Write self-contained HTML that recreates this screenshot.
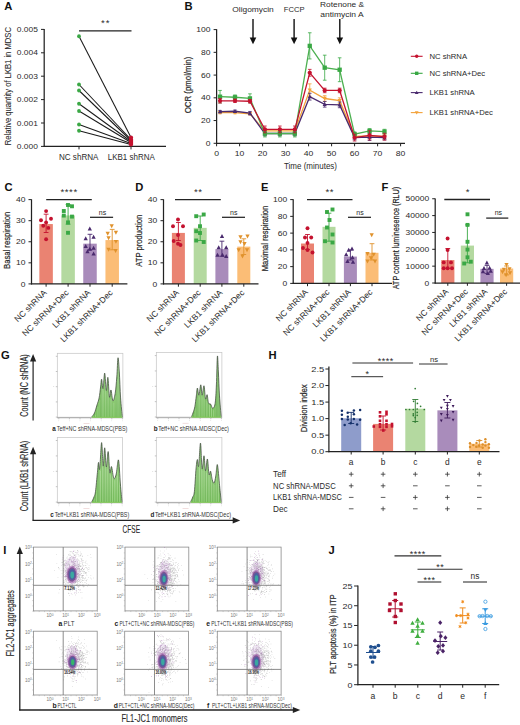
<!DOCTYPE html>
<html><head><meta charset="utf-8"><style>
html,body{margin:0;padding:0;background:#fff;}
body{width:520px;height:725px;overflow:hidden;}
svg{display:block;font-family:"Liberation Sans", sans-serif;}
</style></head><body>
<svg width="520" height="725" viewBox="0 0 520 725" fill="#2a2a2a">
<defs>
<linearGradient id="hg" x1="0" y1="0" x2="0" y2="1"><stop offset="0" stop-color="#b4dfa0"/><stop offset="0.6" stop-color="#9dd584"/><stop offset="1" stop-color="#84c968"/></linearGradient>
<pattern id="hs" width="2.2" height="10" patternUnits="userSpaceOnUse"><rect width="1.1" height="10" fill="#ffffff" fill-opacity="0.28"/></pattern>
<radialGradient id="blob" cx="0.5" cy="0.5" r="0.5"><stop offset="0" stop-color="#2fb8a0"/><stop offset="0.45" stop-color="#3a8fb0"/><stop offset="0.75" stop-color="#6b4fa8"/><stop offset="1" stop-color="#b04fa0" stop-opacity="0.3"/></radialGradient>
</defs>
<text x="4.3" y="10.1" font-size="11.2" font-weight="bold" fill="#111">A</text>
<line x1="44.2" y1="29" x2="44.2" y2="146.9" stroke="#222" stroke-width="1.25"/>
<line x1="43.7" y1="146.4" x2="166" y2="146.4" stroke="#222" stroke-width="1.25"/>
<line x1="41" y1="146.4" x2="44.2" y2="146.4" stroke="#222" stroke-width="1"/>
<text x="37.85" y="149.08" font-size="7.6" text-anchor="end" textLength="21.11" lengthAdjust="spacingAndGlyphs">0.000</text>
<line x1="41" y1="123" x2="44.2" y2="123" stroke="#222" stroke-width="1"/>
<text x="37.85" y="125.68" font-size="7.6" text-anchor="end" textLength="21.11" lengthAdjust="spacingAndGlyphs">0.001</text>
<line x1="41" y1="99.6" x2="44.2" y2="99.6" stroke="#222" stroke-width="1"/>
<text x="37.85" y="102.28" font-size="7.6" text-anchor="end" textLength="21.11" lengthAdjust="spacingAndGlyphs">0.002</text>
<line x1="41" y1="76.2" x2="44.2" y2="76.2" stroke="#222" stroke-width="1"/>
<text x="37.85" y="78.88" font-size="7.6" text-anchor="end" textLength="21.11" lengthAdjust="spacingAndGlyphs">0.003</text>
<line x1="41" y1="52.8" x2="44.2" y2="52.8" stroke="#222" stroke-width="1"/>
<text x="37.85" y="55.48" font-size="7.6" text-anchor="end" textLength="21.11" lengthAdjust="spacingAndGlyphs">0.004</text>
<line x1="41" y1="29.4" x2="44.2" y2="29.4" stroke="#222" stroke-width="1"/>
<text x="37.85" y="32.08" font-size="7.6" text-anchor="end" textLength="21.11" lengthAdjust="spacingAndGlyphs">0.005</text>
<line x1="79" y1="146.4" x2="79" y2="149.4" stroke="#222" stroke-width="1"/>
<line x1="131" y1="146.4" x2="131" y2="149.4" stroke="#222" stroke-width="1"/>
<text x="78.7" y="160.4" font-size="8.6" text-anchor="middle" textLength="39.5" lengthAdjust="spacingAndGlyphs">NC shRNA</text>
<text x="131.3" y="160.4" font-size="8.6" text-anchor="middle" textLength="47" lengthAdjust="spacingAndGlyphs">LKB1 shRNA</text>
<text transform="translate(11.3 86.2) rotate(-90)" font-size="9.6" stroke="#2a2a2a" stroke-width="0.08" text-anchor="middle" textLength="118.2" lengthAdjust="spacingAndGlyphs">Relative quantity of LKB1 in MDSC</text>
<line x1="79" y1="36.25" x2="131" y2="137.5" stroke="#1a1a1a" stroke-width="1.05"/>
<line x1="79" y1="84.5" x2="131" y2="139.5" stroke="#1a1a1a" stroke-width="1.05"/>
<line x1="79" y1="90.5" x2="131" y2="140.5" stroke="#1a1a1a" stroke-width="1.05"/>
<line x1="79" y1="103.75" x2="131" y2="141.5" stroke="#1a1a1a" stroke-width="1.05"/>
<line x1="79" y1="111" x2="131" y2="142.5" stroke="#1a1a1a" stroke-width="1.05"/>
<line x1="79" y1="124.5" x2="131" y2="143.5" stroke="#1a1a1a" stroke-width="1.05"/>
<line x1="79" y1="130.75" x2="131" y2="144.5" stroke="#1a1a1a" stroke-width="1.05"/>
<circle cx="79" cy="36.25" r="1.9" fill="#3aa845"/>
<circle cx="79" cy="84.5" r="1.9" fill="#3aa845"/>
<circle cx="79" cy="90.5" r="1.9" fill="#3aa845"/>
<circle cx="79" cy="103.75" r="1.9" fill="#3aa845"/>
<circle cx="79" cy="111" r="1.9" fill="#3aa845"/>
<circle cx="79" cy="124.5" r="1.9" fill="#3aa845"/>
<circle cx="79" cy="130.75" r="1.9" fill="#3aa845"/>
<circle cx="131" cy="137.5" r="2.1" fill="#c4122f"/>
<circle cx="131" cy="139.5" r="2.1" fill="#c4122f"/>
<circle cx="131" cy="140.5" r="2.1" fill="#c4122f"/>
<circle cx="131" cy="141.5" r="2.1" fill="#c4122f"/>
<circle cx="131" cy="142.5" r="2.1" fill="#c4122f"/>
<circle cx="131" cy="143.5" r="2.1" fill="#c4122f"/>
<circle cx="131" cy="144.5" r="2.1" fill="#c4122f"/>
<line x1="79" y1="30.8" x2="131.5" y2="30.8" stroke="#222" stroke-width="1.25"/>
<text x="105.7" y="26.32" font-size="9.6" text-anchor="middle" letter-spacing="1">**</text>
<text x="184.6" y="9.6" font-size="11.2" font-weight="bold" fill="#111">B</text>
<line x1="216.6" y1="29.2" x2="216.6" y2="143.8" stroke="#222" stroke-width="1.25"/>
<line x1="216.1" y1="143.3" x2="405" y2="143.3" stroke="#222" stroke-width="1.25"/>
<line x1="213.6" y1="143.3" x2="216.6" y2="143.3" stroke="#222" stroke-width="1"/>
<text x="210.45" y="145.9" font-size="7.4" text-anchor="end" textLength="4.73" lengthAdjust="spacingAndGlyphs">0</text>
<line x1="213.6" y1="120.56" x2="216.6" y2="120.56" stroke="#222" stroke-width="1"/>
<text x="210.45" y="123.16" font-size="7.4" text-anchor="end" textLength="9.47" lengthAdjust="spacingAndGlyphs">20</text>
<line x1="213.6" y1="97.82" x2="216.6" y2="97.82" stroke="#222" stroke-width="1"/>
<text x="210.45" y="100.42" font-size="7.4" text-anchor="end" textLength="9.47" lengthAdjust="spacingAndGlyphs">40</text>
<line x1="213.6" y1="75.08" x2="216.6" y2="75.08" stroke="#222" stroke-width="1"/>
<text x="210.45" y="77.68" font-size="7.4" text-anchor="end" textLength="9.47" lengthAdjust="spacingAndGlyphs">60</text>
<line x1="213.6" y1="52.34" x2="216.6" y2="52.34" stroke="#222" stroke-width="1"/>
<text x="210.45" y="54.94" font-size="7.4" text-anchor="end" textLength="9.47" lengthAdjust="spacingAndGlyphs">80</text>
<line x1="213.6" y1="29.6" x2="216.6" y2="29.6" stroke="#222" stroke-width="1"/>
<text x="210.45" y="32.2" font-size="7.4" text-anchor="end" textLength="14.2" lengthAdjust="spacingAndGlyphs">100</text>
<line x1="216.6" y1="143.3" x2="216.6" y2="146.3" stroke="#222" stroke-width="1"/>
<text x="216.6" y="156.3" font-size="8" text-anchor="middle" textLength="4.81" lengthAdjust="spacingAndGlyphs">0</text>
<line x1="239.6" y1="143.3" x2="239.6" y2="146.3" stroke="#222" stroke-width="1"/>
<text x="239.6" y="156.3" font-size="8" text-anchor="middle" textLength="9.61" lengthAdjust="spacingAndGlyphs">10</text>
<line x1="262.6" y1="143.3" x2="262.6" y2="146.3" stroke="#222" stroke-width="1"/>
<text x="262.6" y="156.3" font-size="8" text-anchor="middle" textLength="9.61" lengthAdjust="spacingAndGlyphs">20</text>
<line x1="285.6" y1="143.3" x2="285.6" y2="146.3" stroke="#222" stroke-width="1"/>
<text x="285.6" y="156.3" font-size="8" text-anchor="middle" textLength="9.61" lengthAdjust="spacingAndGlyphs">30</text>
<line x1="308.6" y1="143.3" x2="308.6" y2="146.3" stroke="#222" stroke-width="1"/>
<text x="308.6" y="156.3" font-size="8" text-anchor="middle" textLength="9.61" lengthAdjust="spacingAndGlyphs">40</text>
<line x1="331.6" y1="143.3" x2="331.6" y2="146.3" stroke="#222" stroke-width="1"/>
<text x="331.6" y="156.3" font-size="8" text-anchor="middle" textLength="9.61" lengthAdjust="spacingAndGlyphs">50</text>
<line x1="354.6" y1="143.3" x2="354.6" y2="146.3" stroke="#222" stroke-width="1"/>
<text x="354.6" y="156.3" font-size="8" text-anchor="middle" textLength="9.61" lengthAdjust="spacingAndGlyphs">60</text>
<line x1="377.6" y1="143.3" x2="377.6" y2="146.3" stroke="#222" stroke-width="1"/>
<text x="377.6" y="156.3" font-size="8" text-anchor="middle" textLength="9.61" lengthAdjust="spacingAndGlyphs">70</text>
<line x1="400.6" y1="143.3" x2="400.6" y2="146.3" stroke="#222" stroke-width="1"/>
<text x="400.6" y="156.3" font-size="8" text-anchor="middle" textLength="9.61" lengthAdjust="spacingAndGlyphs">80</text>
<text x="310.5" y="169" font-size="8.2" text-anchor="middle" textLength="53" lengthAdjust="spacingAndGlyphs">Time (minutes)</text>
<text transform="translate(190.6 85) rotate(-90)" font-size="9.6" stroke="#2a2a2a" stroke-width="0.22" text-anchor="middle" textLength="56.5" lengthAdjust="spacingAndGlyphs">OCR (pmol/min)</text>
<text x="253" y="12" font-size="8" text-anchor="middle" textLength="41.5" lengthAdjust="spacingAndGlyphs">Oligomycin</text>
<text x="294.1" y="12" font-size="8" text-anchor="middle" textLength="20.7" lengthAdjust="spacingAndGlyphs">FCCP</text>
<text x="342.1" y="6.9" font-size="8" text-anchor="middle" textLength="44" lengthAdjust="spacingAndGlyphs">Rotenone &amp;</text>
<text x="341.9" y="16.5" font-size="8" text-anchor="middle" textLength="43.3" lengthAdjust="spacingAndGlyphs">antimycin A</text>
<line x1="253" y1="19" x2="253" y2="39" stroke="#111" stroke-width="1.4"/>
<path d="M253 44.2L256.3 37.6L249.7 37.6Z" fill="#111"/>
<line x1="294.1" y1="19" x2="294.1" y2="39" stroke="#111" stroke-width="1.4"/>
<path d="M294.1 44.2L297.4 37.6L290.8 37.6Z" fill="#111"/>
<line x1="339.8" y1="19" x2="339.8" y2="39" stroke="#111" stroke-width="1.4"/>
<path d="M339.8 44.2L343.1 37.6L336.5 37.6Z" fill="#111"/>
<polyline points="220.05,112.6 235,112.6 249.95,113.74 264.9,130.91 279.85,130.91 294.8,130.91 309.75,90.09 324.7,98.5 339.65,100.66 354.6,136.48 369.55,135.91 384.5,136.48" fill="none" stroke="#f3a23a" stroke-width="1.3"/>
<line x1="220.05" y1="113.74" x2="220.05" y2="111.46" stroke="#f3a23a" stroke-width="0.8"/>
<line x1="218.25" y1="111.46" x2="221.85" y2="111.46" stroke="#f3a23a" stroke-width="0.8"/>
<line x1="218.25" y1="113.74" x2="221.85" y2="113.74" stroke="#f3a23a" stroke-width="0.8"/>
<path d="M220.05 114.79L222.14 110.96L217.96 110.96Z" fill="#f3a23a"/>
<line x1="235" y1="113.74" x2="235" y2="111.46" stroke="#f3a23a" stroke-width="0.8"/>
<line x1="233.2" y1="111.46" x2="236.8" y2="111.46" stroke="#f3a23a" stroke-width="0.8"/>
<line x1="233.2" y1="113.74" x2="236.8" y2="113.74" stroke="#f3a23a" stroke-width="0.8"/>
<path d="M235 114.79L237.09 110.96L232.91 110.96Z" fill="#f3a23a"/>
<line x1="249.95" y1="114.88" x2="249.95" y2="112.6" stroke="#f3a23a" stroke-width="0.8"/>
<line x1="248.15" y1="112.6" x2="251.75" y2="112.6" stroke="#f3a23a" stroke-width="0.8"/>
<line x1="248.15" y1="114.88" x2="251.75" y2="114.88" stroke="#f3a23a" stroke-width="0.8"/>
<path d="M249.95 115.92L252.04 112.1L247.86 112.1Z" fill="#f3a23a"/>
<line x1="264.9" y1="133.18" x2="264.9" y2="128.63" stroke="#f3a23a" stroke-width="0.8"/>
<line x1="263.1" y1="128.63" x2="266.7" y2="128.63" stroke="#f3a23a" stroke-width="0.8"/>
<line x1="263.1" y1="133.18" x2="266.7" y2="133.18" stroke="#f3a23a" stroke-width="0.8"/>
<path d="M264.9 133.09L266.99 129.27L262.81 129.27Z" fill="#f3a23a"/>
<line x1="279.85" y1="133.18" x2="279.85" y2="128.63" stroke="#f3a23a" stroke-width="0.8"/>
<line x1="278.05" y1="128.63" x2="281.65" y2="128.63" stroke="#f3a23a" stroke-width="0.8"/>
<line x1="278.05" y1="133.18" x2="281.65" y2="133.18" stroke="#f3a23a" stroke-width="0.8"/>
<path d="M279.85 133.09L281.94 129.27L277.76 129.27Z" fill="#f3a23a"/>
<line x1="294.8" y1="133.18" x2="294.8" y2="128.63" stroke="#f3a23a" stroke-width="0.8"/>
<line x1="293" y1="128.63" x2="296.6" y2="128.63" stroke="#f3a23a" stroke-width="0.8"/>
<line x1="293" y1="133.18" x2="296.6" y2="133.18" stroke="#f3a23a" stroke-width="0.8"/>
<path d="M294.8 133.09L296.89 129.27L292.71 129.27Z" fill="#f3a23a"/>
<line x1="309.75" y1="96.34" x2="309.75" y2="83.83" stroke="#f3a23a" stroke-width="0.8"/>
<line x1="307.95" y1="83.83" x2="311.55" y2="83.83" stroke="#f3a23a" stroke-width="0.8"/>
<line x1="307.95" y1="96.34" x2="311.55" y2="96.34" stroke="#f3a23a" stroke-width="0.8"/>
<path d="M309.75 92.27L311.84 88.45L307.66 88.45Z" fill="#f3a23a"/>
<line x1="324.7" y1="101.34" x2="324.7" y2="95.66" stroke="#f3a23a" stroke-width="0.8"/>
<line x1="322.9" y1="95.66" x2="326.5" y2="95.66" stroke="#f3a23a" stroke-width="0.8"/>
<line x1="322.9" y1="101.34" x2="326.5" y2="101.34" stroke="#f3a23a" stroke-width="0.8"/>
<path d="M324.7 100.69L326.79 96.86L322.61 96.86Z" fill="#f3a23a"/>
<line x1="339.65" y1="103.5" x2="339.65" y2="97.82" stroke="#f3a23a" stroke-width="0.8"/>
<line x1="337.85" y1="97.82" x2="341.45" y2="97.82" stroke="#f3a23a" stroke-width="0.8"/>
<line x1="337.85" y1="103.5" x2="341.45" y2="103.5" stroke="#f3a23a" stroke-width="0.8"/>
<path d="M339.65 102.85L341.74 99.02L337.56 99.02Z" fill="#f3a23a"/>
<line x1="354.6" y1="138.75" x2="354.6" y2="134.2" stroke="#f3a23a" stroke-width="0.8"/>
<line x1="352.8" y1="134.2" x2="356.4" y2="134.2" stroke="#f3a23a" stroke-width="0.8"/>
<line x1="352.8" y1="138.75" x2="356.4" y2="138.75" stroke="#f3a23a" stroke-width="0.8"/>
<path d="M354.6 138.66L356.69 134.84L352.51 134.84Z" fill="#f3a23a"/>
<line x1="369.55" y1="138.18" x2="369.55" y2="133.64" stroke="#f3a23a" stroke-width="0.8"/>
<line x1="367.75" y1="133.64" x2="371.35" y2="133.64" stroke="#f3a23a" stroke-width="0.8"/>
<line x1="367.75" y1="138.18" x2="371.35" y2="138.18" stroke="#f3a23a" stroke-width="0.8"/>
<path d="M369.55 138.09L371.64 134.27L367.46 134.27Z" fill="#f3a23a"/>
<line x1="384.5" y1="138.75" x2="384.5" y2="134.2" stroke="#f3a23a" stroke-width="0.8"/>
<line x1="382.7" y1="134.2" x2="386.3" y2="134.2" stroke="#f3a23a" stroke-width="0.8"/>
<line x1="382.7" y1="138.75" x2="386.3" y2="138.75" stroke="#f3a23a" stroke-width="0.8"/>
<path d="M384.5 138.66L386.59 134.84L382.41 134.84Z" fill="#f3a23a"/>
<polyline points="220.05,111.58 235,111.24 249.95,113.17 264.9,133.52 279.85,133.52 294.8,133.52 309.75,96.68 324.7,104.3 339.65,104.87 354.6,137.62 369.55,137.05 384.5,137.62" fill="none" stroke="#4a2a6e" stroke-width="1.3"/>
<line x1="220.05" y1="112.71" x2="220.05" y2="110.44" stroke="#4a2a6e" stroke-width="0.8"/>
<line x1="218.25" y1="110.44" x2="221.85" y2="110.44" stroke="#4a2a6e" stroke-width="0.8"/>
<line x1="218.25" y1="112.71" x2="221.85" y2="112.71" stroke="#4a2a6e" stroke-width="0.8"/>
<path d="M220.05 109.39L222.14 113.22L217.96 113.22Z" fill="#4a2a6e"/>
<line x1="235" y1="112.37" x2="235" y2="110.1" stroke="#4a2a6e" stroke-width="0.8"/>
<line x1="233.2" y1="110.1" x2="236.8" y2="110.1" stroke="#4a2a6e" stroke-width="0.8"/>
<line x1="233.2" y1="112.37" x2="236.8" y2="112.37" stroke="#4a2a6e" stroke-width="0.8"/>
<path d="M235 109.05L237.09 112.88L232.91 112.88Z" fill="#4a2a6e"/>
<line x1="249.95" y1="114.88" x2="249.95" y2="111.46" stroke="#4a2a6e" stroke-width="0.8"/>
<line x1="248.15" y1="111.46" x2="251.75" y2="111.46" stroke="#4a2a6e" stroke-width="0.8"/>
<line x1="248.15" y1="114.88" x2="251.75" y2="114.88" stroke="#4a2a6e" stroke-width="0.8"/>
<path d="M249.95 110.98L252.04 114.81L247.86 114.81Z" fill="#4a2a6e"/>
<line x1="264.9" y1="135.8" x2="264.9" y2="131.25" stroke="#4a2a6e" stroke-width="0.8"/>
<line x1="263.1" y1="131.25" x2="266.7" y2="131.25" stroke="#4a2a6e" stroke-width="0.8"/>
<line x1="263.1" y1="135.8" x2="266.7" y2="135.8" stroke="#4a2a6e" stroke-width="0.8"/>
<path d="M264.9 131.34L266.99 135.16L262.81 135.16Z" fill="#4a2a6e"/>
<line x1="279.85" y1="135.8" x2="279.85" y2="131.25" stroke="#4a2a6e" stroke-width="0.8"/>
<line x1="278.05" y1="131.25" x2="281.65" y2="131.25" stroke="#4a2a6e" stroke-width="0.8"/>
<line x1="278.05" y1="135.8" x2="281.65" y2="135.8" stroke="#4a2a6e" stroke-width="0.8"/>
<path d="M279.85 131.34L281.94 135.16L277.76 135.16Z" fill="#4a2a6e"/>
<line x1="294.8" y1="135.8" x2="294.8" y2="131.25" stroke="#4a2a6e" stroke-width="0.8"/>
<line x1="293" y1="131.25" x2="296.6" y2="131.25" stroke="#4a2a6e" stroke-width="0.8"/>
<line x1="293" y1="135.8" x2="296.6" y2="135.8" stroke="#4a2a6e" stroke-width="0.8"/>
<path d="M294.8 131.34L296.89 135.16L292.71 135.16Z" fill="#4a2a6e"/>
<line x1="309.75" y1="100.09" x2="309.75" y2="93.27" stroke="#4a2a6e" stroke-width="0.8"/>
<line x1="307.95" y1="93.27" x2="311.55" y2="93.27" stroke="#4a2a6e" stroke-width="0.8"/>
<line x1="307.95" y1="100.09" x2="311.55" y2="100.09" stroke="#4a2a6e" stroke-width="0.8"/>
<path d="M309.75 94.5L311.84 98.32L307.66 98.32Z" fill="#4a2a6e"/>
<line x1="324.7" y1="107.14" x2="324.7" y2="101.46" stroke="#4a2a6e" stroke-width="0.8"/>
<line x1="322.9" y1="101.46" x2="326.5" y2="101.46" stroke="#4a2a6e" stroke-width="0.8"/>
<line x1="322.9" y1="107.14" x2="326.5" y2="107.14" stroke="#4a2a6e" stroke-width="0.8"/>
<path d="M324.7 102.12L326.79 105.94L322.61 105.94Z" fill="#4a2a6e"/>
<line x1="339.65" y1="107.71" x2="339.65" y2="102.03" stroke="#4a2a6e" stroke-width="0.8"/>
<line x1="337.85" y1="102.03" x2="341.45" y2="102.03" stroke="#4a2a6e" stroke-width="0.8"/>
<line x1="337.85" y1="107.71" x2="341.45" y2="107.71" stroke="#4a2a6e" stroke-width="0.8"/>
<path d="M339.65 102.68L341.74 106.51L337.56 106.51Z" fill="#4a2a6e"/>
<line x1="354.6" y1="139.89" x2="354.6" y2="135.34" stroke="#4a2a6e" stroke-width="0.8"/>
<line x1="352.8" y1="135.34" x2="356.4" y2="135.34" stroke="#4a2a6e" stroke-width="0.8"/>
<line x1="352.8" y1="139.89" x2="356.4" y2="139.89" stroke="#4a2a6e" stroke-width="0.8"/>
<path d="M354.6 135.43L356.69 139.25L352.51 139.25Z" fill="#4a2a6e"/>
<line x1="369.55" y1="140.46" x2="369.55" y2="133.64" stroke="#4a2a6e" stroke-width="0.8"/>
<line x1="367.75" y1="133.64" x2="371.35" y2="133.64" stroke="#4a2a6e" stroke-width="0.8"/>
<line x1="367.75" y1="140.46" x2="371.35" y2="140.46" stroke="#4a2a6e" stroke-width="0.8"/>
<path d="M369.55 134.86L371.64 138.69L367.46 138.69Z" fill="#4a2a6e"/>
<line x1="384.5" y1="139.89" x2="384.5" y2="135.34" stroke="#4a2a6e" stroke-width="0.8"/>
<line x1="382.7" y1="135.34" x2="386.3" y2="135.34" stroke="#4a2a6e" stroke-width="0.8"/>
<line x1="382.7" y1="139.89" x2="386.3" y2="139.89" stroke="#4a2a6e" stroke-width="0.8"/>
<path d="M384.5 135.43L386.59 139.25L382.41 139.25Z" fill="#4a2a6e"/>
<polyline points="220.05,96.68 235,97.25 249.95,98.39 264.9,133.52 279.85,133.52 294.8,133.52 309.75,45.86 324.7,67.69 339.65,69.74 354.6,134.2 369.55,130.91 384.5,131.59" fill="none" stroke="#4cb050" stroke-width="1.3"/>
<line x1="220.05" y1="102.94" x2="220.05" y2="90.43" stroke="#39a844" stroke-width="0.8"/>
<line x1="218.25" y1="90.43" x2="221.85" y2="90.43" stroke="#39a844" stroke-width="0.8"/>
<line x1="218.25" y1="102.94" x2="221.85" y2="102.94" stroke="#39a844" stroke-width="0.8"/>
<rect x="217.9" y="94.53" width="4.3" height="4.3" fill="#39a844"/>
<line x1="235" y1="99.53" x2="235" y2="94.98" stroke="#39a844" stroke-width="0.8"/>
<line x1="233.2" y1="94.98" x2="236.8" y2="94.98" stroke="#39a844" stroke-width="0.8"/>
<line x1="233.2" y1="99.53" x2="236.8" y2="99.53" stroke="#39a844" stroke-width="0.8"/>
<rect x="232.85" y="95.1" width="4.3" height="4.3" fill="#39a844"/>
<line x1="249.95" y1="102.94" x2="249.95" y2="93.84" stroke="#39a844" stroke-width="0.8"/>
<line x1="248.15" y1="93.84" x2="251.75" y2="93.84" stroke="#39a844" stroke-width="0.8"/>
<line x1="248.15" y1="102.94" x2="251.75" y2="102.94" stroke="#39a844" stroke-width="0.8"/>
<rect x="247.8" y="96.24" width="4.3" height="4.3" fill="#39a844"/>
<line x1="264.9" y1="136.93" x2="264.9" y2="130.11" stroke="#39a844" stroke-width="0.8"/>
<line x1="263.1" y1="130.11" x2="266.7" y2="130.11" stroke="#39a844" stroke-width="0.8"/>
<line x1="263.1" y1="136.93" x2="266.7" y2="136.93" stroke="#39a844" stroke-width="0.8"/>
<rect x="262.75" y="131.37" width="4.3" height="4.3" fill="#39a844"/>
<line x1="279.85" y1="136.93" x2="279.85" y2="130.11" stroke="#39a844" stroke-width="0.8"/>
<line x1="278.05" y1="130.11" x2="281.65" y2="130.11" stroke="#39a844" stroke-width="0.8"/>
<line x1="278.05" y1="136.93" x2="281.65" y2="136.93" stroke="#39a844" stroke-width="0.8"/>
<rect x="277.7" y="131.37" width="4.3" height="4.3" fill="#39a844"/>
<line x1="294.8" y1="136.93" x2="294.8" y2="130.11" stroke="#39a844" stroke-width="0.8"/>
<line x1="293" y1="130.11" x2="296.6" y2="130.11" stroke="#39a844" stroke-width="0.8"/>
<line x1="293" y1="136.93" x2="296.6" y2="136.93" stroke="#39a844" stroke-width="0.8"/>
<rect x="292.65" y="131.37" width="4.3" height="4.3" fill="#39a844"/>
<line x1="309.75" y1="58.93" x2="309.75" y2="32.78" stroke="#39a844" stroke-width="0.8"/>
<line x1="307.95" y1="32.78" x2="311.55" y2="32.78" stroke="#39a844" stroke-width="0.8"/>
<line x1="307.95" y1="58.93" x2="311.55" y2="58.93" stroke="#39a844" stroke-width="0.8"/>
<rect x="307.6" y="43.71" width="4.3" height="4.3" fill="#39a844"/>
<line x1="324.7" y1="80.2" x2="324.7" y2="55.18" stroke="#39a844" stroke-width="0.8"/>
<line x1="322.9" y1="55.18" x2="326.5" y2="55.18" stroke="#39a844" stroke-width="0.8"/>
<line x1="322.9" y1="80.2" x2="326.5" y2="80.2" stroke="#39a844" stroke-width="0.8"/>
<rect x="322.55" y="65.54" width="4.3" height="4.3" fill="#39a844"/>
<line x1="339.65" y1="81.67" x2="339.65" y2="57.8" stroke="#39a844" stroke-width="0.8"/>
<line x1="337.85" y1="57.8" x2="341.45" y2="57.8" stroke="#39a844" stroke-width="0.8"/>
<line x1="337.85" y1="81.67" x2="341.45" y2="81.67" stroke="#39a844" stroke-width="0.8"/>
<rect x="337.5" y="67.59" width="4.3" height="4.3" fill="#39a844"/>
<line x1="354.6" y1="136.48" x2="354.6" y2="131.93" stroke="#39a844" stroke-width="0.8"/>
<line x1="352.8" y1="131.93" x2="356.4" y2="131.93" stroke="#39a844" stroke-width="0.8"/>
<line x1="352.8" y1="136.48" x2="356.4" y2="136.48" stroke="#39a844" stroke-width="0.8"/>
<rect x="352.45" y="132.05" width="4.3" height="4.3" fill="#39a844"/>
<line x1="369.55" y1="133.18" x2="369.55" y2="128.63" stroke="#39a844" stroke-width="0.8"/>
<line x1="367.75" y1="128.63" x2="371.35" y2="128.63" stroke="#39a844" stroke-width="0.8"/>
<line x1="367.75" y1="133.18" x2="371.35" y2="133.18" stroke="#39a844" stroke-width="0.8"/>
<rect x="367.4" y="128.76" width="4.3" height="4.3" fill="#39a844"/>
<line x1="384.5" y1="133.86" x2="384.5" y2="129.31" stroke="#39a844" stroke-width="0.8"/>
<line x1="382.7" y1="129.31" x2="386.3" y2="129.31" stroke="#39a844" stroke-width="0.8"/>
<line x1="382.7" y1="133.86" x2="386.3" y2="133.86" stroke="#39a844" stroke-width="0.8"/>
<rect x="382.35" y="129.44" width="4.3" height="4.3" fill="#39a844"/>
<polyline points="220.05,100.78 235,100.78 249.95,101.23 264.9,129.43 279.85,129.43 294.8,129.43 309.75,72.81 324.7,90.43 339.65,90.43 354.6,137.62 369.55,135.34 384.5,136.71" fill="none" stroke="#c4122f" stroke-width="1.3"/>
<line x1="220.05" y1="103.05" x2="220.05" y2="98.5" stroke="#c4122f" stroke-width="0.8"/>
<line x1="218.25" y1="98.5" x2="221.85" y2="98.5" stroke="#c4122f" stroke-width="0.8"/>
<line x1="218.25" y1="103.05" x2="221.85" y2="103.05" stroke="#c4122f" stroke-width="0.8"/>
<circle cx="220.05" cy="100.78" r="2.15" fill="#c4122f"/>
<line x1="235" y1="102.48" x2="235" y2="99.07" stroke="#c4122f" stroke-width="0.8"/>
<line x1="233.2" y1="99.07" x2="236.8" y2="99.07" stroke="#c4122f" stroke-width="0.8"/>
<line x1="233.2" y1="102.48" x2="236.8" y2="102.48" stroke="#c4122f" stroke-width="0.8"/>
<circle cx="235" cy="100.78" r="2.15" fill="#c4122f"/>
<line x1="249.95" y1="102.94" x2="249.95" y2="99.53" stroke="#c4122f" stroke-width="0.8"/>
<line x1="248.15" y1="99.53" x2="251.75" y2="99.53" stroke="#c4122f" stroke-width="0.8"/>
<line x1="248.15" y1="102.94" x2="251.75" y2="102.94" stroke="#c4122f" stroke-width="0.8"/>
<circle cx="249.95" cy="101.23" r="2.15" fill="#c4122f"/>
<line x1="264.9" y1="132.84" x2="264.9" y2="126.02" stroke="#c4122f" stroke-width="0.8"/>
<line x1="263.1" y1="126.02" x2="266.7" y2="126.02" stroke="#c4122f" stroke-width="0.8"/>
<line x1="263.1" y1="132.84" x2="266.7" y2="132.84" stroke="#c4122f" stroke-width="0.8"/>
<circle cx="264.9" cy="129.43" r="2.15" fill="#c4122f"/>
<line x1="279.85" y1="132.84" x2="279.85" y2="126.02" stroke="#c4122f" stroke-width="0.8"/>
<line x1="278.05" y1="126.02" x2="281.65" y2="126.02" stroke="#c4122f" stroke-width="0.8"/>
<line x1="278.05" y1="132.84" x2="281.65" y2="132.84" stroke="#c4122f" stroke-width="0.8"/>
<circle cx="279.85" cy="129.43" r="2.15" fill="#c4122f"/>
<line x1="294.8" y1="132.84" x2="294.8" y2="126.02" stroke="#c4122f" stroke-width="0.8"/>
<line x1="293" y1="126.02" x2="296.6" y2="126.02" stroke="#c4122f" stroke-width="0.8"/>
<line x1="293" y1="132.84" x2="296.6" y2="132.84" stroke="#c4122f" stroke-width="0.8"/>
<circle cx="294.8" cy="129.43" r="2.15" fill="#c4122f"/>
<line x1="309.75" y1="76.22" x2="309.75" y2="69.39" stroke="#c4122f" stroke-width="0.8"/>
<line x1="307.95" y1="69.39" x2="311.55" y2="69.39" stroke="#c4122f" stroke-width="0.8"/>
<line x1="307.95" y1="76.22" x2="311.55" y2="76.22" stroke="#c4122f" stroke-width="0.8"/>
<circle cx="309.75" cy="72.81" r="2.15" fill="#c4122f"/>
<line x1="324.7" y1="92.7" x2="324.7" y2="88.16" stroke="#c4122f" stroke-width="0.8"/>
<line x1="322.9" y1="88.16" x2="326.5" y2="88.16" stroke="#c4122f" stroke-width="0.8"/>
<line x1="322.9" y1="92.7" x2="326.5" y2="92.7" stroke="#c4122f" stroke-width="0.8"/>
<circle cx="324.7" cy="90.43" r="2.15" fill="#c4122f"/>
<line x1="339.65" y1="92.7" x2="339.65" y2="88.16" stroke="#c4122f" stroke-width="0.8"/>
<line x1="337.85" y1="88.16" x2="341.45" y2="88.16" stroke="#c4122f" stroke-width="0.8"/>
<line x1="337.85" y1="92.7" x2="341.45" y2="92.7" stroke="#c4122f" stroke-width="0.8"/>
<circle cx="339.65" cy="90.43" r="2.15" fill="#c4122f"/>
<line x1="354.6" y1="141.03" x2="354.6" y2="134.2" stroke="#c4122f" stroke-width="0.8"/>
<line x1="352.8" y1="134.2" x2="356.4" y2="134.2" stroke="#c4122f" stroke-width="0.8"/>
<line x1="352.8" y1="141.03" x2="356.4" y2="141.03" stroke="#c4122f" stroke-width="0.8"/>
<circle cx="354.6" cy="137.62" r="2.15" fill="#c4122f"/>
<line x1="369.55" y1="139.89" x2="369.55" y2="130.79" stroke="#c4122f" stroke-width="0.8"/>
<line x1="367.75" y1="130.79" x2="371.35" y2="130.79" stroke="#c4122f" stroke-width="0.8"/>
<line x1="367.75" y1="139.89" x2="371.35" y2="139.89" stroke="#c4122f" stroke-width="0.8"/>
<circle cx="369.55" cy="135.34" r="2.15" fill="#c4122f"/>
<line x1="384.5" y1="140.12" x2="384.5" y2="133.29" stroke="#c4122f" stroke-width="0.8"/>
<line x1="382.7" y1="133.29" x2="386.3" y2="133.29" stroke="#c4122f" stroke-width="0.8"/>
<line x1="382.7" y1="140.12" x2="386.3" y2="140.12" stroke="#c4122f" stroke-width="0.8"/>
<circle cx="384.5" cy="136.71" r="2.15" fill="#c4122f"/>
<line x1="410.8" y1="56.3" x2="422.6" y2="56.3" stroke="#c4122f" stroke-width="1.1"/>
<circle cx="416.7" cy="56.3" r="1.7" fill="#c4122f"/>
<text x="429.4" y="59.15" font-size="8.1" textLength="37.63" lengthAdjust="spacingAndGlyphs">NC shRNA</text>
<line x1="410.8" y1="73.3" x2="422.6" y2="73.3" stroke="#39a844" stroke-width="1.1"/>
<rect x="415" y="71.6" width="3.4" height="3.4" fill="#39a844"/>
<text x="429.4" y="76.15" font-size="8.1" textLength="55.8" lengthAdjust="spacingAndGlyphs">NC shRNA+Dec</text>
<line x1="410.8" y1="92.6" x2="422.6" y2="92.6" stroke="#4a2a6e" stroke-width="1.1"/>
<path d="M416.7 90.64L418.57 94.07L414.83 94.07Z" fill="#4a2a6e"/>
<text x="429.4" y="95.45" font-size="8.1" textLength="45.34" lengthAdjust="spacingAndGlyphs">LKB1 shRNA</text>
<line x1="410.8" y1="112.6" x2="422.6" y2="112.6" stroke="#f3a23a" stroke-width="1.1"/>
<path d="M416.7 114.55L418.57 111.13L414.83 111.13Z" fill="#f3a23a"/>
<text x="429.4" y="115.45" font-size="8.1" textLength="63.51" lengthAdjust="spacingAndGlyphs">LKB1 shRNA+Dec</text>
<text x="4.6" y="190.6" font-size="11.2" font-weight="bold" fill="#111">C</text>
<rect x="39.35" y="224.06" width="13.5" height="59.84" fill="#ea8372"/>
<rect x="61.35" y="215.42" width="13.5" height="68.48" fill="#b4d9a0"/>
<rect x="83.25" y="243.66" width="13.5" height="40.24" fill="#a98cbb"/>
<rect x="105.45" y="240.07" width="13.5" height="43.83" fill="#fbbd76"/>
<line x1="31.5" y1="199.32" x2="31.5" y2="284.4" stroke="#222" stroke-width="1.25"/>
<line x1="31" y1="283.9" x2="127.4" y2="283.9" stroke="#222" stroke-width="1.25"/>
<line x1="28.5" y1="283.9" x2="31.5" y2="283.9" stroke="#222" stroke-width="1"/>
<text x="25.6" y="286.5" font-size="7.4" text-anchor="end" textLength="4.73" lengthAdjust="spacingAndGlyphs">0</text>
<line x1="28.5" y1="262.83" x2="31.5" y2="262.83" stroke="#222" stroke-width="1"/>
<text x="25.6" y="265.43" font-size="7.4" text-anchor="end" textLength="9.47" lengthAdjust="spacingAndGlyphs">10</text>
<line x1="28.5" y1="241.76" x2="31.5" y2="241.76" stroke="#222" stroke-width="1"/>
<text x="25.6" y="244.36" font-size="7.4" text-anchor="end" textLength="9.47" lengthAdjust="spacingAndGlyphs">20</text>
<line x1="28.5" y1="220.69" x2="31.5" y2="220.69" stroke="#222" stroke-width="1"/>
<text x="25.6" y="223.29" font-size="7.4" text-anchor="end" textLength="9.47" lengthAdjust="spacingAndGlyphs">30</text>
<line x1="28.5" y1="199.62" x2="31.5" y2="199.62" stroke="#222" stroke-width="1"/>
<text x="25.6" y="202.22" font-size="7.4" text-anchor="end" textLength="9.47" lengthAdjust="spacingAndGlyphs">40</text>
<line x1="46.1" y1="283.9" x2="46.1" y2="286.7" stroke="#222" stroke-width="1"/>
<line x1="68.1" y1="283.9" x2="68.1" y2="286.7" stroke="#222" stroke-width="1"/>
<line x1="90" y1="283.9" x2="90" y2="286.7" stroke="#222" stroke-width="1"/>
<line x1="112.2" y1="283.9" x2="112.2" y2="286.7" stroke="#222" stroke-width="1"/>
<line x1="46.1" y1="214.2" x2="46.1" y2="232.5" stroke="#c4122f" stroke-width="0.9"/>
<line x1="43.7" y1="214.2" x2="48.5" y2="214.2" stroke="#c4122f" stroke-width="0.9"/>
<line x1="43.7" y1="232.5" x2="48.5" y2="232.5" stroke="#c4122f" stroke-width="0.9"/>
<line x1="68.1" y1="204.5" x2="68.1" y2="224.2" stroke="#3aa845" stroke-width="0.9"/>
<line x1="65.7" y1="204.5" x2="70.5" y2="204.5" stroke="#3aa845" stroke-width="0.9"/>
<line x1="65.7" y1="224.2" x2="70.5" y2="224.2" stroke="#3aa845" stroke-width="0.9"/>
<line x1="90" y1="234.3" x2="90" y2="249.8" stroke="#4a2a6e" stroke-width="0.9"/>
<line x1="87.6" y1="234.3" x2="92.4" y2="234.3" stroke="#4a2a6e" stroke-width="0.9"/>
<line x1="87.6" y1="249.8" x2="92.4" y2="249.8" stroke="#4a2a6e" stroke-width="0.9"/>
<line x1="112.2" y1="229.4" x2="112.2" y2="249.8" stroke="#e0922c" stroke-width="0.9"/>
<line x1="109.8" y1="229.4" x2="114.6" y2="229.4" stroke="#e0922c" stroke-width="0.9"/>
<line x1="109.8" y1="249.8" x2="114.6" y2="249.8" stroke="#e0922c" stroke-width="0.9"/>
<circle cx="46.1" cy="211.1" r="1.95" fill="#c4122f"/>
<circle cx="41" cy="220.2" r="1.95" fill="#c4122f"/>
<circle cx="51" cy="218.8" r="1.95" fill="#c4122f"/>
<circle cx="46.1" cy="222.4" r="1.95" fill="#c4122f"/>
<circle cx="43.3" cy="225.7" r="1.95" fill="#c4122f"/>
<circle cx="48.3" cy="227.9" r="1.95" fill="#c4122f"/>
<circle cx="46.1" cy="239.2" r="1.95" fill="#c4122f"/>
<rect x="66.05" y="203.05" width="3.9" height="3.9" fill="#3aa845"/>
<rect x="70.05" y="204.35" width="3.9" height="3.9" fill="#3aa845"/>
<rect x="61.85" y="209.05" width="3.9" height="3.9" fill="#3aa845"/>
<rect x="61.85" y="213.65" width="3.9" height="3.9" fill="#3aa845"/>
<rect x="70.05" y="214.65" width="3.9" height="3.9" fill="#3aa845"/>
<rect x="66.05" y="220.45" width="3.9" height="3.9" fill="#3aa845"/>
<rect x="66.05" y="230.85" width="3.9" height="3.9" fill="#3aa845"/>
<path d="M89.8 226.56L91.94 230.48L87.66 230.48Z" fill="#4a2a6e"/>
<path d="M85.7 236.26L87.84 240.18L83.56 240.18Z" fill="#4a2a6e"/>
<path d="M93.6 234.76L95.74 238.68L91.45 238.68Z" fill="#4a2a6e"/>
<path d="M85.7 243.96L87.84 247.88L83.56 247.88Z" fill="#4a2a6e"/>
<path d="M93.6 245.76L95.74 249.68L91.45 249.68Z" fill="#4a2a6e"/>
<path d="M89.8 246.76L91.94 250.68L87.66 250.68Z" fill="#4a2a6e"/>
<path d="M93.6 251.56L95.74 255.48L91.45 255.48Z" fill="#4a2a6e"/>
<path d="M87.5 249.26L89.64 253.18L85.36 253.18Z" fill="#4a2a6e"/>
<path d="M111.7 228.24L113.84 224.32L109.56 224.32Z" fill="#e0922c"/>
<path d="M107.7 235.64L109.84 231.72L105.56 231.72Z" fill="#e0922c"/>
<path d="M115.9 234.74L118.05 230.82L113.76 230.82Z" fill="#e0922c"/>
<path d="M108.6 240.24L110.74 236.32L106.45 236.32Z" fill="#e0922c"/>
<path d="M115.9 243.84L118.05 239.92L113.76 239.92Z" fill="#e0922c"/>
<path d="M108.6 251.74L110.74 247.82L106.45 247.82Z" fill="#e0922c"/>
<path d="M115.6 253.04L117.74 249.12L113.45 249.12Z" fill="#e0922c"/>
<text transform="translate(10.2 240.4) rotate(-90)" font-size="9.6" stroke="#2a2a2a" stroke-width="0.22" text-anchor="middle" textLength="57.2" lengthAdjust="spacingAndGlyphs">Basal respiration</text>
<text transform="translate(47.2 293.2) rotate(-45)" font-size="8.5" text-anchor="end">NC shRNA</text>
<text transform="translate(69.2 293.2) rotate(-45)" font-size="8.5" text-anchor="end">NC shRNA+Dec</text>
<text transform="translate(91.1 293.2) rotate(-45)" font-size="8.5" text-anchor="end">LKB1 shRNA</text>
<text transform="translate(113.3 293.2) rotate(-45)" font-size="8.5" text-anchor="end">LKB1 shRNA+Dec</text>
<text x="69.1" y="195.42" font-size="9.6" text-anchor="middle" letter-spacing="0.6">****</text>
<line x1="46.2" y1="199.5" x2="91.8" y2="199.5" stroke="#222" stroke-width="1.25"/>
<text x="102.5" y="215.16" font-size="7" text-anchor="middle">ns</text>
<line x1="90" y1="217.3" x2="113.1" y2="217.3" stroke="#222" stroke-width="1.25"/>
<text x="135.3" y="190.6" font-size="11.2" font-weight="bold" fill="#111">D</text>
<rect x="171.9" y="232.91" width="13" height="50.99" fill="#ea8372"/>
<rect x="193.7" y="227.85" width="13" height="56.05" fill="#b4d9a0"/>
<rect x="215.4" y="249.13" width="13" height="34.77" fill="#a98cbb"/>
<rect x="237.3" y="246.61" width="13" height="37.29" fill="#fbbd76"/>
<line x1="163.5" y1="199.32" x2="163.5" y2="284.4" stroke="#222" stroke-width="1.25"/>
<line x1="163" y1="283.9" x2="258.5" y2="283.9" stroke="#222" stroke-width="1.25"/>
<line x1="160.5" y1="283.9" x2="163.5" y2="283.9" stroke="#222" stroke-width="1"/>
<text x="157.3" y="286.5" font-size="7.4" text-anchor="end" textLength="4.73" lengthAdjust="spacingAndGlyphs">0</text>
<line x1="160.5" y1="262.83" x2="163.5" y2="262.83" stroke="#222" stroke-width="1"/>
<text x="157.3" y="265.43" font-size="7.4" text-anchor="end" textLength="9.47" lengthAdjust="spacingAndGlyphs">10</text>
<line x1="160.5" y1="241.76" x2="163.5" y2="241.76" stroke="#222" stroke-width="1"/>
<text x="157.3" y="244.36" font-size="7.4" text-anchor="end" textLength="9.47" lengthAdjust="spacingAndGlyphs">20</text>
<line x1="160.5" y1="220.69" x2="163.5" y2="220.69" stroke="#222" stroke-width="1"/>
<text x="157.3" y="223.29" font-size="7.4" text-anchor="end" textLength="9.47" lengthAdjust="spacingAndGlyphs">30</text>
<line x1="160.5" y1="199.62" x2="163.5" y2="199.62" stroke="#222" stroke-width="1"/>
<text x="157.3" y="202.22" font-size="7.4" text-anchor="end" textLength="9.47" lengthAdjust="spacingAndGlyphs">40</text>
<line x1="178.4" y1="283.9" x2="178.4" y2="286.7" stroke="#222" stroke-width="1"/>
<line x1="200.2" y1="283.9" x2="200.2" y2="286.7" stroke="#222" stroke-width="1"/>
<line x1="221.9" y1="283.9" x2="221.9" y2="286.7" stroke="#222" stroke-width="1"/>
<line x1="243.8" y1="283.9" x2="243.8" y2="286.7" stroke="#222" stroke-width="1"/>
<line x1="178.4" y1="222.5" x2="178.4" y2="240.5" stroke="#c4122f" stroke-width="0.9"/>
<line x1="176" y1="222.5" x2="180.8" y2="222.5" stroke="#c4122f" stroke-width="0.9"/>
<line x1="176" y1="240.5" x2="180.8" y2="240.5" stroke="#c4122f" stroke-width="0.9"/>
<line x1="200.2" y1="216" x2="200.2" y2="240.5" stroke="#3aa845" stroke-width="0.9"/>
<line x1="197.8" y1="216" x2="202.6" y2="216" stroke="#3aa845" stroke-width="0.9"/>
<line x1="197.8" y1="240.5" x2="202.6" y2="240.5" stroke="#3aa845" stroke-width="0.9"/>
<line x1="221.9" y1="241.2" x2="221.9" y2="256.2" stroke="#4a2a6e" stroke-width="0.9"/>
<line x1="219.5" y1="241.2" x2="224.3" y2="241.2" stroke="#4a2a6e" stroke-width="0.9"/>
<line x1="219.5" y1="256.2" x2="224.3" y2="256.2" stroke="#4a2a6e" stroke-width="0.9"/>
<line x1="243.8" y1="238.8" x2="243.8" y2="254.5" stroke="#e0922c" stroke-width="0.9"/>
<line x1="241.4" y1="238.8" x2="246.2" y2="238.8" stroke="#e0922c" stroke-width="0.9"/>
<line x1="241.4" y1="254.5" x2="246.2" y2="254.5" stroke="#e0922c" stroke-width="0.9"/>
<circle cx="178" cy="219.5" r="1.95" fill="#c4122f"/>
<circle cx="173" cy="226.2" r="1.95" fill="#c4122f"/>
<circle cx="183" cy="226.2" r="1.95" fill="#c4122f"/>
<circle cx="178" cy="235" r="1.95" fill="#c4122f"/>
<circle cx="173.7" cy="241" r="1.95" fill="#c4122f"/>
<circle cx="178" cy="243.7" r="1.95" fill="#c4122f"/>
<circle cx="180.5" cy="245" r="1.95" fill="#c4122f"/>
<rect x="194.25" y="214.25" width="3.9" height="3.9" fill="#3aa845"/>
<rect x="201.75" y="212.55" width="3.9" height="3.9" fill="#3aa845"/>
<rect x="198.05" y="224.25" width="3.9" height="3.9" fill="#3aa845"/>
<rect x="194.25" y="229.25" width="3.9" height="3.9" fill="#3aa845"/>
<rect x="198.05" y="231.05" width="3.9" height="3.9" fill="#3aa845"/>
<rect x="194.25" y="238.55" width="3.9" height="3.9" fill="#3aa845"/>
<rect x="201.75" y="240.05" width="3.9" height="3.9" fill="#3aa845"/>
<path d="M222 233.96L224.15 237.88L219.85 237.88Z" fill="#4a2a6e"/>
<path d="M218.7 245.26L220.84 249.18L216.55 249.18Z" fill="#4a2a6e"/>
<path d="M226.2 245.26L228.34 249.18L224.05 249.18Z" fill="#4a2a6e"/>
<path d="M217.5 252.76L219.65 256.68L215.35 256.68Z" fill="#4a2a6e"/>
<path d="M226.2 253.96L228.34 257.88L224.05 257.88Z" fill="#4a2a6e"/>
<path d="M222.5 252.76L224.65 256.68L220.35 256.68Z" fill="#4a2a6e"/>
<path d="M240.5 239.24L242.65 235.32L238.35 235.32Z" fill="#e0922c"/>
<path d="M247.5 238.44L249.65 234.52L245.35 234.52Z" fill="#e0922c"/>
<path d="M240.5 244.24L242.65 240.32L238.35 240.32Z" fill="#e0922c"/>
<path d="M244.5 245.94L246.65 242.02L242.35 242.02Z" fill="#e0922c"/>
<path d="M238.7 252.24L240.84 248.32L236.55 248.32Z" fill="#e0922c"/>
<path d="M247 252.24L249.15 248.32L244.85 248.32Z" fill="#e0922c"/>
<path d="M242.5 258.44L244.65 254.52L240.35 254.52Z" fill="#e0922c"/>
<text transform="translate(141.9 240.75) rotate(-90)" font-size="9.6" stroke="#2a2a2a" stroke-width="0.22" text-anchor="middle" textLength="51.8" lengthAdjust="spacingAndGlyphs">ATP production</text>
<text transform="translate(179.5 293.2) rotate(-45)" font-size="8.5" text-anchor="end">NC shRNA</text>
<text transform="translate(201.3 293.2) rotate(-45)" font-size="8.5" text-anchor="end">NC shRNA+Dec</text>
<text transform="translate(223 293.2) rotate(-45)" font-size="8.5" text-anchor="end">LKB1 shRNA</text>
<text transform="translate(244.9 293.2) rotate(-45)" font-size="8.5" text-anchor="end">LKB1 shRNA+Dec</text>
<text x="198.3" y="195.42" font-size="9.6" text-anchor="middle" letter-spacing="0.6">**</text>
<line x1="175" y1="199.5" x2="220.8" y2="199.5" stroke="#222" stroke-width="1.25"/>
<text x="233.8" y="215.16" font-size="7" text-anchor="middle">ns</text>
<line x1="222" y1="217.3" x2="245" y2="217.3" stroke="#222" stroke-width="1.25"/>
<text x="261" y="190.6" font-size="11.2" font-weight="bold" fill="#111">E</text>
<rect x="301" y="243.51" width="13" height="39.89" fill="#ea8372"/>
<rect x="322.5" y="226.83" width="13" height="56.56" fill="#b4d9a0"/>
<rect x="343.9" y="256.58" width="13" height="26.82" fill="#a98cbb"/>
<rect x="365.5" y="252.81" width="13" height="30.59" fill="#fbbd76"/>
<line x1="293.2" y1="199.3" x2="293.2" y2="283.9" stroke="#222" stroke-width="1.25"/>
<line x1="292.7" y1="283.4" x2="392" y2="283.4" stroke="#222" stroke-width="1.25"/>
<line x1="290.2" y1="283.4" x2="293.2" y2="283.4" stroke="#222" stroke-width="1"/>
<text x="287.2" y="286" font-size="7.4" text-anchor="end" textLength="4.73" lengthAdjust="spacingAndGlyphs">0</text>
<line x1="290.2" y1="266.64" x2="293.2" y2="266.64" stroke="#222" stroke-width="1"/>
<text x="287.2" y="269.24" font-size="7.4" text-anchor="end" textLength="9.47" lengthAdjust="spacingAndGlyphs">20</text>
<line x1="290.2" y1="249.88" x2="293.2" y2="249.88" stroke="#222" stroke-width="1"/>
<text x="287.2" y="252.48" font-size="7.4" text-anchor="end" textLength="9.47" lengthAdjust="spacingAndGlyphs">40</text>
<line x1="290.2" y1="233.12" x2="293.2" y2="233.12" stroke="#222" stroke-width="1"/>
<text x="287.2" y="235.72" font-size="7.4" text-anchor="end" textLength="9.47" lengthAdjust="spacingAndGlyphs">60</text>
<line x1="290.2" y1="216.36" x2="293.2" y2="216.36" stroke="#222" stroke-width="1"/>
<text x="287.2" y="218.96" font-size="7.4" text-anchor="end" textLength="9.47" lengthAdjust="spacingAndGlyphs">80</text>
<line x1="290.2" y1="199.6" x2="293.2" y2="199.6" stroke="#222" stroke-width="1"/>
<text x="287.2" y="202.2" font-size="7.4" text-anchor="end" textLength="14.2" lengthAdjust="spacingAndGlyphs">100</text>
<line x1="307.5" y1="283.4" x2="307.5" y2="286.2" stroke="#222" stroke-width="1"/>
<line x1="329" y1="283.4" x2="329" y2="286.2" stroke="#222" stroke-width="1"/>
<line x1="350.4" y1="283.4" x2="350.4" y2="286.2" stroke="#222" stroke-width="1"/>
<line x1="372" y1="283.4" x2="372" y2="286.2" stroke="#222" stroke-width="1"/>
<line x1="307.5" y1="234.5" x2="307.5" y2="249.5" stroke="#c4122f" stroke-width="0.9"/>
<line x1="305.1" y1="234.5" x2="309.9" y2="234.5" stroke="#c4122f" stroke-width="0.9"/>
<line x1="305.1" y1="249.5" x2="309.9" y2="249.5" stroke="#c4122f" stroke-width="0.9"/>
<line x1="329" y1="213.2" x2="329" y2="241.2" stroke="#3aa845" stroke-width="0.9"/>
<line x1="326.6" y1="213.2" x2="331.4" y2="213.2" stroke="#3aa845" stroke-width="0.9"/>
<line x1="326.6" y1="241.2" x2="331.4" y2="241.2" stroke="#3aa845" stroke-width="0.9"/>
<line x1="350.4" y1="250" x2="350.4" y2="260" stroke="#4a2a6e" stroke-width="0.9"/>
<line x1="348" y1="250" x2="352.8" y2="250" stroke="#4a2a6e" stroke-width="0.9"/>
<line x1="348" y1="260" x2="352.8" y2="260" stroke="#4a2a6e" stroke-width="0.9"/>
<line x1="372" y1="243.7" x2="372" y2="260" stroke="#e0922c" stroke-width="0.9"/>
<line x1="369.6" y1="243.7" x2="374.4" y2="243.7" stroke="#e0922c" stroke-width="0.9"/>
<line x1="369.6" y1="260" x2="374.4" y2="260" stroke="#e0922c" stroke-width="0.9"/>
<circle cx="307.5" cy="228.2" r="1.95" fill="#c4122f"/>
<circle cx="305" cy="237.5" r="1.95" fill="#c4122f"/>
<circle cx="311.2" cy="237.5" r="1.95" fill="#c4122f"/>
<circle cx="307.5" cy="243" r="1.95" fill="#c4122f"/>
<circle cx="303" cy="248" r="1.95" fill="#c4122f"/>
<circle cx="307.5" cy="250" r="1.95" fill="#c4122f"/>
<circle cx="312.5" cy="252.5" r="1.95" fill="#c4122f"/>
<rect x="325.05" y="210.05" width="3.9" height="3.9" fill="#3aa845"/>
<rect x="330.55" y="207.55" width="3.9" height="3.9" fill="#3aa845"/>
<rect x="327.55" y="218.05" width="3.9" height="3.9" fill="#3aa845"/>
<rect x="325.05" y="225.55" width="3.9" height="3.9" fill="#3aa845"/>
<rect x="330.55" y="232.55" width="3.9" height="3.9" fill="#3aa845"/>
<rect x="323.05" y="239.25" width="3.9" height="3.9" fill="#3aa845"/>
<rect x="330.55" y="240.55" width="3.9" height="3.9" fill="#3aa845"/>
<path d="M348.7 247.76L350.84 251.68L346.56 251.68Z" fill="#4a2a6e"/>
<path d="M352 246.46L354.14 250.38L349.86 250.38Z" fill="#4a2a6e"/>
<path d="M346.2 252.26L348.34 256.18L344.06 256.18Z" fill="#4a2a6e"/>
<path d="M352.5 255.26L354.64 259.18L350.36 259.18Z" fill="#4a2a6e"/>
<path d="M347.5 258.96L349.64 262.88L345.36 262.88Z" fill="#4a2a6e"/>
<path d="M353 259.76L355.14 263.68L350.86 263.68Z" fill="#4a2a6e"/>
<path d="M371.7 237.24L373.84 233.32L369.56 233.32Z" fill="#e0922c"/>
<path d="M367.5 255.94L369.64 252.02L365.36 252.02Z" fill="#e0922c"/>
<path d="M373.7 256.74L375.84 252.82L371.56 252.82Z" fill="#e0922c"/>
<path d="M367.5 263.44L369.64 259.52L365.36 259.52Z" fill="#e0922c"/>
<path d="M375 263.44L377.14 259.52L372.86 259.52Z" fill="#e0922c"/>
<path d="M371 260.24L373.14 256.32L368.86 256.32Z" fill="#e0922c"/>
<text transform="translate(267.6 238.5) rotate(-90)" font-size="9.6" stroke="#2a2a2a" stroke-width="0.22" text-anchor="middle" textLength="65.5" lengthAdjust="spacingAndGlyphs">Maximal respiration</text>
<text transform="translate(308.6 292.7) rotate(-45)" font-size="8.5" text-anchor="end">NC shRNA</text>
<text transform="translate(330.1 292.7) rotate(-45)" font-size="8.5" text-anchor="end">NC shRNA+Dec</text>
<text transform="translate(351.5 292.7) rotate(-45)" font-size="8.5" text-anchor="end">LKB1 shRNA</text>
<text transform="translate(373.1 292.7) rotate(-45)" font-size="8.5" text-anchor="end">LKB1 shRNA+Dec</text>
<text x="329.8" y="195.42" font-size="9.6" text-anchor="middle" letter-spacing="0.6">**</text>
<line x1="307" y1="199.5" x2="352.5" y2="199.5" stroke="#222" stroke-width="1.25"/>
<text x="360" y="215.16" font-size="7" text-anchor="middle">ns</text>
<line x1="348" y1="217.3" x2="371" y2="217.3" stroke="#222" stroke-width="1.25"/>
<text x="381.6" y="190.6" font-size="11.2" font-weight="bold" fill="#111">F</text>
<rect x="441.2" y="260.08" width="13.2" height="22.92" fill="#ea8372"/>
<rect x="460.8" y="245.59" width="13.2" height="37.41" fill="#b4d9a0"/>
<rect x="480.4" y="268.85" width="13.2" height="14.15" fill="#a98cbb"/>
<rect x="500" y="268.51" width="13.2" height="14.49" fill="#fbbd76"/>
<line x1="435.2" y1="198.45" x2="435.2" y2="283.5" stroke="#222" stroke-width="1.25"/>
<line x1="434.7" y1="283" x2="520" y2="283" stroke="#222" stroke-width="1.25"/>
<line x1="432.2" y1="283" x2="435.2" y2="283" stroke="#222" stroke-width="1"/>
<text x="429.2" y="285.6" font-size="7.4" text-anchor="end" textLength="4.73" lengthAdjust="spacingAndGlyphs">0</text>
<line x1="432.2" y1="266.15" x2="435.2" y2="266.15" stroke="#222" stroke-width="1"/>
<text x="429.2" y="268.75" font-size="7.4" text-anchor="end" textLength="23.66" lengthAdjust="spacingAndGlyphs">10000</text>
<line x1="432.2" y1="249.3" x2="435.2" y2="249.3" stroke="#222" stroke-width="1"/>
<text x="429.2" y="251.9" font-size="7.4" text-anchor="end" textLength="23.66" lengthAdjust="spacingAndGlyphs">20000</text>
<line x1="432.2" y1="232.45" x2="435.2" y2="232.45" stroke="#222" stroke-width="1"/>
<text x="429.2" y="235.05" font-size="7.4" text-anchor="end" textLength="23.66" lengthAdjust="spacingAndGlyphs">30000</text>
<line x1="432.2" y1="215.6" x2="435.2" y2="215.6" stroke="#222" stroke-width="1"/>
<text x="429.2" y="218.2" font-size="7.4" text-anchor="end" textLength="23.66" lengthAdjust="spacingAndGlyphs">40000</text>
<line x1="432.2" y1="198.75" x2="435.2" y2="198.75" stroke="#222" stroke-width="1"/>
<text x="429.2" y="201.35" font-size="7.4" text-anchor="end" textLength="23.66" lengthAdjust="spacingAndGlyphs">50000</text>
<line x1="447.8" y1="283" x2="447.8" y2="285.8" stroke="#222" stroke-width="1"/>
<line x1="467.4" y1="283" x2="467.4" y2="285.8" stroke="#222" stroke-width="1"/>
<line x1="487" y1="283" x2="487" y2="285.8" stroke="#222" stroke-width="1"/>
<line x1="506.6" y1="283" x2="506.6" y2="285.8" stroke="#222" stroke-width="1"/>
<line x1="447.8" y1="248.5" x2="447.8" y2="268.3" stroke="#c4122f" stroke-width="0.9"/>
<line x1="445.4" y1="248.5" x2="450.2" y2="248.5" stroke="#c4122f" stroke-width="0.9"/>
<line x1="445.4" y1="268.3" x2="450.2" y2="268.3" stroke="#c4122f" stroke-width="0.9"/>
<line x1="467.4" y1="224.9" x2="467.4" y2="262.8" stroke="#3aa845" stroke-width="0.9"/>
<line x1="465" y1="224.9" x2="469.8" y2="224.9" stroke="#3aa845" stroke-width="0.9"/>
<line x1="465" y1="262.8" x2="469.8" y2="262.8" stroke="#3aa845" stroke-width="0.9"/>
<line x1="487" y1="265.4" x2="487" y2="273.4" stroke="#4a2a6e" stroke-width="0.9"/>
<line x1="484.6" y1="265.4" x2="489.4" y2="265.4" stroke="#4a2a6e" stroke-width="0.9"/>
<line x1="484.6" y1="273.4" x2="489.4" y2="273.4" stroke="#4a2a6e" stroke-width="0.9"/>
<line x1="506.6" y1="266" x2="506.6" y2="274.9" stroke="#e0922c" stroke-width="0.9"/>
<line x1="504.2" y1="266" x2="509" y2="266" stroke="#e0922c" stroke-width="0.9"/>
<line x1="504.2" y1="274.9" x2="509" y2="274.9" stroke="#e0922c" stroke-width="0.9"/>
<circle cx="447.6" cy="238.5" r="1.95" fill="#c4122f"/>
<circle cx="447.6" cy="250" r="1.95" fill="#c4122f"/>
<circle cx="443.7" cy="262.4" r="1.95" fill="#c4122f"/>
<circle cx="451" cy="262.4" r="1.95" fill="#c4122f"/>
<circle cx="443.7" cy="268.3" r="1.95" fill="#c4122f"/>
<circle cx="447.6" cy="268.3" r="1.95" fill="#c4122f"/>
<circle cx="452" cy="268.3" r="1.95" fill="#c4122f"/>
<rect x="465.55" y="212.35" width="3.9" height="3.9" fill="#3aa845"/>
<rect x="465.55" y="222.95" width="3.9" height="3.9" fill="#3aa845"/>
<rect x="465.55" y="239.85" width="3.9" height="3.9" fill="#3aa845"/>
<rect x="465.55" y="247.65" width="3.9" height="3.9" fill="#3aa845"/>
<rect x="465.55" y="255.35" width="3.9" height="3.9" fill="#3aa845"/>
<rect x="462.25" y="261.55" width="3.9" height="3.9" fill="#3aa845"/>
<rect x="468.85" y="259.75" width="3.9" height="3.9" fill="#3aa845"/>
<path d="M486.9 260.56L489.04 264.48L484.75 264.48Z" fill="#4a2a6e"/>
<path d="M484 266.06L486.14 269.98L481.86 269.98Z" fill="#4a2a6e"/>
<path d="M489.6 265.76L491.75 269.68L487.46 269.68Z" fill="#4a2a6e"/>
<path d="M483 269.36L485.14 273.28L480.86 273.28Z" fill="#4a2a6e"/>
<path d="M487.8 271.16L489.94 275.08L485.66 275.08Z" fill="#4a2a6e"/>
<path d="M490.7 268.76L492.84 272.68L488.56 272.68Z" fill="#4a2a6e"/>
<path d="M506.5 266.84L508.64 262.92L504.36 262.92Z" fill="#e0922c"/>
<path d="M503.9 271.64L506.04 267.72L501.75 267.72Z" fill="#e0922c"/>
<path d="M509.4 271.24L511.54 267.32L507.25 267.32Z" fill="#e0922c"/>
<path d="M506.1 277.14L508.25 273.22L503.96 273.22Z" fill="#e0922c"/>
<path d="M502.5 274.24L504.64 270.32L500.36 270.32Z" fill="#e0922c"/>
<path d="M510 275.24L512.14 271.32L507.86 271.32Z" fill="#e0922c"/>
<text transform="translate(398.8 238) rotate(-90)" font-size="9.6" stroke="#2a2a2a" stroke-width="0.22" text-anchor="middle" textLength="102.4" lengthAdjust="spacingAndGlyphs">ATP content luminesence (RLU)</text>
<text transform="translate(448.9 292.3) rotate(-45)" font-size="8.5" text-anchor="end">NC shRNA</text>
<text transform="translate(468.5 292.3) rotate(-45)" font-size="8.5" text-anchor="end">NC shRNA+Dec</text>
<text transform="translate(488.1 292.3) rotate(-45)" font-size="8.5" text-anchor="end">LKB1 shRNA</text>
<text transform="translate(507.7 292.3) rotate(-45)" font-size="8.5" text-anchor="end">LKB1 shRNA+Dec</text>
<text x="467.8" y="195.42" font-size="9.6" text-anchor="middle" letter-spacing="0.6">*</text>
<line x1="444.3" y1="199.5" x2="490" y2="199.5" stroke="#222" stroke-width="1.5"/>
<text x="498.4" y="215.35" font-size="7" text-anchor="middle">ns</text>
<line x1="486.2" y1="218.1" x2="508.3" y2="218.1" stroke="#222" stroke-width="1.25"/>
<text x="0.9" y="359.1" font-size="11.2" font-weight="bold" fill="#111">G</text>
<line x1="33.1" y1="360" x2="33.1" y2="420.5" stroke="#222" stroke-width="1.2"/>
<path d="M33.1 354.1L36.2 361.6L30 361.6Z" fill="#222"/>
<text transform="translate(27.5 385.5) rotate(-90)" font-size="10.3" stroke="#2a2a2a" stroke-width="0.15" text-anchor="middle" textLength="62.6" lengthAdjust="spacingAndGlyphs">Count (NC shRNA)</text>
<line x1="33.1" y1="452" x2="33.1" y2="520.5" stroke="#222" stroke-width="1.2"/>
<path d="M33.1 446.8L36.2 454.3L30 454.3Z" fill="#222"/>
<text transform="translate(27.5 476) rotate(-90)" font-size="10.3" stroke="#2a2a2a" stroke-width="0.15" text-anchor="middle" textLength="70.5" lengthAdjust="spacingAndGlyphs">Count (LKB1 shRNA)</text>
<line x1="32.5" y1="520.4" x2="234" y2="520.4" stroke="#222" stroke-width="1.2"/>
<path d="M240.2 520.4L232.7 517.3L232.7 523.5Z" fill="#222"/>
<text x="131.3" y="533.1" font-size="10.4" stroke="#2a2a2a" stroke-width="0.12" text-anchor="middle" textLength="17.4" lengthAdjust="spacingAndGlyphs">CFSE</text>
<rect x="57.3" y="353.3" width="65.6" height="64.7" fill="none" stroke="#c4c4c4" stroke-width="0.7"/>
<line x1="55.8" y1="417.1" x2="57.3" y2="417.1" stroke="#888" stroke-width="0.5"/>
<line x1="55.8" y1="401.9" x2="57.3" y2="401.9" stroke="#888" stroke-width="0.5"/>
<line x1="55.8" y1="386.7" x2="57.3" y2="386.7" stroke="#888" stroke-width="0.5"/>
<line x1="55.8" y1="371.5" x2="57.3" y2="371.5" stroke="#888" stroke-width="0.5"/>
<line x1="55.8" y1="356.3" x2="57.3" y2="356.3" stroke="#888" stroke-width="0.5"/>
<line x1="58.8" y1="418" x2="58.8" y2="419.3" stroke="#999" stroke-width="0.5"/>
<circle cx="58.8" cy="420.8" r="0.35" fill="#bbb"/>
<line x1="69.4" y1="418" x2="69.4" y2="419.3" stroke="#999" stroke-width="0.5"/>
<circle cx="69.4" cy="420.8" r="0.35" fill="#bbb"/>
<line x1="80" y1="418" x2="80" y2="419.3" stroke="#999" stroke-width="0.5"/>
<circle cx="80" cy="420.8" r="0.35" fill="#bbb"/>
<line x1="90.6" y1="418" x2="90.6" y2="419.3" stroke="#999" stroke-width="0.5"/>
<circle cx="90.6" cy="420.8" r="0.35" fill="#bbb"/>
<line x1="101.2" y1="418" x2="101.2" y2="419.3" stroke="#999" stroke-width="0.5"/>
<circle cx="101.2" cy="420.8" r="0.35" fill="#bbb"/>
<line x1="111.8" y1="418" x2="111.8" y2="419.3" stroke="#999" stroke-width="0.5"/>
<circle cx="111.8" cy="420.8" r="0.35" fill="#bbb"/>
<line x1="122.4" y1="418" x2="122.4" y2="419.3" stroke="#999" stroke-width="0.5"/>
<circle cx="122.4" cy="420.8" r="0.35" fill="#bbb"/>
<circle cx="53.8" cy="386.7" r="0.4" fill="#aaa"/>
<rect x="83.54" y="423" width="6" height="0.6" fill="#e8c8c8"/>
<line x1="57.3" y1="417.4" x2="122.9" y2="417.4" stroke="#9a9a9a" stroke-width="0.8"/>
<clipPath id="hc1"><path d="M91.8 416.8 C92.25 416.17 93.63 414.97 94.5 413 C95.37 411.03 96.23 407.5 97 405 C97.77 402.5 98.5 401 99.1 398 C99.7 395 100.18 390.13 100.6 387 C101.02 383.87 101.2 378.93 101.6 379.2 C102 379.47 102.48 389.62 103 388.6 C103.52 387.58 104.15 372.78 104.7 373.1 C105.25 373.42 105.77 389.78 106.3 390.5 C106.83 391.22 107.38 376.32 107.9 377.4 C108.42 378.48 108.88 394.9 109.4 397 C109.92 399.1 110.42 389.37 111 390 C111.58 390.63 112.2 400.25 112.9 400.8 C113.6 401.35 114.55 397.27 115.2 393.3 C115.85 389.33 116.33 382.92 116.8 377 C117.27 371.08 117.58 358.63 118 357.8 C118.42 356.97 118.87 365.3 119.3 372 C119.73 378.7 120.1 390.53 120.6 398 C121.1 405.47 122.02 413.67 122.3 416.8 L122.3 417.1 L91.8 417.1 Z"/></clipPath>
<path d="M91.8 416.8 C92.25 416.17 93.63 414.97 94.5 413 C95.37 411.03 96.23 407.5 97 405 C97.77 402.5 98.5 401 99.1 398 C99.7 395 100.18 390.13 100.6 387 C101.02 383.87 101.2 378.93 101.6 379.2 C102 379.47 102.48 389.62 103 388.6 C103.52 387.58 104.15 372.78 104.7 373.1 C105.25 373.42 105.77 389.78 106.3 390.5 C106.83 391.22 107.38 376.32 107.9 377.4 C108.42 378.48 108.88 394.9 109.4 397 C109.92 399.1 110.42 389.37 111 390 C111.58 390.63 112.2 400.25 112.9 400.8 C113.6 401.35 114.55 397.27 115.2 393.3 C115.85 389.33 116.33 382.92 116.8 377 C117.27 371.08 117.58 358.63 118 357.8 C118.42 356.97 118.87 365.3 119.3 372 C119.73 378.7 120.1 390.53 120.6 398 C121.1 405.47 122.02 413.67 122.3 416.8 L122.3 417.1 L91.8 417.1 Z" fill="url(#hg)"/>
<g clip-path="url(#hc1)">
<line x1="94.5" y1="413" x2="94.5" y2="417.1" stroke="#4f9c3d" stroke-width="0.8" stroke-opacity="0.5"/>
<line x1="95.4" y1="415" x2="95.4" y2="417.1" stroke="#ffffff" stroke-width="0.5" stroke-opacity="0.35"/>
<line x1="97" y1="405" x2="97" y2="417.1" stroke="#4f9c3d" stroke-width="0.8" stroke-opacity="0.5"/>
<line x1="97.9" y1="407" x2="97.9" y2="417.1" stroke="#ffffff" stroke-width="0.5" stroke-opacity="0.35"/>
<line x1="99.1" y1="398" x2="99.1" y2="417.1" stroke="#4f9c3d" stroke-width="0.8" stroke-opacity="0.5"/>
<line x1="100" y1="400" x2="100" y2="417.1" stroke="#ffffff" stroke-width="0.5" stroke-opacity="0.35"/>
<line x1="100.6" y1="387" x2="100.6" y2="417.1" stroke="#4f9c3d" stroke-width="0.8" stroke-opacity="0.5"/>
<line x1="101.5" y1="389" x2="101.5" y2="417.1" stroke="#ffffff" stroke-width="0.5" stroke-opacity="0.35"/>
<line x1="101.6" y1="379.2" x2="101.6" y2="417.1" stroke="#4f9c3d" stroke-width="0.8" stroke-opacity="0.5"/>
<line x1="102.5" y1="381.2" x2="102.5" y2="417.1" stroke="#ffffff" stroke-width="0.5" stroke-opacity="0.35"/>
<line x1="103" y1="388.6" x2="103" y2="417.1" stroke="#4f9c3d" stroke-width="0.8" stroke-opacity="0.5"/>
<line x1="103.9" y1="390.6" x2="103.9" y2="417.1" stroke="#ffffff" stroke-width="0.5" stroke-opacity="0.35"/>
<line x1="104.7" y1="373.1" x2="104.7" y2="417.1" stroke="#4f9c3d" stroke-width="0.8" stroke-opacity="0.5"/>
<line x1="105.6" y1="375.1" x2="105.6" y2="417.1" stroke="#ffffff" stroke-width="0.5" stroke-opacity="0.35"/>
<line x1="106.3" y1="390.5" x2="106.3" y2="417.1" stroke="#4f9c3d" stroke-width="0.8" stroke-opacity="0.5"/>
<line x1="107.2" y1="392.5" x2="107.2" y2="417.1" stroke="#ffffff" stroke-width="0.5" stroke-opacity="0.35"/>
<line x1="107.9" y1="377.4" x2="107.9" y2="417.1" stroke="#4f9c3d" stroke-width="0.8" stroke-opacity="0.5"/>
<line x1="108.8" y1="379.4" x2="108.8" y2="417.1" stroke="#ffffff" stroke-width="0.5" stroke-opacity="0.35"/>
<line x1="109.4" y1="397" x2="109.4" y2="417.1" stroke="#4f9c3d" stroke-width="0.8" stroke-opacity="0.5"/>
<line x1="110.3" y1="399" x2="110.3" y2="417.1" stroke="#ffffff" stroke-width="0.5" stroke-opacity="0.35"/>
<line x1="111" y1="390" x2="111" y2="417.1" stroke="#4f9c3d" stroke-width="0.8" stroke-opacity="0.5"/>
<line x1="111.9" y1="392" x2="111.9" y2="417.1" stroke="#ffffff" stroke-width="0.5" stroke-opacity="0.35"/>
<line x1="112.9" y1="400.8" x2="112.9" y2="417.1" stroke="#4f9c3d" stroke-width="0.8" stroke-opacity="0.5"/>
<line x1="113.8" y1="402.8" x2="113.8" y2="417.1" stroke="#ffffff" stroke-width="0.5" stroke-opacity="0.35"/>
<line x1="115.2" y1="393.3" x2="115.2" y2="417.1" stroke="#4f9c3d" stroke-width="0.8" stroke-opacity="0.5"/>
<line x1="116.1" y1="395.3" x2="116.1" y2="417.1" stroke="#ffffff" stroke-width="0.5" stroke-opacity="0.35"/>
<line x1="116.8" y1="377" x2="116.8" y2="417.1" stroke="#4f9c3d" stroke-width="0.8" stroke-opacity="0.5"/>
<line x1="117.7" y1="379" x2="117.7" y2="417.1" stroke="#ffffff" stroke-width="0.5" stroke-opacity="0.35"/>
<line x1="118" y1="357.8" x2="118" y2="417.1" stroke="#4f9c3d" stroke-width="0.8" stroke-opacity="0.5"/>
<line x1="118.9" y1="359.8" x2="118.9" y2="417.1" stroke="#ffffff" stroke-width="0.5" stroke-opacity="0.35"/>
<line x1="119.3" y1="372" x2="119.3" y2="417.1" stroke="#4f9c3d" stroke-width="0.8" stroke-opacity="0.5"/>
<line x1="120.2" y1="374" x2="120.2" y2="417.1" stroke="#ffffff" stroke-width="0.5" stroke-opacity="0.35"/>
<line x1="120.6" y1="398" x2="120.6" y2="417.1" stroke="#4f9c3d" stroke-width="0.8" stroke-opacity="0.5"/>
<line x1="121.5" y1="400" x2="121.5" y2="417.1" stroke="#ffffff" stroke-width="0.5" stroke-opacity="0.35"/>
</g>
<path d="M91.8 416.8 C92.25 416.17 93.63 414.97 94.5 413 C95.37 411.03 96.23 407.5 97 405 C97.77 402.5 98.5 401 99.1 398 C99.7 395 100.18 390.13 100.6 387 C101.02 383.87 101.2 378.93 101.6 379.2 C102 379.47 102.48 389.62 103 388.6 C103.52 387.58 104.15 372.78 104.7 373.1 C105.25 373.42 105.77 389.78 106.3 390.5 C106.83 391.22 107.38 376.32 107.9 377.4 C108.42 378.48 108.88 394.9 109.4 397 C109.92 399.1 110.42 389.37 111 390 C111.58 390.63 112.2 400.25 112.9 400.8 C113.6 401.35 114.55 397.27 115.2 393.3 C115.85 389.33 116.33 382.92 116.8 377 C117.27 371.08 117.58 358.63 118 357.8 C118.42 356.97 118.87 365.3 119.3 372 C119.73 378.7 120.1 390.53 120.6 398 C121.1 405.47 122.02 413.67 122.3 416.8" fill="none" stroke="#3f4a3c" stroke-width="0.75"/>
<line x1="91.8" y1="417.3" x2="122.3" y2="417.3" stroke="#7bd04a" stroke-width="0.9"/>
<text x="52.3" y="430.8" font-size="6.3" font-weight="bold" fill="#222">a</text>
<text x="56.8" y="430.8" font-size="6.3" fill="#333" textLength="70.5" lengthAdjust="spacingAndGlyphs">Teff+NC shRNA-MDSC(PBS)</text>
<rect x="156.3" y="352.6" width="65.6" height="65.3" fill="none" stroke="#c4c4c4" stroke-width="0.7"/>
<line x1="154.8" y1="417" x2="156.3" y2="417" stroke="#888" stroke-width="0.5"/>
<line x1="154.8" y1="401.65" x2="156.3" y2="401.65" stroke="#888" stroke-width="0.5"/>
<line x1="154.8" y1="386.3" x2="156.3" y2="386.3" stroke="#888" stroke-width="0.5"/>
<line x1="154.8" y1="370.95" x2="156.3" y2="370.95" stroke="#888" stroke-width="0.5"/>
<line x1="154.8" y1="355.6" x2="156.3" y2="355.6" stroke="#888" stroke-width="0.5"/>
<line x1="157.8" y1="417.9" x2="157.8" y2="419.2" stroke="#999" stroke-width="0.5"/>
<circle cx="157.8" cy="420.7" r="0.35" fill="#bbb"/>
<line x1="168.4" y1="417.9" x2="168.4" y2="419.2" stroke="#999" stroke-width="0.5"/>
<circle cx="168.4" cy="420.7" r="0.35" fill="#bbb"/>
<line x1="179" y1="417.9" x2="179" y2="419.2" stroke="#999" stroke-width="0.5"/>
<circle cx="179" cy="420.7" r="0.35" fill="#bbb"/>
<line x1="189.6" y1="417.9" x2="189.6" y2="419.2" stroke="#999" stroke-width="0.5"/>
<circle cx="189.6" cy="420.7" r="0.35" fill="#bbb"/>
<line x1="200.2" y1="417.9" x2="200.2" y2="419.2" stroke="#999" stroke-width="0.5"/>
<circle cx="200.2" cy="420.7" r="0.35" fill="#bbb"/>
<line x1="210.8" y1="417.9" x2="210.8" y2="419.2" stroke="#999" stroke-width="0.5"/>
<circle cx="210.8" cy="420.7" r="0.35" fill="#bbb"/>
<line x1="221.4" y1="417.9" x2="221.4" y2="419.2" stroke="#999" stroke-width="0.5"/>
<circle cx="221.4" cy="420.7" r="0.35" fill="#bbb"/>
<circle cx="152.8" cy="386.3" r="0.4" fill="#aaa"/>
<rect x="182.54" y="422.9" width="6" height="0.6" fill="#e8c8c8"/>
<line x1="156.3" y1="417.3" x2="221.9" y2="417.3" stroke="#9a9a9a" stroke-width="0.8"/>
<clipPath id="hc2"><path d="M191.6 416.7 C191.92 415.83 192.95 413.22 193.5 411.5 C194.05 409.78 194.43 408.98 194.9 406.4 C195.37 403.82 195.88 399.05 196.3 396 C196.72 392.95 196.97 388.23 197.4 388.1 C197.83 387.97 198.33 395.75 198.9 395.2 C199.47 394.65 200.27 384.8 200.8 384.8 C201.33 384.8 201.57 395.03 202.1 395.2 C202.63 395.37 203.43 385.18 204 385.8 C204.57 386.42 204.98 397.42 205.5 398.9 C206.02 400.38 206.6 394 207.1 394.7 C207.6 395.4 207.92 401.53 208.5 403.1 C209.08 404.67 209.9 403.23 210.6 404.1 C211.3 404.97 211.95 408.38 212.7 408.3 C213.45 408.22 214.48 407.48 215.1 403.6 C215.72 399.72 216.02 392.9 216.4 385 C216.78 377.1 217.07 358.37 217.4 356.2 C217.73 354.03 218.05 365.37 218.4 372 C218.75 378.63 219.03 388.55 219.5 396 C219.97 403.45 220.92 413.25 221.2 416.7 L221.2 417 L191.6 417 Z"/></clipPath>
<path d="M191.6 416.7 C191.92 415.83 192.95 413.22 193.5 411.5 C194.05 409.78 194.43 408.98 194.9 406.4 C195.37 403.82 195.88 399.05 196.3 396 C196.72 392.95 196.97 388.23 197.4 388.1 C197.83 387.97 198.33 395.75 198.9 395.2 C199.47 394.65 200.27 384.8 200.8 384.8 C201.33 384.8 201.57 395.03 202.1 395.2 C202.63 395.37 203.43 385.18 204 385.8 C204.57 386.42 204.98 397.42 205.5 398.9 C206.02 400.38 206.6 394 207.1 394.7 C207.6 395.4 207.92 401.53 208.5 403.1 C209.08 404.67 209.9 403.23 210.6 404.1 C211.3 404.97 211.95 408.38 212.7 408.3 C213.45 408.22 214.48 407.48 215.1 403.6 C215.72 399.72 216.02 392.9 216.4 385 C216.78 377.1 217.07 358.37 217.4 356.2 C217.73 354.03 218.05 365.37 218.4 372 C218.75 378.63 219.03 388.55 219.5 396 C219.97 403.45 220.92 413.25 221.2 416.7 L221.2 417 L191.6 417 Z" fill="url(#hg)"/>
<g clip-path="url(#hc2)">
<line x1="193.5" y1="411.5" x2="193.5" y2="417" stroke="#4f9c3d" stroke-width="0.8" stroke-opacity="0.5"/>
<line x1="194.4" y1="413.5" x2="194.4" y2="417" stroke="#ffffff" stroke-width="0.5" stroke-opacity="0.35"/>
<line x1="194.9" y1="406.4" x2="194.9" y2="417" stroke="#4f9c3d" stroke-width="0.8" stroke-opacity="0.5"/>
<line x1="195.8" y1="408.4" x2="195.8" y2="417" stroke="#ffffff" stroke-width="0.5" stroke-opacity="0.35"/>
<line x1="196.3" y1="396" x2="196.3" y2="417" stroke="#4f9c3d" stroke-width="0.8" stroke-opacity="0.5"/>
<line x1="197.2" y1="398" x2="197.2" y2="417" stroke="#ffffff" stroke-width="0.5" stroke-opacity="0.35"/>
<line x1="197.4" y1="388.1" x2="197.4" y2="417" stroke="#4f9c3d" stroke-width="0.8" stroke-opacity="0.5"/>
<line x1="198.3" y1="390.1" x2="198.3" y2="417" stroke="#ffffff" stroke-width="0.5" stroke-opacity="0.35"/>
<line x1="198.9" y1="395.2" x2="198.9" y2="417" stroke="#4f9c3d" stroke-width="0.8" stroke-opacity="0.5"/>
<line x1="199.8" y1="397.2" x2="199.8" y2="417" stroke="#ffffff" stroke-width="0.5" stroke-opacity="0.35"/>
<line x1="200.8" y1="384.8" x2="200.8" y2="417" stroke="#4f9c3d" stroke-width="0.8" stroke-opacity="0.5"/>
<line x1="201.7" y1="386.8" x2="201.7" y2="417" stroke="#ffffff" stroke-width="0.5" stroke-opacity="0.35"/>
<line x1="202.1" y1="395.2" x2="202.1" y2="417" stroke="#4f9c3d" stroke-width="0.8" stroke-opacity="0.5"/>
<line x1="203" y1="397.2" x2="203" y2="417" stroke="#ffffff" stroke-width="0.5" stroke-opacity="0.35"/>
<line x1="204" y1="385.8" x2="204" y2="417" stroke="#4f9c3d" stroke-width="0.8" stroke-opacity="0.5"/>
<line x1="204.9" y1="387.8" x2="204.9" y2="417" stroke="#ffffff" stroke-width="0.5" stroke-opacity="0.35"/>
<line x1="205.5" y1="398.9" x2="205.5" y2="417" stroke="#4f9c3d" stroke-width="0.8" stroke-opacity="0.5"/>
<line x1="206.4" y1="400.9" x2="206.4" y2="417" stroke="#ffffff" stroke-width="0.5" stroke-opacity="0.35"/>
<line x1="207.1" y1="394.7" x2="207.1" y2="417" stroke="#4f9c3d" stroke-width="0.8" stroke-opacity="0.5"/>
<line x1="208" y1="396.7" x2="208" y2="417" stroke="#ffffff" stroke-width="0.5" stroke-opacity="0.35"/>
<line x1="208.5" y1="403.1" x2="208.5" y2="417" stroke="#4f9c3d" stroke-width="0.8" stroke-opacity="0.5"/>
<line x1="209.4" y1="405.1" x2="209.4" y2="417" stroke="#ffffff" stroke-width="0.5" stroke-opacity="0.35"/>
<line x1="210.6" y1="404.1" x2="210.6" y2="417" stroke="#4f9c3d" stroke-width="0.8" stroke-opacity="0.5"/>
<line x1="211.5" y1="406.1" x2="211.5" y2="417" stroke="#ffffff" stroke-width="0.5" stroke-opacity="0.35"/>
<line x1="212.7" y1="408.3" x2="212.7" y2="417" stroke="#4f9c3d" stroke-width="0.8" stroke-opacity="0.5"/>
<line x1="213.6" y1="410.3" x2="213.6" y2="417" stroke="#ffffff" stroke-width="0.5" stroke-opacity="0.35"/>
<line x1="215.1" y1="403.6" x2="215.1" y2="417" stroke="#4f9c3d" stroke-width="0.8" stroke-opacity="0.5"/>
<line x1="216" y1="405.6" x2="216" y2="417" stroke="#ffffff" stroke-width="0.5" stroke-opacity="0.35"/>
<line x1="216.4" y1="385" x2="216.4" y2="417" stroke="#4f9c3d" stroke-width="0.8" stroke-opacity="0.5"/>
<line x1="217.3" y1="387" x2="217.3" y2="417" stroke="#ffffff" stroke-width="0.5" stroke-opacity="0.35"/>
<line x1="217.4" y1="356.2" x2="217.4" y2="417" stroke="#4f9c3d" stroke-width="0.8" stroke-opacity="0.5"/>
<line x1="218.3" y1="358.2" x2="218.3" y2="417" stroke="#ffffff" stroke-width="0.5" stroke-opacity="0.35"/>
<line x1="218.4" y1="372" x2="218.4" y2="417" stroke="#4f9c3d" stroke-width="0.8" stroke-opacity="0.5"/>
<line x1="219.3" y1="374" x2="219.3" y2="417" stroke="#ffffff" stroke-width="0.5" stroke-opacity="0.35"/>
<line x1="219.5" y1="396" x2="219.5" y2="417" stroke="#4f9c3d" stroke-width="0.8" stroke-opacity="0.5"/>
<line x1="220.4" y1="398" x2="220.4" y2="417" stroke="#ffffff" stroke-width="0.5" stroke-opacity="0.35"/>
</g>
<path d="M191.6 416.7 C191.92 415.83 192.95 413.22 193.5 411.5 C194.05 409.78 194.43 408.98 194.9 406.4 C195.37 403.82 195.88 399.05 196.3 396 C196.72 392.95 196.97 388.23 197.4 388.1 C197.83 387.97 198.33 395.75 198.9 395.2 C199.47 394.65 200.27 384.8 200.8 384.8 C201.33 384.8 201.57 395.03 202.1 395.2 C202.63 395.37 203.43 385.18 204 385.8 C204.57 386.42 204.98 397.42 205.5 398.9 C206.02 400.38 206.6 394 207.1 394.7 C207.6 395.4 207.92 401.53 208.5 403.1 C209.08 404.67 209.9 403.23 210.6 404.1 C211.3 404.97 211.95 408.38 212.7 408.3 C213.45 408.22 214.48 407.48 215.1 403.6 C215.72 399.72 216.02 392.9 216.4 385 C216.78 377.1 217.07 358.37 217.4 356.2 C217.73 354.03 218.05 365.37 218.4 372 C218.75 378.63 219.03 388.55 219.5 396 C219.97 403.45 220.92 413.25 221.2 416.7" fill="none" stroke="#3f4a3c" stroke-width="0.75"/>
<line x1="191.6" y1="417.2" x2="221.2" y2="417.2" stroke="#7bd04a" stroke-width="0.9"/>
<text x="153.8" y="430.6" font-size="6.3" font-weight="bold" fill="#222">b</text>
<text x="158.3" y="430.6" font-size="6.3" fill="#333" textLength="70.5" lengthAdjust="spacingAndGlyphs">Teff+NC shRNA-MDSC(Dec)</text>
<rect x="57.3" y="437.5" width="65.3" height="65.5" fill="none" stroke="#c4c4c4" stroke-width="0.7"/>
<line x1="55.8" y1="502.1" x2="57.3" y2="502.1" stroke="#888" stroke-width="0.5"/>
<line x1="55.8" y1="486.7" x2="57.3" y2="486.7" stroke="#888" stroke-width="0.5"/>
<line x1="55.8" y1="471.3" x2="57.3" y2="471.3" stroke="#888" stroke-width="0.5"/>
<line x1="55.8" y1="455.9" x2="57.3" y2="455.9" stroke="#888" stroke-width="0.5"/>
<line x1="55.8" y1="440.5" x2="57.3" y2="440.5" stroke="#888" stroke-width="0.5"/>
<line x1="58.8" y1="503" x2="58.8" y2="504.3" stroke="#999" stroke-width="0.5"/>
<circle cx="58.8" cy="505.8" r="0.35" fill="#bbb"/>
<line x1="69.35" y1="503" x2="69.35" y2="504.3" stroke="#999" stroke-width="0.5"/>
<circle cx="69.35" cy="505.8" r="0.35" fill="#bbb"/>
<line x1="79.9" y1="503" x2="79.9" y2="504.3" stroke="#999" stroke-width="0.5"/>
<circle cx="79.9" cy="505.8" r="0.35" fill="#bbb"/>
<line x1="90.45" y1="503" x2="90.45" y2="504.3" stroke="#999" stroke-width="0.5"/>
<circle cx="90.45" cy="505.8" r="0.35" fill="#bbb"/>
<line x1="101" y1="503" x2="101" y2="504.3" stroke="#999" stroke-width="0.5"/>
<circle cx="101" cy="505.8" r="0.35" fill="#bbb"/>
<line x1="111.55" y1="503" x2="111.55" y2="504.3" stroke="#999" stroke-width="0.5"/>
<circle cx="111.55" cy="505.8" r="0.35" fill="#bbb"/>
<line x1="122.1" y1="503" x2="122.1" y2="504.3" stroke="#999" stroke-width="0.5"/>
<circle cx="122.1" cy="505.8" r="0.35" fill="#bbb"/>
<circle cx="53.8" cy="471.3" r="0.4" fill="#aaa"/>
<rect x="83.42" y="508" width="6" height="0.6" fill="#e8c8c8"/>
<line x1="57.3" y1="502.4" x2="122.6" y2="502.4" stroke="#9a9a9a" stroke-width="0.8"/>
<clipPath id="hc3"><path d="M91.8 501.8 C92.17 501 93.38 498.72 94 497 C94.62 495.28 94.93 495.55 95.5 491.5 C96.07 487.45 96.9 477.55 97.4 472.7 C97.9 467.85 98.12 463.03 98.5 462.4 C98.88 461.77 99.18 472.2 99.7 468.9 C100.22 465.6 101.02 443.07 101.6 442.6 C102.18 442.13 102.68 465.23 103.2 466.1 C103.72 466.97 104.18 447.65 104.7 447.8 C105.22 447.95 105.72 466.37 106.3 467 C106.88 467.63 107.62 450.65 108.2 451.6 C108.78 452.55 109.25 470.2 109.8 472.7 C110.35 475.2 110.83 465.67 111.5 466.6 C112.17 467.53 113.02 477.05 113.8 478.3 C114.58 479.55 115.42 477.15 116.2 474.1 C116.98 471.05 117.8 458.35 118.5 460 C119.2 461.65 119.82 477.03 120.4 484 C120.98 490.97 121.73 498.83 122 501.8 L122 502.1 L91.8 502.1 Z"/></clipPath>
<path d="M91.8 501.8 C92.17 501 93.38 498.72 94 497 C94.62 495.28 94.93 495.55 95.5 491.5 C96.07 487.45 96.9 477.55 97.4 472.7 C97.9 467.85 98.12 463.03 98.5 462.4 C98.88 461.77 99.18 472.2 99.7 468.9 C100.22 465.6 101.02 443.07 101.6 442.6 C102.18 442.13 102.68 465.23 103.2 466.1 C103.72 466.97 104.18 447.65 104.7 447.8 C105.22 447.95 105.72 466.37 106.3 467 C106.88 467.63 107.62 450.65 108.2 451.6 C108.78 452.55 109.25 470.2 109.8 472.7 C110.35 475.2 110.83 465.67 111.5 466.6 C112.17 467.53 113.02 477.05 113.8 478.3 C114.58 479.55 115.42 477.15 116.2 474.1 C116.98 471.05 117.8 458.35 118.5 460 C119.2 461.65 119.82 477.03 120.4 484 C120.98 490.97 121.73 498.83 122 501.8 L122 502.1 L91.8 502.1 Z" fill="url(#hg)"/>
<g clip-path="url(#hc3)">
<line x1="94" y1="497" x2="94" y2="502.1" stroke="#4f9c3d" stroke-width="0.8" stroke-opacity="0.5"/>
<line x1="94.9" y1="499" x2="94.9" y2="502.1" stroke="#ffffff" stroke-width="0.5" stroke-opacity="0.35"/>
<line x1="95.5" y1="491.5" x2="95.5" y2="502.1" stroke="#4f9c3d" stroke-width="0.8" stroke-opacity="0.5"/>
<line x1="96.4" y1="493.5" x2="96.4" y2="502.1" stroke="#ffffff" stroke-width="0.5" stroke-opacity="0.35"/>
<line x1="97.4" y1="472.7" x2="97.4" y2="502.1" stroke="#4f9c3d" stroke-width="0.8" stroke-opacity="0.5"/>
<line x1="98.3" y1="474.7" x2="98.3" y2="502.1" stroke="#ffffff" stroke-width="0.5" stroke-opacity="0.35"/>
<line x1="98.5" y1="462.4" x2="98.5" y2="502.1" stroke="#4f9c3d" stroke-width="0.8" stroke-opacity="0.5"/>
<line x1="99.4" y1="464.4" x2="99.4" y2="502.1" stroke="#ffffff" stroke-width="0.5" stroke-opacity="0.35"/>
<line x1="99.7" y1="468.9" x2="99.7" y2="502.1" stroke="#4f9c3d" stroke-width="0.8" stroke-opacity="0.5"/>
<line x1="100.6" y1="470.9" x2="100.6" y2="502.1" stroke="#ffffff" stroke-width="0.5" stroke-opacity="0.35"/>
<line x1="101.6" y1="442.6" x2="101.6" y2="502.1" stroke="#4f9c3d" stroke-width="0.8" stroke-opacity="0.5"/>
<line x1="102.5" y1="444.6" x2="102.5" y2="502.1" stroke="#ffffff" stroke-width="0.5" stroke-opacity="0.35"/>
<line x1="103.2" y1="466.1" x2="103.2" y2="502.1" stroke="#4f9c3d" stroke-width="0.8" stroke-opacity="0.5"/>
<line x1="104.1" y1="468.1" x2="104.1" y2="502.1" stroke="#ffffff" stroke-width="0.5" stroke-opacity="0.35"/>
<line x1="104.7" y1="447.8" x2="104.7" y2="502.1" stroke="#4f9c3d" stroke-width="0.8" stroke-opacity="0.5"/>
<line x1="105.6" y1="449.8" x2="105.6" y2="502.1" stroke="#ffffff" stroke-width="0.5" stroke-opacity="0.35"/>
<line x1="106.3" y1="467" x2="106.3" y2="502.1" stroke="#4f9c3d" stroke-width="0.8" stroke-opacity="0.5"/>
<line x1="107.2" y1="469" x2="107.2" y2="502.1" stroke="#ffffff" stroke-width="0.5" stroke-opacity="0.35"/>
<line x1="108.2" y1="451.6" x2="108.2" y2="502.1" stroke="#4f9c3d" stroke-width="0.8" stroke-opacity="0.5"/>
<line x1="109.1" y1="453.6" x2="109.1" y2="502.1" stroke="#ffffff" stroke-width="0.5" stroke-opacity="0.35"/>
<line x1="109.8" y1="472.7" x2="109.8" y2="502.1" stroke="#4f9c3d" stroke-width="0.8" stroke-opacity="0.5"/>
<line x1="110.7" y1="474.7" x2="110.7" y2="502.1" stroke="#ffffff" stroke-width="0.5" stroke-opacity="0.35"/>
<line x1="111.5" y1="466.6" x2="111.5" y2="502.1" stroke="#4f9c3d" stroke-width="0.8" stroke-opacity="0.5"/>
<line x1="112.4" y1="468.6" x2="112.4" y2="502.1" stroke="#ffffff" stroke-width="0.5" stroke-opacity="0.35"/>
<line x1="113.8" y1="478.3" x2="113.8" y2="502.1" stroke="#4f9c3d" stroke-width="0.8" stroke-opacity="0.5"/>
<line x1="114.7" y1="480.3" x2="114.7" y2="502.1" stroke="#ffffff" stroke-width="0.5" stroke-opacity="0.35"/>
<line x1="116.2" y1="474.1" x2="116.2" y2="502.1" stroke="#4f9c3d" stroke-width="0.8" stroke-opacity="0.5"/>
<line x1="117.1" y1="476.1" x2="117.1" y2="502.1" stroke="#ffffff" stroke-width="0.5" stroke-opacity="0.35"/>
<line x1="118.5" y1="460" x2="118.5" y2="502.1" stroke="#4f9c3d" stroke-width="0.8" stroke-opacity="0.5"/>
<line x1="119.4" y1="462" x2="119.4" y2="502.1" stroke="#ffffff" stroke-width="0.5" stroke-opacity="0.35"/>
<line x1="120.4" y1="484" x2="120.4" y2="502.1" stroke="#4f9c3d" stroke-width="0.8" stroke-opacity="0.5"/>
<line x1="121.3" y1="486" x2="121.3" y2="502.1" stroke="#ffffff" stroke-width="0.5" stroke-opacity="0.35"/>
</g>
<path d="M91.8 501.8 C92.17 501 93.38 498.72 94 497 C94.62 495.28 94.93 495.55 95.5 491.5 C96.07 487.45 96.9 477.55 97.4 472.7 C97.9 467.85 98.12 463.03 98.5 462.4 C98.88 461.77 99.18 472.2 99.7 468.9 C100.22 465.6 101.02 443.07 101.6 442.6 C102.18 442.13 102.68 465.23 103.2 466.1 C103.72 466.97 104.18 447.65 104.7 447.8 C105.22 447.95 105.72 466.37 106.3 467 C106.88 467.63 107.62 450.65 108.2 451.6 C108.78 452.55 109.25 470.2 109.8 472.7 C110.35 475.2 110.83 465.67 111.5 466.6 C112.17 467.53 113.02 477.05 113.8 478.3 C114.58 479.55 115.42 477.15 116.2 474.1 C116.98 471.05 117.8 458.35 118.5 460 C119.2 461.65 119.82 477.03 120.4 484 C120.98 490.97 121.73 498.83 122 501.8" fill="none" stroke="#3f4a3c" stroke-width="0.75"/>
<line x1="91.8" y1="502.3" x2="122" y2="502.3" stroke="#7bd04a" stroke-width="0.9"/>
<text x="50.2" y="516.6" font-size="6.3" font-weight="bold" fill="#222">c</text>
<text x="54.7" y="516.6" font-size="6.3" fill="#333" textLength="74.5" lengthAdjust="spacingAndGlyphs">Teff+LKB1 shRNA-MDSC(PBS)</text>
<rect x="156.3" y="437.5" width="65.6" height="65.5" fill="none" stroke="#c4c4c4" stroke-width="0.7"/>
<line x1="154.8" y1="502.1" x2="156.3" y2="502.1" stroke="#888" stroke-width="0.5"/>
<line x1="154.8" y1="486.7" x2="156.3" y2="486.7" stroke="#888" stroke-width="0.5"/>
<line x1="154.8" y1="471.3" x2="156.3" y2="471.3" stroke="#888" stroke-width="0.5"/>
<line x1="154.8" y1="455.9" x2="156.3" y2="455.9" stroke="#888" stroke-width="0.5"/>
<line x1="154.8" y1="440.5" x2="156.3" y2="440.5" stroke="#888" stroke-width="0.5"/>
<line x1="157.8" y1="503" x2="157.8" y2="504.3" stroke="#999" stroke-width="0.5"/>
<circle cx="157.8" cy="505.8" r="0.35" fill="#bbb"/>
<line x1="168.4" y1="503" x2="168.4" y2="504.3" stroke="#999" stroke-width="0.5"/>
<circle cx="168.4" cy="505.8" r="0.35" fill="#bbb"/>
<line x1="179" y1="503" x2="179" y2="504.3" stroke="#999" stroke-width="0.5"/>
<circle cx="179" cy="505.8" r="0.35" fill="#bbb"/>
<line x1="189.6" y1="503" x2="189.6" y2="504.3" stroke="#999" stroke-width="0.5"/>
<circle cx="189.6" cy="505.8" r="0.35" fill="#bbb"/>
<line x1="200.2" y1="503" x2="200.2" y2="504.3" stroke="#999" stroke-width="0.5"/>
<circle cx="200.2" cy="505.8" r="0.35" fill="#bbb"/>
<line x1="210.8" y1="503" x2="210.8" y2="504.3" stroke="#999" stroke-width="0.5"/>
<circle cx="210.8" cy="505.8" r="0.35" fill="#bbb"/>
<line x1="221.4" y1="503" x2="221.4" y2="504.3" stroke="#999" stroke-width="0.5"/>
<circle cx="221.4" cy="505.8" r="0.35" fill="#bbb"/>
<circle cx="152.8" cy="471.3" r="0.4" fill="#aaa"/>
<rect x="182.54" y="508" width="6" height="0.6" fill="#e8c8c8"/>
<line x1="156.3" y1="502.4" x2="221.9" y2="502.4" stroke="#9a9a9a" stroke-width="0.8"/>
<clipPath id="hc4"><path d="M190.7 501.7 C191.05 500.92 192.18 498.72 192.8 497 C193.42 495.28 193.85 496.23 194.4 491.4 C194.95 486.57 195.6 473.32 196.1 468 C196.6 462.68 196.97 459.82 197.4 459.5 C197.83 459.18 198.18 468.83 198.7 466.1 C199.22 463.37 199.93 442.63 200.5 443.1 C201.07 443.57 201.52 466.78 202.1 468.9 C202.68 471.02 203.43 455.48 204 455.8 C204.57 456.12 204.93 470.27 205.5 470.8 C206.07 471.33 206.82 458.38 207.4 459 C207.98 459.62 208.47 472.47 209 474.5 C209.53 476.53 210.05 470.28 210.6 471.2 C211.15 472.12 211.72 478.03 212.3 480 C212.88 481.97 213.52 483.67 214.1 483 C214.68 482.33 215.25 479.05 215.8 476 C216.35 472.95 216.77 463.07 217.4 464.7 C218.03 466.33 218.97 479.63 219.6 485.8 C220.23 491.97 220.93 499.05 221.2 501.7 L221.2 502.1 L190.7 502.1 Z"/></clipPath>
<path d="M190.7 501.7 C191.05 500.92 192.18 498.72 192.8 497 C193.42 495.28 193.85 496.23 194.4 491.4 C194.95 486.57 195.6 473.32 196.1 468 C196.6 462.68 196.97 459.82 197.4 459.5 C197.83 459.18 198.18 468.83 198.7 466.1 C199.22 463.37 199.93 442.63 200.5 443.1 C201.07 443.57 201.52 466.78 202.1 468.9 C202.68 471.02 203.43 455.48 204 455.8 C204.57 456.12 204.93 470.27 205.5 470.8 C206.07 471.33 206.82 458.38 207.4 459 C207.98 459.62 208.47 472.47 209 474.5 C209.53 476.53 210.05 470.28 210.6 471.2 C211.15 472.12 211.72 478.03 212.3 480 C212.88 481.97 213.52 483.67 214.1 483 C214.68 482.33 215.25 479.05 215.8 476 C216.35 472.95 216.77 463.07 217.4 464.7 C218.03 466.33 218.97 479.63 219.6 485.8 C220.23 491.97 220.93 499.05 221.2 501.7 L221.2 502.1 L190.7 502.1 Z" fill="url(#hg)"/>
<g clip-path="url(#hc4)">
<line x1="192.8" y1="497" x2="192.8" y2="502.1" stroke="#4f9c3d" stroke-width="0.8" stroke-opacity="0.5"/>
<line x1="193.7" y1="499" x2="193.7" y2="502.1" stroke="#ffffff" stroke-width="0.5" stroke-opacity="0.35"/>
<line x1="194.4" y1="491.4" x2="194.4" y2="502.1" stroke="#4f9c3d" stroke-width="0.8" stroke-opacity="0.5"/>
<line x1="195.3" y1="493.4" x2="195.3" y2="502.1" stroke="#ffffff" stroke-width="0.5" stroke-opacity="0.35"/>
<line x1="196.1" y1="468" x2="196.1" y2="502.1" stroke="#4f9c3d" stroke-width="0.8" stroke-opacity="0.5"/>
<line x1="197" y1="470" x2="197" y2="502.1" stroke="#ffffff" stroke-width="0.5" stroke-opacity="0.35"/>
<line x1="197.4" y1="459.5" x2="197.4" y2="502.1" stroke="#4f9c3d" stroke-width="0.8" stroke-opacity="0.5"/>
<line x1="198.3" y1="461.5" x2="198.3" y2="502.1" stroke="#ffffff" stroke-width="0.5" stroke-opacity="0.35"/>
<line x1="198.7" y1="466.1" x2="198.7" y2="502.1" stroke="#4f9c3d" stroke-width="0.8" stroke-opacity="0.5"/>
<line x1="199.6" y1="468.1" x2="199.6" y2="502.1" stroke="#ffffff" stroke-width="0.5" stroke-opacity="0.35"/>
<line x1="200.5" y1="443.1" x2="200.5" y2="502.1" stroke="#4f9c3d" stroke-width="0.8" stroke-opacity="0.5"/>
<line x1="201.4" y1="445.1" x2="201.4" y2="502.1" stroke="#ffffff" stroke-width="0.5" stroke-opacity="0.35"/>
<line x1="202.1" y1="468.9" x2="202.1" y2="502.1" stroke="#4f9c3d" stroke-width="0.8" stroke-opacity="0.5"/>
<line x1="203" y1="470.9" x2="203" y2="502.1" stroke="#ffffff" stroke-width="0.5" stroke-opacity="0.35"/>
<line x1="204" y1="455.8" x2="204" y2="502.1" stroke="#4f9c3d" stroke-width="0.8" stroke-opacity="0.5"/>
<line x1="204.9" y1="457.8" x2="204.9" y2="502.1" stroke="#ffffff" stroke-width="0.5" stroke-opacity="0.35"/>
<line x1="205.5" y1="470.8" x2="205.5" y2="502.1" stroke="#4f9c3d" stroke-width="0.8" stroke-opacity="0.5"/>
<line x1="206.4" y1="472.8" x2="206.4" y2="502.1" stroke="#ffffff" stroke-width="0.5" stroke-opacity="0.35"/>
<line x1="207.4" y1="459" x2="207.4" y2="502.1" stroke="#4f9c3d" stroke-width="0.8" stroke-opacity="0.5"/>
<line x1="208.3" y1="461" x2="208.3" y2="502.1" stroke="#ffffff" stroke-width="0.5" stroke-opacity="0.35"/>
<line x1="209" y1="474.5" x2="209" y2="502.1" stroke="#4f9c3d" stroke-width="0.8" stroke-opacity="0.5"/>
<line x1="209.9" y1="476.5" x2="209.9" y2="502.1" stroke="#ffffff" stroke-width="0.5" stroke-opacity="0.35"/>
<line x1="210.6" y1="471.2" x2="210.6" y2="502.1" stroke="#4f9c3d" stroke-width="0.8" stroke-opacity="0.5"/>
<line x1="211.5" y1="473.2" x2="211.5" y2="502.1" stroke="#ffffff" stroke-width="0.5" stroke-opacity="0.35"/>
<line x1="212.3" y1="480" x2="212.3" y2="502.1" stroke="#4f9c3d" stroke-width="0.8" stroke-opacity="0.5"/>
<line x1="213.2" y1="482" x2="213.2" y2="502.1" stroke="#ffffff" stroke-width="0.5" stroke-opacity="0.35"/>
<line x1="214.1" y1="483" x2="214.1" y2="502.1" stroke="#4f9c3d" stroke-width="0.8" stroke-opacity="0.5"/>
<line x1="215" y1="485" x2="215" y2="502.1" stroke="#ffffff" stroke-width="0.5" stroke-opacity="0.35"/>
<line x1="215.8" y1="476" x2="215.8" y2="502.1" stroke="#4f9c3d" stroke-width="0.8" stroke-opacity="0.5"/>
<line x1="216.7" y1="478" x2="216.7" y2="502.1" stroke="#ffffff" stroke-width="0.5" stroke-opacity="0.35"/>
<line x1="217.4" y1="464.7" x2="217.4" y2="502.1" stroke="#4f9c3d" stroke-width="0.8" stroke-opacity="0.5"/>
<line x1="218.3" y1="466.7" x2="218.3" y2="502.1" stroke="#ffffff" stroke-width="0.5" stroke-opacity="0.35"/>
<line x1="219.6" y1="485.8" x2="219.6" y2="502.1" stroke="#4f9c3d" stroke-width="0.8" stroke-opacity="0.5"/>
<line x1="220.5" y1="487.8" x2="220.5" y2="502.1" stroke="#ffffff" stroke-width="0.5" stroke-opacity="0.35"/>
</g>
<path d="M190.7 501.7 C191.05 500.92 192.18 498.72 192.8 497 C193.42 495.28 193.85 496.23 194.4 491.4 C194.95 486.57 195.6 473.32 196.1 468 C196.6 462.68 196.97 459.82 197.4 459.5 C197.83 459.18 198.18 468.83 198.7 466.1 C199.22 463.37 199.93 442.63 200.5 443.1 C201.07 443.57 201.52 466.78 202.1 468.9 C202.68 471.02 203.43 455.48 204 455.8 C204.57 456.12 204.93 470.27 205.5 470.8 C206.07 471.33 206.82 458.38 207.4 459 C207.98 459.62 208.47 472.47 209 474.5 C209.53 476.53 210.05 470.28 210.6 471.2 C211.15 472.12 211.72 478.03 212.3 480 C212.88 481.97 213.52 483.67 214.1 483 C214.68 482.33 215.25 479.05 215.8 476 C216.35 472.95 216.77 463.07 217.4 464.7 C218.03 466.33 218.97 479.63 219.6 485.8 C220.23 491.97 220.93 499.05 221.2 501.7" fill="none" stroke="#3f4a3c" stroke-width="0.75"/>
<line x1="190.7" y1="502.3" x2="221.2" y2="502.3" stroke="#7bd04a" stroke-width="0.9"/>
<text x="150.5" y="516.6" font-size="6.3" font-weight="bold" fill="#222">d</text>
<text x="155" y="516.6" font-size="6.3" fill="#333" textLength="76" lengthAdjust="spacingAndGlyphs">Teff+LKB1 shRNA-MDSC(Dec)</text>
<text x="268.6" y="359" font-size="11.2" font-weight="bold" fill="#111">H</text>
<rect x="341.2" y="418.29" width="20" height="33.41" fill="#8e9ccb"/>
<rect x="373.1" y="423.91" width="20" height="27.79" fill="#ea8372"/>
<rect x="405.3" y="408.7" width="20" height="43" fill="#b4d9a0"/>
<rect x="437.4" y="410.35" width="20" height="41.35" fill="#a98cbb"/>
<rect x="469.3" y="443.76" width="20" height="7.94" fill="#fbbd76"/>
<line x1="328.9" y1="366.5" x2="328.9" y2="452.2" stroke="#222" stroke-width="1.25"/>
<line x1="328.4" y1="451.7" x2="499.5" y2="451.7" stroke="#222" stroke-width="1.25"/>
<line x1="325.4" y1="451.7" x2="328.9" y2="451.7" stroke="#222" stroke-width="1"/>
<text x="324.3" y="454.45" font-size="7.8" text-anchor="end" textLength="13.01" lengthAdjust="spacingAndGlyphs">0.0</text>
<line x1="325.4" y1="435.16" x2="328.9" y2="435.16" stroke="#222" stroke-width="1"/>
<text x="324.3" y="437.91" font-size="7.8" text-anchor="end" textLength="13.01" lengthAdjust="spacingAndGlyphs">0.5</text>
<line x1="325.4" y1="418.62" x2="328.9" y2="418.62" stroke="#222" stroke-width="1"/>
<text x="324.3" y="421.37" font-size="7.8" text-anchor="end" textLength="13.01" lengthAdjust="spacingAndGlyphs">1.0</text>
<line x1="325.4" y1="402.08" x2="328.9" y2="402.08" stroke="#222" stroke-width="1"/>
<text x="324.3" y="404.83" font-size="7.8" text-anchor="end" textLength="13.01" lengthAdjust="spacingAndGlyphs">1.5</text>
<line x1="325.4" y1="385.54" x2="328.9" y2="385.54" stroke="#222" stroke-width="1"/>
<text x="324.3" y="388.29" font-size="7.8" text-anchor="end" textLength="13.01" lengthAdjust="spacingAndGlyphs">2.0</text>
<line x1="325.4" y1="369" x2="328.9" y2="369" stroke="#222" stroke-width="1"/>
<text x="324.3" y="371.75" font-size="7.8" text-anchor="end" textLength="13.01" lengthAdjust="spacingAndGlyphs">2.5</text>
<line x1="351.2" y1="451.7" x2="351.2" y2="454.5" stroke="#222" stroke-width="1"/>
<text x="351.2" y="465" font-size="8.4" text-anchor="middle">a</text>
<line x1="383.1" y1="451.7" x2="383.1" y2="454.5" stroke="#222" stroke-width="1"/>
<text x="383.1" y="465" font-size="8.4" text-anchor="middle">b</text>
<line x1="415.3" y1="451.7" x2="415.3" y2="454.5" stroke="#222" stroke-width="1"/>
<text x="415.3" y="465" font-size="8.4" text-anchor="middle">c</text>
<line x1="447.4" y1="451.7" x2="447.4" y2="454.5" stroke="#222" stroke-width="1"/>
<text x="447.4" y="465" font-size="8.4" text-anchor="middle">d</text>
<line x1="479.3" y1="451.7" x2="479.3" y2="454.5" stroke="#222" stroke-width="1"/>
<text x="479.3" y="465" font-size="8.4" text-anchor="middle">e</text>
<text transform="translate(307.2 408.25) rotate(-90)" font-size="9.6" stroke="#2a2a2a" stroke-width="0.22" text-anchor="middle" textLength="48" lengthAdjust="spacingAndGlyphs">Division index</text>
<line x1="351.2" y1="412.4" x2="351.2" y2="423.5" stroke="#14306a" stroke-width="0.9"/>
<line x1="348.2" y1="412.4" x2="354.2" y2="412.4" stroke="#14306a" stroke-width="0.9"/>
<line x1="348.2" y1="423.5" x2="354.2" y2="423.5" stroke="#14306a" stroke-width="0.9"/>
<line x1="383.1" y1="416" x2="383.1" y2="430" stroke="#c4122f" stroke-width="0.9"/>
<line x1="380.1" y1="416" x2="386.1" y2="416" stroke="#c4122f" stroke-width="0.9"/>
<line x1="380.1" y1="430" x2="386.1" y2="430" stroke="#c4122f" stroke-width="0.9"/>
<line x1="415.3" y1="399.5" x2="415.3" y2="421.5" stroke="#2f7a32" stroke-width="0.9"/>
<line x1="412.3" y1="399.5" x2="418.3" y2="399.5" stroke="#2f7a32" stroke-width="0.9"/>
<line x1="412.3" y1="421.5" x2="418.3" y2="421.5" stroke="#2f7a32" stroke-width="0.9"/>
<line x1="447.4" y1="402.5" x2="447.4" y2="418" stroke="#3d1a5a" stroke-width="0.9"/>
<line x1="444.4" y1="402.5" x2="450.4" y2="402.5" stroke="#3d1a5a" stroke-width="0.9"/>
<line x1="444.4" y1="418" x2="450.4" y2="418" stroke="#3d1a5a" stroke-width="0.9"/>
<line x1="479.3" y1="440.5" x2="479.3" y2="447" stroke="#dc8f2a" stroke-width="0.9"/>
<line x1="476.3" y1="440.5" x2="482.3" y2="440.5" stroke="#dc8f2a" stroke-width="0.9"/>
<line x1="476.3" y1="447" x2="482.3" y2="447" stroke="#dc8f2a" stroke-width="0.9"/>
<circle cx="341.9" cy="410.8" r="1.25" fill="#14306a"/>
<circle cx="353.9" cy="410.5" r="1.25" fill="#14306a"/>
<circle cx="360.1" cy="410" r="1.25" fill="#14306a"/>
<circle cx="347.7" cy="412.8" r="1.25" fill="#14306a"/>
<circle cx="341.9" cy="414.8" r="1.25" fill="#14306a"/>
<circle cx="353.9" cy="414.3" r="1.25" fill="#14306a"/>
<circle cx="347.8" cy="416.7" r="1.25" fill="#14306a"/>
<circle cx="347.8" cy="419.6" r="1.25" fill="#14306a"/>
<circle cx="341.9" cy="419.1" r="1.25" fill="#14306a"/>
<circle cx="353.9" cy="419.1" r="1.25" fill="#14306a"/>
<circle cx="360.1" cy="419.7" r="1.25" fill="#14306a"/>
<circle cx="350.7" cy="423.2" r="1.25" fill="#14306a"/>
<circle cx="344.7" cy="425" r="1.25" fill="#14306a"/>
<circle cx="357.1" cy="424.5" r="1.25" fill="#14306a"/>
<rect x="378.7" y="411" width="2.6" height="2.6" fill="#c4122f"/>
<rect x="385.2" y="410.5" width="2.6" height="2.6" fill="#c4122f"/>
<rect x="385.2" y="413" width="2.6" height="2.6" fill="#c4122f"/>
<rect x="378.7" y="415" width="2.6" height="2.6" fill="#c4122f"/>
<rect x="378.7" y="419.5" width="2.6" height="2.6" fill="#c4122f"/>
<rect x="385.2" y="419.5" width="2.6" height="2.6" fill="#c4122f"/>
<rect x="378.7" y="423" width="2.6" height="2.6" fill="#c4122f"/>
<rect x="385.2" y="423" width="2.6" height="2.6" fill="#c4122f"/>
<rect x="372.5" y="425.2" width="2.6" height="2.6" fill="#c4122f"/>
<rect x="378.7" y="425.5" width="2.6" height="2.6" fill="#c4122f"/>
<rect x="385.2" y="425.5" width="2.6" height="2.6" fill="#c4122f"/>
<rect x="390.7" y="425" width="2.6" height="2.6" fill="#c4122f"/>
<rect x="390.7" y="422.7" width="2.6" height="2.6" fill="#c4122f"/>
<rect x="382" y="429.2" width="2.6" height="2.6" fill="#c4122f"/>
<circle cx="415.2" cy="388.6" r="0.85" fill="#2f7a32"/>
<circle cx="413.6" cy="401.3" r="0.85" fill="#2f7a32"/>
<circle cx="417.4" cy="403.4" r="0.85" fill="#2f7a32"/>
<circle cx="420.6" cy="406.3" r="0.85" fill="#2f7a32"/>
<circle cx="405.9" cy="409.5" r="0.85" fill="#2f7a32"/>
<circle cx="409.5" cy="409.5" r="0.85" fill="#2f7a32"/>
<circle cx="413.3" cy="409.5" r="0.85" fill="#2f7a32"/>
<circle cx="417.2" cy="409" r="0.85" fill="#2f7a32"/>
<circle cx="424.3" cy="409.5" r="0.85" fill="#2f7a32"/>
<circle cx="417.2" cy="412.4" r="0.85" fill="#2f7a32"/>
<circle cx="413.3" cy="413.9" r="0.85" fill="#2f7a32"/>
<circle cx="417.2" cy="415.3" r="0.85" fill="#2f7a32"/>
<circle cx="413.3" cy="415.6" r="0.85" fill="#2f7a32"/>
<circle cx="415.2" cy="417.6" r="0.85" fill="#2f7a32"/>
<circle cx="415.2" cy="422" r="0.85" fill="#2f7a32"/>
<path d="M447.4 397.69L448.83 395.08L445.97 395.08Z" fill="#3d1a5a"/>
<path d="M444.1 401.5L445.53 398.88L442.67 398.88Z" fill="#3d1a5a"/>
<path d="M450.4 401.5L451.83 398.88L448.97 398.88Z" fill="#3d1a5a"/>
<path d="M447.4 407.39L448.83 404.78L445.97 404.78Z" fill="#3d1a5a"/>
<path d="M453.1 407.69L454.53 405.08L451.67 405.08Z" fill="#3d1a5a"/>
<path d="M441.3 409.3L442.73 406.68L439.87 406.68Z" fill="#3d1a5a"/>
<path d="M447.4 410.6L448.83 407.98L445.97 407.98Z" fill="#3d1a5a"/>
<path d="M453.1 413.6L454.53 410.98L451.67 410.98Z" fill="#3d1a5a"/>
<path d="M441.3 415.69L442.73 413.08L439.87 413.08Z" fill="#3d1a5a"/>
<path d="M447.4 416.5L448.83 413.88L445.97 413.88Z" fill="#3d1a5a"/>
<path d="M441.3 422.19L442.73 419.58L439.87 419.58Z" fill="#3d1a5a"/>
<path d="M453.1 421.39L454.53 418.78L451.67 418.78Z" fill="#3d1a5a"/>
<circle cx="485.4" cy="439.2" r="1.2" fill="#dc8f2a"/>
<circle cx="479.5" cy="440.5" r="1.2" fill="#dc8f2a"/>
<circle cx="476.5" cy="442.9" r="1.2" fill="#dc8f2a"/>
<circle cx="470" cy="443.2" r="1.2" fill="#dc8f2a"/>
<circle cx="485.4" cy="442.1" r="1.2" fill="#dc8f2a"/>
<circle cx="488.9" cy="444.3" r="1.2" fill="#dc8f2a"/>
<circle cx="473.3" cy="445.1" r="1.2" fill="#dc8f2a"/>
<circle cx="482.7" cy="444.5" r="1.2" fill="#dc8f2a"/>
<circle cx="478.9" cy="445.6" r="1.2" fill="#dc8f2a"/>
<circle cx="470" cy="447" r="1.2" fill="#dc8f2a"/>
<circle cx="476.2" cy="446.7" r="1.2" fill="#dc8f2a"/>
<circle cx="482.7" cy="447.8" r="1.2" fill="#dc8f2a"/>
<circle cx="488.9" cy="447.8" r="1.2" fill="#dc8f2a"/>
<circle cx="485.4" cy="445.6" r="1.2" fill="#dc8f2a"/>
<text x="385.65" y="364.02" font-size="9" text-anchor="middle" letter-spacing="0.5">****</text>
<line x1="352.4" y1="363" x2="413.1" y2="363" stroke="#333" stroke-width="1"/>
<text x="434" y="361.61" font-size="7.6" text-anchor="middle">ns</text>
<line x1="419" y1="364" x2="447.6" y2="364" stroke="#333" stroke-width="1"/>
<text x="367.5" y="377.12" font-size="9" text-anchor="middle" letter-spacing="0.6">*</text>
<line x1="351.3" y1="376.7" x2="383.1" y2="376.7" stroke="#333" stroke-width="1"/>
<text x="273.1" y="477.1" font-size="8.2">Teff</text>
<line x1="348.9" y1="474.2" x2="353.5" y2="474.2" stroke="#333" stroke-width="0.8"/>
<line x1="351.2" y1="471.9" x2="351.2" y2="476.5" stroke="#333" stroke-width="0.8"/>
<line x1="380.8" y1="474.2" x2="385.4" y2="474.2" stroke="#333" stroke-width="0.8"/>
<line x1="383.1" y1="471.9" x2="383.1" y2="476.5" stroke="#333" stroke-width="0.8"/>
<line x1="413" y1="474.2" x2="417.6" y2="474.2" stroke="#333" stroke-width="0.8"/>
<line x1="415.3" y1="471.9" x2="415.3" y2="476.5" stroke="#333" stroke-width="0.8"/>
<line x1="445.1" y1="474.2" x2="449.7" y2="474.2" stroke="#333" stroke-width="0.8"/>
<line x1="447.4" y1="471.9" x2="447.4" y2="476.5" stroke="#333" stroke-width="0.8"/>
<line x1="477" y1="474.2" x2="481.6" y2="474.2" stroke="#333" stroke-width="0.8"/>
<line x1="479.3" y1="471.9" x2="479.3" y2="476.5" stroke="#333" stroke-width="0.8"/>
<text x="273.1" y="488.7" font-size="8.2" textLength="62.6" lengthAdjust="spacingAndGlyphs">NC shRNA-MDSC</text>
<line x1="348.9" y1="485.8" x2="353.5" y2="485.8" stroke="#333" stroke-width="0.8"/>
<line x1="351.2" y1="483.5" x2="351.2" y2="488.1" stroke="#333" stroke-width="0.8"/>
<line x1="380.8" y1="485.8" x2="385.4" y2="485.8" stroke="#333" stroke-width="0.8"/>
<line x1="383.1" y1="483.5" x2="383.1" y2="488.1" stroke="#333" stroke-width="0.8"/>
<line x1="413" y1="485.8" x2="417.6" y2="485.8" stroke="#333" stroke-width="0.8"/>
<line x1="445.1" y1="485.8" x2="449.7" y2="485.8" stroke="#333" stroke-width="0.8"/>
<line x1="477" y1="485.8" x2="481.6" y2="485.8" stroke="#333" stroke-width="0.8"/>
<text x="273.1" y="500.3" font-size="8.2" textLength="68.7" lengthAdjust="spacingAndGlyphs">LKB1 shRNA-MDSC</text>
<line x1="348.9" y1="497.4" x2="353.5" y2="497.4" stroke="#333" stroke-width="0.8"/>
<line x1="380.8" y1="497.4" x2="385.4" y2="497.4" stroke="#333" stroke-width="0.8"/>
<line x1="413" y1="497.4" x2="417.6" y2="497.4" stroke="#333" stroke-width="0.8"/>
<line x1="415.3" y1="495.1" x2="415.3" y2="499.7" stroke="#333" stroke-width="0.8"/>
<line x1="445.1" y1="497.4" x2="449.7" y2="497.4" stroke="#333" stroke-width="0.8"/>
<line x1="447.4" y1="495.1" x2="447.4" y2="499.7" stroke="#333" stroke-width="0.8"/>
<line x1="477" y1="497.4" x2="481.6" y2="497.4" stroke="#333" stroke-width="0.8"/>
<text x="273.1" y="511.7" font-size="8.2">Dec</text>
<line x1="348.9" y1="508.8" x2="353.5" y2="508.8" stroke="#333" stroke-width="0.8"/>
<line x1="380.8" y1="508.8" x2="385.4" y2="508.8" stroke="#333" stroke-width="0.8"/>
<line x1="383.1" y1="506.5" x2="383.1" y2="511.1" stroke="#333" stroke-width="0.8"/>
<line x1="413" y1="508.8" x2="417.6" y2="508.8" stroke="#333" stroke-width="0.8"/>
<line x1="445.1" y1="508.8" x2="449.7" y2="508.8" stroke="#333" stroke-width="0.8"/>
<line x1="447.4" y1="506.5" x2="447.4" y2="511.1" stroke="#333" stroke-width="0.8"/>
<line x1="477" y1="508.8" x2="481.6" y2="508.8" stroke="#333" stroke-width="0.8"/>
<text x="3.2" y="554.1" font-size="11.2" font-weight="bold" fill="#111">I</text>
<line x1="19.8" y1="552" x2="19.8" y2="710.6" stroke="#222" stroke-width="1.3"/>
<path d="M19.8 546.6L22.9 554L16.7 554Z" fill="#222"/>
<line x1="19.2" y1="710" x2="294" y2="710" stroke="#222" stroke-width="1.3"/>
<path d="M300.3 710L292.8 706.9L292.8 713.1Z" fill="#222"/>
<text transform="translate(14.4 623.15) rotate(-90)" font-size="10.3" stroke="#2a2a2a" stroke-width="0.15" text-anchor="middle" textLength="66.2" lengthAdjust="spacingAndGlyphs">FL2-JC1 aggregates</text>
<text x="154.4" y="722.4" font-size="10.5" stroke="#2a2a2a" stroke-width="0.12" text-anchor="middle" textLength="66" lengthAdjust="spacingAndGlyphs">FL1-JC1 monomers</text>
<rect x="33.4" y="547.1" width="63.8" height="63.8" fill="none" stroke="#8a8a8a" stroke-width="0.8"/>
<line x1="32.2" y1="547.6" x2="33.4" y2="547.6" stroke="#999" stroke-width="0.4"/>
<line x1="33.9" y1="610.9" x2="33.9" y2="612.1" stroke="#999" stroke-width="0.4"/>
<line x1="32.2" y1="552.9" x2="33.4" y2="552.9" stroke="#999" stroke-width="0.4"/>
<line x1="39.2" y1="610.9" x2="39.2" y2="612.1" stroke="#999" stroke-width="0.4"/>
<line x1="32.2" y1="558.2" x2="33.4" y2="558.2" stroke="#999" stroke-width="0.4"/>
<line x1="44.5" y1="610.9" x2="44.5" y2="612.1" stroke="#999" stroke-width="0.4"/>
<line x1="32.2" y1="563.5" x2="33.4" y2="563.5" stroke="#999" stroke-width="0.4"/>
<line x1="49.8" y1="610.9" x2="49.8" y2="612.1" stroke="#999" stroke-width="0.4"/>
<line x1="32.2" y1="568.8" x2="33.4" y2="568.8" stroke="#999" stroke-width="0.4"/>
<line x1="55.1" y1="610.9" x2="55.1" y2="612.1" stroke="#999" stroke-width="0.4"/>
<line x1="32.2" y1="574.1" x2="33.4" y2="574.1" stroke="#999" stroke-width="0.4"/>
<line x1="60.4" y1="610.9" x2="60.4" y2="612.1" stroke="#999" stroke-width="0.4"/>
<line x1="32.2" y1="579.4" x2="33.4" y2="579.4" stroke="#999" stroke-width="0.4"/>
<line x1="65.7" y1="610.9" x2="65.7" y2="612.1" stroke="#999" stroke-width="0.4"/>
<line x1="32.2" y1="584.7" x2="33.4" y2="584.7" stroke="#999" stroke-width="0.4"/>
<line x1="71" y1="610.9" x2="71" y2="612.1" stroke="#999" stroke-width="0.4"/>
<line x1="32.2" y1="590" x2="33.4" y2="590" stroke="#999" stroke-width="0.4"/>
<line x1="76.3" y1="610.9" x2="76.3" y2="612.1" stroke="#999" stroke-width="0.4"/>
<line x1="32.2" y1="595.3" x2="33.4" y2="595.3" stroke="#999" stroke-width="0.4"/>
<line x1="81.6" y1="610.9" x2="81.6" y2="612.1" stroke="#999" stroke-width="0.4"/>
<line x1="32.2" y1="600.6" x2="33.4" y2="600.6" stroke="#999" stroke-width="0.4"/>
<line x1="86.9" y1="610.9" x2="86.9" y2="612.1" stroke="#999" stroke-width="0.4"/>
<line x1="32.2" y1="605.9" x2="33.4" y2="605.9" stroke="#999" stroke-width="0.4"/>
<line x1="92.2" y1="610.9" x2="92.2" y2="612.1" stroke="#999" stroke-width="0.4"/>
<line x1="32.2" y1="611.2" x2="33.4" y2="611.2" stroke="#999" stroke-width="0.4"/>
<line x1="97.5" y1="610.9" x2="97.5" y2="612.1" stroke="#999" stroke-width="0.4"/>
<text x="31.8" y="549.4" font-size="4.6" text-anchor="end" fill="#777">10<tspan font-size="3.22" dy="-1.6">3</tspan></text>
<text x="31.8" y="565.5" font-size="4.6" text-anchor="end" fill="#777">10<tspan font-size="3.22" dy="-1.6">2</tspan></text>
<text x="31.8" y="581.6" font-size="4.6" text-anchor="end" fill="#777">10<tspan font-size="3.22" dy="-1.6">1</tspan></text>
<text x="31.8" y="597.7" font-size="4.6" text-anchor="end" fill="#777">10<tspan font-size="3.22" dy="-1.6">0</tspan></text>
<text x="50" y="617.1" font-size="4.6" text-anchor="middle" fill="#777">10<tspan font-size="3.22" dy="-1.6">0</tspan></text>
<text x="65.7" y="617.1" font-size="4.6" text-anchor="middle" fill="#777">10<tspan font-size="3.22" dy="-1.6">1</tspan></text>
<text x="81.4" y="617.1" font-size="4.6" text-anchor="middle" fill="#777">10<tspan font-size="3.22" dy="-1.6">2</tspan></text>
<text x="97.1" y="617.1" font-size="4.6" text-anchor="middle" fill="#777">10<tspan font-size="3.22" dy="-1.6">3</tspan></text>
<path d="M84.9 572.4h.55v.55h-.55zM64.9 559.8h.55v.55h-.55zM73.6 576.5h.55v.55h-.55zM72.1 558.4h.55v.55h-.55zM81.6 575.9h.55v.55h-.55zM80.5 581.8h.55v.55h-.55zM76.6 580.6h.55v.55h-.55zM66.3 572.7h.55v.55h-.55zM76.8 573.3h.55v.55h-.55zM79.7 569.0h.55v.55h-.55zM85.1 578.5h.55v.55h-.55zM75.0 582.2h.55v.55h-.55zM80.7 566.0h.55v.55h-.55zM85.4 561.8h.55v.55h-.55zM77.1 573.9h.55v.55h-.55zM79.3 565.4h.55v.55h-.55zM69.4 557.8h.55v.55h-.55zM65.9 572.1h.55v.55h-.55zM83.0 586.6h.55v.55h-.55zM76.9 576.9h.55v.55h-.55zM56.6 563.4h.55v.55h-.55zM74.9 575.4h.55v.55h-.55zM80.2 582.4h.55v.55h-.55zM78.4 563.9h.55v.55h-.55zM86.5 567.8h.55v.55h-.55zM64.5 566.6h.55v.55h-.55zM64.1 564.0h.55v.55h-.55zM76.9 575.9h.55v.55h-.55zM83.8 573.4h.55v.55h-.55zM77.6 571.4h.55v.55h-.55zM73.1 572.1h.55v.55h-.55zM81.8 571.4h.55v.55h-.55zM79.5 575.8h.55v.55h-.55zM73.6 566.3h.55v.55h-.55zM78.7 568.1h.55v.55h-.55zM87.0 567.9h.55v.55h-.55zM66.1 576.2h.55v.55h-.55zM82.2 577.8h.55v.55h-.55zM72.0 569.8h.55v.55h-.55zM77.9 571.8h.55v.55h-.55zM67.7 564.3h.55v.55h-.55zM78.0 591.9h.55v.55h-.55zM73.4 558.5h.55v.55h-.55zM75.0 574.0h.55v.55h-.55zM73.8 576.6h.55v.55h-.55zM69.1 584.7h.55v.55h-.55zM73.3 566.0h.55v.55h-.55zM79.2 567.9h.55v.55h-.55zM82.4 567.4h.55v.55h-.55zM71.7 575.6h.55v.55h-.55zM76.4 590.4h.55v.55h-.55zM71.4 560.3h.55v.55h-.55zM78.5 581.5h.55v.55h-.55zM54.0 570.4h.55v.55h-.55zM76.3 578.7h.55v.55h-.55zM76.7 576.6h.55v.55h-.55zM71.2 579.6h.55v.55h-.55zM86.8 579.0h.55v.55h-.55zM73.9 588.3h.55v.55h-.55zM80.6 563.4h.55v.55h-.55zM76.2 567.4h.55v.55h-.55zM77.6 581.0h.55v.55h-.55zM79.9 565.6h.55v.55h-.55zM72.8 571.2h.55v.55h-.55zM86.4 580.6h.55v.55h-.55zM78.9 577.4h.55v.55h-.55zM77.8 586.4h.55v.55h-.55zM65.3 579.5h.55v.55h-.55zM75.4 582.6h.55v.55h-.55zM72.9 582.0h.55v.55h-.55zM68.1 572.0h.55v.55h-.55zM91.0 578.7h.55v.55h-.55zM78.2 585.7h.55v.55h-.55zM72.6 569.5h.55v.55h-.55zM72.4 579.8h.55v.55h-.55zM79.3 562.6h.55v.55h-.55zM79.1 568.6h.55v.55h-.55zM72.4 578.9h.55v.55h-.55zM71.2 561.1h.55v.55h-.55zM72.6 573.3h.55v.55h-.55zM69.9 584.2h.55v.55h-.55zM74.5 555.4h.55v.55h-.55zM79.4 574.2h.55v.55h-.55zM76.3 569.0h.55v.55h-.55zM76.9 580.8h.55v.55h-.55zM77.9 577.4h.55v.55h-.55zM73.7 559.4h.55v.55h-.55zM83.2 578.0h.55v.55h-.55zM72.3 568.6h.55v.55h-.55zM74.4 573.2h.55v.55h-.55zM84.7 562.0h.55v.55h-.55zM79.0 565.8h.55v.55h-.55zM72.5 565.7h.55v.55h-.55zM70.3 569.8h.55v.55h-.55zM77.2 575.9h.55v.55h-.55zM67.2 574.2h.55v.55h-.55zM65.0 565.5h.55v.55h-.55zM72.6 571.2h.55v.55h-.55zM67.6 561.9h.55v.55h-.55zM88.0 567.4h.55v.55h-.55zM74.7 554.7h.55v.55h-.55zM82.5 578.5h.55v.55h-.55zM73.3 560.4h.55v.55h-.55zM75.4 581.1h.55v.55h-.55zM81.1 575.3h.55v.55h-.55zM77.7 573.5h.55v.55h-.55zM72.2 564.5h.55v.55h-.55zM81.7 597.7h.55v.55h-.55zM79.4 564.5h.55v.55h-.55zM75.8 570.8h.55v.55h-.55zM70.7 551.6h.55v.55h-.55zM78.7 574.2h.55v.55h-.55zM77.3 583.5h.55v.55h-.55zM75.5 564.6h.55v.55h-.55zM77.7 568.9h.55v.55h-.55zM76.2 572.4h.55v.55h-.55zM68.9 575.7h.55v.55h-.55zM74.0 568.1h.55v.55h-.55zM76.7 572.7h.55v.55h-.55zM80.6 555.6h.55v.55h-.55zM77.0 566.9h.55v.55h-.55zM84.7 582.1h.55v.55h-.55zM58.1 566.9h.55v.55h-.55zM79.8 565.9h.55v.55h-.55zM65.9 574.1h.55v.55h-.55zM66.5 568.0h.55v.55h-.55zM78.7 560.7h.55v.55h-.55zM70.2 582.0h.55v.55h-.55zM64.8 576.2h.55v.55h-.55zM79.4 576.3h.55v.55h-.55zM80.7 570.5h.55v.55h-.55zM68.8 573.8h.55v.55h-.55zM68.8 555.1h.55v.55h-.55zM65.4 583.6h.55v.55h-.55zM61.4 561.9h.55v.55h-.55zM69.7 561.7h.55v.55h-.55zM84.5 578.7h.55v.55h-.55zM79.4 567.9h.55v.55h-.55zM74.7 568.7h.55v.55h-.55zM78.8 571.5h.55v.55h-.55zM61.5 565.2h.55v.55h-.55zM71.7 551.3h.55v.55h-.55zM72.5 565.3h.55v.55h-.55zM75.1 578.3h.55v.55h-.55zM85.6 565.1h.55v.55h-.55zM61.7 576.8h.55v.55h-.55zM74.9 568.1h.55v.55h-.55zM76.9 576.8h.55v.55h-.55zM77.9 569.8h.55v.55h-.55zM74.5 592.9h.55v.55h-.55zM69.8 557.5h.55v.55h-.55zM74.9 569.0h.55v.55h-.55zM79.4 584.6h.55v.55h-.55zM69.5 569.1h.55v.55h-.55zM82.4 559.9h.55v.55h-.55zM77.6 570.0h.55v.55h-.55zM79.0 570.1h.55v.55h-.55zM73.7 554.1h.55v.55h-.55zM73.1 563.4h.55v.55h-.55zM81.6 559.0h.55v.55h-.55zM82.6 580.4h.55v.55h-.55zM65.7 575.6h.55v.55h-.55zM78.2 567.6h.55v.55h-.55zM73.4 553.0h.55v.55h-.55zM73.9 573.4h.55v.55h-.55zM72.0 552.2h.55v.55h-.55zM64.9 572.8h.55v.55h-.55zM73.2 578.9h.55v.55h-.55zM78.9 578.9h.55v.55h-.55zM85.4 577.5h.55v.55h-.55zM73.7 572.1h.55v.55h-.55zM73.6 560.0h.55v.55h-.55zM72.7 566.7h.55v.55h-.55zM66.4 568.0h.55v.55h-.55zM88.8 565.4h.55v.55h-.55zM67.8 571.0h.55v.55h-.55zM70.5 573.7h.55v.55h-.55zM65.6 565.3h.55v.55h-.55zM75.2 564.7h.55v.55h-.55zM86.2 580.3h.55v.55h-.55zM75.0 575.0h.55v.55h-.55zM65.7 584.7h.55v.55h-.55zM69.3 559.4h.55v.55h-.55zM73.5 570.2h.55v.55h-.55zM74.0 582.8h.55v.55h-.55zM74.0 581.4h.55v.55h-.55zM82.3 567.7h.55v.55h-.55zM76.2 567.6h.55v.55h-.55zM83.1 569.8h.55v.55h-.55zM70.7 589.1h.55v.55h-.55zM81.3 553.2h.55v.55h-.55zM76.9 576.7h.55v.55h-.55zM69.2 563.8h.55v.55h-.55zM85.0 567.3h.55v.55h-.55zM72.9 562.2h.55v.55h-.55zM64.0 580.7h.55v.55h-.55zM71.8 594.3h.55v.55h-.55zM58.6 592.8h.55v.55h-.55zM84.5 586.5h.55v.55h-.55zM78.9 571.0h.55v.55h-.55zM82.3 563.6h.55v.55h-.55zM80.3 575.4h.55v.55h-.55zM72.5 578.3h.55v.55h-.55zM65.7 578.1h.55v.55h-.55zM67.7 578.6h.55v.55h-.55zM69.4 577.1h.55v.55h-.55zM81.1 577.0h.55v.55h-.55zM78.5 578.5h.55v.55h-.55zM75.6 555.0h.55v.55h-.55zM79.3 565.3h.55v.55h-.55zM84.8 565.5h.55v.55h-.55zM76.9 573.7h.55v.55h-.55zM76.7 564.7h.55v.55h-.55zM84.3 571.7h.55v.55h-.55zM79.0 574.7h.55v.55h-.55zM72.0 578.3h.55v.55h-.55zM83.5 585.3h.55v.55h-.55zM66.3 562.2h.55v.55h-.55zM85.8 560.7h.55v.55h-.55zM72.5 561.8h.55v.55h-.55zM57.7 577.2h.55v.55h-.55zM82.7 564.9h.55v.55h-.55zM63.8 582.4h.55v.55h-.55zM88.1 576.9h.55v.55h-.55zM61.9 559.4h.55v.55h-.55zM66.4 569.5h.55v.55h-.55zM70.4 580.0h.55v.55h-.55zM77.4 566.4h.55v.55h-.55zM77.0 558.6h.55v.55h-.55zM72.6 572.4h.55v.55h-.55zM73.9 588.2h.55v.55h-.55zM75.7 580.6h.55v.55h-.55zM77.2 550.3h.55v.55h-.55zM66.5 575.3h.55v.55h-.55zM62.3 562.1h.55v.55h-.55zM69.3 578.5h.55v.55h-.55zM66.6 570.7h.55v.55h-.55zM74.0 557.1h.55v.55h-.55zM83.4 571.4h.55v.55h-.55zM67.5 567.4h.55v.55h-.55zM75.5 575.9h.55v.55h-.55zM65.8 573.9h.55v.55h-.55zM63.5 582.1h.55v.55h-.55zM58.4 567.5h.55v.55h-.55zM75.2 573.2h.55v.55h-.55zM81.7 592.5h.55v.55h-.55zM75.0 557.5h.55v.55h-.55zM76.4 566.8h.55v.55h-.55zM69.9 574.3h.55v.55h-.55zM63.2 560.9h.55v.55h-.55zM78.5 566.5h.55v.55h-.55zM73.6 564.4h.55v.55h-.55zM70.9 576.1h.55v.55h-.55zM72.9 581.2h.55v.55h-.55zM72.7 575.2h.55v.55h-.55zM72.3 570.5h.55v.55h-.55zM77.0 582.2h.55v.55h-.55zM73.4 569.5h.55v.55h-.55zM78.5 579.4h.55v.55h-.55zM73.2 565.5h.55v.55h-.55zM77.1 553.8h.55v.55h-.55zM70.8 572.4h.55v.55h-.55zM71.7 568.4h.55v.55h-.55zM72.0 585.3h.55v.55h-.55zM78.1 573.0h.55v.55h-.55zM75.7 552.0h.55v.55h-.55zM70.6 568.7h.55v.55h-.55zM66.5 581.8h.55v.55h-.55zM79.3 577.6h.55v.55h-.55zM78.8 564.4h.55v.55h-.55zM64.4 564.5h.55v.55h-.55zM82.0 571.2h.55v.55h-.55zM68.0 573.0h.55v.55h-.55zM67.9 568.7h.55v.55h-.55zM65.9 579.7h.55v.55h-.55zM70.6 555.2h.55v.55h-.55zM75.0 581.9h.55v.55h-.55zM72.0 578.0h.55v.55h-.55zM76.7 578.8h.55v.55h-.55zM70.7 578.6h.55v.55h-.55zM69.1 580.7h.55v.55h-.55zM75.4 573.9h.55v.55h-.55zM88.3 583.9h.55v.55h-.55zM68.7 579.6h.55v.55h-.55zM77.8 551.3h.55v.55h-.55zM66.8 583.3h.55v.55h-.55zM82.9 577.3h.55v.55h-.55zM75.8 565.5h.55v.55h-.55zM78.6 583.3h.55v.55h-.55zM81.4 568.7h.55v.55h-.55zM76.5 569.4h.55v.55h-.55zM81.4 560.3h.55v.55h-.55zM70.3 590.6h.55v.55h-.55zM79.6 566.8h.55v.55h-.55zM77.9 565.6h.55v.55h-.55zM69.8 558.7h.55v.55h-.55zM80.3 565.7h.55v.55h-.55zM76.0 593.4h.55v.55h-.55zM66.8 576.4h.55v.55h-.55zM78.4 587.1h.55v.55h-.55zM76.9 563.0h.55v.55h-.55zM78.5 574.5h.55v.55h-.55zM64.8 587.7h.55v.55h-.55zM78.1 575.7h.55v.55h-.55zM76.5 570.7h.55v.55h-.55zM76.0 580.9h.55v.55h-.55zM86.0 583.5h.55v.55h-.55zM68.7 582.2h.55v.55h-.55zM71.6 574.0h.55v.55h-.55zM82.5 568.5h.55v.55h-.55zM81.7 579.6h.55v.55h-.55zM67.2 556.7h.55v.55h-.55zM83.5 565.0h.55v.55h-.55zM70.6 568.6h.55v.55h-.55zM81.9 562.4h.55v.55h-.55zM70.1 581.1h.55v.55h-.55zM88.7 569.0h.55v.55h-.55zM66.5 588.8h.55v.55h-.55zM72.2 562.6h.55v.55h-.55zM69.4 565.0h.55v.55h-.55zM81.2 569.5h.55v.55h-.55zM63.0 572.2h.55v.55h-.55zM74.1 576.9h.55v.55h-.55zM70.9 568.9h.55v.55h-.55zM77.1 574.2h.55v.55h-.55zM68.2 554.2h.55v.55h-.55zM66.5 568.2h.55v.55h-.55zM71.0 574.1h.55v.55h-.55zM74.9 565.0h.55v.55h-.55zM80.4 579.6h.55v.55h-.55zM69.8 551.1h.55v.55h-.55zM69.0 571.4h.55v.55h-.55zM70.5 586.0h.55v.55h-.55zM77.2 564.0h.55v.55h-.55zM66.8 572.0h.55v.55h-.55zM85.4 561.7h.55v.55h-.55zM81.9 585.1h.55v.55h-.55zM70.4 573.4h.55v.55h-.55zM86.9 563.7h.55v.55h-.55zM65.8 580.3h.55v.55h-.55zM72.2 577.5h.55v.55h-.55zM75.5 561.0h.55v.55h-.55zM75.4 557.5h.55v.55h-.55zM59.2 589.1h.55v.55h-.55zM68.6 585.2h.55v.55h-.55zM80.6 571.5h.55v.55h-.55zM80.4 551.8h.55v.55h-.55zM75.1 572.4h.55v.55h-.55zM67.3 585.5h.55v.55h-.55zM78.3 568.0h.55v.55h-.55zM68.5 590.0h.55v.55h-.55zM87.6 555.5h.55v.55h-.55zM75.2 579.4h.55v.55h-.55zM80.3 592.0h.55v.55h-.55zM61.7 573.3h.55v.55h-.55zM70.5 581.1h.55v.55h-.55zM81.1 581.4h.55v.55h-.55zM66.0 570.5h.55v.55h-.55zM64.5 564.3h.55v.55h-.55zM78.1 580.8h.55v.55h-.55zM86.5 566.9h.55v.55h-.55zM64.5 563.1h.55v.55h-.55zM68.2 562.7h.55v.55h-.55zM72.3 576.3h.55v.55h-.55zM81.6 575.8h.55v.55h-.55zM72.2 577.6h.55v.55h-.55zM80.7 577.5h.55v.55h-.55zM68.0 562.9h.55v.55h-.55zM65.1 570.8h.55v.55h-.55zM85.8 572.6h.55v.55h-.55zM74.8 571.6h.55v.55h-.55zM74.2 570.9h.55v.55h-.55zM90.6 574.9h.55v.55h-.55zM72.7 576.3h.55v.55h-.55zM67.2 573.6h.55v.55h-.55zM72.5 575.9h.55v.55h-.55zM66.2 578.8h.55v.55h-.55zM76.5 577.0h.55v.55h-.55zM69.9 571.5h.55v.55h-.55zM90.3 554.4h.55v.55h-.55zM73.4 575.5h.55v.55h-.55zM73.6 569.8h.55v.55h-.55zM83.3 586.2h.55v.55h-.55zM80.5 573.7h.55v.55h-.55zM65.8 560.6h.55v.55h-.55zM75.2 568.6h.55v.55h-.55zM79.5 572.4h.55v.55h-.55zM75.1 561.0h.55v.55h-.55zM79.5 569.1h.55v.55h-.55zM79.5 563.4h.55v.55h-.55zM85.4 561.8h.55v.55h-.55zM64.5 565.1h.55v.55h-.55zM79.1 555.8h.55v.55h-.55zM71.8 556.3h.55v.55h-.55zM69.5 565.3h.55v.55h-.55zM79.8 578.2h.55v.55h-.55zM64.1 585.1h.55v.55h-.55zM69.6 560.1h.55v.55h-.55zM69.2 589.9h.55v.55h-.55zM74.4 582.7h.55v.55h-.55zM65.2 577.2h.55v.55h-.55zM75.6 587.7h.55v.55h-.55zM82.3 585.8h.55v.55h-.55zM81.9 570.5h.55v.55h-.55zM76.5 565.0h.55v.55h-.55zM73.3 563.5h.55v.55h-.55zM74.5 573.7h.55v.55h-.55zM67.7 567.8h.55v.55h-.55zM69.7 582.3h.55v.55h-.55zM78.0 589.2h.55v.55h-.55zM72.7 572.6h.55v.55h-.55zM69.2 579.5h.55v.55h-.55zM72.2 566.3h.55v.55h-.55zM67.7 582.4h.55v.55h-.55zM80.3 555.4h.55v.55h-.55zM77.1 581.7h.55v.55h-.55zM70.3 581.0h.55v.55h-.55zM68.6 593.1h.55v.55h-.55zM72.5 586.5h.55v.55h-.55zM74.3 586.0h.55v.55h-.55zM71.8 580.9h.55v.55h-.55zM76.1 566.9h.55v.55h-.55zM74.6 578.1h.55v.55h-.55zM66.4 566.7h.55v.55h-.55zM76.2 559.8h.55v.55h-.55zM74.7 577.2h.55v.55h-.55zM81.9 580.1h.55v.55h-.55zM73.8 569.4h.55v.55h-.55zM67.8 573.3h.55v.55h-.55zM76.6 572.7h.55v.55h-.55zM85.0 573.1h.55v.55h-.55zM75.2 573.6h.55v.55h-.55zM74.0 565.3h.55v.55h-.55zM82.0 555.8h.55v.55h-.55zM68.9 568.5h.55v.55h-.55zM87.1 569.8h.55v.55h-.55zM84.8 580.4h.55v.55h-.55zM88.6 571.4h.55v.55h-.55zM66.9 563.6h.55v.55h-.55zM75.5 576.6h.55v.55h-.55zM82.6 577.5h.55v.55h-.55zM70.7 583.6h.55v.55h-.55zM77.3 577.2h.55v.55h-.55zM72.5 553.5h.55v.55h-.55zM85.9 571.9h.55v.55h-.55zM78.7 589.1h.55v.55h-.55zM76.9 584.4h.55v.55h-.55zM85.3 572.3h.55v.55h-.55zM71.4 585.4h.55v.55h-.55zM77.5 550.1h.55v.55h-.55zM75.4 576.8h.55v.55h-.55zM68.6 593.4h.55v.55h-.55zM72.0 577.6h.55v.55h-.55zM67.6 576.8h.55v.55h-.55zM72.5 581.5h.55v.55h-.55zM80.9 554.2h.55v.55h-.55zM67.2 565.4h.55v.55h-.55zM70.1 573.2h.55v.55h-.55zM76.5 576.3h.55v.55h-.55zM78.7 560.2h.55v.55h-.55zM74.8 568.8h.55v.55h-.55zM70.7 577.4h.55v.55h-.55zM73.2 566.5h.55v.55h-.55zM74.2 563.1h.55v.55h-.55zM74.4 562.8h.55v.55h-.55zM56.2 554.3h.55v.55h-.55zM66.8 570.7h.55v.55h-.55zM82.5 575.1h.55v.55h-.55zM76.9 561.5h.55v.55h-.55zM74.6 550.8h.55v.55h-.55zM73.7 582.9h.55v.55h-.55zM77.0 562.0h.55v.55h-.55zM65.8 560.2h.55v.55h-.55zM71.9 562.8h.55v.55h-.55zM62.5 564.0h.55v.55h-.55zM87.9 569.5h.55v.55h-.55zM77.3 584.4h.55v.55h-.55zM64.9 586.0h.55v.55h-.55zM66.3 586.1h.55v.55h-.55zM64.0 576.8h.55v.55h-.55zM83.5 575.5h.55v.55h-.55zM72.6 571.7h.55v.55h-.55zM75.2 576.7h.55v.55h-.55zM78.7 581.2h.55v.55h-.55zM74.3 564.7h.55v.55h-.55zM93.3 577.8h.55v.55h-.55zM77.9 576.3h.55v.55h-.55zM69.6 563.9h.55v.55h-.55zM65.0 576.6h.55v.55h-.55zM81.5 573.5h.55v.55h-.55zM72.6 579.0h.55v.55h-.55zM68.2 568.4h.55v.55h-.55zM63.0 555.4h.55v.55h-.55zM83.4 580.2h.55v.55h-.55zM68.7 554.8h.55v.55h-.55zM76.5 584.1h.55v.55h-.55zM65.4 573.3h.55v.55h-.55zM69.7 572.0h.55v.55h-.55zM73.7 579.5h.55v.55h-.55zM78.8 576.8h.55v.55h-.55zM80.0 582.4h.55v.55h-.55zM68.1 563.9h.55v.55h-.55zM83.4 568.9h.55v.55h-.55zM89.2 567.7h.55v.55h-.55zM75.7 553.9h.55v.55h-.55zM75.2 579.0h.55v.55h-.55zM69.9 573.6h.55v.55h-.55zM65.1 571.1h.55v.55h-.55zM68.3 572.4h.55v.55h-.55zM65.1 562.1h.55v.55h-.55zM67.0 577.2h.55v.55h-.55zM64.9 570.1h.55v.55h-.55zM67.8 564.8h.55v.55h-.55zM68.0 572.5h.55v.55h-.55zM69.2 571.0h.55v.55h-.55zM75.1 581.5h.55v.55h-.55zM69.6 566.3h.55v.55h-.55zM80.9 570.5h.55v.55h-.55zM66.8 569.8h.55v.55h-.55zM65.6 585.7h.55v.55h-.55zM80.3 573.8h.55v.55h-.55zM69.0 569.8h.55v.55h-.55zM63.4 580.6h.55v.55h-.55zM79.7 561.2h.55v.55h-.55zM73.8 561.9h.55v.55h-.55zM69.1 595.3h.55v.55h-.55zM74.7 579.6h.55v.55h-.55zM75.4 569.3h.55v.55h-.55zM78.0 573.2h.55v.55h-.55zM72.0 569.1h.55v.55h-.55zM76.4 552.7h.55v.55h-.55zM80.8 568.9h.55v.55h-.55zM71.0 579.3h.55v.55h-.55zM80.1 553.8h.55v.55h-.55zM73.2 575.1h.55v.55h-.55zM72.2 575.0h.55v.55h-.55zM81.0 573.4h.55v.55h-.55zM70.3 557.6h.55v.55h-.55zM63.2 570.2h.55v.55h-.55zM69.9 570.9h.55v.55h-.55zM69.3 574.2h.55v.55h-.55zM72.7 566.1h.55v.55h-.55zM68.4 588.7h.55v.55h-.55zM72.6 556.9h.55v.55h-.55zM64.0 565.0h.55v.55h-.55zM84.4 571.4h.55v.55h-.55zM63.8 561.5h.55v.55h-.55zM69.6 569.9h.55v.55h-.55zM69.2 579.2h.55v.55h-.55zM73.7 577.7h.55v.55h-.55zM85.7 563.2h.55v.55h-.55zM70.4 559.5h.55v.55h-.55zM82.2 564.2h.55v.55h-.55zM80.7 558.5h.55v.55h-.55zM70.1 554.8h.55v.55h-.55zM71.0 586.0h.55v.55h-.55zM82.2 581.9h.55v.55h-.55zM77.2 565.4h.55v.55h-.55zM66.3 571.7h.55v.55h-.55zM69.0 564.6h.55v.55h-.55zM79.9 555.2h.55v.55h-.55zM64.5 571.7h.55v.55h-.55zM73.3 568.2h.55v.55h-.55zM62.7 570.2h.55v.55h-.55zM65.9 563.4h.55v.55h-.55zM70.1 578.7h.55v.55h-.55zM86.6 575.5h.55v.55h-.55zM82.8 566.0h.55v.55h-.55zM63.7 582.1h.55v.55h-.55zM90.7 557.4h.55v.55h-.55zM71.0 572.9h.55v.55h-.55zM78.4 565.9h.55v.55h-.55zM82.6 560.8h.55v.55h-.55zM73.1 560.7h.55v.55h-.55zM64.2 569.8h.55v.55h-.55zM75.5 584.9h.55v.55h-.55zM73.3 575.6h.55v.55h-.55zM74.8 561.5h.55v.55h-.55zM68.1 579.3h.55v.55h-.55zM78.4 564.4h.55v.55h-.55zM81.3 568.5h.55v.55h-.55zM63.3 575.4h.55v.55h-.55zM81.9 575.6h.55v.55h-.55zM77.9 555.7h.55v.55h-.55zM83.7 569.1h.55v.55h-.55zM68.0 569.4h.55v.55h-.55zM76.3 585.3h.55v.55h-.55zM82.7 584.1h.55v.55h-.55zM77.6 571.6h.55v.55h-.55zM86.0 573.7h.55v.55h-.55zM71.2 571.8h.55v.55h-.55zM75.5 579.0h.55v.55h-.55zM82.8 562.4h.55v.55h-.55zM77.2 568.2h.55v.55h-.55zM69.6 553.8h.55v.55h-.55zM66.0 557.8h.55v.55h-.55zM66.3 576.2h.55v.55h-.55zM73.8 568.6h.55v.55h-.55zM75.0 566.3h.55v.55h-.55zM84.3 578.5h.55v.55h-.55zM82.5 575.8h.55v.55h-.55zM70.3 572.0h.55v.55h-.55zM74.5 574.3h.55v.55h-.55zM73.6 569.3h.55v.55h-.55zM82.1 556.1h.55v.55h-.55zM72.8 574.3h.55v.55h-.55zM82.7 576.9h.55v.55h-.55zM69.2 577.7h.55v.55h-.55zM78.0 566.3h.55v.55h-.55zM67.0 576.4h.55v.55h-.55zM67.4 569.7h.55v.55h-.55zM81.4 569.2h.55v.55h-.55zM84.4 568.3h.55v.55h-.55zM79.5 581.7h.55v.55h-.55zM76.7 576.1h.55v.55h-.55zM74.9 552.2h.55v.55h-.55zM81.0 559.2h.55v.55h-.55zM73.2 572.0h.55v.55h-.55zM72.8 572.1h.55v.55h-.55zM60.8 570.3h.55v.55h-.55zM77.1 558.9h.55v.55h-.55zM71.2 583.4h.55v.55h-.55zM68.3 572.3h.55v.55h-.55zM65.1 570.5h.55v.55h-.55zM72.3 590.5h.55v.55h-.55zM73.9 581.9h.55v.55h-.55zM72.5 577.0h.55v.55h-.55zM83.3 560.5h.55v.55h-.55zM71.8 576.6h.55v.55h-.55zM76.5 579.3h.55v.55h-.55zM75.5 579.4h.55v.55h-.55zM74.9 567.9h.55v.55h-.55zM77.3 569.5h.55v.55h-.55zM80.3 566.5h.55v.55h-.55zM78.4 553.9h.55v.55h-.55zM73.0 581.3h.55v.55h-.55zM76.3 581.8h.55v.55h-.55zM65.0 576.1h.55v.55h-.55zM72.2 564.7h.55v.55h-.55zM72.6 574.4h.55v.55h-.55zM87.5 586.0h.55v.55h-.55zM78.4 568.6h.55v.55h-.55zM80.2 589.4h.55v.55h-.55zM73.1 573.8h.55v.55h-.55zM81.3 568.4h.55v.55h-.55zM79.2 575.4h.55v.55h-.55zM82.2 576.0h.55v.55h-.55zM71.1 565.2h.55v.55h-.55zM79.3 577.2h.55v.55h-.55zM78.7 586.5h.55v.55h-.55zM68.5 582.5h.55v.55h-.55zM65.8 581.6h.55v.55h-.55zM70.5 568.6h.55v.55h-.55zM68.0 582.9h.55v.55h-.55zM58.8 568.6h.55v.55h-.55zM65.4 575.7h.55v.55h-.55zM81.1 565.7h.55v.55h-.55zM65.7 580.8h.55v.55h-.55zM72.3 583.4h.55v.55h-.55zM71.4 572.0h.55v.55h-.55zM68.8 572.5h.55v.55h-.55zM77.9 559.6h.55v.55h-.55zM65.8 576.4h.55v.55h-.55zM73.8 566.1h.55v.55h-.55zM67.9 592.8h.55v.55h-.55zM81.6 558.6h.55v.55h-.55zM72.2 564.8h.55v.55h-.55zM76.7 568.6h.55v.55h-.55zM80.1 569.0h.55v.55h-.55zM76.2 585.5h.55v.55h-.55zM79.4 577.2h.55v.55h-.55zM73.7 566.8h.55v.55h-.55zM70.4 587.1h.55v.55h-.55zM73.8 555.5h.55v.55h-.55zM64.4 568.7h.55v.55h-.55zM83.0 569.4h.55v.55h-.55zM74.7 566.2h.55v.55h-.55zM69.9 582.0h.55v.55h-.55zM72.7 568.2h.55v.55h-.55zM76.0 591.3h.55v.55h-.55zM72.5 574.9h.55v.55h-.55zM78.2 575.1h.55v.55h-.55zM64.3 574.0h.55v.55h-.55zM80.0 571.8h.55v.55h-.55zM70.2 585.7h.55v.55h-.55zM79.1 586.4h.55v.55h-.55zM67.3 558.8h.55v.55h-.55zM74.3 571.9h.55v.55h-.55zM90.3 577.7h.55v.55h-.55zM82.3 575.6h.55v.55h-.55zM83.8 571.1h.55v.55h-.55zM83.3 572.7h.55v.55h-.55zM75.4 563.3h.55v.55h-.55zM72.2 581.0h.55v.55h-.55z" fill="#b0b0b0"/>
<ellipse cx="72.4" cy="570.5" rx="7.54" ry="13.94" fill="#b48ac8" fill-opacity="0.22"/>
<path d="M77.6 585.9h.6v.6h-.6zM74.1 555.0h.6v.6h-.6zM80.9 561.0h.6v.6h-.6zM75.0 569.1h.6v.6h-.6zM67.0 570.8h.6v.6h-.6zM72.4 581.2h.6v.6h-.6zM71.0 562.4h.6v.6h-.6zM70.9 593.0h.6v.6h-.6zM71.5 580.2h.6v.6h-.6zM74.8 568.9h.6v.6h-.6zM69.2 581.0h.6v.6h-.6zM73.1 567.1h.6v.6h-.6zM73.1 551.5h.6v.6h-.6zM67.9 561.4h.6v.6h-.6zM72.2 561.4h.6v.6h-.6zM66.4 562.9h.6v.6h-.6zM80.0 574.0h.6v.6h-.6zM74.2 565.6h.6v.6h-.6zM71.1 556.0h.6v.6h-.6zM71.9 584.4h.6v.6h-.6zM65.4 563.5h.6v.6h-.6zM75.8 592.2h.6v.6h-.6zM73.9 558.7h.6v.6h-.6zM66.2 575.9h.6v.6h-.6zM70.9 559.7h.6v.6h-.6zM71.4 561.5h.6v.6h-.6zM63.3 586.2h.6v.6h-.6zM73.3 575.3h.6v.6h-.6zM82.3 568.1h.6v.6h-.6zM67.8 561.4h.6v.6h-.6zM62.7 557.6h.6v.6h-.6zM74.8 565.2h.6v.6h-.6zM71.7 567.1h.6v.6h-.6zM69.1 570.4h.6v.6h-.6zM74.3 571.4h.6v.6h-.6zM64.5 585.6h.6v.6h-.6zM63.9 576.3h.6v.6h-.6zM72.4 574.4h.6v.6h-.6zM78.6 573.6h.6v.6h-.6zM73.2 574.5h.6v.6h-.6zM77.5 552.5h.6v.6h-.6zM70.9 574.7h.6v.6h-.6zM63.4 564.6h.6v.6h-.6zM69.8 575.3h.6v.6h-.6zM63.6 571.5h.6v.6h-.6zM68.3 580.1h.6v.6h-.6zM72.4 566.6h.6v.6h-.6zM72.5 576.6h.6v.6h-.6zM72.9 571.8h.6v.6h-.6zM75.8 590.4h.6v.6h-.6zM73.0 557.1h.6v.6h-.6zM80.0 571.0h.6v.6h-.6zM72.9 556.8h.6v.6h-.6zM64.6 560.4h.6v.6h-.6zM76.0 578.3h.6v.6h-.6zM68.6 559.0h.6v.6h-.6zM74.5 592.5h.6v.6h-.6zM74.5 567.7h.6v.6h-.6zM74.3 563.2h.6v.6h-.6zM76.9 560.7h.6v.6h-.6zM73.1 575.1h.6v.6h-.6zM77.3 573.8h.6v.6h-.6zM73.7 564.1h.6v.6h-.6zM79.7 589.9h.6v.6h-.6zM77.0 580.3h.6v.6h-.6zM76.4 570.7h.6v.6h-.6zM69.6 573.0h.6v.6h-.6zM64.4 560.2h.6v.6h-.6zM73.9 578.7h.6v.6h-.6zM68.4 569.1h.6v.6h-.6zM73.9 572.0h.6v.6h-.6zM67.2 572.8h.6v.6h-.6zM82.9 574.9h.6v.6h-.6zM65.0 564.6h.6v.6h-.6zM78.3 579.1h.6v.6h-.6zM67.7 574.4h.6v.6h-.6zM82.5 567.7h.6v.6h-.6zM75.4 573.3h.6v.6h-.6zM65.8 560.9h.6v.6h-.6zM69.3 569.5h.6v.6h-.6zM79.4 580.3h.6v.6h-.6zM69.1 565.7h.6v.6h-.6zM71.7 568.5h.6v.6h-.6zM65.5 575.8h.6v.6h-.6zM72.7 561.0h.6v.6h-.6zM67.9 571.0h.6v.6h-.6zM75.5 581.8h.6v.6h-.6zM67.5 582.2h.6v.6h-.6zM65.0 575.4h.6v.6h-.6zM67.1 568.8h.6v.6h-.6zM69.7 582.0h.6v.6h-.6zM72.8 573.2h.6v.6h-.6zM69.5 565.9h.6v.6h-.6zM75.0 568.4h.6v.6h-.6zM68.0 589.1h.6v.6h-.6zM69.4 570.5h.6v.6h-.6zM73.2 564.4h.6v.6h-.6zM75.6 556.1h.6v.6h-.6zM74.6 561.3h.6v.6h-.6zM80.4 584.8h.6v.6h-.6zM75.9 569.7h.6v.6h-.6zM71.3 569.8h.6v.6h-.6zM66.5 564.7h.6v.6h-.6zM72.4 571.2h.6v.6h-.6zM65.1 579.2h.6v.6h-.6zM71.7 583.7h.6v.6h-.6zM76.1 588.6h.6v.6h-.6zM63.5 568.1h.6v.6h-.6zM72.9 566.7h.6v.6h-.6zM73.0 550.8h.6v.6h-.6zM69.1 559.2h.6v.6h-.6zM75.3 594.7h.6v.6h-.6zM68.8 582.2h.6v.6h-.6zM72.2 570.5h.6v.6h-.6zM73.3 561.8h.6v.6h-.6zM65.2 566.8h.6v.6h-.6zM77.3 568.5h.6v.6h-.6zM74.8 569.2h.6v.6h-.6zM72.6 567.2h.6v.6h-.6zM73.9 558.8h.6v.6h-.6z" fill="#9a5aa8" fill-opacity="0.7"/>
<ellipse cx="71.9" cy="574.5" rx="5.46" ry="8.86" fill="#a862b0" fill-opacity="0.6"/>
<ellipse cx="71.9" cy="574.5" rx="4.47" ry="7.22" fill="#75508f" fill-opacity="0.9"/>
<ellipse cx="72.1" cy="574.5" rx="3.22" ry="5.58" fill="#4f5fa0"/>
<ellipse cx="72.2" cy="575" rx="1.87" ry="3.44" fill="#3aa8a0"/>
<line x1="63.2" y1="547.1" x2="63.2" y2="610.9" stroke="#6e6e6e" stroke-width="0.8"/>
<line x1="33.4" y1="585.3" x2="97.2" y2="585.3" stroke="#6e6e6e" stroke-width="0.8"/>
<text x="64.2" y="589.7" font-size="4.8" stroke="#1a1a1a" stroke-width="0.15" fill="#1a1a1a" textLength="10.8" lengthAdjust="spacingAndGlyphs">7.12%</text>
<text x="58.6" y="625.6" font-size="6.8" font-weight="bold" fill="#222">a</text>
<text x="63.6" y="625.6" font-size="6.8" fill="#333" textLength="10.8" lengthAdjust="spacingAndGlyphs">PLT</text>
<rect x="125" y="547.1" width="63.8" height="63.8" fill="none" stroke="#8a8a8a" stroke-width="0.8"/>
<line x1="123.8" y1="547.6" x2="125" y2="547.6" stroke="#999" stroke-width="0.4"/>
<line x1="125.5" y1="610.9" x2="125.5" y2="612.1" stroke="#999" stroke-width="0.4"/>
<line x1="123.8" y1="552.9" x2="125" y2="552.9" stroke="#999" stroke-width="0.4"/>
<line x1="130.8" y1="610.9" x2="130.8" y2="612.1" stroke="#999" stroke-width="0.4"/>
<line x1="123.8" y1="558.2" x2="125" y2="558.2" stroke="#999" stroke-width="0.4"/>
<line x1="136.1" y1="610.9" x2="136.1" y2="612.1" stroke="#999" stroke-width="0.4"/>
<line x1="123.8" y1="563.5" x2="125" y2="563.5" stroke="#999" stroke-width="0.4"/>
<line x1="141.4" y1="610.9" x2="141.4" y2="612.1" stroke="#999" stroke-width="0.4"/>
<line x1="123.8" y1="568.8" x2="125" y2="568.8" stroke="#999" stroke-width="0.4"/>
<line x1="146.7" y1="610.9" x2="146.7" y2="612.1" stroke="#999" stroke-width="0.4"/>
<line x1="123.8" y1="574.1" x2="125" y2="574.1" stroke="#999" stroke-width="0.4"/>
<line x1="152" y1="610.9" x2="152" y2="612.1" stroke="#999" stroke-width="0.4"/>
<line x1="123.8" y1="579.4" x2="125" y2="579.4" stroke="#999" stroke-width="0.4"/>
<line x1="157.3" y1="610.9" x2="157.3" y2="612.1" stroke="#999" stroke-width="0.4"/>
<line x1="123.8" y1="584.7" x2="125" y2="584.7" stroke="#999" stroke-width="0.4"/>
<line x1="162.6" y1="610.9" x2="162.6" y2="612.1" stroke="#999" stroke-width="0.4"/>
<line x1="123.8" y1="590" x2="125" y2="590" stroke="#999" stroke-width="0.4"/>
<line x1="167.9" y1="610.9" x2="167.9" y2="612.1" stroke="#999" stroke-width="0.4"/>
<line x1="123.8" y1="595.3" x2="125" y2="595.3" stroke="#999" stroke-width="0.4"/>
<line x1="173.2" y1="610.9" x2="173.2" y2="612.1" stroke="#999" stroke-width="0.4"/>
<line x1="123.8" y1="600.6" x2="125" y2="600.6" stroke="#999" stroke-width="0.4"/>
<line x1="178.5" y1="610.9" x2="178.5" y2="612.1" stroke="#999" stroke-width="0.4"/>
<line x1="123.8" y1="605.9" x2="125" y2="605.9" stroke="#999" stroke-width="0.4"/>
<line x1="183.8" y1="610.9" x2="183.8" y2="612.1" stroke="#999" stroke-width="0.4"/>
<line x1="123.8" y1="611.2" x2="125" y2="611.2" stroke="#999" stroke-width="0.4"/>
<line x1="189.1" y1="610.9" x2="189.1" y2="612.1" stroke="#999" stroke-width="0.4"/>
<text x="123.4" y="549.4" font-size="4.6" text-anchor="end" fill="#777">10<tspan font-size="3.22" dy="-1.6">3</tspan></text>
<text x="123.4" y="565.5" font-size="4.6" text-anchor="end" fill="#777">10<tspan font-size="3.22" dy="-1.6">2</tspan></text>
<text x="123.4" y="581.6" font-size="4.6" text-anchor="end" fill="#777">10<tspan font-size="3.22" dy="-1.6">1</tspan></text>
<text x="123.4" y="597.7" font-size="4.6" text-anchor="end" fill="#777">10<tspan font-size="3.22" dy="-1.6">0</tspan></text>
<text x="141.6" y="617.1" font-size="4.6" text-anchor="middle" fill="#777">10<tspan font-size="3.22" dy="-1.6">0</tspan></text>
<text x="157.3" y="617.1" font-size="4.6" text-anchor="middle" fill="#777">10<tspan font-size="3.22" dy="-1.6">1</tspan></text>
<text x="173" y="617.1" font-size="4.6" text-anchor="middle" fill="#777">10<tspan font-size="3.22" dy="-1.6">2</tspan></text>
<text x="188.7" y="617.1" font-size="4.6" text-anchor="middle" fill="#777">10<tspan font-size="3.22" dy="-1.6">3</tspan></text>
<path d="M178.8 581.5h.55v.55h-.55zM172.9 572.1h.55v.55h-.55zM160.6 572.9h.55v.55h-.55zM160.2 562.4h.55v.55h-.55zM171.6 570.9h.55v.55h-.55zM165.2 570.2h.55v.55h-.55zM160.0 566.4h.55v.55h-.55zM164.6 574.6h.55v.55h-.55zM144.6 573.9h.55v.55h-.55zM175.0 569.0h.55v.55h-.55zM170.2 555.3h.55v.55h-.55zM167.4 573.3h.55v.55h-.55zM158.2 557.6h.55v.55h-.55zM153.5 561.5h.55v.55h-.55zM170.8 556.9h.55v.55h-.55zM166.4 576.8h.55v.55h-.55zM164.6 582.9h.55v.55h-.55zM169.3 590.6h.55v.55h-.55zM157.3 567.8h.55v.55h-.55zM164.4 557.0h.55v.55h-.55zM163.1 579.6h.55v.55h-.55zM167.9 577.2h.55v.55h-.55zM163.4 574.1h.55v.55h-.55zM171.5 580.5h.55v.55h-.55zM173.0 563.3h.55v.55h-.55zM169.5 580.2h.55v.55h-.55zM179.6 591.9h.55v.55h-.55zM168.3 578.6h.55v.55h-.55zM171.7 575.8h.55v.55h-.55zM167.1 585.8h.55v.55h-.55zM160.5 582.6h.55v.55h-.55zM170.4 574.3h.55v.55h-.55zM174.4 583.4h.55v.55h-.55zM160.3 571.8h.55v.55h-.55zM170.7 580.5h.55v.55h-.55zM160.7 573.3h.55v.55h-.55zM168.5 568.9h.55v.55h-.55zM171.2 579.5h.55v.55h-.55zM167.4 586.2h.55v.55h-.55zM148.5 600.5h.55v.55h-.55zM167.9 573.8h.55v.55h-.55zM160.8 574.2h.55v.55h-.55zM159.7 580.9h.55v.55h-.55zM162.4 574.8h.55v.55h-.55zM167.8 576.8h.55v.55h-.55zM158.2 569.1h.55v.55h-.55zM173.4 591.3h.55v.55h-.55zM159.3 575.4h.55v.55h-.55zM159.9 578.8h.55v.55h-.55zM168.4 557.5h.55v.55h-.55zM162.0 586.8h.55v.55h-.55zM172.7 582.9h.55v.55h-.55zM172.3 587.9h.55v.55h-.55zM160.4 577.1h.55v.55h-.55zM169.0 558.0h.55v.55h-.55zM174.5 578.4h.55v.55h-.55zM161.3 575.2h.55v.55h-.55zM167.0 590.5h.55v.55h-.55zM161.3 577.1h.55v.55h-.55zM163.3 572.7h.55v.55h-.55zM162.8 578.0h.55v.55h-.55zM158.2 592.3h.55v.55h-.55zM175.8 574.2h.55v.55h-.55zM159.7 564.0h.55v.55h-.55zM172.2 578.7h.55v.55h-.55zM160.7 581.2h.55v.55h-.55zM166.5 593.4h.55v.55h-.55zM163.4 574.2h.55v.55h-.55zM164.1 566.8h.55v.55h-.55zM171.6 591.0h.55v.55h-.55zM171.4 574.4h.55v.55h-.55zM170.8 572.4h.55v.55h-.55zM173.6 573.1h.55v.55h-.55zM162.8 559.1h.55v.55h-.55zM170.0 569.0h.55v.55h-.55zM167.9 571.9h.55v.55h-.55zM169.3 573.0h.55v.55h-.55zM170.8 575.6h.55v.55h-.55zM159.8 590.4h.55v.55h-.55zM170.2 567.0h.55v.55h-.55zM162.6 599.0h.55v.55h-.55zM167.2 589.9h.55v.55h-.55zM175.4 576.8h.55v.55h-.55zM167.8 578.4h.55v.55h-.55zM172.1 571.1h.55v.55h-.55zM159.6 576.3h.55v.55h-.55zM164.3 560.9h.55v.55h-.55zM163.3 564.6h.55v.55h-.55zM163.8 576.4h.55v.55h-.55zM174.5 580.2h.55v.55h-.55zM168.2 565.8h.55v.55h-.55zM167.0 580.2h.55v.55h-.55zM159.9 589.6h.55v.55h-.55zM169.6 569.1h.55v.55h-.55zM155.7 569.1h.55v.55h-.55zM157.4 580.9h.55v.55h-.55zM168.3 563.8h.55v.55h-.55zM163.3 579.3h.55v.55h-.55zM162.5 560.0h.55v.55h-.55zM170.4 573.8h.55v.55h-.55zM160.6 565.9h.55v.55h-.55zM175.4 570.0h.55v.55h-.55zM164.0 572.7h.55v.55h-.55zM160.5 589.6h.55v.55h-.55zM158.1 584.4h.55v.55h-.55zM168.5 578.6h.55v.55h-.55zM162.3 577.9h.55v.55h-.55zM170.8 561.1h.55v.55h-.55zM163.1 586.1h.55v.55h-.55zM166.1 572.0h.55v.55h-.55zM178.1 569.3h.55v.55h-.55zM166.1 571.5h.55v.55h-.55zM162.3 585.7h.55v.55h-.55zM153.3 579.2h.55v.55h-.55zM165.3 570.8h.55v.55h-.55zM177.0 575.5h.55v.55h-.55zM160.5 580.0h.55v.55h-.55zM166.6 580.6h.55v.55h-.55zM166.6 580.5h.55v.55h-.55zM167.1 575.3h.55v.55h-.55zM166.3 570.2h.55v.55h-.55zM161.2 582.4h.55v.55h-.55zM170.0 577.5h.55v.55h-.55zM154.2 565.3h.55v.55h-.55zM161.6 587.4h.55v.55h-.55zM157.0 565.4h.55v.55h-.55zM160.3 550.8h.55v.55h-.55zM174.7 568.6h.55v.55h-.55zM162.3 594.1h.55v.55h-.55zM178.2 563.0h.55v.55h-.55zM169.2 578.4h.55v.55h-.55zM169.7 579.1h.55v.55h-.55zM163.9 590.4h.55v.55h-.55zM177.1 575.0h.55v.55h-.55zM161.6 575.3h.55v.55h-.55zM174.4 579.4h.55v.55h-.55zM165.1 582.0h.55v.55h-.55zM166.8 581.8h.55v.55h-.55zM168.1 566.1h.55v.55h-.55zM176.7 572.3h.55v.55h-.55zM167.6 587.6h.55v.55h-.55zM162.7 571.0h.55v.55h-.55zM160.0 561.9h.55v.55h-.55zM170.3 570.8h.55v.55h-.55zM174.7 574.9h.55v.55h-.55zM165.7 588.8h.55v.55h-.55zM166.9 564.8h.55v.55h-.55zM161.1 571.7h.55v.55h-.55zM174.5 580.1h.55v.55h-.55zM163.1 578.4h.55v.55h-.55zM162.3 579.2h.55v.55h-.55zM176.4 570.6h.55v.55h-.55zM172.2 573.6h.55v.55h-.55zM172.0 568.7h.55v.55h-.55zM166.1 574.5h.55v.55h-.55zM164.9 582.5h.55v.55h-.55zM163.8 567.3h.55v.55h-.55zM168.1 575.1h.55v.55h-.55zM168.5 569.7h.55v.55h-.55zM160.1 578.5h.55v.55h-.55zM169.4 570.2h.55v.55h-.55zM171.2 580.6h.55v.55h-.55zM160.9 585.2h.55v.55h-.55zM164.5 579.9h.55v.55h-.55zM175.4 578.1h.55v.55h-.55zM164.3 574.0h.55v.55h-.55zM159.7 578.8h.55v.55h-.55zM162.1 581.8h.55v.55h-.55zM163.2 557.5h.55v.55h-.55zM162.8 577.4h.55v.55h-.55zM168.7 596.7h.55v.55h-.55zM171.1 583.6h.55v.55h-.55zM165.5 576.7h.55v.55h-.55zM173.1 582.8h.55v.55h-.55zM161.4 586.6h.55v.55h-.55zM159.0 577.5h.55v.55h-.55zM155.1 592.2h.55v.55h-.55zM163.9 572.7h.55v.55h-.55zM161.4 567.4h.55v.55h-.55zM169.4 568.9h.55v.55h-.55zM164.7 573.6h.55v.55h-.55zM169.0 565.3h.55v.55h-.55zM161.9 585.0h.55v.55h-.55zM173.3 573.2h.55v.55h-.55zM165.2 555.8h.55v.55h-.55zM163.0 587.1h.55v.55h-.55zM174.8 557.8h.55v.55h-.55zM161.6 584.5h.55v.55h-.55zM165.2 563.7h.55v.55h-.55zM172.3 592.7h.55v.55h-.55zM166.2 565.4h.55v.55h-.55zM159.8 577.8h.55v.55h-.55zM172.1 593.6h.55v.55h-.55zM164.0 580.1h.55v.55h-.55zM169.6 583.5h.55v.55h-.55zM166.9 575.0h.55v.55h-.55zM166.2 587.5h.55v.55h-.55zM159.3 575.9h.55v.55h-.55zM157.5 557.7h.55v.55h-.55zM170.3 569.3h.55v.55h-.55zM171.6 568.5h.55v.55h-.55zM154.3 577.6h.55v.55h-.55zM171.3 581.9h.55v.55h-.55zM173.0 590.5h.55v.55h-.55zM161.1 567.7h.55v.55h-.55zM161.1 575.6h.55v.55h-.55zM175.3 576.4h.55v.55h-.55zM166.2 588.9h.55v.55h-.55zM158.2 573.2h.55v.55h-.55zM161.4 564.4h.55v.55h-.55zM158.8 554.9h.55v.55h-.55zM167.3 559.1h.55v.55h-.55zM168.3 582.4h.55v.55h-.55zM160.1 553.8h.55v.55h-.55zM169.8 563.1h.55v.55h-.55zM164.9 577.9h.55v.55h-.55zM172.5 570.2h.55v.55h-.55zM147.5 578.4h.55v.55h-.55zM172.1 565.0h.55v.55h-.55zM172.9 567.6h.55v.55h-.55zM163.1 573.8h.55v.55h-.55zM169.8 563.5h.55v.55h-.55zM173.8 575.5h.55v.55h-.55zM161.2 585.2h.55v.55h-.55zM165.0 588.0h.55v.55h-.55zM164.4 570.1h.55v.55h-.55zM180.6 584.0h.55v.55h-.55zM161.4 573.0h.55v.55h-.55zM166.1 563.0h.55v.55h-.55zM160.0 566.7h.55v.55h-.55zM170.5 583.9h.55v.55h-.55zM170.1 574.9h.55v.55h-.55zM161.5 582.7h.55v.55h-.55zM160.7 567.9h.55v.55h-.55zM163.1 577.8h.55v.55h-.55zM176.0 562.5h.55v.55h-.55zM168.0 578.2h.55v.55h-.55zM174.9 578.3h.55v.55h-.55zM159.2 596.4h.55v.55h-.55zM165.3 573.7h.55v.55h-.55zM167.6 578.0h.55v.55h-.55zM152.7 582.4h.55v.55h-.55zM161.8 578.4h.55v.55h-.55zM167.7 595.8h.55v.55h-.55zM168.5 583.6h.55v.55h-.55zM160.7 585.6h.55v.55h-.55zM166.3 575.4h.55v.55h-.55zM161.6 562.4h.55v.55h-.55zM176.7 582.6h.55v.55h-.55zM174.7 558.0h.55v.55h-.55zM178.4 570.1h.55v.55h-.55zM173.8 578.1h.55v.55h-.55zM164.9 565.0h.55v.55h-.55zM173.8 583.7h.55v.55h-.55zM172.6 570.7h.55v.55h-.55zM172.6 582.4h.55v.55h-.55zM175.0 562.7h.55v.55h-.55zM168.6 558.7h.55v.55h-.55zM161.8 587.1h.55v.55h-.55zM166.8 575.2h.55v.55h-.55zM169.2 564.7h.55v.55h-.55zM168.8 587.9h.55v.55h-.55zM163.5 589.7h.55v.55h-.55zM173.1 569.2h.55v.55h-.55zM166.4 572.9h.55v.55h-.55zM166.5 580.9h.55v.55h-.55zM171.6 564.5h.55v.55h-.55zM159.8 571.8h.55v.55h-.55zM159.3 582.0h.55v.55h-.55zM163.4 562.5h.55v.55h-.55zM167.5 573.0h.55v.55h-.55zM178.9 591.2h.55v.55h-.55zM166.9 582.7h.55v.55h-.55zM163.4 563.9h.55v.55h-.55zM167.4 594.4h.55v.55h-.55zM162.2 580.2h.55v.55h-.55zM165.8 575.5h.55v.55h-.55zM168.2 567.6h.55v.55h-.55zM173.5 583.8h.55v.55h-.55zM167.9 566.8h.55v.55h-.55zM160.8 579.3h.55v.55h-.55zM177.0 574.4h.55v.55h-.55zM170.4 565.0h.55v.55h-.55zM167.8 579.0h.55v.55h-.55zM170.0 595.7h.55v.55h-.55zM152.5 579.1h.55v.55h-.55zM166.6 563.4h.55v.55h-.55zM164.2 578.1h.55v.55h-.55zM155.5 570.4h.55v.55h-.55zM172.7 576.2h.55v.55h-.55zM172.1 579.6h.55v.55h-.55zM166.2 577.6h.55v.55h-.55zM162.0 580.4h.55v.55h-.55zM166.6 572.6h.55v.55h-.55zM172.7 572.4h.55v.55h-.55zM169.7 587.5h.55v.55h-.55zM164.6 585.1h.55v.55h-.55zM161.5 564.9h.55v.55h-.55zM173.1 569.8h.55v.55h-.55zM173.3 560.5h.55v.55h-.55zM171.8 586.5h.55v.55h-.55zM172.4 575.1h.55v.55h-.55zM177.5 566.4h.55v.55h-.55zM164.6 577.1h.55v.55h-.55zM173.7 579.6h.55v.55h-.55zM168.4 589.8h.55v.55h-.55zM177.4 585.7h.55v.55h-.55zM164.1 571.5h.55v.55h-.55zM177.3 571.9h.55v.55h-.55zM168.7 576.3h.55v.55h-.55zM170.2 574.2h.55v.55h-.55zM164.0 588.6h.55v.55h-.55zM163.1 565.2h.55v.55h-.55zM166.2 577.5h.55v.55h-.55zM171.1 578.7h.55v.55h-.55zM164.6 579.3h.55v.55h-.55zM163.4 573.3h.55v.55h-.55zM165.4 575.7h.55v.55h-.55zM156.6 569.9h.55v.55h-.55zM172.3 587.9h.55v.55h-.55zM163.4 564.8h.55v.55h-.55zM169.1 582.4h.55v.55h-.55zM161.2 580.0h.55v.55h-.55zM161.4 572.1h.55v.55h-.55zM163.7 582.7h.55v.55h-.55zM159.5 598.3h.55v.55h-.55zM166.9 568.3h.55v.55h-.55zM174.4 576.7h.55v.55h-.55zM166.7 584.4h.55v.55h-.55zM159.9 590.8h.55v.55h-.55zM165.6 591.3h.55v.55h-.55zM166.0 571.9h.55v.55h-.55zM160.2 574.6h.55v.55h-.55zM167.1 576.7h.55v.55h-.55zM163.9 582.6h.55v.55h-.55zM162.3 564.8h.55v.55h-.55zM157.9 593.5h.55v.55h-.55zM163.8 582.4h.55v.55h-.55zM170.8 579.4h.55v.55h-.55zM157.3 586.5h.55v.55h-.55zM167.1 582.2h.55v.55h-.55zM161.6 581.6h.55v.55h-.55zM156.2 565.8h.55v.55h-.55zM159.0 571.3h.55v.55h-.55zM167.3 578.5h.55v.55h-.55zM162.0 589.1h.55v.55h-.55zM158.9 582.0h.55v.55h-.55zM170.4 593.0h.55v.55h-.55zM175.4 580.9h.55v.55h-.55zM174.0 570.8h.55v.55h-.55zM161.5 571.7h.55v.55h-.55zM172.4 583.3h.55v.55h-.55zM175.6 572.2h.55v.55h-.55zM169.9 575.1h.55v.55h-.55zM159.1 579.7h.55v.55h-.55zM164.0 577.7h.55v.55h-.55zM176.2 576.8h.55v.55h-.55zM158.0 597.6h.55v.55h-.55zM170.1 564.8h.55v.55h-.55zM154.9 584.4h.55v.55h-.55zM167.1 579.9h.55v.55h-.55zM171.2 581.0h.55v.55h-.55zM163.8 566.0h.55v.55h-.55zM162.3 589.7h.55v.55h-.55zM163.2 573.9h.55v.55h-.55zM173.4 591.7h.55v.55h-.55zM169.7 578.5h.55v.55h-.55zM168.4 564.1h.55v.55h-.55zM160.9 569.8h.55v.55h-.55zM166.4 578.6h.55v.55h-.55zM167.0 561.8h.55v.55h-.55zM163.8 582.4h.55v.55h-.55zM170.1 568.6h.55v.55h-.55zM159.5 569.8h.55v.55h-.55zM168.5 583.6h.55v.55h-.55zM163.2 581.7h.55v.55h-.55zM169.7 584.1h.55v.55h-.55zM173.2 564.1h.55v.55h-.55zM167.9 566.9h.55v.55h-.55zM166.9 566.9h.55v.55h-.55zM160.0 569.0h.55v.55h-.55zM156.1 574.1h.55v.55h-.55zM159.8 575.7h.55v.55h-.55zM160.5 580.2h.55v.55h-.55zM175.5 588.4h.55v.55h-.55zM157.1 581.6h.55v.55h-.55zM164.5 579.6h.55v.55h-.55zM174.7 590.5h.55v.55h-.55zM167.9 573.5h.55v.55h-.55zM167.7 571.5h.55v.55h-.55zM169.2 580.4h.55v.55h-.55zM172.8 562.3h.55v.55h-.55zM166.3 576.5h.55v.55h-.55zM170.3 582.1h.55v.55h-.55zM170.4 590.4h.55v.55h-.55zM160.4 585.8h.55v.55h-.55zM171.1 578.9h.55v.55h-.55zM166.7 584.8h.55v.55h-.55zM171.4 571.3h.55v.55h-.55zM165.2 586.8h.55v.55h-.55zM165.8 574.3h.55v.55h-.55zM172.8 581.8h.55v.55h-.55zM177.2 564.3h.55v.55h-.55zM166.5 581.3h.55v.55h-.55zM157.1 565.6h.55v.55h-.55zM168.0 571.4h.55v.55h-.55zM156.7 576.6h.55v.55h-.55zM170.7 587.1h.55v.55h-.55zM160.7 584.1h.55v.55h-.55zM159.7 581.2h.55v.55h-.55zM162.3 576.8h.55v.55h-.55zM170.1 570.1h.55v.55h-.55zM178.9 568.4h.55v.55h-.55zM155.7 566.2h.55v.55h-.55zM165.1 575.0h.55v.55h-.55zM170.9 568.1h.55v.55h-.55zM153.3 578.4h.55v.55h-.55zM160.0 566.0h.55v.55h-.55zM170.6 569.1h.55v.55h-.55zM161.6 567.9h.55v.55h-.55zM164.8 577.7h.55v.55h-.55zM171.5 569.7h.55v.55h-.55zM165.9 576.5h.55v.55h-.55zM164.6 569.1h.55v.55h-.55zM166.6 572.4h.55v.55h-.55zM171.5 564.7h.55v.55h-.55zM170.4 571.7h.55v.55h-.55zM172.5 567.2h.55v.55h-.55zM165.1 569.9h.55v.55h-.55zM170.2 575.3h.55v.55h-.55zM161.8 577.9h.55v.55h-.55zM156.1 601.2h.55v.55h-.55zM164.0 581.3h.55v.55h-.55zM156.5 575.9h.55v.55h-.55zM160.5 563.1h.55v.55h-.55zM165.1 563.8h.55v.55h-.55zM170.3 592.3h.55v.55h-.55zM159.4 566.2h.55v.55h-.55zM159.1 572.2h.55v.55h-.55zM168.4 569.6h.55v.55h-.55zM161.1 582.3h.55v.55h-.55zM165.2 568.8h.55v.55h-.55zM167.0 563.3h.55v.55h-.55zM169.9 582.8h.55v.55h-.55zM164.6 581.6h.55v.55h-.55zM164.5 584.3h.55v.55h-.55zM173.8 574.8h.55v.55h-.55zM163.8 574.5h.55v.55h-.55zM151.1 574.0h.55v.55h-.55zM159.0 563.9h.55v.55h-.55zM162.5 579.0h.55v.55h-.55zM163.0 562.7h.55v.55h-.55zM169.9 568.4h.55v.55h-.55zM169.9 589.9h.55v.55h-.55zM161.1 562.1h.55v.55h-.55zM164.6 570.2h.55v.55h-.55zM162.2 590.4h.55v.55h-.55zM164.2 593.8h.55v.55h-.55zM162.1 591.6h.55v.55h-.55zM174.1 566.8h.55v.55h-.55zM163.1 580.8h.55v.55h-.55zM166.0 548.7h.55v.55h-.55zM175.4 575.3h.55v.55h-.55zM169.4 585.4h.55v.55h-.55zM161.1 584.3h.55v.55h-.55zM166.4 570.7h.55v.55h-.55zM166.4 586.7h.55v.55h-.55zM178.2 565.0h.55v.55h-.55zM165.6 566.9h.55v.55h-.55zM164.2 564.2h.55v.55h-.55zM160.9 569.6h.55v.55h-.55zM161.2 575.6h.55v.55h-.55zM163.8 568.9h.55v.55h-.55zM166.9 561.6h.55v.55h-.55zM156.6 574.1h.55v.55h-.55zM164.7 590.0h.55v.55h-.55zM162.9 572.5h.55v.55h-.55zM163.3 571.0h.55v.55h-.55zM154.0 579.4h.55v.55h-.55zM164.5 579.0h.55v.55h-.55zM158.9 594.3h.55v.55h-.55zM156.8 592.1h.55v.55h-.55zM168.2 562.4h.55v.55h-.55zM167.4 578.3h.55v.55h-.55zM153.1 575.0h.55v.55h-.55zM155.5 579.3h.55v.55h-.55zM168.1 584.7h.55v.55h-.55zM158.9 564.3h.55v.55h-.55zM169.4 571.8h.55v.55h-.55zM164.8 565.6h.55v.55h-.55zM158.0 575.9h.55v.55h-.55zM165.1 585.2h.55v.55h-.55zM157.0 568.0h.55v.55h-.55zM164.0 566.2h.55v.55h-.55zM164.7 589.1h.55v.55h-.55zM165.6 570.6h.55v.55h-.55zM174.2 572.6h.55v.55h-.55zM160.2 588.0h.55v.55h-.55zM172.3 573.7h.55v.55h-.55zM157.8 565.6h.55v.55h-.55zM165.0 588.6h.55v.55h-.55zM172.3 585.6h.55v.55h-.55zM167.1 591.1h.55v.55h-.55zM170.0 577.9h.55v.55h-.55zM158.2 571.1h.55v.55h-.55zM170.0 589.2h.55v.55h-.55zM163.5 575.9h.55v.55h-.55zM170.7 588.9h.55v.55h-.55zM165.3 591.3h.55v.55h-.55zM171.5 582.3h.55v.55h-.55zM177.1 576.1h.55v.55h-.55zM163.3 584.7h.55v.55h-.55zM166.2 581.1h.55v.55h-.55zM163.9 586.9h.55v.55h-.55zM174.2 568.2h.55v.55h-.55zM170.7 564.8h.55v.55h-.55zM157.9 582.2h.55v.55h-.55zM173.6 575.1h.55v.55h-.55zM173.0 568.3h.55v.55h-.55zM165.4 568.3h.55v.55h-.55zM163.1 578.2h.55v.55h-.55zM159.4 579.0h.55v.55h-.55zM164.7 579.1h.55v.55h-.55zM157.8 577.2h.55v.55h-.55zM169.0 557.2h.55v.55h-.55zM172.1 565.3h.55v.55h-.55zM162.1 577.9h.55v.55h-.55zM160.7 555.7h.55v.55h-.55zM157.1 583.0h.55v.55h-.55zM169.4 588.9h.55v.55h-.55zM160.8 601.0h.55v.55h-.55zM173.2 580.0h.55v.55h-.55zM172.1 570.2h.55v.55h-.55zM159.3 575.6h.55v.55h-.55zM178.2 579.2h.55v.55h-.55zM168.9 573.8h.55v.55h-.55zM171.8 580.8h.55v.55h-.55zM163.9 550.7h.55v.55h-.55zM175.2 564.9h.55v.55h-.55zM167.8 553.3h.55v.55h-.55zM169.8 561.5h.55v.55h-.55zM161.3 565.8h.55v.55h-.55zM162.8 578.8h.55v.55h-.55zM172.3 568.4h.55v.55h-.55zM165.1 572.6h.55v.55h-.55zM171.1 585.3h.55v.55h-.55zM165.0 563.5h.55v.55h-.55zM167.0 589.8h.55v.55h-.55zM167.7 593.8h.55v.55h-.55zM173.0 567.6h.55v.55h-.55zM165.1 587.1h.55v.55h-.55zM172.0 583.6h.55v.55h-.55zM165.5 588.4h.55v.55h-.55zM163.5 575.5h.55v.55h-.55zM164.5 596.5h.55v.55h-.55zM167.7 578.7h.55v.55h-.55zM157.8 583.4h.55v.55h-.55zM169.5 579.0h.55v.55h-.55zM159.8 595.0h.55v.55h-.55zM182.0 570.4h.55v.55h-.55zM166.0 560.8h.55v.55h-.55zM155.9 579.9h.55v.55h-.55zM169.0 557.5h.55v.55h-.55zM168.8 576.8h.55v.55h-.55zM162.3 593.9h.55v.55h-.55zM158.1 582.4h.55v.55h-.55zM173.9 571.8h.55v.55h-.55zM168.5 588.7h.55v.55h-.55zM164.0 569.0h.55v.55h-.55zM152.7 564.7h.55v.55h-.55zM181.1 565.5h.55v.55h-.55zM161.2 574.6h.55v.55h-.55zM169.4 577.1h.55v.55h-.55zM168.7 573.0h.55v.55h-.55zM170.8 567.8h.55v.55h-.55zM161.8 560.9h.55v.55h-.55zM163.8 568.4h.55v.55h-.55zM168.0 557.4h.55v.55h-.55zM174.8 564.9h.55v.55h-.55zM166.9 592.8h.55v.55h-.55zM156.7 579.7h.55v.55h-.55zM168.6 590.2h.55v.55h-.55zM164.9 584.6h.55v.55h-.55zM161.9 578.8h.55v.55h-.55zM170.8 583.3h.55v.55h-.55zM164.7 570.7h.55v.55h-.55zM170.7 578.4h.55v.55h-.55zM173.9 569.8h.55v.55h-.55zM162.3 566.4h.55v.55h-.55zM166.9 593.9h.55v.55h-.55zM174.9 569.8h.55v.55h-.55zM172.5 582.7h.55v.55h-.55zM164.7 570.8h.55v.55h-.55zM172.2 559.6h.55v.55h-.55zM162.6 572.4h.55v.55h-.55zM171.7 577.6h.55v.55h-.55zM171.3 593.0h.55v.55h-.55zM169.6 587.7h.55v.55h-.55zM164.4 576.8h.55v.55h-.55zM167.9 581.4h.55v.55h-.55zM170.5 558.6h.55v.55h-.55zM163.1 578.7h.55v.55h-.55zM171.2 572.0h.55v.55h-.55zM169.5 575.2h.55v.55h-.55zM164.4 562.1h.55v.55h-.55zM159.2 579.4h.55v.55h-.55zM159.7 569.6h.55v.55h-.55zM167.5 572.4h.55v.55h-.55zM171.2 576.1h.55v.55h-.55zM157.8 581.8h.55v.55h-.55zM174.7 572.8h.55v.55h-.55zM167.0 580.4h.55v.55h-.55zM167.5 578.2h.55v.55h-.55zM166.4 571.6h.55v.55h-.55zM159.7 587.6h.55v.55h-.55zM160.7 557.9h.55v.55h-.55zM175.6 600.9h.55v.55h-.55zM168.6 589.3h.55v.55h-.55zM174.3 578.4h.55v.55h-.55zM164.6 576.3h.55v.55h-.55zM167.1 567.6h.55v.55h-.55zM165.7 577.3h.55v.55h-.55zM167.9 573.6h.55v.55h-.55zM169.7 572.0h.55v.55h-.55zM154.0 566.4h.55v.55h-.55zM164.5 561.1h.55v.55h-.55zM175.4 574.8h.55v.55h-.55zM164.9 574.1h.55v.55h-.55zM151.3 589.6h.55v.55h-.55zM161.6 574.2h.55v.55h-.55zM163.8 568.6h.55v.55h-.55zM167.2 571.7h.55v.55h-.55zM160.5 584.5h.55v.55h-.55zM163.0 580.4h.55v.55h-.55zM163.8 572.6h.55v.55h-.55zM165.0 574.7h.55v.55h-.55zM169.9 584.2h.55v.55h-.55zM157.3 588.0h.55v.55h-.55zM159.5 583.9h.55v.55h-.55zM169.0 557.7h.55v.55h-.55zM157.7 568.7h.55v.55h-.55zM173.3 572.2h.55v.55h-.55zM164.5 583.9h.55v.55h-.55zM170.4 582.4h.55v.55h-.55zM169.2 591.8h.55v.55h-.55zM169.7 566.3h.55v.55h-.55zM157.7 584.3h.55v.55h-.55zM167.4 588.3h.55v.55h-.55zM171.7 565.6h.55v.55h-.55zM169.5 587.6h.55v.55h-.55zM155.8 580.9h.55v.55h-.55zM161.3 566.5h.55v.55h-.55zM169.0 579.1h.55v.55h-.55zM163.4 575.1h.55v.55h-.55zM167.3 586.6h.55v.55h-.55zM164.2 561.7h.55v.55h-.55zM163.4 581.1h.55v.55h-.55zM175.7 581.2h.55v.55h-.55zM160.3 573.8h.55v.55h-.55zM162.8 552.8h.55v.55h-.55zM163.8 559.9h.55v.55h-.55zM169.5 558.6h.55v.55h-.55zM173.0 588.1h.55v.55h-.55zM172.7 585.2h.55v.55h-.55zM153.4 571.2h.55v.55h-.55zM168.8 590.4h.55v.55h-.55zM171.6 578.4h.55v.55h-.55zM171.1 585.4h.55v.55h-.55zM168.7 581.6h.55v.55h-.55zM173.3 585.0h.55v.55h-.55zM168.4 558.2h.55v.55h-.55zM168.7 554.8h.55v.55h-.55zM164.2 583.0h.55v.55h-.55zM183.0 574.8h.55v.55h-.55zM167.3 567.5h.55v.55h-.55zM158.7 578.4h.55v.55h-.55zM155.5 571.8h.55v.55h-.55zM170.1 578.3h.55v.55h-.55zM176.2 574.5h.55v.55h-.55zM168.7 587.3h.55v.55h-.55zM157.8 584.6h.55v.55h-.55zM171.1 584.6h.55v.55h-.55zM153.5 579.3h.55v.55h-.55zM168.4 578.7h.55v.55h-.55zM174.9 562.6h.55v.55h-.55zM177.2 567.6h.55v.55h-.55zM167.1 569.4h.55v.55h-.55zM169.0 584.3h.55v.55h-.55zM173.9 568.2h.55v.55h-.55zM168.1 559.4h.55v.55h-.55zM170.6 589.0h.55v.55h-.55zM161.4 567.2h.55v.55h-.55zM164.8 559.2h.55v.55h-.55zM166.2 567.1h.55v.55h-.55zM170.3 580.9h.55v.55h-.55zM164.6 577.4h.55v.55h-.55zM173.0 567.4h.55v.55h-.55zM170.0 576.9h.55v.55h-.55zM177.7 576.7h.55v.55h-.55zM164.2 575.5h.55v.55h-.55z" fill="#b0b0b0"/>
<ellipse cx="164.3" cy="574.5" rx="6.38" ry="13.26" fill="#b48ac8" fill-opacity="0.22"/>
<path d="M162.3 575.6h.6v.6h-.6zM162.7 584.2h.6v.6h-.6zM160.8 577.6h.6v.6h-.6zM162.8 580.1h.6v.6h-.6zM167.7 577.8h.6v.6h-.6zM164.6 583.0h.6v.6h-.6zM162.4 566.4h.6v.6h-.6zM167.6 587.2h.6v.6h-.6zM165.4 577.4h.6v.6h-.6zM164.8 578.3h.6v.6h-.6zM161.7 596.6h.6v.6h-.6zM163.0 587.5h.6v.6h-.6zM166.0 570.2h.6v.6h-.6zM163.5 576.5h.6v.6h-.6zM162.8 587.9h.6v.6h-.6zM167.6 572.1h.6v.6h-.6zM165.3 578.8h.6v.6h-.6zM161.9 564.4h.6v.6h-.6zM168.5 576.9h.6v.6h-.6zM158.3 577.2h.6v.6h-.6zM164.8 587.3h.6v.6h-.6zM162.2 568.1h.6v.6h-.6zM160.5 582.7h.6v.6h-.6zM166.6 585.7h.6v.6h-.6zM163.4 576.7h.6v.6h-.6zM170.8 565.3h.6v.6h-.6zM169.0 564.1h.6v.6h-.6zM161.3 576.4h.6v.6h-.6zM169.4 574.9h.6v.6h-.6zM160.1 583.5h.6v.6h-.6zM164.3 572.0h.6v.6h-.6zM165.5 583.5h.6v.6h-.6zM169.2 586.7h.6v.6h-.6zM171.4 580.7h.6v.6h-.6zM158.6 571.8h.6v.6h-.6zM164.0 565.1h.6v.6h-.6zM161.5 576.9h.6v.6h-.6zM163.6 578.7h.6v.6h-.6zM160.0 579.0h.6v.6h-.6zM173.1 581.2h.6v.6h-.6zM163.7 566.0h.6v.6h-.6zM157.9 566.2h.6v.6h-.6zM159.0 582.7h.6v.6h-.6zM162.8 558.9h.6v.6h-.6zM170.4 576.3h.6v.6h-.6zM163.0 574.4h.6v.6h-.6zM156.3 588.8h.6v.6h-.6zM165.1 579.4h.6v.6h-.6zM165.4 596.0h.6v.6h-.6zM160.8 577.3h.6v.6h-.6zM167.4 568.7h.6v.6h-.6zM162.1 563.0h.6v.6h-.6zM160.6 583.4h.6v.6h-.6zM165.0 565.5h.6v.6h-.6zM166.8 564.6h.6v.6h-.6zM165.7 567.0h.6v.6h-.6zM163.7 578.5h.6v.6h-.6zM163.3 579.2h.6v.6h-.6zM169.9 580.3h.6v.6h-.6zM165.1 559.9h.6v.6h-.6zM171.7 586.1h.6v.6h-.6zM161.7 592.6h.6v.6h-.6zM161.8 567.7h.6v.6h-.6zM158.7 577.2h.6v.6h-.6zM161.0 575.4h.6v.6h-.6zM163.8 571.7h.6v.6h-.6zM166.3 565.3h.6v.6h-.6zM158.6 568.8h.6v.6h-.6zM163.6 587.2h.6v.6h-.6zM159.4 583.3h.6v.6h-.6zM160.0 579.8h.6v.6h-.6zM168.2 588.5h.6v.6h-.6zM163.9 579.5h.6v.6h-.6zM166.6 567.8h.6v.6h-.6zM162.4 578.9h.6v.6h-.6zM164.5 569.8h.6v.6h-.6zM153.0 567.5h.6v.6h-.6zM168.6 563.6h.6v.6h-.6zM158.1 581.6h.6v.6h-.6zM163.4 577.1h.6v.6h-.6zM161.4 562.6h.6v.6h-.6zM169.5 578.8h.6v.6h-.6zM161.7 581.1h.6v.6h-.6zM164.4 554.4h.6v.6h-.6zM160.5 581.4h.6v.6h-.6zM168.8 571.6h.6v.6h-.6zM166.2 560.7h.6v.6h-.6zM161.0 582.7h.6v.6h-.6zM158.8 571.2h.6v.6h-.6zM167.7 584.0h.6v.6h-.6zM158.8 574.7h.6v.6h-.6zM164.1 547.1h.6v.6h-.6zM166.9 588.7h.6v.6h-.6zM156.9 578.9h.6v.6h-.6zM162.2 563.7h.6v.6h-.6zM170.3 571.2h.6v.6h-.6zM161.1 579.4h.6v.6h-.6zM153.5 571.4h.6v.6h-.6zM171.7 585.1h.6v.6h-.6zM158.4 576.4h.6v.6h-.6zM161.9 585.3h.6v.6h-.6zM162.2 582.8h.6v.6h-.6zM162.5 560.8h.6v.6h-.6zM166.4 573.7h.6v.6h-.6zM164.8 577.4h.6v.6h-.6zM156.4 568.3h.6v.6h-.6zM160.7 573.2h.6v.6h-.6zM167.1 571.4h.6v.6h-.6zM162.0 571.7h.6v.6h-.6zM167.6 560.8h.6v.6h-.6zM162.8 567.2h.6v.6h-.6zM169.2 563.2h.6v.6h-.6zM163.4 593.1h.6v.6h-.6zM160.3 572.5h.6v.6h-.6zM157.4 582.9h.6v.6h-.6zM163.3 571.9h.6v.6h-.6zM162.3 571.6h.6v.6h-.6zM160.8 581.0h.6v.6h-.6zM163.3 571.3h.6v.6h-.6zM160.0 583.4h.6v.6h-.6z" fill="#9a5aa8" fill-opacity="0.7"/>
<ellipse cx="163.8" cy="578.5" rx="4.62" ry="8.42" fill="#a862b0" fill-opacity="0.6"/>
<ellipse cx="163.8" cy="578.5" rx="3.78" ry="6.86" fill="#75508f" fill-opacity="0.9"/>
<ellipse cx="164" cy="578.5" rx="2.73" ry="5.3" fill="#4f5fa0"/>
<ellipse cx="164.1" cy="579" rx="1.58" ry="3.28" fill="#3aa8a0"/>
<line x1="154.8" y1="547.1" x2="154.8" y2="610.9" stroke="#6e6e6e" stroke-width="0.8"/>
<line x1="125" y1="585.3" x2="188.8" y2="585.3" stroke="#6e6e6e" stroke-width="0.8"/>
<text x="155.8" y="589.7" font-size="4.8" stroke="#1a1a1a" stroke-width="0.15" fill="#1a1a1a" textLength="10.8" lengthAdjust="spacingAndGlyphs">13.42%</text>
<text x="114.6" y="625.6" font-size="6.8" font-weight="bold" fill="#222">c</text>
<text x="119.6" y="625.6" font-size="6.8" fill="#333" textLength="74.8" lengthAdjust="spacingAndGlyphs">PLT+CTL+NC shRNA-MDSC(PBS)</text>
<rect x="217.3" y="547.1" width="63.8" height="63.8" fill="none" stroke="#8a8a8a" stroke-width="0.8"/>
<line x1="216.1" y1="547.6" x2="217.3" y2="547.6" stroke="#999" stroke-width="0.4"/>
<line x1="217.8" y1="610.9" x2="217.8" y2="612.1" stroke="#999" stroke-width="0.4"/>
<line x1="216.1" y1="552.9" x2="217.3" y2="552.9" stroke="#999" stroke-width="0.4"/>
<line x1="223.1" y1="610.9" x2="223.1" y2="612.1" stroke="#999" stroke-width="0.4"/>
<line x1="216.1" y1="558.2" x2="217.3" y2="558.2" stroke="#999" stroke-width="0.4"/>
<line x1="228.4" y1="610.9" x2="228.4" y2="612.1" stroke="#999" stroke-width="0.4"/>
<line x1="216.1" y1="563.5" x2="217.3" y2="563.5" stroke="#999" stroke-width="0.4"/>
<line x1="233.7" y1="610.9" x2="233.7" y2="612.1" stroke="#999" stroke-width="0.4"/>
<line x1="216.1" y1="568.8" x2="217.3" y2="568.8" stroke="#999" stroke-width="0.4"/>
<line x1="239" y1="610.9" x2="239" y2="612.1" stroke="#999" stroke-width="0.4"/>
<line x1="216.1" y1="574.1" x2="217.3" y2="574.1" stroke="#999" stroke-width="0.4"/>
<line x1="244.3" y1="610.9" x2="244.3" y2="612.1" stroke="#999" stroke-width="0.4"/>
<line x1="216.1" y1="579.4" x2="217.3" y2="579.4" stroke="#999" stroke-width="0.4"/>
<line x1="249.6" y1="610.9" x2="249.6" y2="612.1" stroke="#999" stroke-width="0.4"/>
<line x1="216.1" y1="584.7" x2="217.3" y2="584.7" stroke="#999" stroke-width="0.4"/>
<line x1="254.9" y1="610.9" x2="254.9" y2="612.1" stroke="#999" stroke-width="0.4"/>
<line x1="216.1" y1="590" x2="217.3" y2="590" stroke="#999" stroke-width="0.4"/>
<line x1="260.2" y1="610.9" x2="260.2" y2="612.1" stroke="#999" stroke-width="0.4"/>
<line x1="216.1" y1="595.3" x2="217.3" y2="595.3" stroke="#999" stroke-width="0.4"/>
<line x1="265.5" y1="610.9" x2="265.5" y2="612.1" stroke="#999" stroke-width="0.4"/>
<line x1="216.1" y1="600.6" x2="217.3" y2="600.6" stroke="#999" stroke-width="0.4"/>
<line x1="270.8" y1="610.9" x2="270.8" y2="612.1" stroke="#999" stroke-width="0.4"/>
<line x1="216.1" y1="605.9" x2="217.3" y2="605.9" stroke="#999" stroke-width="0.4"/>
<line x1="276.1" y1="610.9" x2="276.1" y2="612.1" stroke="#999" stroke-width="0.4"/>
<line x1="216.1" y1="611.2" x2="217.3" y2="611.2" stroke="#999" stroke-width="0.4"/>
<line x1="281.4" y1="610.9" x2="281.4" y2="612.1" stroke="#999" stroke-width="0.4"/>
<text x="215.7" y="549.4" font-size="4.6" text-anchor="end" fill="#777">10<tspan font-size="3.22" dy="-1.6">3</tspan></text>
<text x="215.7" y="565.5" font-size="4.6" text-anchor="end" fill="#777">10<tspan font-size="3.22" dy="-1.6">2</tspan></text>
<text x="215.7" y="581.6" font-size="4.6" text-anchor="end" fill="#777">10<tspan font-size="3.22" dy="-1.6">1</tspan></text>
<text x="215.7" y="597.7" font-size="4.6" text-anchor="end" fill="#777">10<tspan font-size="3.22" dy="-1.6">0</tspan></text>
<text x="233.9" y="617.1" font-size="4.6" text-anchor="middle" fill="#777">10<tspan font-size="3.22" dy="-1.6">0</tspan></text>
<text x="249.6" y="617.1" font-size="4.6" text-anchor="middle" fill="#777">10<tspan font-size="3.22" dy="-1.6">1</tspan></text>
<text x="265.3" y="617.1" font-size="4.6" text-anchor="middle" fill="#777">10<tspan font-size="3.22" dy="-1.6">2</tspan></text>
<text x="281" y="617.1" font-size="4.6" text-anchor="middle" fill="#777">10<tspan font-size="3.22" dy="-1.6">3</tspan></text>
<path d="M260.7 566.4h.55v.55h-.55zM255.6 594.1h.55v.55h-.55zM258.3 587.7h.55v.55h-.55zM262.6 573.3h.55v.55h-.55zM253.5 562.9h.55v.55h-.55zM256.3 573.9h.55v.55h-.55zM256.5 581.6h.55v.55h-.55zM260.4 565.9h.55v.55h-.55zM251.7 556.0h.55v.55h-.55zM259.0 580.2h.55v.55h-.55zM262.8 570.7h.55v.55h-.55zM250.8 567.4h.55v.55h-.55zM249.2 562.3h.55v.55h-.55zM274.6 573.7h.55v.55h-.55zM271.9 584.8h.55v.55h-.55zM257.5 579.6h.55v.55h-.55zM256.9 585.7h.55v.55h-.55zM267.8 572.7h.55v.55h-.55zM258.8 579.1h.55v.55h-.55zM255.6 573.4h.55v.55h-.55zM256.6 575.7h.55v.55h-.55zM261.2 572.8h.55v.55h-.55zM268.8 561.3h.55v.55h-.55zM262.4 566.7h.55v.55h-.55zM254.9 564.9h.55v.55h-.55zM263.8 563.0h.55v.55h-.55zM259.3 587.9h.55v.55h-.55zM255.5 565.7h.55v.55h-.55zM264.5 575.0h.55v.55h-.55zM254.4 571.5h.55v.55h-.55zM258.8 580.9h.55v.55h-.55zM257.1 574.1h.55v.55h-.55zM253.6 570.7h.55v.55h-.55zM254.2 572.1h.55v.55h-.55zM257.1 562.7h.55v.55h-.55zM256.8 577.7h.55v.55h-.55zM261.7 575.2h.55v.55h-.55zM256.6 579.5h.55v.55h-.55zM259.8 567.1h.55v.55h-.55zM263.1 576.9h.55v.55h-.55zM253.0 577.6h.55v.55h-.55zM260.4 577.7h.55v.55h-.55zM260.8 580.9h.55v.55h-.55zM259.9 569.8h.55v.55h-.55zM252.7 581.5h.55v.55h-.55zM269.9 589.7h.55v.55h-.55zM246.7 582.5h.55v.55h-.55zM262.0 568.9h.55v.55h-.55zM257.8 577.2h.55v.55h-.55zM253.7 578.0h.55v.55h-.55zM266.1 591.1h.55v.55h-.55zM264.6 591.9h.55v.55h-.55zM260.8 568.8h.55v.55h-.55zM248.7 569.8h.55v.55h-.55zM262.4 562.0h.55v.55h-.55zM255.7 560.9h.55v.55h-.55zM265.9 589.0h.55v.55h-.55zM256.9 560.9h.55v.55h-.55zM261.2 572.5h.55v.55h-.55zM252.2 577.9h.55v.55h-.55zM259.5 579.4h.55v.55h-.55zM268.1 584.7h.55v.55h-.55zM256.8 566.4h.55v.55h-.55zM253.2 577.9h.55v.55h-.55zM264.2 572.8h.55v.55h-.55zM260.3 566.3h.55v.55h-.55zM260.4 577.2h.55v.55h-.55zM252.6 564.3h.55v.55h-.55zM251.0 571.0h.55v.55h-.55zM248.8 584.7h.55v.55h-.55zM248.8 584.5h.55v.55h-.55zM267.6 573.4h.55v.55h-.55zM267.7 562.2h.55v.55h-.55zM263.0 572.4h.55v.55h-.55zM264.7 582.8h.55v.55h-.55zM257.4 580.5h.55v.55h-.55zM260.2 593.6h.55v.55h-.55zM268.3 564.4h.55v.55h-.55zM264.5 577.8h.55v.55h-.55zM260.7 575.5h.55v.55h-.55zM263.6 584.0h.55v.55h-.55zM248.8 576.1h.55v.55h-.55zM260.6 574.7h.55v.55h-.55zM254.8 569.7h.55v.55h-.55zM263.8 586.3h.55v.55h-.55zM258.0 567.2h.55v.55h-.55zM256.5 565.0h.55v.55h-.55zM259.9 586.7h.55v.55h-.55zM264.0 563.0h.55v.55h-.55zM260.3 577.2h.55v.55h-.55zM256.7 562.1h.55v.55h-.55zM258.5 559.8h.55v.55h-.55zM253.7 577.6h.55v.55h-.55zM251.1 579.0h.55v.55h-.55zM256.9 586.2h.55v.55h-.55zM249.2 560.4h.55v.55h-.55zM263.0 563.5h.55v.55h-.55zM262.3 566.9h.55v.55h-.55zM252.7 573.8h.55v.55h-.55zM257.0 579.9h.55v.55h-.55zM260.1 578.2h.55v.55h-.55zM269.1 570.4h.55v.55h-.55zM257.0 576.0h.55v.55h-.55zM268.4 572.7h.55v.55h-.55zM251.1 585.7h.55v.55h-.55zM251.7 576.4h.55v.55h-.55zM262.5 573.3h.55v.55h-.55zM259.6 587.1h.55v.55h-.55zM259.1 584.7h.55v.55h-.55zM262.9 569.3h.55v.55h-.55zM255.2 570.7h.55v.55h-.55zM265.5 573.4h.55v.55h-.55zM251.1 570.2h.55v.55h-.55zM253.8 566.6h.55v.55h-.55zM267.4 574.0h.55v.55h-.55zM259.8 566.3h.55v.55h-.55zM252.7 569.1h.55v.55h-.55zM256.7 588.3h.55v.55h-.55zM260.4 574.2h.55v.55h-.55zM258.8 579.0h.55v.55h-.55zM252.0 575.7h.55v.55h-.55zM256.2 561.9h.55v.55h-.55zM254.6 581.5h.55v.55h-.55zM259.3 575.0h.55v.55h-.55zM259.6 562.6h.55v.55h-.55zM264.8 572.8h.55v.55h-.55zM254.5 566.1h.55v.55h-.55zM259.8 577.6h.55v.55h-.55zM266.5 585.1h.55v.55h-.55zM250.5 554.8h.55v.55h-.55zM256.8 581.3h.55v.55h-.55zM252.0 592.9h.55v.55h-.55zM255.9 567.8h.55v.55h-.55zM262.3 587.1h.55v.55h-.55zM255.2 554.2h.55v.55h-.55zM259.6 576.5h.55v.55h-.55zM262.2 577.0h.55v.55h-.55zM245.4 563.8h.55v.55h-.55zM256.8 581.8h.55v.55h-.55zM266.5 574.3h.55v.55h-.55zM267.7 581.2h.55v.55h-.55zM260.2 579.3h.55v.55h-.55zM260.5 580.0h.55v.55h-.55zM257.8 564.5h.55v.55h-.55zM257.5 574.9h.55v.55h-.55zM267.5 573.1h.55v.55h-.55zM254.3 571.5h.55v.55h-.55zM260.1 577.1h.55v.55h-.55zM253.1 577.3h.55v.55h-.55zM254.5 581.9h.55v.55h-.55zM262.6 579.5h.55v.55h-.55zM251.8 576.1h.55v.55h-.55zM253.4 598.9h.55v.55h-.55zM258.1 572.5h.55v.55h-.55zM254.5 579.2h.55v.55h-.55zM258.1 576.5h.55v.55h-.55zM261.6 575.2h.55v.55h-.55zM263.5 574.5h.55v.55h-.55zM257.8 577.2h.55v.55h-.55zM258.9 578.3h.55v.55h-.55zM265.5 581.4h.55v.55h-.55zM263.1 577.1h.55v.55h-.55zM257.9 569.5h.55v.55h-.55zM258.9 566.8h.55v.55h-.55zM262.5 566.8h.55v.55h-.55zM260.2 571.4h.55v.55h-.55zM263.3 583.8h.55v.55h-.55zM253.9 575.9h.55v.55h-.55zM257.7 571.1h.55v.55h-.55zM257.9 572.8h.55v.55h-.55zM256.6 562.4h.55v.55h-.55zM256.4 572.6h.55v.55h-.55zM254.1 581.9h.55v.55h-.55zM266.6 570.9h.55v.55h-.55zM262.7 581.5h.55v.55h-.55zM254.4 586.6h.55v.55h-.55zM257.3 581.1h.55v.55h-.55zM255.7 571.8h.55v.55h-.55zM261.6 561.7h.55v.55h-.55zM251.8 572.0h.55v.55h-.55zM258.4 578.4h.55v.55h-.55zM271.9 576.8h.55v.55h-.55zM263.4 574.3h.55v.55h-.55zM253.2 572.2h.55v.55h-.55zM255.4 573.4h.55v.55h-.55zM263.8 578.2h.55v.55h-.55zM251.0 576.1h.55v.55h-.55zM255.6 586.1h.55v.55h-.55zM259.0 567.1h.55v.55h-.55zM260.3 585.8h.55v.55h-.55zM254.6 577.0h.55v.55h-.55zM266.6 588.8h.55v.55h-.55zM251.1 568.3h.55v.55h-.55zM269.9 586.3h.55v.55h-.55zM260.3 597.5h.55v.55h-.55zM260.0 578.1h.55v.55h-.55zM258.0 565.0h.55v.55h-.55zM266.5 572.8h.55v.55h-.55zM255.4 575.0h.55v.55h-.55zM261.6 574.3h.55v.55h-.55zM266.1 561.5h.55v.55h-.55zM268.4 572.9h.55v.55h-.55zM257.1 566.5h.55v.55h-.55zM254.0 572.1h.55v.55h-.55zM267.7 573.6h.55v.55h-.55zM256.9 582.1h.55v.55h-.55zM253.3 582.9h.55v.55h-.55zM260.5 592.4h.55v.55h-.55zM257.8 578.0h.55v.55h-.55zM252.7 587.0h.55v.55h-.55zM261.8 572.0h.55v.55h-.55zM253.6 585.9h.55v.55h-.55zM253.8 588.2h.55v.55h-.55zM258.0 572.6h.55v.55h-.55zM245.9 570.4h.55v.55h-.55zM257.2 560.6h.55v.55h-.55zM263.4 560.9h.55v.55h-.55zM263.2 566.8h.55v.55h-.55zM259.7 557.0h.55v.55h-.55zM251.6 569.2h.55v.55h-.55zM261.5 582.4h.55v.55h-.55zM257.1 559.9h.55v.55h-.55zM268.8 575.8h.55v.55h-.55zM251.7 570.7h.55v.55h-.55zM259.9 585.3h.55v.55h-.55zM254.3 590.2h.55v.55h-.55zM255.6 581.8h.55v.55h-.55zM252.4 572.6h.55v.55h-.55zM271.4 571.2h.55v.55h-.55zM257.3 568.2h.55v.55h-.55zM260.9 577.7h.55v.55h-.55zM247.9 580.3h.55v.55h-.55zM256.7 564.8h.55v.55h-.55zM261.3 570.8h.55v.55h-.55zM254.8 571.2h.55v.55h-.55zM269.2 580.1h.55v.55h-.55zM256.6 578.9h.55v.55h-.55zM258.4 578.0h.55v.55h-.55zM258.2 587.4h.55v.55h-.55zM255.2 551.5h.55v.55h-.55zM257.3 579.3h.55v.55h-.55zM254.4 582.0h.55v.55h-.55zM278.0 584.2h.55v.55h-.55zM254.0 563.9h.55v.55h-.55zM256.4 565.0h.55v.55h-.55zM261.7 566.4h.55v.55h-.55zM251.1 578.9h.55v.55h-.55zM249.5 579.4h.55v.55h-.55zM268.1 579.0h.55v.55h-.55zM257.8 586.4h.55v.55h-.55zM259.3 595.0h.55v.55h-.55zM270.5 569.9h.55v.55h-.55zM257.9 567.9h.55v.55h-.55zM264.3 569.7h.55v.55h-.55zM254.8 566.9h.55v.55h-.55zM270.2 583.7h.55v.55h-.55zM261.2 575.7h.55v.55h-.55zM247.1 567.0h.55v.55h-.55zM261.4 567.3h.55v.55h-.55zM246.2 588.3h.55v.55h-.55zM250.5 584.8h.55v.55h-.55zM266.3 591.5h.55v.55h-.55zM250.4 572.1h.55v.55h-.55zM247.1 559.1h.55v.55h-.55zM257.9 570.8h.55v.55h-.55zM253.7 561.9h.55v.55h-.55zM254.4 576.3h.55v.55h-.55zM255.0 583.2h.55v.55h-.55zM256.7 557.0h.55v.55h-.55zM248.3 580.0h.55v.55h-.55zM263.2 574.6h.55v.55h-.55zM262.3 558.7h.55v.55h-.55zM257.4 579.0h.55v.55h-.55zM257.7 577.0h.55v.55h-.55zM259.7 573.3h.55v.55h-.55zM250.5 565.4h.55v.55h-.55zM254.4 590.6h.55v.55h-.55zM263.2 567.8h.55v.55h-.55zM257.1 568.5h.55v.55h-.55zM268.2 570.4h.55v.55h-.55zM249.4 577.3h.55v.55h-.55zM265.5 596.8h.55v.55h-.55zM249.6 582.2h.55v.55h-.55zM246.5 570.4h.55v.55h-.55zM265.0 571.8h.55v.55h-.55zM259.1 582.0h.55v.55h-.55zM254.4 572.6h.55v.55h-.55zM266.0 577.7h.55v.55h-.55zM252.9 577.5h.55v.55h-.55zM264.2 581.4h.55v.55h-.55zM262.7 577.1h.55v.55h-.55zM263.5 560.7h.55v.55h-.55zM258.1 568.9h.55v.55h-.55zM260.3 571.5h.55v.55h-.55zM256.0 576.0h.55v.55h-.55zM253.3 573.8h.55v.55h-.55zM256.4 579.3h.55v.55h-.55zM253.1 565.1h.55v.55h-.55zM254.8 575.2h.55v.55h-.55zM249.1 568.4h.55v.55h-.55zM256.7 579.2h.55v.55h-.55zM254.4 572.3h.55v.55h-.55zM258.0 572.1h.55v.55h-.55zM264.0 580.7h.55v.55h-.55zM246.9 567.0h.55v.55h-.55zM250.1 577.6h.55v.55h-.55zM260.7 565.0h.55v.55h-.55zM264.1 594.1h.55v.55h-.55zM258.8 590.8h.55v.55h-.55zM258.7 566.2h.55v.55h-.55zM261.2 568.7h.55v.55h-.55zM264.3 567.0h.55v.55h-.55zM261.7 577.6h.55v.55h-.55zM254.5 586.1h.55v.55h-.55zM261.8 578.6h.55v.55h-.55zM245.5 582.0h.55v.55h-.55zM255.2 573.8h.55v.55h-.55zM259.4 586.1h.55v.55h-.55zM253.2 582.9h.55v.55h-.55zM251.8 577.6h.55v.55h-.55zM266.6 568.5h.55v.55h-.55zM266.2 575.5h.55v.55h-.55zM243.8 565.9h.55v.55h-.55zM264.5 572.6h.55v.55h-.55zM252.9 573.5h.55v.55h-.55zM257.0 577.7h.55v.55h-.55zM250.2 575.2h.55v.55h-.55zM264.1 575.8h.55v.55h-.55zM242.5 581.5h.55v.55h-.55zM255.7 562.4h.55v.55h-.55zM260.6 583.1h.55v.55h-.55zM259.4 575.7h.55v.55h-.55zM249.5 572.6h.55v.55h-.55zM264.7 580.3h.55v.55h-.55zM258.6 576.5h.55v.55h-.55zM241.7 571.0h.55v.55h-.55zM256.3 570.0h.55v.55h-.55zM257.6 569.9h.55v.55h-.55zM259.0 577.5h.55v.55h-.55zM261.5 571.4h.55v.55h-.55zM260.6 577.4h.55v.55h-.55zM260.2 582.5h.55v.55h-.55zM251.6 570.4h.55v.55h-.55zM257.6 573.0h.55v.55h-.55zM253.2 574.2h.55v.55h-.55zM255.8 568.4h.55v.55h-.55zM256.5 576.9h.55v.55h-.55zM270.9 565.0h.55v.55h-.55zM254.1 583.3h.55v.55h-.55zM251.0 582.5h.55v.55h-.55zM252.3 584.4h.55v.55h-.55zM262.8 591.6h.55v.55h-.55zM269.6 589.0h.55v.55h-.55zM257.5 572.8h.55v.55h-.55zM264.8 592.4h.55v.55h-.55zM272.4 577.9h.55v.55h-.55zM259.9 575.1h.55v.55h-.55zM255.6 569.5h.55v.55h-.55zM256.9 587.7h.55v.55h-.55zM263.0 570.9h.55v.55h-.55zM253.6 575.8h.55v.55h-.55zM258.0 573.5h.55v.55h-.55zM259.0 564.9h.55v.55h-.55zM263.3 577.3h.55v.55h-.55zM260.9 565.2h.55v.55h-.55zM258.4 581.2h.55v.55h-.55zM251.9 583.4h.55v.55h-.55zM255.9 590.3h.55v.55h-.55zM259.3 574.2h.55v.55h-.55zM259.2 577.4h.55v.55h-.55zM254.5 586.2h.55v.55h-.55zM251.2 568.6h.55v.55h-.55zM261.0 565.2h.55v.55h-.55zM260.5 586.2h.55v.55h-.55zM261.3 583.2h.55v.55h-.55zM259.5 555.7h.55v.55h-.55zM259.3 583.7h.55v.55h-.55zM260.4 579.2h.55v.55h-.55zM256.9 582.9h.55v.55h-.55zM270.7 571.3h.55v.55h-.55zM261.1 589.9h.55v.55h-.55zM258.6 582.9h.55v.55h-.55zM262.0 573.7h.55v.55h-.55zM250.3 567.2h.55v.55h-.55zM258.8 589.0h.55v.55h-.55zM258.2 575.6h.55v.55h-.55zM271.5 589.7h.55v.55h-.55zM254.1 574.8h.55v.55h-.55zM261.3 564.8h.55v.55h-.55zM267.0 568.4h.55v.55h-.55zM269.9 569.6h.55v.55h-.55zM255.5 576.2h.55v.55h-.55zM255.4 581.2h.55v.55h-.55zM261.1 581.8h.55v.55h-.55zM251.5 571.8h.55v.55h-.55zM246.9 561.9h.55v.55h-.55zM253.5 580.2h.55v.55h-.55zM251.1 560.5h.55v.55h-.55zM254.6 576.8h.55v.55h-.55zM251.0 568.3h.55v.55h-.55zM248.3 578.5h.55v.55h-.55zM268.9 579.5h.55v.55h-.55zM257.3 560.1h.55v.55h-.55zM268.1 580.7h.55v.55h-.55zM255.3 574.5h.55v.55h-.55zM261.5 591.1h.55v.55h-.55zM264.1 590.5h.55v.55h-.55zM258.9 578.9h.55v.55h-.55zM256.1 576.0h.55v.55h-.55zM263.6 582.7h.55v.55h-.55zM258.7 563.0h.55v.55h-.55zM256.4 577.8h.55v.55h-.55zM260.5 573.1h.55v.55h-.55zM262.5 564.4h.55v.55h-.55zM266.1 576.7h.55v.55h-.55zM257.7 581.1h.55v.55h-.55zM252.2 563.9h.55v.55h-.55zM256.7 573.5h.55v.55h-.55zM256.8 588.2h.55v.55h-.55zM253.3 586.0h.55v.55h-.55zM258.2 567.2h.55v.55h-.55zM253.0 569.2h.55v.55h-.55zM255.8 567.7h.55v.55h-.55zM250.3 578.8h.55v.55h-.55zM259.9 578.9h.55v.55h-.55zM250.5 574.3h.55v.55h-.55zM257.7 565.7h.55v.55h-.55zM259.7 576.5h.55v.55h-.55zM250.4 569.9h.55v.55h-.55zM263.8 587.4h.55v.55h-.55zM254.6 576.9h.55v.55h-.55zM258.4 567.1h.55v.55h-.55zM263.5 575.2h.55v.55h-.55zM252.1 569.4h.55v.55h-.55zM257.8 578.8h.55v.55h-.55zM264.0 573.5h.55v.55h-.55zM255.7 575.5h.55v.55h-.55zM259.3 573.9h.55v.55h-.55zM267.4 572.7h.55v.55h-.55zM250.5 593.6h.55v.55h-.55zM269.5 569.6h.55v.55h-.55zM261.0 574.8h.55v.55h-.55zM265.7 586.7h.55v.55h-.55zM251.0 573.5h.55v.55h-.55zM257.9 573.8h.55v.55h-.55zM250.7 584.5h.55v.55h-.55zM266.2 568.3h.55v.55h-.55zM262.0 570.0h.55v.55h-.55zM254.7 578.1h.55v.55h-.55zM255.3 577.6h.55v.55h-.55zM243.3 583.6h.55v.55h-.55zM269.1 580.7h.55v.55h-.55zM273.3 575.0h.55v.55h-.55zM262.9 575.9h.55v.55h-.55zM249.5 571.1h.55v.55h-.55zM265.7 566.8h.55v.55h-.55zM250.6 570.6h.55v.55h-.55zM268.7 575.6h.55v.55h-.55zM264.2 579.0h.55v.55h-.55zM263.2 569.1h.55v.55h-.55zM252.8 564.6h.55v.55h-.55zM259.1 555.3h.55v.55h-.55zM255.6 578.6h.55v.55h-.55zM262.6 570.0h.55v.55h-.55zM255.2 570.9h.55v.55h-.55zM267.9 562.6h.55v.55h-.55zM253.6 581.2h.55v.55h-.55zM262.4 588.8h.55v.55h-.55zM263.8 574.9h.55v.55h-.55zM249.0 570.5h.55v.55h-.55zM261.0 582.9h.55v.55h-.55zM273.5 582.9h.55v.55h-.55zM258.1 559.5h.55v.55h-.55zM253.4 572.3h.55v.55h-.55zM251.4 570.9h.55v.55h-.55zM271.6 583.8h.55v.55h-.55zM263.4 577.6h.55v.55h-.55zM258.5 587.0h.55v.55h-.55zM268.1 576.2h.55v.55h-.55zM253.9 589.5h.55v.55h-.55zM252.8 578.9h.55v.55h-.55zM254.4 561.4h.55v.55h-.55zM253.0 574.0h.55v.55h-.55zM260.7 591.7h.55v.55h-.55zM252.8 574.9h.55v.55h-.55zM263.9 581.9h.55v.55h-.55zM265.0 583.1h.55v.55h-.55zM247.6 570.2h.55v.55h-.55zM255.4 582.2h.55v.55h-.55zM253.8 588.4h.55v.55h-.55zM262.2 573.5h.55v.55h-.55zM261.1 584.6h.55v.55h-.55zM267.6 565.5h.55v.55h-.55zM260.8 562.6h.55v.55h-.55zM271.0 599.0h.55v.55h-.55zM262.9 579.1h.55v.55h-.55zM248.6 567.3h.55v.55h-.55zM269.4 574.7h.55v.55h-.55zM261.8 583.0h.55v.55h-.55zM261.1 561.4h.55v.55h-.55zM253.3 579.1h.55v.55h-.55zM254.6 580.5h.55v.55h-.55zM263.9 568.9h.55v.55h-.55zM249.9 579.5h.55v.55h-.55zM256.8 559.3h.55v.55h-.55zM250.4 556.6h.55v.55h-.55zM247.8 573.5h.55v.55h-.55zM249.3 564.3h.55v.55h-.55zM267.7 578.1h.55v.55h-.55zM258.2 578.5h.55v.55h-.55zM271.1 564.6h.55v.55h-.55zM253.2 565.9h.55v.55h-.55zM263.5 577.0h.55v.55h-.55zM258.6 570.1h.55v.55h-.55zM273.1 571.0h.55v.55h-.55zM254.0 573.3h.55v.55h-.55zM259.7 578.8h.55v.55h-.55zM254.0 573.3h.55v.55h-.55zM259.8 568.3h.55v.55h-.55zM264.9 578.0h.55v.55h-.55zM250.0 569.3h.55v.55h-.55zM267.5 578.2h.55v.55h-.55zM262.6 581.0h.55v.55h-.55zM257.0 565.1h.55v.55h-.55zM255.0 590.7h.55v.55h-.55zM254.0 568.8h.55v.55h-.55zM255.2 563.1h.55v.55h-.55zM263.6 580.2h.55v.55h-.55zM265.3 588.8h.55v.55h-.55zM254.9 576.9h.55v.55h-.55zM261.2 591.1h.55v.55h-.55zM262.4 581.6h.55v.55h-.55zM258.7 586.3h.55v.55h-.55zM259.1 566.1h.55v.55h-.55zM248.6 569.3h.55v.55h-.55zM260.7 579.7h.55v.55h-.55zM257.6 578.7h.55v.55h-.55zM256.2 581.9h.55v.55h-.55zM256.0 573.6h.55v.55h-.55zM264.1 567.5h.55v.55h-.55zM250.6 577.8h.55v.55h-.55zM264.5 570.1h.55v.55h-.55zM259.1 561.7h.55v.55h-.55zM254.4 582.8h.55v.55h-.55zM254.8 576.2h.55v.55h-.55zM268.8 576.7h.55v.55h-.55zM266.5 586.1h.55v.55h-.55zM262.0 567.3h.55v.55h-.55zM241.7 583.2h.55v.55h-.55zM257.2 569.3h.55v.55h-.55zM249.4 573.8h.55v.55h-.55zM262.4 590.9h.55v.55h-.55zM248.1 573.7h.55v.55h-.55zM256.2 567.5h.55v.55h-.55zM258.6 578.7h.55v.55h-.55zM259.7 569.3h.55v.55h-.55zM252.9 572.3h.55v.55h-.55zM258.8 559.7h.55v.55h-.55zM253.4 582.2h.55v.55h-.55zM257.3 559.4h.55v.55h-.55zM257.8 577.7h.55v.55h-.55zM265.0 584.8h.55v.55h-.55zM264.3 580.6h.55v.55h-.55zM259.5 575.9h.55v.55h-.55zM259.7 570.9h.55v.55h-.55zM255.9 582.9h.55v.55h-.55zM257.9 580.5h.55v.55h-.55zM262.8 554.1h.55v.55h-.55zM266.7 575.4h.55v.55h-.55zM251.9 572.6h.55v.55h-.55zM262.0 568.1h.55v.55h-.55zM249.3 576.6h.55v.55h-.55zM262.6 558.6h.55v.55h-.55zM259.4 586.7h.55v.55h-.55zM252.3 584.7h.55v.55h-.55zM261.3 570.3h.55v.55h-.55zM262.1 582.7h.55v.55h-.55zM262.9 590.9h.55v.55h-.55zM255.8 576.0h.55v.55h-.55zM253.9 587.5h.55v.55h-.55zM250.9 578.9h.55v.55h-.55zM254.2 564.7h.55v.55h-.55zM263.8 572.4h.55v.55h-.55zM262.2 572.8h.55v.55h-.55zM258.5 569.5h.55v.55h-.55zM256.5 566.0h.55v.55h-.55zM264.8 560.3h.55v.55h-.55zM259.6 572.3h.55v.55h-.55zM269.2 587.5h.55v.55h-.55zM252.7 563.9h.55v.55h-.55zM255.0 580.3h.55v.55h-.55zM261.9 569.4h.55v.55h-.55zM268.0 569.8h.55v.55h-.55zM256.9 577.9h.55v.55h-.55zM265.2 574.8h.55v.55h-.55zM253.2 575.2h.55v.55h-.55zM262.8 562.6h.55v.55h-.55zM253.6 571.6h.55v.55h-.55zM260.9 578.5h.55v.55h-.55zM268.8 567.4h.55v.55h-.55zM251.2 566.3h.55v.55h-.55zM267.1 568.9h.55v.55h-.55zM258.1 566.2h.55v.55h-.55zM257.1 576.7h.55v.55h-.55zM264.4 576.2h.55v.55h-.55zM272.8 584.0h.55v.55h-.55zM261.2 576.5h.55v.55h-.55zM261.5 573.2h.55v.55h-.55zM255.2 576.3h.55v.55h-.55zM261.2 592.3h.55v.55h-.55zM266.9 581.2h.55v.55h-.55zM268.6 593.8h.55v.55h-.55zM259.1 584.1h.55v.55h-.55zM261.5 584.7h.55v.55h-.55zM253.8 576.5h.55v.55h-.55zM254.9 555.9h.55v.55h-.55zM261.2 592.1h.55v.55h-.55zM254.1 578.0h.55v.55h-.55zM262.0 569.3h.55v.55h-.55zM258.8 574.2h.55v.55h-.55zM258.7 579.9h.55v.55h-.55zM252.5 560.2h.55v.55h-.55zM254.2 565.5h.55v.55h-.55zM264.1 581.5h.55v.55h-.55zM263.1 572.2h.55v.55h-.55zM262.6 581.4h.55v.55h-.55zM255.7 567.9h.55v.55h-.55zM262.5 571.1h.55v.55h-.55zM253.3 572.1h.55v.55h-.55zM265.2 577.0h.55v.55h-.55zM261.8 576.2h.55v.55h-.55zM262.9 569.3h.55v.55h-.55zM262.6 564.7h.55v.55h-.55zM254.4 590.3h.55v.55h-.55zM250.9 570.6h.55v.55h-.55zM264.3 580.3h.55v.55h-.55zM262.0 592.9h.55v.55h-.55zM257.9 590.3h.55v.55h-.55zM262.7 561.7h.55v.55h-.55zM266.3 567.7h.55v.55h-.55zM264.4 583.5h.55v.55h-.55zM255.5 586.4h.55v.55h-.55zM256.9 563.6h.55v.55h-.55zM270.1 573.0h.55v.55h-.55zM258.8 582.0h.55v.55h-.55zM258.4 567.4h.55v.55h-.55zM257.6 566.3h.55v.55h-.55zM259.0 578.6h.55v.55h-.55zM263.9 581.8h.55v.55h-.55zM262.0 559.3h.55v.55h-.55zM257.5 567.0h.55v.55h-.55zM260.5 580.3h.55v.55h-.55zM254.3 574.1h.55v.55h-.55zM255.7 572.9h.55v.55h-.55zM262.3 579.2h.55v.55h-.55zM256.6 572.2h.55v.55h-.55zM252.5 576.1h.55v.55h-.55zM245.0 580.5h.55v.55h-.55zM261.1 576.0h.55v.55h-.55zM261.2 568.0h.55v.55h-.55zM260.4 571.2h.55v.55h-.55zM249.4 584.1h.55v.55h-.55zM262.7 567.4h.55v.55h-.55zM260.5 567.9h.55v.55h-.55zM261.5 568.9h.55v.55h-.55zM267.9 583.5h.55v.55h-.55zM252.3 580.5h.55v.55h-.55zM272.5 568.6h.55v.55h-.55zM269.6 591.1h.55v.55h-.55zM264.6 573.9h.55v.55h-.55zM256.9 575.4h.55v.55h-.55zM269.5 582.0h.55v.55h-.55zM255.3 561.5h.55v.55h-.55zM257.6 560.0h.55v.55h-.55zM256.1 558.9h.55v.55h-.55zM263.8 580.6h.55v.55h-.55zM255.4 565.5h.55v.55h-.55zM252.5 579.7h.55v.55h-.55zM262.2 565.7h.55v.55h-.55zM250.0 572.9h.55v.55h-.55zM255.1 558.2h.55v.55h-.55zM257.1 565.2h.55v.55h-.55zM263.9 583.2h.55v.55h-.55zM249.4 585.9h.55v.55h-.55zM264.7 567.1h.55v.55h-.55zM268.6 576.2h.55v.55h-.55zM257.0 573.5h.55v.55h-.55zM251.6 570.7h.55v.55h-.55zM262.5 567.0h.55v.55h-.55zM258.5 577.7h.55v.55h-.55zM255.8 575.2h.55v.55h-.55zM265.4 581.9h.55v.55h-.55zM257.9 581.8h.55v.55h-.55zM259.7 584.5h.55v.55h-.55zM264.0 575.9h.55v.55h-.55zM267.6 585.0h.55v.55h-.55zM256.2 568.9h.55v.55h-.55zM260.4 571.5h.55v.55h-.55z" fill="#b0b0b0"/>
<ellipse cx="256.7" cy="574" rx="6.52" ry="12.92" fill="#b48ac8" fill-opacity="0.22"/>
<path d="M258.4 585.3h.6v.6h-.6zM250.4 560.1h.6v.6h-.6zM256.4 568.8h.6v.6h-.6zM250.2 573.2h.6v.6h-.6zM251.6 587.2h.6v.6h-.6zM252.8 574.4h.6v.6h-.6zM252.6 571.8h.6v.6h-.6zM248.2 595.1h.6v.6h-.6zM261.1 594.2h.6v.6h-.6zM255.9 574.6h.6v.6h-.6zM262.0 563.4h.6v.6h-.6zM254.7 563.5h.6v.6h-.6zM254.0 578.3h.6v.6h-.6zM259.0 569.0h.6v.6h-.6zM249.6 567.8h.6v.6h-.6zM257.0 567.7h.6v.6h-.6zM256.0 573.6h.6v.6h-.6zM257.2 560.1h.6v.6h-.6zM251.5 564.2h.6v.6h-.6zM253.2 573.7h.6v.6h-.6zM253.4 575.3h.6v.6h-.6zM255.3 563.6h.6v.6h-.6zM256.1 582.7h.6v.6h-.6zM253.5 584.2h.6v.6h-.6zM260.0 568.3h.6v.6h-.6zM256.4 593.8h.6v.6h-.6zM256.5 576.8h.6v.6h-.6zM254.1 557.3h.6v.6h-.6zM255.8 570.4h.6v.6h-.6zM262.0 572.9h.6v.6h-.6zM256.2 581.2h.6v.6h-.6zM258.9 573.5h.6v.6h-.6zM251.4 569.0h.6v.6h-.6zM258.5 576.1h.6v.6h-.6zM255.8 566.0h.6v.6h-.6zM256.1 576.6h.6v.6h-.6zM256.0 576.1h.6v.6h-.6zM257.1 574.8h.6v.6h-.6zM258.2 581.2h.6v.6h-.6zM256.1 555.4h.6v.6h-.6zM254.4 553.0h.6v.6h-.6zM260.0 569.8h.6v.6h-.6zM249.7 578.0h.6v.6h-.6zM254.1 586.0h.6v.6h-.6zM258.0 569.0h.6v.6h-.6zM256.3 576.2h.6v.6h-.6zM251.9 586.8h.6v.6h-.6zM255.7 566.3h.6v.6h-.6zM261.9 560.2h.6v.6h-.6zM258.2 584.5h.6v.6h-.6zM254.0 568.4h.6v.6h-.6zM257.0 557.4h.6v.6h-.6zM248.2 579.8h.6v.6h-.6zM259.1 575.3h.6v.6h-.6zM257.3 567.7h.6v.6h-.6zM261.7 559.1h.6v.6h-.6zM253.6 559.5h.6v.6h-.6zM258.0 550.8h.6v.6h-.6zM261.1 572.7h.6v.6h-.6zM256.3 580.9h.6v.6h-.6zM254.1 574.5h.6v.6h-.6zM257.4 574.1h.6v.6h-.6zM251.5 575.9h.6v.6h-.6zM256.3 564.3h.6v.6h-.6zM255.7 578.9h.6v.6h-.6zM258.9 575.7h.6v.6h-.6zM259.5 576.8h.6v.6h-.6zM256.9 567.7h.6v.6h-.6zM257.4 564.5h.6v.6h-.6zM255.8 582.3h.6v.6h-.6zM256.4 578.2h.6v.6h-.6zM253.1 572.6h.6v.6h-.6zM261.6 578.3h.6v.6h-.6zM254.2 572.1h.6v.6h-.6zM255.7 567.3h.6v.6h-.6zM255.7 573.0h.6v.6h-.6zM260.5 568.7h.6v.6h-.6zM247.5 578.5h.6v.6h-.6zM258.1 576.1h.6v.6h-.6zM262.0 567.6h.6v.6h-.6zM253.0 579.3h.6v.6h-.6zM258.7 559.5h.6v.6h-.6zM260.8 564.1h.6v.6h-.6zM253.7 560.3h.6v.6h-.6zM252.9 584.8h.6v.6h-.6zM263.5 570.7h.6v.6h-.6zM256.9 570.5h.6v.6h-.6zM256.4 573.5h.6v.6h-.6zM250.8 580.2h.6v.6h-.6zM250.1 577.4h.6v.6h-.6zM253.3 578.0h.6v.6h-.6zM257.4 568.6h.6v.6h-.6zM254.8 569.7h.6v.6h-.6zM259.9 577.9h.6v.6h-.6zM253.6 580.6h.6v.6h-.6zM263.3 573.5h.6v.6h-.6zM263.0 580.0h.6v.6h-.6zM258.1 569.6h.6v.6h-.6zM256.0 584.8h.6v.6h-.6zM253.0 573.3h.6v.6h-.6zM264.6 580.1h.6v.6h-.6zM253.8 572.6h.6v.6h-.6zM256.1 568.2h.6v.6h-.6zM251.5 584.9h.6v.6h-.6zM255.5 572.8h.6v.6h-.6zM256.9 563.1h.6v.6h-.6zM248.6 582.6h.6v.6h-.6zM253.1 560.2h.6v.6h-.6zM251.4 578.7h.6v.6h-.6zM253.9 567.0h.6v.6h-.6zM250.5 572.1h.6v.6h-.6zM260.7 573.8h.6v.6h-.6zM258.6 553.6h.6v.6h-.6zM254.7 568.5h.6v.6h-.6zM254.0 579.2h.6v.6h-.6zM255.0 575.1h.6v.6h-.6zM260.0 571.4h.6v.6h-.6zM253.4 575.9h.6v.6h-.6zM256.8 573.6h.6v.6h-.6zM258.6 585.5h.6v.6h-.6z" fill="#9a5aa8" fill-opacity="0.7"/>
<ellipse cx="256.2" cy="578" rx="4.73" ry="8.21" fill="#a862b0" fill-opacity="0.6"/>
<ellipse cx="256.2" cy="578" rx="3.87" ry="6.69" fill="#75508f" fill-opacity="0.9"/>
<ellipse cx="256.4" cy="578" rx="2.79" ry="5.17" fill="#4f5fa0"/>
<ellipse cx="256.5" cy="578.5" rx="1.62" ry="3.19" fill="#3aa8a0"/>
<line x1="247.1" y1="547.1" x2="247.1" y2="610.9" stroke="#6e6e6e" stroke-width="0.8"/>
<line x1="217.3" y1="585.3" x2="281.1" y2="585.3" stroke="#6e6e6e" stroke-width="0.8"/>
<text x="248.1" y="589.7" font-size="4.8" stroke="#1a1a1a" stroke-width="0.15" fill="#1a1a1a" textLength="10.8" lengthAdjust="spacingAndGlyphs">17.23%</text>
<text x="206.3" y="625.6" font-size="6.8" font-weight="bold" fill="#222">e</text>
<text x="211.3" y="625.6" font-size="6.8" fill="#333" textLength="81.5" lengthAdjust="spacingAndGlyphs">PLT+CTL+LKB1 shRNA-MDSC(PBS)</text>
<rect x="33.4" y="631.2" width="63.8" height="63.8" fill="none" stroke="#8a8a8a" stroke-width="0.8"/>
<line x1="32.2" y1="631.7" x2="33.4" y2="631.7" stroke="#999" stroke-width="0.4"/>
<line x1="33.9" y1="695" x2="33.9" y2="696.2" stroke="#999" stroke-width="0.4"/>
<line x1="32.2" y1="637" x2="33.4" y2="637" stroke="#999" stroke-width="0.4"/>
<line x1="39.2" y1="695" x2="39.2" y2="696.2" stroke="#999" stroke-width="0.4"/>
<line x1="32.2" y1="642.3" x2="33.4" y2="642.3" stroke="#999" stroke-width="0.4"/>
<line x1="44.5" y1="695" x2="44.5" y2="696.2" stroke="#999" stroke-width="0.4"/>
<line x1="32.2" y1="647.6" x2="33.4" y2="647.6" stroke="#999" stroke-width="0.4"/>
<line x1="49.8" y1="695" x2="49.8" y2="696.2" stroke="#999" stroke-width="0.4"/>
<line x1="32.2" y1="652.9" x2="33.4" y2="652.9" stroke="#999" stroke-width="0.4"/>
<line x1="55.1" y1="695" x2="55.1" y2="696.2" stroke="#999" stroke-width="0.4"/>
<line x1="32.2" y1="658.2" x2="33.4" y2="658.2" stroke="#999" stroke-width="0.4"/>
<line x1="60.4" y1="695" x2="60.4" y2="696.2" stroke="#999" stroke-width="0.4"/>
<line x1="32.2" y1="663.5" x2="33.4" y2="663.5" stroke="#999" stroke-width="0.4"/>
<line x1="65.7" y1="695" x2="65.7" y2="696.2" stroke="#999" stroke-width="0.4"/>
<line x1="32.2" y1="668.8" x2="33.4" y2="668.8" stroke="#999" stroke-width="0.4"/>
<line x1="71" y1="695" x2="71" y2="696.2" stroke="#999" stroke-width="0.4"/>
<line x1="32.2" y1="674.1" x2="33.4" y2="674.1" stroke="#999" stroke-width="0.4"/>
<line x1="76.3" y1="695" x2="76.3" y2="696.2" stroke="#999" stroke-width="0.4"/>
<line x1="32.2" y1="679.4" x2="33.4" y2="679.4" stroke="#999" stroke-width="0.4"/>
<line x1="81.6" y1="695" x2="81.6" y2="696.2" stroke="#999" stroke-width="0.4"/>
<line x1="32.2" y1="684.7" x2="33.4" y2="684.7" stroke="#999" stroke-width="0.4"/>
<line x1="86.9" y1="695" x2="86.9" y2="696.2" stroke="#999" stroke-width="0.4"/>
<line x1="32.2" y1="690" x2="33.4" y2="690" stroke="#999" stroke-width="0.4"/>
<line x1="92.2" y1="695" x2="92.2" y2="696.2" stroke="#999" stroke-width="0.4"/>
<line x1="32.2" y1="695.3" x2="33.4" y2="695.3" stroke="#999" stroke-width="0.4"/>
<line x1="97.5" y1="695" x2="97.5" y2="696.2" stroke="#999" stroke-width="0.4"/>
<text x="31.8" y="633.5" font-size="4.6" text-anchor="end" fill="#777">10<tspan font-size="3.22" dy="-1.6">3</tspan></text>
<text x="31.8" y="649.6" font-size="4.6" text-anchor="end" fill="#777">10<tspan font-size="3.22" dy="-1.6">2</tspan></text>
<text x="31.8" y="665.7" font-size="4.6" text-anchor="end" fill="#777">10<tspan font-size="3.22" dy="-1.6">1</tspan></text>
<text x="31.8" y="681.8" font-size="4.6" text-anchor="end" fill="#777">10<tspan font-size="3.22" dy="-1.6">0</tspan></text>
<text x="50" y="701.2" font-size="4.6" text-anchor="middle" fill="#777">10<tspan font-size="3.22" dy="-1.6">0</tspan></text>
<text x="65.7" y="701.2" font-size="4.6" text-anchor="middle" fill="#777">10<tspan font-size="3.22" dy="-1.6">1</tspan></text>
<text x="81.4" y="701.2" font-size="4.6" text-anchor="middle" fill="#777">10<tspan font-size="3.22" dy="-1.6">2</tspan></text>
<text x="97.1" y="701.2" font-size="4.6" text-anchor="middle" fill="#777">10<tspan font-size="3.22" dy="-1.6">3</tspan></text>
<path d="M74.1 656.9h.55v.55h-.55zM79.0 671.3h.55v.55h-.55zM75.0 654.8h.55v.55h-.55zM75.0 658.1h.55v.55h-.55zM82.5 661.3h.55v.55h-.55zM73.6 653.2h.55v.55h-.55zM75.1 649.1h.55v.55h-.55zM68.9 658.1h.55v.55h-.55zM85.5 654.4h.55v.55h-.55zM81.0 668.8h.55v.55h-.55zM66.6 652.7h.55v.55h-.55zM77.3 661.8h.55v.55h-.55zM81.4 655.7h.55v.55h-.55zM67.7 667.1h.55v.55h-.55zM70.2 655.4h.55v.55h-.55zM70.7 653.3h.55v.55h-.55zM75.4 666.2h.55v.55h-.55zM77.6 659.2h.55v.55h-.55zM78.4 672.4h.55v.55h-.55zM88.6 651.0h.55v.55h-.55zM77.4 674.1h.55v.55h-.55zM64.8 646.6h.55v.55h-.55zM73.4 657.1h.55v.55h-.55zM67.1 660.8h.55v.55h-.55zM76.3 660.2h.55v.55h-.55zM73.1 669.8h.55v.55h-.55zM74.0 665.7h.55v.55h-.55zM72.6 669.8h.55v.55h-.55zM83.6 665.9h.55v.55h-.55zM76.5 670.6h.55v.55h-.55zM76.0 669.2h.55v.55h-.55zM79.2 662.8h.55v.55h-.55zM77.2 659.7h.55v.55h-.55zM80.2 662.6h.55v.55h-.55zM80.9 669.8h.55v.55h-.55zM81.9 659.6h.55v.55h-.55zM69.9 658.9h.55v.55h-.55zM87.3 651.3h.55v.55h-.55zM79.3 661.8h.55v.55h-.55zM71.5 651.8h.55v.55h-.55zM74.9 680.4h.55v.55h-.55zM72.4 664.1h.55v.55h-.55zM81.7 665.5h.55v.55h-.55zM70.6 653.4h.55v.55h-.55zM72.7 662.7h.55v.55h-.55zM75.5 661.3h.55v.55h-.55zM80.4 664.1h.55v.55h-.55zM72.5 668.8h.55v.55h-.55zM66.2 663.7h.55v.55h-.55zM69.0 665.5h.55v.55h-.55zM78.2 658.6h.55v.55h-.55zM83.7 662.1h.55v.55h-.55zM67.8 660.5h.55v.55h-.55zM76.8 665.0h.55v.55h-.55zM81.4 666.3h.55v.55h-.55zM64.6 661.0h.55v.55h-.55zM76.6 650.6h.55v.55h-.55zM66.0 663.7h.55v.55h-.55zM75.5 654.4h.55v.55h-.55zM62.2 661.2h.55v.55h-.55zM73.4 648.6h.55v.55h-.55zM70.3 655.5h.55v.55h-.55zM70.6 672.6h.55v.55h-.55zM72.8 647.8h.55v.55h-.55zM61.5 649.6h.55v.55h-.55zM78.5 657.0h.55v.55h-.55zM76.1 657.9h.55v.55h-.55zM76.1 661.6h.55v.55h-.55zM78.7 653.7h.55v.55h-.55zM71.5 641.6h.55v.55h-.55zM80.2 656.0h.55v.55h-.55zM73.6 674.1h.55v.55h-.55zM81.2 665.7h.55v.55h-.55zM68.5 641.1h.55v.55h-.55zM81.8 667.1h.55v.55h-.55zM72.8 646.1h.55v.55h-.55zM75.0 650.1h.55v.55h-.55zM82.6 657.3h.55v.55h-.55zM72.6 678.9h.55v.55h-.55zM69.6 661.9h.55v.55h-.55zM71.9 661.9h.55v.55h-.55zM73.8 642.3h.55v.55h-.55zM71.3 677.7h.55v.55h-.55zM85.8 654.4h.55v.55h-.55zM77.5 657.1h.55v.55h-.55zM83.7 663.3h.55v.55h-.55zM75.6 663.9h.55v.55h-.55zM73.0 667.2h.55v.55h-.55zM69.4 663.0h.55v.55h-.55zM72.7 681.0h.55v.55h-.55zM76.0 652.5h.55v.55h-.55zM71.0 667.2h.55v.55h-.55zM66.0 655.7h.55v.55h-.55zM69.1 663.6h.55v.55h-.55zM76.4 664.3h.55v.55h-.55zM68.7 664.0h.55v.55h-.55zM70.0 676.8h.55v.55h-.55zM87.9 662.8h.55v.55h-.55zM83.5 658.5h.55v.55h-.55zM64.1 661.8h.55v.55h-.55zM81.5 674.6h.55v.55h-.55zM68.6 663.2h.55v.55h-.55zM81.4 666.1h.55v.55h-.55zM70.4 659.4h.55v.55h-.55zM71.2 665.2h.55v.55h-.55zM74.5 654.4h.55v.55h-.55zM84.3 670.4h.55v.55h-.55zM71.7 651.4h.55v.55h-.55zM78.0 670.2h.55v.55h-.55zM65.2 655.3h.55v.55h-.55zM74.2 657.8h.55v.55h-.55zM73.0 675.9h.55v.55h-.55zM72.2 664.0h.55v.55h-.55zM72.0 660.7h.55v.55h-.55zM69.5 645.4h.55v.55h-.55zM78.2 656.1h.55v.55h-.55zM71.7 638.2h.55v.55h-.55zM79.1 653.0h.55v.55h-.55zM79.4 656.4h.55v.55h-.55zM85.1 666.5h.55v.55h-.55zM75.9 646.2h.55v.55h-.55zM73.0 657.3h.55v.55h-.55zM77.3 650.1h.55v.55h-.55zM82.9 676.7h.55v.55h-.55zM74.9 658.4h.55v.55h-.55zM72.4 657.8h.55v.55h-.55zM72.0 666.5h.55v.55h-.55zM79.0 671.9h.55v.55h-.55zM74.2 646.0h.55v.55h-.55zM85.1 662.3h.55v.55h-.55zM83.0 661.9h.55v.55h-.55zM78.0 642.2h.55v.55h-.55zM70.0 666.6h.55v.55h-.55zM83.3 671.9h.55v.55h-.55zM74.5 669.0h.55v.55h-.55zM72.3 664.6h.55v.55h-.55zM79.4 650.9h.55v.55h-.55zM70.3 663.9h.55v.55h-.55zM76.1 660.4h.55v.55h-.55zM70.0 654.3h.55v.55h-.55zM70.3 665.9h.55v.55h-.55zM70.4 661.4h.55v.55h-.55zM81.9 651.4h.55v.55h-.55zM70.7 652.1h.55v.55h-.55zM71.0 652.7h.55v.55h-.55zM71.3 662.4h.55v.55h-.55zM79.4 657.5h.55v.55h-.55zM74.3 666.6h.55v.55h-.55zM80.0 662.1h.55v.55h-.55zM68.7 660.8h.55v.55h-.55zM65.1 662.5h.55v.55h-.55zM76.7 654.2h.55v.55h-.55zM71.5 650.6h.55v.55h-.55zM60.7 666.5h.55v.55h-.55zM72.2 653.5h.55v.55h-.55zM76.5 657.5h.55v.55h-.55zM81.0 666.1h.55v.55h-.55zM74.7 673.9h.55v.55h-.55zM75.0 672.8h.55v.55h-.55zM69.1 660.4h.55v.55h-.55zM62.0 660.3h.55v.55h-.55zM75.4 676.3h.55v.55h-.55zM74.2 671.6h.55v.55h-.55zM84.0 667.9h.55v.55h-.55zM79.3 665.9h.55v.55h-.55zM87.1 661.9h.55v.55h-.55zM87.3 663.0h.55v.55h-.55zM77.2 653.0h.55v.55h-.55zM81.8 651.9h.55v.55h-.55zM65.4 659.5h.55v.55h-.55zM70.2 669.0h.55v.55h-.55zM72.6 655.4h.55v.55h-.55zM81.6 676.2h.55v.55h-.55zM82.4 652.6h.55v.55h-.55zM73.4 658.1h.55v.55h-.55zM68.7 656.8h.55v.55h-.55zM64.6 650.3h.55v.55h-.55zM69.9 672.2h.55v.55h-.55zM78.1 653.9h.55v.55h-.55zM73.4 656.7h.55v.55h-.55zM77.6 656.5h.55v.55h-.55zM72.2 666.5h.55v.55h-.55zM72.6 662.0h.55v.55h-.55zM73.9 677.7h.55v.55h-.55zM80.9 655.6h.55v.55h-.55zM81.2 655.5h.55v.55h-.55zM65.6 659.5h.55v.55h-.55zM74.4 662.4h.55v.55h-.55zM78.7 656.5h.55v.55h-.55zM78.1 650.4h.55v.55h-.55zM77.9 657.9h.55v.55h-.55zM59.4 647.6h.55v.55h-.55zM71.3 656.0h.55v.55h-.55zM77.5 665.3h.55v.55h-.55zM77.0 665.0h.55v.55h-.55zM72.4 642.9h.55v.55h-.55zM87.1 671.7h.55v.55h-.55zM81.2 647.8h.55v.55h-.55zM80.7 643.1h.55v.55h-.55zM74.1 676.3h.55v.55h-.55zM70.0 660.0h.55v.55h-.55zM61.6 653.7h.55v.55h-.55zM65.8 668.4h.55v.55h-.55zM81.7 658.6h.55v.55h-.55zM74.8 664.0h.55v.55h-.55zM76.6 648.9h.55v.55h-.55zM83.0 658.4h.55v.55h-.55zM83.2 652.9h.55v.55h-.55zM78.4 669.1h.55v.55h-.55zM72.4 656.5h.55v.55h-.55zM71.8 680.8h.55v.55h-.55zM77.7 674.3h.55v.55h-.55zM74.7 662.0h.55v.55h-.55zM69.4 664.1h.55v.55h-.55zM65.7 656.2h.55v.55h-.55zM74.1 656.6h.55v.55h-.55zM76.2 661.0h.55v.55h-.55zM79.3 652.0h.55v.55h-.55zM66.8 666.5h.55v.55h-.55zM71.7 660.2h.55v.55h-.55zM78.0 650.8h.55v.55h-.55zM70.9 657.9h.55v.55h-.55zM71.5 664.6h.55v.55h-.55zM84.6 653.1h.55v.55h-.55zM73.9 662.2h.55v.55h-.55zM76.0 662.7h.55v.55h-.55zM80.0 663.9h.55v.55h-.55zM69.4 655.6h.55v.55h-.55zM78.3 643.7h.55v.55h-.55zM76.5 661.7h.55v.55h-.55zM82.2 672.5h.55v.55h-.55zM69.4 651.4h.55v.55h-.55zM83.0 658.5h.55v.55h-.55zM72.8 658.0h.55v.55h-.55zM68.3 662.9h.55v.55h-.55zM81.8 654.9h.55v.55h-.55zM73.1 650.2h.55v.55h-.55zM79.1 665.2h.55v.55h-.55zM73.4 680.9h.55v.55h-.55zM82.1 660.0h.55v.55h-.55zM79.7 651.2h.55v.55h-.55zM76.3 652.2h.55v.55h-.55zM78.2 646.6h.55v.55h-.55zM73.9 661.2h.55v.55h-.55zM73.8 649.6h.55v.55h-.55zM87.1 652.4h.55v.55h-.55zM75.1 651.5h.55v.55h-.55zM68.7 663.5h.55v.55h-.55zM77.8 662.1h.55v.55h-.55zM70.7 662.8h.55v.55h-.55zM72.4 656.9h.55v.55h-.55zM72.7 659.5h.55v.55h-.55zM76.6 661.9h.55v.55h-.55zM68.1 658.1h.55v.55h-.55zM74.5 657.1h.55v.55h-.55zM70.8 651.3h.55v.55h-.55zM71.2 636.3h.55v.55h-.55zM78.4 668.0h.55v.55h-.55zM70.1 669.2h.55v.55h-.55zM80.8 647.5h.55v.55h-.55zM82.2 662.0h.55v.55h-.55zM72.9 651.3h.55v.55h-.55zM78.3 639.1h.55v.55h-.55zM74.0 664.5h.55v.55h-.55zM81.1 642.0h.55v.55h-.55zM83.4 655.6h.55v.55h-.55zM76.6 665.3h.55v.55h-.55zM78.0 658.0h.55v.55h-.55zM81.4 654.9h.55v.55h-.55zM80.9 670.7h.55v.55h-.55zM77.1 665.1h.55v.55h-.55zM77.5 643.7h.55v.55h-.55zM83.5 655.0h.55v.55h-.55zM71.8 653.2h.55v.55h-.55zM64.7 665.5h.55v.55h-.55zM74.5 648.4h.55v.55h-.55zM69.6 658.9h.55v.55h-.55zM72.7 646.0h.55v.55h-.55zM71.9 650.4h.55v.55h-.55zM86.6 652.3h.55v.55h-.55zM71.5 653.0h.55v.55h-.55zM85.3 659.5h.55v.55h-.55zM77.4 666.0h.55v.55h-.55zM80.0 662.9h.55v.55h-.55zM71.0 653.6h.55v.55h-.55zM75.0 652.5h.55v.55h-.55zM77.7 654.4h.55v.55h-.55zM67.0 652.5h.55v.55h-.55zM69.6 666.5h.55v.55h-.55zM66.3 665.4h.55v.55h-.55zM74.2 662.0h.55v.55h-.55zM63.6 654.4h.55v.55h-.55zM66.5 662.5h.55v.55h-.55zM79.7 656.5h.55v.55h-.55zM81.1 668.7h.55v.55h-.55zM84.7 662.5h.55v.55h-.55zM67.7 647.6h.55v.55h-.55zM74.1 662.1h.55v.55h-.55zM77.6 664.4h.55v.55h-.55zM91.2 669.3h.55v.55h-.55zM76.3 655.9h.55v.55h-.55zM71.1 665.9h.55v.55h-.55zM56.1 640.0h.55v.55h-.55zM72.2 686.5h.55v.55h-.55zM72.2 663.0h.55v.55h-.55zM74.5 669.5h.55v.55h-.55zM80.8 661.2h.55v.55h-.55zM68.4 644.9h.55v.55h-.55zM65.2 649.2h.55v.55h-.55zM68.9 651.4h.55v.55h-.55zM70.9 648.3h.55v.55h-.55zM76.9 645.3h.55v.55h-.55zM74.4 656.6h.55v.55h-.55zM69.6 667.6h.55v.55h-.55zM71.8 668.1h.55v.55h-.55zM80.3 660.0h.55v.55h-.55zM69.9 661.1h.55v.55h-.55zM76.7 658.3h.55v.55h-.55zM78.0 661.2h.55v.55h-.55zM75.1 652.5h.55v.55h-.55zM76.0 642.3h.55v.55h-.55zM79.5 647.6h.55v.55h-.55zM60.9 656.5h.55v.55h-.55zM75.7 648.3h.55v.55h-.55zM78.2 636.8h.55v.55h-.55zM62.2 656.1h.55v.55h-.55zM75.9 652.0h.55v.55h-.55zM65.2 650.7h.55v.55h-.55zM68.9 657.3h.55v.55h-.55zM79.1 664.6h.55v.55h-.55zM70.2 662.8h.55v.55h-.55zM74.6 659.7h.55v.55h-.55zM83.0 659.6h.55v.55h-.55zM69.4 660.6h.55v.55h-.55zM84.3 657.2h.55v.55h-.55zM75.5 668.9h.55v.55h-.55zM75.2 648.2h.55v.55h-.55zM76.7 666.4h.55v.55h-.55zM76.8 643.5h.55v.55h-.55zM77.5 654.3h.55v.55h-.55zM76.8 673.0h.55v.55h-.55zM73.2 653.8h.55v.55h-.55zM65.8 662.3h.55v.55h-.55zM79.2 660.7h.55v.55h-.55zM79.3 658.2h.55v.55h-.55zM70.6 651.9h.55v.55h-.55zM75.7 666.9h.55v.55h-.55zM76.5 659.5h.55v.55h-.55zM68.3 661.5h.55v.55h-.55zM75.4 670.1h.55v.55h-.55zM83.1 660.7h.55v.55h-.55zM84.3 643.2h.55v.55h-.55zM73.7 650.7h.55v.55h-.55zM63.2 660.6h.55v.55h-.55zM81.2 652.8h.55v.55h-.55zM76.7 661.2h.55v.55h-.55zM69.4 662.0h.55v.55h-.55zM82.7 658.3h.55v.55h-.55zM66.3 663.2h.55v.55h-.55zM77.4 649.6h.55v.55h-.55zM81.5 657.8h.55v.55h-.55zM81.7 654.6h.55v.55h-.55zM73.2 653.5h.55v.55h-.55zM80.7 659.6h.55v.55h-.55zM69.2 664.5h.55v.55h-.55zM72.1 667.2h.55v.55h-.55zM62.2 652.6h.55v.55h-.55zM86.9 650.5h.55v.55h-.55zM63.9 676.6h.55v.55h-.55zM82.2 653.3h.55v.55h-.55zM66.4 649.1h.55v.55h-.55zM72.4 653.7h.55v.55h-.55zM82.0 652.2h.55v.55h-.55zM80.4 656.5h.55v.55h-.55zM66.1 660.6h.55v.55h-.55zM91.4 650.0h.55v.55h-.55zM82.8 665.4h.55v.55h-.55zM84.1 669.2h.55v.55h-.55zM75.3 652.5h.55v.55h-.55zM67.9 672.0h.55v.55h-.55zM75.6 666.4h.55v.55h-.55zM73.8 665.5h.55v.55h-.55zM77.6 658.0h.55v.55h-.55zM81.0 655.7h.55v.55h-.55zM67.5 657.3h.55v.55h-.55zM80.6 651.1h.55v.55h-.55zM71.7 649.3h.55v.55h-.55zM79.8 648.3h.55v.55h-.55zM67.0 675.6h.55v.55h-.55zM61.6 646.5h.55v.55h-.55zM76.1 661.2h.55v.55h-.55zM70.6 657.7h.55v.55h-.55zM71.8 667.6h.55v.55h-.55zM77.4 640.8h.55v.55h-.55zM83.2 645.9h.55v.55h-.55zM72.7 659.5h.55v.55h-.55zM78.3 657.5h.55v.55h-.55zM80.5 654.3h.55v.55h-.55zM76.2 661.2h.55v.55h-.55zM63.5 679.6h.55v.55h-.55zM74.8 668.9h.55v.55h-.55zM58.8 661.6h.55v.55h-.55zM86.4 652.0h.55v.55h-.55zM79.5 652.5h.55v.55h-.55zM75.2 658.9h.55v.55h-.55zM63.9 663.4h.55v.55h-.55zM69.6 667.7h.55v.55h-.55zM82.7 653.6h.55v.55h-.55zM77.4 654.5h.55v.55h-.55zM80.2 652.5h.55v.55h-.55zM76.6 645.7h.55v.55h-.55zM76.2 658.6h.55v.55h-.55zM85.1 666.0h.55v.55h-.55zM86.4 656.9h.55v.55h-.55zM72.5 656.5h.55v.55h-.55zM65.9 665.9h.55v.55h-.55zM75.9 660.4h.55v.55h-.55zM66.7 670.5h.55v.55h-.55zM72.1 668.3h.55v.55h-.55zM74.2 657.8h.55v.55h-.55zM67.5 664.3h.55v.55h-.55zM70.1 662.0h.55v.55h-.55zM68.2 670.9h.55v.55h-.55zM79.2 653.6h.55v.55h-.55zM74.1 665.7h.55v.55h-.55zM67.5 657.3h.55v.55h-.55zM65.9 670.0h.55v.55h-.55zM71.4 651.3h.55v.55h-.55zM72.2 671.7h.55v.55h-.55zM78.3 665.4h.55v.55h-.55zM80.4 660.0h.55v.55h-.55zM84.1 638.9h.55v.55h-.55zM80.5 650.1h.55v.55h-.55zM63.6 668.8h.55v.55h-.55zM69.1 665.0h.55v.55h-.55zM81.2 662.1h.55v.55h-.55zM78.7 667.9h.55v.55h-.55zM71.8 663.5h.55v.55h-.55zM78.3 661.0h.55v.55h-.55zM78.3 661.4h.55v.55h-.55zM82.0 661.0h.55v.55h-.55zM74.4 660.5h.55v.55h-.55zM79.4 656.8h.55v.55h-.55zM78.0 654.1h.55v.55h-.55zM77.0 655.5h.55v.55h-.55zM81.8 656.7h.55v.55h-.55zM79.6 658.9h.55v.55h-.55zM76.8 659.8h.55v.55h-.55zM76.9 653.4h.55v.55h-.55zM72.2 663.0h.55v.55h-.55zM69.7 665.5h.55v.55h-.55zM71.2 664.6h.55v.55h-.55zM68.2 659.8h.55v.55h-.55zM72.8 664.8h.55v.55h-.55zM78.8 659.2h.55v.55h-.55zM75.3 658.0h.55v.55h-.55zM81.9 655.7h.55v.55h-.55zM70.0 673.9h.55v.55h-.55zM85.6 657.4h.55v.55h-.55zM74.6 646.7h.55v.55h-.55zM76.5 646.7h.55v.55h-.55zM81.6 657.7h.55v.55h-.55zM65.3 662.9h.55v.55h-.55zM79.7 644.4h.55v.55h-.55zM75.8 646.7h.55v.55h-.55zM70.2 646.8h.55v.55h-.55zM75.2 643.2h.55v.55h-.55zM76.0 663.0h.55v.55h-.55zM68.3 658.2h.55v.55h-.55zM77.9 661.4h.55v.55h-.55zM72.6 660.0h.55v.55h-.55zM80.9 651.8h.55v.55h-.55zM71.8 660.2h.55v.55h-.55zM75.2 643.8h.55v.55h-.55zM75.7 657.7h.55v.55h-.55zM73.9 659.0h.55v.55h-.55zM66.4 671.8h.55v.55h-.55zM82.5 665.0h.55v.55h-.55zM70.8 646.1h.55v.55h-.55zM71.0 646.2h.55v.55h-.55zM70.1 667.3h.55v.55h-.55zM73.5 644.0h.55v.55h-.55zM70.2 656.5h.55v.55h-.55zM72.2 658.0h.55v.55h-.55zM66.2 654.2h.55v.55h-.55zM78.1 672.6h.55v.55h-.55zM79.8 672.3h.55v.55h-.55zM75.0 662.8h.55v.55h-.55zM73.5 656.9h.55v.55h-.55zM75.9 643.4h.55v.55h-.55zM82.9 655.0h.55v.55h-.55zM71.7 663.5h.55v.55h-.55zM74.9 658.1h.55v.55h-.55zM79.6 668.8h.55v.55h-.55zM71.3 672.1h.55v.55h-.55zM73.6 671.3h.55v.55h-.55zM79.8 653.4h.55v.55h-.55zM68.8 644.7h.55v.55h-.55zM68.4 645.2h.55v.55h-.55zM79.1 666.7h.55v.55h-.55zM74.8 654.5h.55v.55h-.55zM75.5 654.1h.55v.55h-.55zM68.9 657.4h.55v.55h-.55zM76.7 648.4h.55v.55h-.55zM70.0 668.1h.55v.55h-.55zM70.6 671.4h.55v.55h-.55zM66.4 663.4h.55v.55h-.55zM85.4 667.5h.55v.55h-.55zM83.8 661.7h.55v.55h-.55zM75.8 658.5h.55v.55h-.55zM73.8 649.6h.55v.55h-.55zM71.6 663.2h.55v.55h-.55zM74.2 660.4h.55v.55h-.55zM72.9 659.7h.55v.55h-.55zM65.4 655.9h.55v.55h-.55zM70.6 666.2h.55v.55h-.55zM72.5 645.0h.55v.55h-.55zM75.8 672.7h.55v.55h-.55zM71.3 657.0h.55v.55h-.55zM70.3 657.1h.55v.55h-.55zM72.8 665.2h.55v.55h-.55zM81.9 658.4h.55v.55h-.55zM74.3 651.7h.55v.55h-.55zM84.4 647.6h.55v.55h-.55zM87.5 654.4h.55v.55h-.55zM77.2 673.5h.55v.55h-.55zM71.1 660.1h.55v.55h-.55zM76.0 682.0h.55v.55h-.55zM73.7 654.5h.55v.55h-.55zM83.1 648.4h.55v.55h-.55zM80.3 652.5h.55v.55h-.55zM79.7 650.8h.55v.55h-.55zM73.8 678.7h.55v.55h-.55zM79.4 659.6h.55v.55h-.55zM76.3 664.8h.55v.55h-.55zM66.9 667.4h.55v.55h-.55zM80.4 673.3h.55v.55h-.55zM79.8 658.8h.55v.55h-.55zM81.7 659.3h.55v.55h-.55zM71.4 656.8h.55v.55h-.55zM73.8 660.9h.55v.55h-.55zM78.7 666.7h.55v.55h-.55zM73.3 648.5h.55v.55h-.55zM76.4 645.4h.55v.55h-.55zM62.1 657.7h.55v.55h-.55zM79.4 665.4h.55v.55h-.55zM72.1 658.7h.55v.55h-.55zM70.0 663.8h.55v.55h-.55zM72.7 654.1h.55v.55h-.55zM72.6 649.7h.55v.55h-.55zM80.4 655.2h.55v.55h-.55zM73.8 651.8h.55v.55h-.55zM59.6 657.5h.55v.55h-.55zM81.1 669.3h.55v.55h-.55zM77.1 670.7h.55v.55h-.55zM72.2 652.7h.55v.55h-.55zM75.0 665.2h.55v.55h-.55zM70.7 658.5h.55v.55h-.55zM65.2 656.2h.55v.55h-.55zM72.4 678.2h.55v.55h-.55zM79.3 651.9h.55v.55h-.55zM75.0 654.6h.55v.55h-.55zM71.7 657.5h.55v.55h-.55zM67.2 666.3h.55v.55h-.55zM79.1 662.7h.55v.55h-.55zM85.2 661.6h.55v.55h-.55zM80.1 672.1h.55v.55h-.55zM79.3 660.0h.55v.55h-.55zM79.5 659.4h.55v.55h-.55zM77.9 652.9h.55v.55h-.55zM71.6 654.0h.55v.55h-.55zM79.3 640.4h.55v.55h-.55zM66.6 662.3h.55v.55h-.55zM74.0 647.6h.55v.55h-.55zM84.0 658.3h.55v.55h-.55zM71.2 664.3h.55v.55h-.55zM73.1 656.1h.55v.55h-.55zM80.1 662.5h.55v.55h-.55zM72.1 660.3h.55v.55h-.55zM73.6 647.1h.55v.55h-.55zM73.5 675.0h.55v.55h-.55zM75.4 661.3h.55v.55h-.55zM88.9 652.7h.55v.55h-.55zM76.5 646.5h.55v.55h-.55zM85.7 663.2h.55v.55h-.55zM75.8 654.4h.55v.55h-.55zM78.1 666.5h.55v.55h-.55zM67.4 654.1h.55v.55h-.55zM69.7 642.9h.55v.55h-.55zM73.2 659.5h.55v.55h-.55zM69.9 661.9h.55v.55h-.55zM78.2 665.2h.55v.55h-.55zM67.5 646.5h.55v.55h-.55zM68.7 659.4h.55v.55h-.55zM71.1 660.6h.55v.55h-.55zM66.9 675.7h.55v.55h-.55zM72.9 667.9h.55v.55h-.55zM77.9 655.5h.55v.55h-.55zM81.7 667.0h.55v.55h-.55zM74.8 671.1h.55v.55h-.55zM70.2 653.6h.55v.55h-.55zM66.9 659.7h.55v.55h-.55zM68.6 667.3h.55v.55h-.55zM74.7 652.0h.55v.55h-.55zM65.9 648.7h.55v.55h-.55zM88.8 668.3h.55v.55h-.55zM68.4 661.6h.55v.55h-.55zM86.1 645.8h.55v.55h-.55zM80.1 657.8h.55v.55h-.55zM71.7 657.0h.55v.55h-.55zM73.5 656.0h.55v.55h-.55zM72.8 666.6h.55v.55h-.55zM68.8 654.1h.55v.55h-.55zM73.8 653.7h.55v.55h-.55zM76.8 660.2h.55v.55h-.55zM67.5 647.8h.55v.55h-.55zM80.9 654.7h.55v.55h-.55zM77.5 649.7h.55v.55h-.55zM75.5 656.0h.55v.55h-.55zM73.1 644.0h.55v.55h-.55zM77.5 656.9h.55v.55h-.55zM77.7 653.3h.55v.55h-.55zM71.0 650.8h.55v.55h-.55zM76.9 669.5h.55v.55h-.55zM76.7 650.5h.55v.55h-.55zM77.2 652.2h.55v.55h-.55zM73.0 654.5h.55v.55h-.55zM76.3 667.8h.55v.55h-.55zM81.3 664.2h.55v.55h-.55zM80.9 658.1h.55v.55h-.55zM66.5 664.4h.55v.55h-.55zM76.2 646.6h.55v.55h-.55zM70.2 672.9h.55v.55h-.55zM70.6 662.8h.55v.55h-.55zM77.4 655.0h.55v.55h-.55zM68.4 664.3h.55v.55h-.55zM69.7 660.0h.55v.55h-.55zM68.6 649.1h.55v.55h-.55zM85.6 649.8h.55v.55h-.55zM79.6 654.1h.55v.55h-.55zM72.5 657.8h.55v.55h-.55zM76.8 659.1h.55v.55h-.55zM72.7 654.5h.55v.55h-.55zM78.3 658.9h.55v.55h-.55zM68.6 647.4h.55v.55h-.55zM74.5 656.5h.55v.55h-.55zM76.5 656.6h.55v.55h-.55zM79.3 659.3h.55v.55h-.55zM64.3 659.4h.55v.55h-.55zM62.3 662.9h.55v.55h-.55zM76.3 661.6h.55v.55h-.55zM74.6 668.2h.55v.55h-.55zM66.8 654.9h.55v.55h-.55zM74.3 655.6h.55v.55h-.55zM87.9 664.2h.55v.55h-.55zM74.8 667.2h.55v.55h-.55zM71.9 658.8h.55v.55h-.55zM70.5 647.6h.55v.55h-.55zM78.9 664.2h.55v.55h-.55zM69.5 669.2h.55v.55h-.55zM77.3 675.6h.55v.55h-.55zM82.4 645.3h.55v.55h-.55zM66.6 664.1h.55v.55h-.55zM73.8 659.5h.55v.55h-.55zM85.1 678.8h.55v.55h-.55zM67.0 656.1h.55v.55h-.55zM73.0 654.0h.55v.55h-.55zM69.8 657.9h.55v.55h-.55zM67.8 649.1h.55v.55h-.55zM80.7 667.3h.55v.55h-.55zM69.8 646.8h.55v.55h-.55zM68.3 667.5h.55v.55h-.55zM69.7 655.9h.55v.55h-.55zM79.5 659.8h.55v.55h-.55zM84.0 655.3h.55v.55h-.55zM74.2 656.2h.55v.55h-.55zM78.8 659.3h.55v.55h-.55zM70.5 645.9h.55v.55h-.55zM70.9 658.2h.55v.55h-.55zM81.9 657.4h.55v.55h-.55zM59.9 649.5h.55v.55h-.55zM66.6 658.3h.55v.55h-.55zM73.2 656.4h.55v.55h-.55zM78.9 659.4h.55v.55h-.55zM76.1 653.5h.55v.55h-.55zM74.4 664.0h.55v.55h-.55zM76.6 653.7h.55v.55h-.55zM81.0 660.8h.55v.55h-.55zM80.2 667.8h.55v.55h-.55zM75.2 663.2h.55v.55h-.55zM82.7 656.4h.55v.55h-.55zM81.9 653.9h.55v.55h-.55zM72.1 664.2h.55v.55h-.55zM85.9 650.7h.55v.55h-.55zM71.9 652.6h.55v.55h-.55zM75.8 665.9h.55v.55h-.55zM72.6 660.3h.55v.55h-.55zM61.2 668.1h.55v.55h-.55zM78.9 654.9h.55v.55h-.55zM69.1 654.5h.55v.55h-.55z" fill="#b0b0b0"/>
<ellipse cx="72.9" cy="657.8" rx="6.67" ry="11.9" fill="#b48ac8" fill-opacity="0.22"/>
<path d="M75.4 648.5h.6v.6h-.6zM68.4 661.6h.6v.6h-.6zM73.8 666.1h.6v.6h-.6zM72.5 663.5h.6v.6h-.6zM66.4 662.0h.6v.6h-.6zM64.1 669.8h.6v.6h-.6zM67.6 659.5h.6v.6h-.6zM73.9 659.6h.6v.6h-.6zM72.1 668.7h.6v.6h-.6zM67.9 660.9h.6v.6h-.6zM79.5 650.0h.6v.6h-.6zM69.0 666.5h.6v.6h-.6zM72.9 667.6h.6v.6h-.6zM71.6 653.3h.6v.6h-.6zM72.9 668.0h.6v.6h-.6zM70.3 658.9h.6v.6h-.6zM72.8 664.1h.6v.6h-.6zM75.0 671.1h.6v.6h-.6zM78.3 669.1h.6v.6h-.6zM69.9 664.5h.6v.6h-.6zM73.7 668.0h.6v.6h-.6zM73.8 668.0h.6v.6h-.6zM69.0 671.9h.6v.6h-.6zM70.2 668.8h.6v.6h-.6zM78.9 658.9h.6v.6h-.6zM72.9 664.4h.6v.6h-.6zM79.6 672.3h.6v.6h-.6zM73.1 659.4h.6v.6h-.6zM68.8 664.8h.6v.6h-.6zM69.9 659.5h.6v.6h-.6zM64.5 661.1h.6v.6h-.6zM68.1 664.4h.6v.6h-.6zM73.9 673.2h.6v.6h-.6zM69.4 649.7h.6v.6h-.6zM74.4 646.2h.6v.6h-.6zM76.1 680.3h.6v.6h-.6zM70.1 670.1h.6v.6h-.6zM72.4 661.7h.6v.6h-.6zM71.9 658.6h.6v.6h-.6zM67.5 657.3h.6v.6h-.6zM76.7 660.9h.6v.6h-.6zM74.5 660.7h.6v.6h-.6zM80.3 669.2h.6v.6h-.6zM72.5 675.8h.6v.6h-.6zM74.7 654.1h.6v.6h-.6zM71.7 657.7h.6v.6h-.6zM75.2 649.3h.6v.6h-.6zM67.4 659.0h.6v.6h-.6zM75.2 666.9h.6v.6h-.6zM75.1 651.2h.6v.6h-.6zM76.5 650.3h.6v.6h-.6zM67.4 654.9h.6v.6h-.6zM75.3 657.6h.6v.6h-.6zM73.3 661.7h.6v.6h-.6zM70.8 662.6h.6v.6h-.6zM72.7 662.7h.6v.6h-.6zM72.5 661.3h.6v.6h-.6zM69.4 661.9h.6v.6h-.6zM69.1 663.6h.6v.6h-.6zM72.0 672.1h.6v.6h-.6zM73.3 657.0h.6v.6h-.6zM78.1 667.6h.6v.6h-.6zM70.9 672.5h.6v.6h-.6zM76.8 659.4h.6v.6h-.6zM67.0 658.7h.6v.6h-.6zM81.1 664.5h.6v.6h-.6zM70.5 653.5h.6v.6h-.6zM74.2 661.2h.6v.6h-.6zM69.7 664.5h.6v.6h-.6zM71.5 659.0h.6v.6h-.6zM73.0 657.7h.6v.6h-.6zM71.4 648.7h.6v.6h-.6zM75.2 651.3h.6v.6h-.6zM79.1 672.5h.6v.6h-.6zM73.5 651.6h.6v.6h-.6zM73.6 663.0h.6v.6h-.6zM69.4 655.5h.6v.6h-.6zM66.7 650.7h.6v.6h-.6zM71.8 647.8h.6v.6h-.6zM73.9 666.4h.6v.6h-.6zM80.2 650.3h.6v.6h-.6zM75.3 662.1h.6v.6h-.6zM75.1 645.3h.6v.6h-.6zM67.2 658.4h.6v.6h-.6zM65.3 662.5h.6v.6h-.6zM73.0 673.6h.6v.6h-.6zM67.0 649.2h.6v.6h-.6zM75.1 648.4h.6v.6h-.6zM73.2 662.7h.6v.6h-.6zM69.4 662.8h.6v.6h-.6zM70.7 663.6h.6v.6h-.6zM69.9 652.5h.6v.6h-.6zM72.3 658.5h.6v.6h-.6zM77.6 659.0h.6v.6h-.6zM75.4 656.0h.6v.6h-.6zM77.5 671.4h.6v.6h-.6zM66.2 666.0h.6v.6h-.6zM73.8 653.4h.6v.6h-.6zM73.4 655.4h.6v.6h-.6zM70.5 661.3h.6v.6h-.6zM70.5 656.6h.6v.6h-.6zM70.5 653.1h.6v.6h-.6zM71.3 649.0h.6v.6h-.6zM74.0 666.9h.6v.6h-.6zM73.4 651.8h.6v.6h-.6zM75.6 666.2h.6v.6h-.6zM68.4 648.8h.6v.6h-.6zM72.7 658.3h.6v.6h-.6zM76.7 661.3h.6v.6h-.6zM71.2 656.0h.6v.6h-.6zM64.8 660.1h.6v.6h-.6zM71.2 645.3h.6v.6h-.6zM68.7 659.7h.6v.6h-.6zM77.7 671.7h.6v.6h-.6zM70.9 657.7h.6v.6h-.6zM77.3 658.8h.6v.6h-.6zM64.5 662.5h.6v.6h-.6zM80.9 659.1h.6v.6h-.6zM76.2 653.8h.6v.6h-.6zM79.2 658.5h.6v.6h-.6z" fill="#9a5aa8" fill-opacity="0.7"/>
<ellipse cx="72.4" cy="661.8" rx="4.83" ry="7.56" fill="#a862b0" fill-opacity="0.6"/>
<ellipse cx="72.4" cy="661.8" rx="3.96" ry="6.16" fill="#75508f" fill-opacity="0.9"/>
<ellipse cx="72.6" cy="661.8" rx="2.85" ry="4.76" fill="#4f5fa0"/>
<ellipse cx="72.7" cy="662.3" rx="1.66" ry="2.94" fill="#35b56a"/>
<line x1="63.2" y1="631.2" x2="63.2" y2="695" stroke="#6e6e6e" stroke-width="0.8"/>
<line x1="33.4" y1="669.4" x2="97.2" y2="669.4" stroke="#6e6e6e" stroke-width="0.8"/>
<text x="64.2" y="673.8" font-size="4.8" stroke="#1a1a1a" stroke-width="0.15" fill="#1a1a1a" textLength="10.8" lengthAdjust="spacingAndGlyphs">16.54%</text>
<text x="52.4" y="707.8" font-size="6.8" font-weight="bold" fill="#222">b</text>
<text x="57.4" y="707.8" font-size="6.8" fill="#333" textLength="19.1" lengthAdjust="spacingAndGlyphs">PLT+CTL</text>
<rect x="124.7" y="631.2" width="63.8" height="63.8" fill="none" stroke="#8a8a8a" stroke-width="0.8"/>
<line x1="123.5" y1="631.7" x2="124.7" y2="631.7" stroke="#999" stroke-width="0.4"/>
<line x1="125.2" y1="695" x2="125.2" y2="696.2" stroke="#999" stroke-width="0.4"/>
<line x1="123.5" y1="637" x2="124.7" y2="637" stroke="#999" stroke-width="0.4"/>
<line x1="130.5" y1="695" x2="130.5" y2="696.2" stroke="#999" stroke-width="0.4"/>
<line x1="123.5" y1="642.3" x2="124.7" y2="642.3" stroke="#999" stroke-width="0.4"/>
<line x1="135.8" y1="695" x2="135.8" y2="696.2" stroke="#999" stroke-width="0.4"/>
<line x1="123.5" y1="647.6" x2="124.7" y2="647.6" stroke="#999" stroke-width="0.4"/>
<line x1="141.1" y1="695" x2="141.1" y2="696.2" stroke="#999" stroke-width="0.4"/>
<line x1="123.5" y1="652.9" x2="124.7" y2="652.9" stroke="#999" stroke-width="0.4"/>
<line x1="146.4" y1="695" x2="146.4" y2="696.2" stroke="#999" stroke-width="0.4"/>
<line x1="123.5" y1="658.2" x2="124.7" y2="658.2" stroke="#999" stroke-width="0.4"/>
<line x1="151.7" y1="695" x2="151.7" y2="696.2" stroke="#999" stroke-width="0.4"/>
<line x1="123.5" y1="663.5" x2="124.7" y2="663.5" stroke="#999" stroke-width="0.4"/>
<line x1="157" y1="695" x2="157" y2="696.2" stroke="#999" stroke-width="0.4"/>
<line x1="123.5" y1="668.8" x2="124.7" y2="668.8" stroke="#999" stroke-width="0.4"/>
<line x1="162.3" y1="695" x2="162.3" y2="696.2" stroke="#999" stroke-width="0.4"/>
<line x1="123.5" y1="674.1" x2="124.7" y2="674.1" stroke="#999" stroke-width="0.4"/>
<line x1="167.6" y1="695" x2="167.6" y2="696.2" stroke="#999" stroke-width="0.4"/>
<line x1="123.5" y1="679.4" x2="124.7" y2="679.4" stroke="#999" stroke-width="0.4"/>
<line x1="172.9" y1="695" x2="172.9" y2="696.2" stroke="#999" stroke-width="0.4"/>
<line x1="123.5" y1="684.7" x2="124.7" y2="684.7" stroke="#999" stroke-width="0.4"/>
<line x1="178.2" y1="695" x2="178.2" y2="696.2" stroke="#999" stroke-width="0.4"/>
<line x1="123.5" y1="690" x2="124.7" y2="690" stroke="#999" stroke-width="0.4"/>
<line x1="183.5" y1="695" x2="183.5" y2="696.2" stroke="#999" stroke-width="0.4"/>
<line x1="123.5" y1="695.3" x2="124.7" y2="695.3" stroke="#999" stroke-width="0.4"/>
<line x1="188.8" y1="695" x2="188.8" y2="696.2" stroke="#999" stroke-width="0.4"/>
<text x="123.1" y="633.5" font-size="4.6" text-anchor="end" fill="#777">10<tspan font-size="3.22" dy="-1.6">3</tspan></text>
<text x="123.1" y="649.6" font-size="4.6" text-anchor="end" fill="#777">10<tspan font-size="3.22" dy="-1.6">2</tspan></text>
<text x="123.1" y="665.7" font-size="4.6" text-anchor="end" fill="#777">10<tspan font-size="3.22" dy="-1.6">1</tspan></text>
<text x="123.1" y="681.8" font-size="4.6" text-anchor="end" fill="#777">10<tspan font-size="3.22" dy="-1.6">0</tspan></text>
<text x="141.3" y="701.2" font-size="4.6" text-anchor="middle" fill="#777">10<tspan font-size="3.22" dy="-1.6">0</tspan></text>
<text x="157" y="701.2" font-size="4.6" text-anchor="middle" fill="#777">10<tspan font-size="3.22" dy="-1.6">1</tspan></text>
<text x="172.7" y="701.2" font-size="4.6" text-anchor="middle" fill="#777">10<tspan font-size="3.22" dy="-1.6">2</tspan></text>
<text x="188.4" y="701.2" font-size="4.6" text-anchor="middle" fill="#777">10<tspan font-size="3.22" dy="-1.6">3</tspan></text>
<path d="M159.1 659.4h.55v.55h-.55zM168.9 670.7h.55v.55h-.55zM172.3 664.0h.55v.55h-.55zM158.5 648.5h.55v.55h-.55zM166.9 649.9h.55v.55h-.55zM164.7 660.9h.55v.55h-.55zM161.3 679.9h.55v.55h-.55zM165.7 679.1h.55v.55h-.55zM166.7 646.6h.55v.55h-.55zM173.8 644.1h.55v.55h-.55zM168.1 656.1h.55v.55h-.55zM164.8 652.8h.55v.55h-.55zM171.6 654.6h.55v.55h-.55zM168.7 653.4h.55v.55h-.55zM163.0 663.1h.55v.55h-.55zM168.7 676.7h.55v.55h-.55zM160.4 664.1h.55v.55h-.55zM176.0 660.8h.55v.55h-.55zM178.7 653.8h.55v.55h-.55zM153.1 669.5h.55v.55h-.55zM172.0 681.0h.55v.55h-.55zM168.7 640.5h.55v.55h-.55zM161.3 652.8h.55v.55h-.55zM162.8 665.0h.55v.55h-.55zM165.0 661.9h.55v.55h-.55zM170.2 654.2h.55v.55h-.55zM156.5 651.0h.55v.55h-.55zM177.5 671.0h.55v.55h-.55zM165.6 650.2h.55v.55h-.55zM159.4 666.7h.55v.55h-.55zM174.3 654.8h.55v.55h-.55zM174.3 670.7h.55v.55h-.55zM153.2 653.4h.55v.55h-.55zM160.7 634.3h.55v.55h-.55zM171.8 652.9h.55v.55h-.55zM167.9 658.1h.55v.55h-.55zM160.0 658.2h.55v.55h-.55zM161.9 647.8h.55v.55h-.55zM164.8 657.7h.55v.55h-.55zM166.0 650.4h.55v.55h-.55zM170.3 656.0h.55v.55h-.55zM153.1 646.4h.55v.55h-.55zM161.3 653.4h.55v.55h-.55zM160.7 667.0h.55v.55h-.55zM178.6 649.6h.55v.55h-.55zM173.5 669.4h.55v.55h-.55zM163.8 658.5h.55v.55h-.55zM168.1 653.3h.55v.55h-.55zM159.0 647.5h.55v.55h-.55zM166.3 647.0h.55v.55h-.55zM169.0 658.7h.55v.55h-.55zM158.7 665.3h.55v.55h-.55zM162.8 661.3h.55v.55h-.55zM157.4 648.9h.55v.55h-.55zM170.4 670.7h.55v.55h-.55zM164.6 669.9h.55v.55h-.55zM162.0 657.2h.55v.55h-.55zM158.1 636.7h.55v.55h-.55zM168.1 661.8h.55v.55h-.55zM161.5 649.0h.55v.55h-.55zM179.9 652.6h.55v.55h-.55zM162.8 667.7h.55v.55h-.55zM161.2 642.6h.55v.55h-.55zM160.4 659.6h.55v.55h-.55zM168.8 679.2h.55v.55h-.55zM160.1 671.5h.55v.55h-.55zM159.4 671.5h.55v.55h-.55zM164.5 667.2h.55v.55h-.55zM158.7 658.3h.55v.55h-.55zM170.2 650.0h.55v.55h-.55zM165.8 658.7h.55v.55h-.55zM167.7 650.7h.55v.55h-.55zM160.9 659.4h.55v.55h-.55zM165.5 652.5h.55v.55h-.55zM164.1 652.1h.55v.55h-.55zM166.5 667.5h.55v.55h-.55zM151.6 667.3h.55v.55h-.55zM173.4 648.5h.55v.55h-.55zM164.7 640.3h.55v.55h-.55zM160.1 663.1h.55v.55h-.55zM165.0 674.6h.55v.55h-.55zM163.5 651.7h.55v.55h-.55zM166.3 649.2h.55v.55h-.55zM157.2 664.4h.55v.55h-.55zM164.5 657.0h.55v.55h-.55zM169.4 674.9h.55v.55h-.55zM185.3 659.4h.55v.55h-.55zM166.7 640.6h.55v.55h-.55zM163.4 648.3h.55v.55h-.55zM170.9 655.6h.55v.55h-.55zM161.9 666.1h.55v.55h-.55zM164.8 645.2h.55v.55h-.55zM166.0 652.8h.55v.55h-.55zM159.1 668.3h.55v.55h-.55zM172.9 664.8h.55v.55h-.55zM149.6 647.6h.55v.55h-.55zM165.9 655.1h.55v.55h-.55zM159.5 658.8h.55v.55h-.55zM164.2 653.3h.55v.55h-.55zM172.6 664.3h.55v.55h-.55zM160.1 666.0h.55v.55h-.55zM162.9 674.8h.55v.55h-.55zM166.3 673.0h.55v.55h-.55zM164.6 673.8h.55v.55h-.55zM165.5 652.9h.55v.55h-.55zM165.9 652.7h.55v.55h-.55zM161.2 663.4h.55v.55h-.55zM167.9 664.5h.55v.55h-.55zM158.3 657.2h.55v.55h-.55zM164.3 661.1h.55v.55h-.55zM170.1 661.2h.55v.55h-.55zM151.4 651.7h.55v.55h-.55zM160.1 662.7h.55v.55h-.55zM160.6 663.8h.55v.55h-.55zM165.0 662.8h.55v.55h-.55zM166.8 680.2h.55v.55h-.55zM158.4 651.2h.55v.55h-.55zM149.6 667.9h.55v.55h-.55zM164.8 658.5h.55v.55h-.55zM163.6 660.4h.55v.55h-.55zM154.4 653.8h.55v.55h-.55zM158.2 654.1h.55v.55h-.55zM166.8 643.7h.55v.55h-.55zM161.3 662.3h.55v.55h-.55zM174.3 658.4h.55v.55h-.55zM148.1 652.4h.55v.55h-.55zM165.1 667.5h.55v.55h-.55zM164.8 660.3h.55v.55h-.55zM161.5 657.4h.55v.55h-.55zM162.8 683.0h.55v.55h-.55zM169.0 649.6h.55v.55h-.55zM168.4 667.5h.55v.55h-.55zM171.7 663.4h.55v.55h-.55zM170.4 649.0h.55v.55h-.55zM159.6 650.6h.55v.55h-.55zM163.4 662.1h.55v.55h-.55zM168.2 671.6h.55v.55h-.55zM167.2 662.9h.55v.55h-.55zM163.9 648.4h.55v.55h-.55zM163.7 659.4h.55v.55h-.55zM166.5 657.2h.55v.55h-.55zM159.3 657.0h.55v.55h-.55zM172.3 657.5h.55v.55h-.55zM154.3 641.3h.55v.55h-.55zM166.1 653.1h.55v.55h-.55zM161.3 665.6h.55v.55h-.55zM166.6 659.3h.55v.55h-.55zM167.2 664.0h.55v.55h-.55zM168.6 669.0h.55v.55h-.55zM160.7 652.0h.55v.55h-.55zM162.5 643.1h.55v.55h-.55zM163.5 655.4h.55v.55h-.55zM164.2 674.1h.55v.55h-.55zM168.3 668.1h.55v.55h-.55zM158.0 655.5h.55v.55h-.55zM148.7 656.8h.55v.55h-.55zM168.0 682.2h.55v.55h-.55zM171.1 641.6h.55v.55h-.55zM160.6 657.9h.55v.55h-.55zM158.4 658.7h.55v.55h-.55zM161.7 678.1h.55v.55h-.55zM171.0 656.0h.55v.55h-.55zM169.2 666.2h.55v.55h-.55zM173.2 664.9h.55v.55h-.55zM166.8 647.4h.55v.55h-.55zM158.8 660.0h.55v.55h-.55zM154.9 661.8h.55v.55h-.55zM162.6 654.7h.55v.55h-.55zM154.0 634.3h.55v.55h-.55zM174.6 651.6h.55v.55h-.55zM153.4 649.7h.55v.55h-.55zM162.9 659.1h.55v.55h-.55zM168.9 644.8h.55v.55h-.55zM164.0 666.7h.55v.55h-.55zM163.2 656.4h.55v.55h-.55zM176.7 648.4h.55v.55h-.55zM166.3 660.1h.55v.55h-.55zM167.5 672.0h.55v.55h-.55zM162.3 655.5h.55v.55h-.55zM160.8 669.4h.55v.55h-.55zM161.3 652.8h.55v.55h-.55zM164.3 664.5h.55v.55h-.55zM163.3 642.0h.55v.55h-.55zM170.6 659.5h.55v.55h-.55zM171.2 664.1h.55v.55h-.55zM164.9 649.3h.55v.55h-.55zM168.2 654.2h.55v.55h-.55zM166.7 665.4h.55v.55h-.55zM156.6 661.6h.55v.55h-.55zM157.9 650.6h.55v.55h-.55zM170.3 665.4h.55v.55h-.55zM163.3 642.1h.55v.55h-.55zM168.6 663.6h.55v.55h-.55zM166.9 662.3h.55v.55h-.55zM170.9 669.9h.55v.55h-.55zM167.4 660.9h.55v.55h-.55zM179.6 638.0h.55v.55h-.55zM165.6 666.1h.55v.55h-.55zM160.3 649.7h.55v.55h-.55zM169.4 651.8h.55v.55h-.55zM171.4 647.7h.55v.55h-.55zM147.3 664.2h.55v.55h-.55zM168.2 658.3h.55v.55h-.55zM157.3 651.8h.55v.55h-.55zM160.6 647.0h.55v.55h-.55zM168.5 655.9h.55v.55h-.55zM169.9 669.3h.55v.55h-.55zM167.9 666.6h.55v.55h-.55zM170.2 672.3h.55v.55h-.55zM156.8 666.7h.55v.55h-.55zM163.0 658.9h.55v.55h-.55zM167.3 651.7h.55v.55h-.55zM160.6 656.9h.55v.55h-.55zM157.4 666.3h.55v.55h-.55zM172.6 658.2h.55v.55h-.55zM157.8 648.1h.55v.55h-.55zM172.2 658.9h.55v.55h-.55zM173.5 641.6h.55v.55h-.55zM169.7 666.0h.55v.55h-.55zM152.4 667.6h.55v.55h-.55zM159.5 653.3h.55v.55h-.55zM162.4 662.9h.55v.55h-.55zM169.2 672.2h.55v.55h-.55zM163.5 664.5h.55v.55h-.55zM160.9 655.2h.55v.55h-.55zM164.2 661.8h.55v.55h-.55zM166.8 645.9h.55v.55h-.55zM169.8 674.6h.55v.55h-.55zM165.8 653.1h.55v.55h-.55zM160.5 636.0h.55v.55h-.55zM167.1 656.0h.55v.55h-.55zM163.8 646.4h.55v.55h-.55zM173.1 649.8h.55v.55h-.55zM158.0 670.1h.55v.55h-.55zM169.0 659.6h.55v.55h-.55zM163.9 642.9h.55v.55h-.55zM160.3 648.3h.55v.55h-.55zM182.4 657.5h.55v.55h-.55zM165.2 645.2h.55v.55h-.55zM157.2 666.9h.55v.55h-.55zM153.7 664.4h.55v.55h-.55zM154.9 660.3h.55v.55h-.55zM165.4 656.9h.55v.55h-.55zM167.6 652.7h.55v.55h-.55zM164.7 663.1h.55v.55h-.55zM158.9 658.8h.55v.55h-.55zM169.5 664.6h.55v.55h-.55zM164.6 656.1h.55v.55h-.55zM164.3 662.5h.55v.55h-.55zM164.3 656.5h.55v.55h-.55zM165.3 654.7h.55v.55h-.55zM165.8 672.1h.55v.55h-.55zM165.0 647.2h.55v.55h-.55zM173.2 671.2h.55v.55h-.55zM165.5 658.8h.55v.55h-.55zM162.6 657.7h.55v.55h-.55zM170.1 662.9h.55v.55h-.55zM169.0 661.0h.55v.55h-.55zM162.1 647.7h.55v.55h-.55zM161.9 665.1h.55v.55h-.55zM163.2 639.7h.55v.55h-.55zM167.4 649.7h.55v.55h-.55zM171.1 653.2h.55v.55h-.55zM170.9 658.5h.55v.55h-.55zM165.2 665.1h.55v.55h-.55zM159.9 665.2h.55v.55h-.55zM166.1 668.7h.55v.55h-.55zM170.4 681.8h.55v.55h-.55zM159.2 657.5h.55v.55h-.55zM159.6 663.3h.55v.55h-.55zM164.4 662.6h.55v.55h-.55zM163.2 674.4h.55v.55h-.55zM170.5 666.7h.55v.55h-.55zM163.4 653.2h.55v.55h-.55zM170.5 678.1h.55v.55h-.55zM160.1 660.1h.55v.55h-.55zM160.4 672.4h.55v.55h-.55zM159.1 634.9h.55v.55h-.55zM159.8 640.1h.55v.55h-.55zM159.3 666.9h.55v.55h-.55zM168.9 662.4h.55v.55h-.55zM170.1 639.3h.55v.55h-.55zM157.9 652.4h.55v.55h-.55zM165.8 657.2h.55v.55h-.55zM166.8 650.9h.55v.55h-.55zM185.8 663.5h.55v.55h-.55zM169.9 643.3h.55v.55h-.55zM171.6 668.0h.55v.55h-.55zM165.4 673.4h.55v.55h-.55zM173.6 650.9h.55v.55h-.55zM160.9 670.2h.55v.55h-.55zM164.2 663.5h.55v.55h-.55zM158.7 665.8h.55v.55h-.55zM161.3 661.1h.55v.55h-.55zM168.3 665.4h.55v.55h-.55zM155.4 654.7h.55v.55h-.55zM165.5 653.6h.55v.55h-.55zM165.3 660.8h.55v.55h-.55zM170.4 661.8h.55v.55h-.55zM156.6 664.2h.55v.55h-.55zM175.1 656.0h.55v.55h-.55zM161.6 655.2h.55v.55h-.55zM162.8 650.7h.55v.55h-.55zM166.0 652.9h.55v.55h-.55zM165.0 645.2h.55v.55h-.55zM155.6 666.9h.55v.55h-.55zM165.8 662.6h.55v.55h-.55zM164.3 650.8h.55v.55h-.55zM168.2 659.2h.55v.55h-.55zM170.6 644.2h.55v.55h-.55zM158.7 665.0h.55v.55h-.55zM175.7 667.3h.55v.55h-.55zM168.7 666.5h.55v.55h-.55zM167.3 671.0h.55v.55h-.55zM164.4 655.7h.55v.55h-.55zM176.6 656.6h.55v.55h-.55zM159.1 659.1h.55v.55h-.55zM154.1 648.4h.55v.55h-.55zM163.3 669.8h.55v.55h-.55zM167.4 649.7h.55v.55h-.55zM172.9 654.9h.55v.55h-.55zM162.5 649.3h.55v.55h-.55zM168.8 663.2h.55v.55h-.55zM171.7 656.5h.55v.55h-.55zM162.7 664.1h.55v.55h-.55zM163.2 636.6h.55v.55h-.55zM167.6 664.0h.55v.55h-.55zM163.2 671.2h.55v.55h-.55zM166.4 661.0h.55v.55h-.55zM171.8 655.3h.55v.55h-.55zM158.2 662.0h.55v.55h-.55zM165.1 669.7h.55v.55h-.55zM168.8 657.0h.55v.55h-.55zM165.0 647.3h.55v.55h-.55zM166.1 657.6h.55v.55h-.55zM160.2 642.3h.55v.55h-.55zM162.1 650.7h.55v.55h-.55zM159.9 655.8h.55v.55h-.55zM172.7 658.7h.55v.55h-.55zM168.3 667.0h.55v.55h-.55zM168.7 664.5h.55v.55h-.55zM162.1 653.5h.55v.55h-.55zM175.9 650.0h.55v.55h-.55zM152.8 666.6h.55v.55h-.55zM163.9 662.3h.55v.55h-.55zM161.5 664.3h.55v.55h-.55zM155.5 651.9h.55v.55h-.55zM160.4 641.1h.55v.55h-.55zM163.4 648.7h.55v.55h-.55zM168.5 660.0h.55v.55h-.55zM173.7 663.4h.55v.55h-.55zM172.0 653.4h.55v.55h-.55zM169.7 663.0h.55v.55h-.55zM163.6 666.6h.55v.55h-.55zM158.2 662.3h.55v.55h-.55zM163.0 671.3h.55v.55h-.55zM159.4 678.8h.55v.55h-.55zM157.4 666.1h.55v.55h-.55zM167.5 653.4h.55v.55h-.55zM168.3 668.3h.55v.55h-.55zM166.7 647.7h.55v.55h-.55zM158.5 676.4h.55v.55h-.55zM162.1 649.1h.55v.55h-.55zM149.8 659.8h.55v.55h-.55zM161.9 665.6h.55v.55h-.55zM170.3 655.4h.55v.55h-.55zM167.2 677.0h.55v.55h-.55zM167.2 665.5h.55v.55h-.55zM177.3 656.2h.55v.55h-.55zM165.8 676.2h.55v.55h-.55zM175.4 660.1h.55v.55h-.55zM167.0 665.7h.55v.55h-.55zM164.8 668.9h.55v.55h-.55zM174.4 653.8h.55v.55h-.55zM171.2 649.3h.55v.55h-.55zM163.0 656.8h.55v.55h-.55zM165.2 658.1h.55v.55h-.55zM170.2 664.3h.55v.55h-.55zM159.6 653.1h.55v.55h-.55zM159.4 660.4h.55v.55h-.55zM163.3 654.3h.55v.55h-.55zM167.7 659.8h.55v.55h-.55zM162.1 652.8h.55v.55h-.55zM173.1 667.2h.55v.55h-.55zM164.8 642.2h.55v.55h-.55zM159.7 665.4h.55v.55h-.55zM156.0 670.6h.55v.55h-.55zM161.6 643.0h.55v.55h-.55zM163.9 647.6h.55v.55h-.55zM163.0 648.2h.55v.55h-.55zM161.9 648.7h.55v.55h-.55zM164.8 662.7h.55v.55h-.55zM157.5 667.9h.55v.55h-.55zM168.5 663.7h.55v.55h-.55zM160.9 659.5h.55v.55h-.55zM165.7 666.8h.55v.55h-.55zM165.8 655.9h.55v.55h-.55zM162.2 649.4h.55v.55h-.55zM172.4 658.5h.55v.55h-.55zM153.8 649.9h.55v.55h-.55zM160.2 647.6h.55v.55h-.55zM173.2 652.4h.55v.55h-.55zM167.9 658.1h.55v.55h-.55zM164.9 649.9h.55v.55h-.55zM166.1 638.3h.55v.55h-.55zM156.7 669.3h.55v.55h-.55zM166.9 672.0h.55v.55h-.55zM161.4 659.1h.55v.55h-.55zM169.6 647.0h.55v.55h-.55zM174.4 661.8h.55v.55h-.55zM153.8 673.9h.55v.55h-.55zM162.1 646.9h.55v.55h-.55zM159.6 646.8h.55v.55h-.55zM155.7 651.1h.55v.55h-.55zM179.4 653.0h.55v.55h-.55zM166.8 666.8h.55v.55h-.55zM164.8 656.9h.55v.55h-.55zM153.7 652.7h.55v.55h-.55zM165.2 665.9h.55v.55h-.55zM167.8 655.5h.55v.55h-.55zM161.7 653.1h.55v.55h-.55zM159.7 653.7h.55v.55h-.55zM173.4 666.8h.55v.55h-.55zM167.2 664.8h.55v.55h-.55zM164.5 666.7h.55v.55h-.55zM167.2 675.5h.55v.55h-.55zM167.4 669.1h.55v.55h-.55zM151.2 664.6h.55v.55h-.55zM170.4 658.6h.55v.55h-.55zM157.7 652.8h.55v.55h-.55zM170.1 650.0h.55v.55h-.55zM166.1 665.1h.55v.55h-.55zM170.9 646.9h.55v.55h-.55zM162.5 656.4h.55v.55h-.55zM165.8 659.9h.55v.55h-.55zM162.6 659.1h.55v.55h-.55zM158.5 664.4h.55v.55h-.55zM165.4 667.7h.55v.55h-.55zM165.0 677.7h.55v.55h-.55zM172.5 669.4h.55v.55h-.55zM170.3 660.5h.55v.55h-.55zM170.7 662.0h.55v.55h-.55zM176.9 644.9h.55v.55h-.55zM178.0 665.3h.55v.55h-.55zM168.1 669.0h.55v.55h-.55zM175.5 672.6h.55v.55h-.55zM168.0 643.7h.55v.55h-.55zM162.6 653.8h.55v.55h-.55zM166.5 652.1h.55v.55h-.55zM165.1 671.5h.55v.55h-.55zM170.1 678.5h.55v.55h-.55zM167.0 654.4h.55v.55h-.55zM159.8 656.0h.55v.55h-.55zM166.1 662.6h.55v.55h-.55zM178.9 652.9h.55v.55h-.55zM166.1 655.6h.55v.55h-.55zM177.7 670.0h.55v.55h-.55zM168.5 654.1h.55v.55h-.55zM164.0 650.6h.55v.55h-.55zM162.9 669.4h.55v.55h-.55zM173.2 649.2h.55v.55h-.55zM169.7 661.2h.55v.55h-.55zM163.7 655.3h.55v.55h-.55zM163.2 674.2h.55v.55h-.55zM161.1 645.5h.55v.55h-.55zM163.4 667.0h.55v.55h-.55zM157.2 649.7h.55v.55h-.55zM158.4 667.4h.55v.55h-.55zM164.9 657.6h.55v.55h-.55zM164.8 673.9h.55v.55h-.55zM155.7 655.0h.55v.55h-.55zM165.8 648.2h.55v.55h-.55zM171.4 669.4h.55v.55h-.55zM156.3 652.0h.55v.55h-.55zM167.2 671.7h.55v.55h-.55zM153.5 648.2h.55v.55h-.55zM160.6 667.3h.55v.55h-.55zM162.0 662.1h.55v.55h-.55zM166.2 667.5h.55v.55h-.55zM169.1 656.2h.55v.55h-.55zM170.6 659.9h.55v.55h-.55zM167.0 656.4h.55v.55h-.55zM159.4 658.3h.55v.55h-.55zM156.6 650.2h.55v.55h-.55zM161.2 653.7h.55v.55h-.55zM162.9 666.3h.55v.55h-.55zM160.5 652.0h.55v.55h-.55zM167.3 647.5h.55v.55h-.55zM162.8 662.4h.55v.55h-.55zM152.4 664.1h.55v.55h-.55zM168.8 667.6h.55v.55h-.55zM162.0 669.5h.55v.55h-.55zM161.2 658.7h.55v.55h-.55zM165.9 661.5h.55v.55h-.55zM152.5 655.3h.55v.55h-.55zM157.6 661.3h.55v.55h-.55zM172.5 654.2h.55v.55h-.55zM171.6 658.9h.55v.55h-.55zM171.4 663.1h.55v.55h-.55zM161.9 670.2h.55v.55h-.55zM165.9 669.9h.55v.55h-.55zM162.6 649.4h.55v.55h-.55zM168.5 650.2h.55v.55h-.55zM165.0 670.6h.55v.55h-.55zM163.2 668.3h.55v.55h-.55zM172.2 656.9h.55v.55h-.55zM168.4 653.6h.55v.55h-.55zM158.9 654.6h.55v.55h-.55zM179.8 661.9h.55v.55h-.55zM164.9 646.7h.55v.55h-.55zM165.6 660.8h.55v.55h-.55zM157.4 664.1h.55v.55h-.55zM167.8 657.5h.55v.55h-.55zM163.9 644.9h.55v.55h-.55zM172.4 661.8h.55v.55h-.55zM166.9 656.7h.55v.55h-.55zM162.9 656.9h.55v.55h-.55zM165.6 657.4h.55v.55h-.55zM158.3 659.6h.55v.55h-.55zM177.5 666.2h.55v.55h-.55zM170.2 666.4h.55v.55h-.55zM158.6 658.4h.55v.55h-.55zM172.9 658.8h.55v.55h-.55zM165.1 649.6h.55v.55h-.55zM169.4 673.6h.55v.55h-.55zM167.6 639.3h.55v.55h-.55zM156.2 651.7h.55v.55h-.55zM148.7 691.9h.55v.55h-.55zM164.5 667.4h.55v.55h-.55zM169.7 659.5h.55v.55h-.55zM164.2 666.2h.55v.55h-.55zM165.6 656.5h.55v.55h-.55zM170.9 668.0h.55v.55h-.55zM164.4 651.7h.55v.55h-.55zM156.6 643.7h.55v.55h-.55zM161.8 659.8h.55v.55h-.55zM165.8 657.9h.55v.55h-.55zM157.3 670.3h.55v.55h-.55zM164.4 655.8h.55v.55h-.55zM161.5 645.2h.55v.55h-.55zM171.6 649.5h.55v.55h-.55zM159.7 649.8h.55v.55h-.55zM167.9 663.8h.55v.55h-.55zM162.5 650.1h.55v.55h-.55zM163.9 647.8h.55v.55h-.55zM168.8 648.8h.55v.55h-.55zM162.3 653.8h.55v.55h-.55zM171.9 656.6h.55v.55h-.55zM159.0 663.8h.55v.55h-.55zM166.2 657.3h.55v.55h-.55zM171.2 667.3h.55v.55h-.55zM164.0 673.6h.55v.55h-.55zM172.4 665.2h.55v.55h-.55zM163.3 679.7h.55v.55h-.55zM172.4 672.4h.55v.55h-.55zM173.3 655.5h.55v.55h-.55zM158.6 657.7h.55v.55h-.55zM177.8 648.0h.55v.55h-.55zM165.4 654.0h.55v.55h-.55zM158.8 656.5h.55v.55h-.55zM164.9 651.9h.55v.55h-.55zM157.9 636.5h.55v.55h-.55zM165.2 647.5h.55v.55h-.55zM161.0 664.1h.55v.55h-.55zM160.6 649.0h.55v.55h-.55zM171.4 664.9h.55v.55h-.55zM167.3 662.4h.55v.55h-.55zM159.8 667.2h.55v.55h-.55zM162.7 652.1h.55v.55h-.55zM158.5 636.0h.55v.55h-.55zM163.3 651.7h.55v.55h-.55zM159.9 645.6h.55v.55h-.55zM157.8 657.6h.55v.55h-.55zM162.5 674.6h.55v.55h-.55zM159.8 669.9h.55v.55h-.55zM165.4 656.4h.55v.55h-.55zM167.1 663.7h.55v.55h-.55zM160.1 677.0h.55v.55h-.55zM162.4 658.6h.55v.55h-.55zM169.3 650.4h.55v.55h-.55zM164.7 656.7h.55v.55h-.55zM158.2 667.9h.55v.55h-.55zM163.4 663.6h.55v.55h-.55zM163.8 648.6h.55v.55h-.55zM155.6 652.4h.55v.55h-.55zM161.6 673.9h.55v.55h-.55zM167.0 659.5h.55v.55h-.55zM167.8 666.6h.55v.55h-.55zM165.2 654.6h.55v.55h-.55zM163.6 657.6h.55v.55h-.55zM148.3 670.3h.55v.55h-.55zM185.0 659.2h.55v.55h-.55zM159.9 669.9h.55v.55h-.55zM169.4 638.2h.55v.55h-.55zM167.2 665.2h.55v.55h-.55zM176.6 658.3h.55v.55h-.55zM166.5 659.8h.55v.55h-.55zM170.8 673.2h.55v.55h-.55zM171.1 651.0h.55v.55h-.55zM160.1 640.9h.55v.55h-.55zM174.1 653.5h.55v.55h-.55zM168.3 658.3h.55v.55h-.55zM167.4 662.1h.55v.55h-.55zM161.8 662.6h.55v.55h-.55zM164.0 655.6h.55v.55h-.55zM161.4 659.3h.55v.55h-.55zM162.2 656.8h.55v.55h-.55zM165.2 673.4h.55v.55h-.55zM155.9 666.5h.55v.55h-.55zM158.5 682.1h.55v.55h-.55zM173.7 653.5h.55v.55h-.55zM163.3 656.5h.55v.55h-.55zM161.3 675.2h.55v.55h-.55zM165.5 658.8h.55v.55h-.55zM158.1 653.3h.55v.55h-.55zM169.8 659.6h.55v.55h-.55zM162.4 684.6h.55v.55h-.55zM176.7 656.4h.55v.55h-.55zM157.7 670.6h.55v.55h-.55zM167.7 650.4h.55v.55h-.55zM168.1 667.9h.55v.55h-.55zM167.5 664.5h.55v.55h-.55zM161.8 655.3h.55v.55h-.55zM157.6 648.1h.55v.55h-.55zM172.3 644.2h.55v.55h-.55zM158.7 655.4h.55v.55h-.55zM167.0 658.9h.55v.55h-.55zM159.0 652.3h.55v.55h-.55zM154.9 651.9h.55v.55h-.55zM159.5 654.0h.55v.55h-.55zM163.8 655.6h.55v.55h-.55zM155.9 665.9h.55v.55h-.55zM153.9 661.7h.55v.55h-.55zM175.7 661.2h.55v.55h-.55zM173.7 661.4h.55v.55h-.55zM176.3 660.5h.55v.55h-.55zM157.5 672.0h.55v.55h-.55zM155.8 644.3h.55v.55h-.55zM173.5 659.1h.55v.55h-.55zM161.3 651.4h.55v.55h-.55zM168.3 654.4h.55v.55h-.55zM162.2 655.3h.55v.55h-.55zM169.8 654.9h.55v.55h-.55zM169.0 653.7h.55v.55h-.55zM155.1 654.1h.55v.55h-.55zM173.5 663.4h.55v.55h-.55zM160.3 652.3h.55v.55h-.55zM168.6 639.3h.55v.55h-.55zM167.5 645.5h.55v.55h-.55zM159.9 649.3h.55v.55h-.55zM172.0 665.6h.55v.55h-.55zM157.7 663.8h.55v.55h-.55zM160.6 657.5h.55v.55h-.55zM164.5 651.5h.55v.55h-.55zM171.5 641.5h.55v.55h-.55zM170.9 669.3h.55v.55h-.55zM165.5 675.0h.55v.55h-.55zM156.1 661.7h.55v.55h-.55zM163.2 660.3h.55v.55h-.55zM165.2 649.2h.55v.55h-.55zM165.5 668.9h.55v.55h-.55zM164.6 647.7h.55v.55h-.55zM171.3 666.8h.55v.55h-.55zM164.3 656.1h.55v.55h-.55zM169.4 662.3h.55v.55h-.55zM159.4 655.5h.55v.55h-.55zM158.4 658.9h.55v.55h-.55zM160.4 668.2h.55v.55h-.55zM170.4 656.2h.55v.55h-.55zM164.7 670.3h.55v.55h-.55zM169.2 667.6h.55v.55h-.55zM161.9 675.2h.55v.55h-.55zM166.1 678.9h.55v.55h-.55zM167.4 659.9h.55v.55h-.55zM169.7 660.5h.55v.55h-.55zM159.4 658.6h.55v.55h-.55zM170.5 666.2h.55v.55h-.55zM174.2 648.3h.55v.55h-.55zM165.5 654.4h.55v.55h-.55zM156.3 664.1h.55v.55h-.55zM154.4 650.4h.55v.55h-.55zM168.5 656.2h.55v.55h-.55zM166.8 667.1h.55v.55h-.55zM158.9 670.3h.55v.55h-.55zM163.0 643.1h.55v.55h-.55zM169.1 652.4h.55v.55h-.55zM160.4 648.0h.55v.55h-.55zM175.3 646.2h.55v.55h-.55zM164.5 665.5h.55v.55h-.55zM158.9 673.6h.55v.55h-.55zM171.2 648.8h.55v.55h-.55zM168.2 654.7h.55v.55h-.55zM169.9 654.9h.55v.55h-.55zM166.4 639.6h.55v.55h-.55zM171.8 643.6h.55v.55h-.55zM162.4 665.6h.55v.55h-.55zM159.9 671.1h.55v.55h-.55zM172.6 640.5h.55v.55h-.55z" fill="#b0b0b0"/>
<ellipse cx="163" cy="657.3" rx="6.96" ry="13.6" fill="#b48ac8" fill-opacity="0.22"/>
<path d="M171.6 662.8h.6v.6h-.6zM155.4 648.5h.6v.6h-.6zM163.9 653.0h.6v.6h-.6zM169.1 663.8h.6v.6h-.6zM157.6 655.4h.6v.6h-.6zM170.2 651.4h.6v.6h-.6zM160.4 661.7h.6v.6h-.6zM161.9 662.4h.6v.6h-.6zM161.9 657.6h.6v.6h-.6zM171.0 654.6h.6v.6h-.6zM162.7 660.7h.6v.6h-.6zM162.6 669.3h.6v.6h-.6zM162.5 661.8h.6v.6h-.6zM159.6 661.4h.6v.6h-.6zM161.5 651.1h.6v.6h-.6zM161.5 658.5h.6v.6h-.6zM171.3 647.8h.6v.6h-.6zM160.3 645.6h.6v.6h-.6zM156.5 651.0h.6v.6h-.6zM164.0 657.9h.6v.6h-.6zM160.7 664.6h.6v.6h-.6zM170.8 649.8h.6v.6h-.6zM171.9 660.8h.6v.6h-.6zM163.9 667.3h.6v.6h-.6zM163.9 651.3h.6v.6h-.6zM164.8 656.4h.6v.6h-.6zM166.0 661.5h.6v.6h-.6zM160.7 672.3h.6v.6h-.6zM164.5 650.5h.6v.6h-.6zM155.7 662.0h.6v.6h-.6zM161.3 640.3h.6v.6h-.6zM157.4 635.1h.6v.6h-.6zM170.3 652.2h.6v.6h-.6zM162.1 665.3h.6v.6h-.6zM166.5 667.8h.6v.6h-.6zM165.4 649.9h.6v.6h-.6zM157.6 645.2h.6v.6h-.6zM161.3 667.7h.6v.6h-.6zM158.3 668.6h.6v.6h-.6zM161.7 658.8h.6v.6h-.6zM160.1 671.7h.6v.6h-.6zM162.2 668.3h.6v.6h-.6zM158.4 656.4h.6v.6h-.6zM158.0 663.7h.6v.6h-.6zM162.9 648.1h.6v.6h-.6zM162.5 664.8h.6v.6h-.6zM161.2 671.0h.6v.6h-.6zM160.0 646.1h.6v.6h-.6zM159.7 650.1h.6v.6h-.6zM157.2 654.0h.6v.6h-.6zM162.9 652.5h.6v.6h-.6zM165.9 676.1h.6v.6h-.6zM164.2 670.3h.6v.6h-.6zM167.4 655.2h.6v.6h-.6zM151.3 653.2h.6v.6h-.6zM164.9 660.9h.6v.6h-.6zM173.4 661.9h.6v.6h-.6zM162.2 662.5h.6v.6h-.6zM164.9 674.6h.6v.6h-.6zM166.6 649.4h.6v.6h-.6zM162.7 664.0h.6v.6h-.6zM159.9 645.9h.6v.6h-.6zM169.3 660.1h.6v.6h-.6zM161.9 652.7h.6v.6h-.6zM164.7 653.2h.6v.6h-.6zM165.5 648.8h.6v.6h-.6zM165.3 676.8h.6v.6h-.6zM161.6 660.1h.6v.6h-.6zM169.7 653.2h.6v.6h-.6zM167.2 674.7h.6v.6h-.6zM168.2 654.8h.6v.6h-.6zM161.8 667.1h.6v.6h-.6zM166.8 655.8h.6v.6h-.6zM162.4 664.4h.6v.6h-.6zM157.4 653.8h.6v.6h-.6zM166.1 660.4h.6v.6h-.6zM159.1 665.1h.6v.6h-.6zM155.9 675.6h.6v.6h-.6zM162.3 670.9h.6v.6h-.6zM155.4 663.6h.6v.6h-.6zM159.7 652.7h.6v.6h-.6zM160.2 659.0h.6v.6h-.6zM171.8 643.6h.6v.6h-.6zM161.6 664.0h.6v.6h-.6zM163.8 657.3h.6v.6h-.6zM151.4 676.3h.6v.6h-.6zM159.9 649.9h.6v.6h-.6zM166.5 655.4h.6v.6h-.6zM168.2 650.0h.6v.6h-.6zM167.7 638.9h.6v.6h-.6zM171.5 655.2h.6v.6h-.6zM164.0 664.2h.6v.6h-.6zM169.5 665.2h.6v.6h-.6zM158.4 675.3h.6v.6h-.6zM161.8 644.4h.6v.6h-.6zM161.0 666.5h.6v.6h-.6zM160.8 645.5h.6v.6h-.6zM165.0 646.3h.6v.6h-.6zM165.2 645.1h.6v.6h-.6zM168.4 648.8h.6v.6h-.6zM164.9 664.1h.6v.6h-.6zM170.1 659.2h.6v.6h-.6zM158.8 652.4h.6v.6h-.6zM161.7 640.6h.6v.6h-.6zM164.1 652.5h.6v.6h-.6zM168.4 647.5h.6v.6h-.6zM157.8 652.1h.6v.6h-.6zM161.1 663.3h.6v.6h-.6zM165.7 657.5h.6v.6h-.6zM161.8 635.8h.6v.6h-.6zM164.1 664.5h.6v.6h-.6zM159.9 653.3h.6v.6h-.6zM168.6 670.0h.6v.6h-.6zM160.9 661.3h.6v.6h-.6zM160.1 649.5h.6v.6h-.6zM164.3 655.1h.6v.6h-.6zM154.8 655.3h.6v.6h-.6zM167.8 659.3h.6v.6h-.6zM163.3 664.6h.6v.6h-.6zM163.5 668.9h.6v.6h-.6z" fill="#9a5aa8" fill-opacity="0.7"/>
<ellipse cx="162.5" cy="661.3" rx="5.04" ry="8.64" fill="#a862b0" fill-opacity="0.6"/>
<ellipse cx="162.5" cy="661.3" rx="4.13" ry="7.04" fill="#75508f" fill-opacity="0.9"/>
<ellipse cx="162.7" cy="661.3" rx="2.98" ry="5.44" fill="#4f5fa0"/>
<ellipse cx="162.8" cy="661.8" rx="1.73" ry="3.36" fill="#3aa8a0"/>
<line x1="154.5" y1="631.2" x2="154.5" y2="695" stroke="#6e6e6e" stroke-width="0.8"/>
<line x1="124.7" y1="669.4" x2="188.5" y2="669.4" stroke="#6e6e6e" stroke-width="0.8"/>
<text x="155.5" y="673.8" font-size="4.8" stroke="#1a1a1a" stroke-width="0.15" fill="#1a1a1a" textLength="10.8" lengthAdjust="spacingAndGlyphs">16.00%</text>
<text x="113.8" y="707.8" font-size="6.8" font-weight="bold" fill="#222">d</text>
<text x="118.8" y="707.8" font-size="6.8" fill="#333" textLength="75.5" lengthAdjust="spacingAndGlyphs">PLT+CTL+NC shRNA-MDSC(Dec)</text>
<rect x="217.3" y="631.2" width="63.8" height="63.8" fill="none" stroke="#8a8a8a" stroke-width="0.8"/>
<line x1="216.1" y1="631.7" x2="217.3" y2="631.7" stroke="#999" stroke-width="0.4"/>
<line x1="217.8" y1="695" x2="217.8" y2="696.2" stroke="#999" stroke-width="0.4"/>
<line x1="216.1" y1="637" x2="217.3" y2="637" stroke="#999" stroke-width="0.4"/>
<line x1="223.1" y1="695" x2="223.1" y2="696.2" stroke="#999" stroke-width="0.4"/>
<line x1="216.1" y1="642.3" x2="217.3" y2="642.3" stroke="#999" stroke-width="0.4"/>
<line x1="228.4" y1="695" x2="228.4" y2="696.2" stroke="#999" stroke-width="0.4"/>
<line x1="216.1" y1="647.6" x2="217.3" y2="647.6" stroke="#999" stroke-width="0.4"/>
<line x1="233.7" y1="695" x2="233.7" y2="696.2" stroke="#999" stroke-width="0.4"/>
<line x1="216.1" y1="652.9" x2="217.3" y2="652.9" stroke="#999" stroke-width="0.4"/>
<line x1="239" y1="695" x2="239" y2="696.2" stroke="#999" stroke-width="0.4"/>
<line x1="216.1" y1="658.2" x2="217.3" y2="658.2" stroke="#999" stroke-width="0.4"/>
<line x1="244.3" y1="695" x2="244.3" y2="696.2" stroke="#999" stroke-width="0.4"/>
<line x1="216.1" y1="663.5" x2="217.3" y2="663.5" stroke="#999" stroke-width="0.4"/>
<line x1="249.6" y1="695" x2="249.6" y2="696.2" stroke="#999" stroke-width="0.4"/>
<line x1="216.1" y1="668.8" x2="217.3" y2="668.8" stroke="#999" stroke-width="0.4"/>
<line x1="254.9" y1="695" x2="254.9" y2="696.2" stroke="#999" stroke-width="0.4"/>
<line x1="216.1" y1="674.1" x2="217.3" y2="674.1" stroke="#999" stroke-width="0.4"/>
<line x1="260.2" y1="695" x2="260.2" y2="696.2" stroke="#999" stroke-width="0.4"/>
<line x1="216.1" y1="679.4" x2="217.3" y2="679.4" stroke="#999" stroke-width="0.4"/>
<line x1="265.5" y1="695" x2="265.5" y2="696.2" stroke="#999" stroke-width="0.4"/>
<line x1="216.1" y1="684.7" x2="217.3" y2="684.7" stroke="#999" stroke-width="0.4"/>
<line x1="270.8" y1="695" x2="270.8" y2="696.2" stroke="#999" stroke-width="0.4"/>
<line x1="216.1" y1="690" x2="217.3" y2="690" stroke="#999" stroke-width="0.4"/>
<line x1="276.1" y1="695" x2="276.1" y2="696.2" stroke="#999" stroke-width="0.4"/>
<line x1="216.1" y1="695.3" x2="217.3" y2="695.3" stroke="#999" stroke-width="0.4"/>
<line x1="281.4" y1="695" x2="281.4" y2="696.2" stroke="#999" stroke-width="0.4"/>
<text x="215.7" y="633.5" font-size="4.6" text-anchor="end" fill="#777">10<tspan font-size="3.22" dy="-1.6">3</tspan></text>
<text x="215.7" y="649.6" font-size="4.6" text-anchor="end" fill="#777">10<tspan font-size="3.22" dy="-1.6">2</tspan></text>
<text x="215.7" y="665.7" font-size="4.6" text-anchor="end" fill="#777">10<tspan font-size="3.22" dy="-1.6">1</tspan></text>
<text x="215.7" y="681.8" font-size="4.6" text-anchor="end" fill="#777">10<tspan font-size="3.22" dy="-1.6">0</tspan></text>
<text x="233.9" y="701.2" font-size="4.6" text-anchor="middle" fill="#777">10<tspan font-size="3.22" dy="-1.6">0</tspan></text>
<text x="249.6" y="701.2" font-size="4.6" text-anchor="middle" fill="#777">10<tspan font-size="3.22" dy="-1.6">1</tspan></text>
<text x="265.3" y="701.2" font-size="4.6" text-anchor="middle" fill="#777">10<tspan font-size="3.22" dy="-1.6">2</tspan></text>
<text x="281" y="701.2" font-size="4.6" text-anchor="middle" fill="#777">10<tspan font-size="3.22" dy="-1.6">3</tspan></text>
<path d="M264.8 655.0h.55v.55h-.55zM264.7 646.4h.55v.55h-.55zM253.2 653.5h.55v.55h-.55zM258.7 647.9h.55v.55h-.55zM262.6 661.7h.55v.55h-.55zM263.7 663.8h.55v.55h-.55zM268.0 661.6h.55v.55h-.55zM260.5 655.0h.55v.55h-.55zM264.8 661.0h.55v.55h-.55zM253.4 668.6h.55v.55h-.55zM254.6 661.2h.55v.55h-.55zM262.1 654.2h.55v.55h-.55zM254.8 666.9h.55v.55h-.55zM265.7 657.7h.55v.55h-.55zM253.3 659.6h.55v.55h-.55zM256.4 661.6h.55v.55h-.55zM256.0 654.5h.55v.55h-.55zM254.3 677.3h.55v.55h-.55zM263.0 658.3h.55v.55h-.55zM260.8 679.3h.55v.55h-.55zM256.3 644.3h.55v.55h-.55zM261.9 647.6h.55v.55h-.55zM254.9 659.1h.55v.55h-.55zM246.6 662.2h.55v.55h-.55zM264.7 655.6h.55v.55h-.55zM245.8 658.1h.55v.55h-.55zM265.0 656.9h.55v.55h-.55zM253.3 654.6h.55v.55h-.55zM260.6 641.6h.55v.55h-.55zM262.6 654.0h.55v.55h-.55zM253.1 659.6h.55v.55h-.55zM256.4 658.8h.55v.55h-.55zM267.0 669.0h.55v.55h-.55zM253.2 662.9h.55v.55h-.55zM268.4 652.7h.55v.55h-.55zM264.1 652.0h.55v.55h-.55zM262.4 665.6h.55v.55h-.55zM254.8 658.1h.55v.55h-.55zM265.6 642.0h.55v.55h-.55zM253.7 668.8h.55v.55h-.55zM265.3 674.2h.55v.55h-.55zM263.3 650.8h.55v.55h-.55zM271.0 667.9h.55v.55h-.55zM260.7 654.3h.55v.55h-.55zM267.9 668.7h.55v.55h-.55zM258.9 664.2h.55v.55h-.55zM262.9 663.5h.55v.55h-.55zM268.3 651.7h.55v.55h-.55zM260.1 659.2h.55v.55h-.55zM266.2 673.2h.55v.55h-.55zM256.0 659.8h.55v.55h-.55zM251.1 658.5h.55v.55h-.55zM264.2 671.7h.55v.55h-.55zM261.1 664.9h.55v.55h-.55zM254.5 659.6h.55v.55h-.55zM263.0 663.3h.55v.55h-.55zM260.8 660.1h.55v.55h-.55zM260.8 652.5h.55v.55h-.55zM246.9 648.2h.55v.55h-.55zM259.0 661.7h.55v.55h-.55zM255.9 664.1h.55v.55h-.55zM255.4 674.8h.55v.55h-.55zM266.3 666.8h.55v.55h-.55zM264.1 661.0h.55v.55h-.55zM247.2 655.5h.55v.55h-.55zM260.7 663.8h.55v.55h-.55zM259.3 664.7h.55v.55h-.55zM267.2 650.6h.55v.55h-.55zM255.6 655.7h.55v.55h-.55zM266.8 661.1h.55v.55h-.55zM253.9 660.0h.55v.55h-.55zM265.4 650.3h.55v.55h-.55zM265.0 669.5h.55v.55h-.55zM271.8 680.0h.55v.55h-.55zM263.1 662.4h.55v.55h-.55zM257.1 662.5h.55v.55h-.55zM258.6 654.6h.55v.55h-.55zM262.7 663.2h.55v.55h-.55zM253.3 648.8h.55v.55h-.55zM252.0 668.4h.55v.55h-.55zM261.7 661.8h.55v.55h-.55zM268.0 657.4h.55v.55h-.55zM252.8 665.7h.55v.55h-.55zM258.1 644.3h.55v.55h-.55zM260.0 674.0h.55v.55h-.55zM261.7 660.1h.55v.55h-.55zM253.0 661.1h.55v.55h-.55zM256.6 647.1h.55v.55h-.55zM259.0 657.4h.55v.55h-.55zM268.7 639.4h.55v.55h-.55zM247.0 653.5h.55v.55h-.55zM267.4 643.4h.55v.55h-.55zM254.7 665.5h.55v.55h-.55zM265.0 659.0h.55v.55h-.55zM253.4 650.6h.55v.55h-.55zM274.6 658.1h.55v.55h-.55zM255.7 651.6h.55v.55h-.55zM259.7 645.0h.55v.55h-.55zM259.3 668.2h.55v.55h-.55zM247.8 646.7h.55v.55h-.55zM264.9 666.5h.55v.55h-.55zM268.2 687.2h.55v.55h-.55zM254.5 654.3h.55v.55h-.55zM253.2 671.3h.55v.55h-.55zM252.9 665.6h.55v.55h-.55zM251.1 672.2h.55v.55h-.55zM258.9 660.5h.55v.55h-.55zM271.7 654.0h.55v.55h-.55zM259.5 651.7h.55v.55h-.55zM268.0 654.8h.55v.55h-.55zM251.9 642.6h.55v.55h-.55zM243.3 660.4h.55v.55h-.55zM260.7 661.3h.55v.55h-.55zM263.7 656.3h.55v.55h-.55zM257.3 661.0h.55v.55h-.55zM258.2 654.7h.55v.55h-.55zM260.7 655.8h.55v.55h-.55zM269.6 656.8h.55v.55h-.55zM268.2 660.2h.55v.55h-.55zM251.9 658.7h.55v.55h-.55zM251.1 650.0h.55v.55h-.55zM259.7 671.2h.55v.55h-.55zM254.2 659.1h.55v.55h-.55zM261.5 653.0h.55v.55h-.55zM263.6 664.9h.55v.55h-.55zM259.3 651.9h.55v.55h-.55zM253.9 666.7h.55v.55h-.55zM253.1 661.8h.55v.55h-.55zM258.4 650.0h.55v.55h-.55zM265.8 658.7h.55v.55h-.55zM247.1 665.5h.55v.55h-.55zM258.1 643.7h.55v.55h-.55zM266.5 645.6h.55v.55h-.55zM259.3 661.5h.55v.55h-.55zM262.6 658.6h.55v.55h-.55zM257.6 663.4h.55v.55h-.55zM260.5 654.5h.55v.55h-.55zM257.6 654.1h.55v.55h-.55zM254.8 662.3h.55v.55h-.55zM256.2 660.2h.55v.55h-.55zM250.4 649.6h.55v.55h-.55zM267.3 657.7h.55v.55h-.55zM252.7 667.8h.55v.55h-.55zM262.4 655.3h.55v.55h-.55zM262.6 648.9h.55v.55h-.55zM252.5 649.6h.55v.55h-.55zM257.6 657.7h.55v.55h-.55zM260.0 647.9h.55v.55h-.55zM268.6 651.7h.55v.55h-.55zM254.4 665.2h.55v.55h-.55zM251.2 643.7h.55v.55h-.55zM254.2 657.4h.55v.55h-.55zM255.2 650.9h.55v.55h-.55zM263.8 676.5h.55v.55h-.55zM260.9 642.0h.55v.55h-.55zM254.1 663.6h.55v.55h-.55zM256.0 661.9h.55v.55h-.55zM257.8 651.5h.55v.55h-.55zM243.6 655.7h.55v.55h-.55zM259.0 667.1h.55v.55h-.55zM262.6 654.1h.55v.55h-.55zM253.5 655.3h.55v.55h-.55zM265.6 650.9h.55v.55h-.55zM269.3 641.4h.55v.55h-.55zM256.5 680.0h.55v.55h-.55zM258.6 670.8h.55v.55h-.55zM256.2 665.9h.55v.55h-.55zM251.8 651.2h.55v.55h-.55zM249.0 661.7h.55v.55h-.55zM256.4 654.1h.55v.55h-.55zM259.1 655.8h.55v.55h-.55zM260.9 648.6h.55v.55h-.55zM252.9 643.0h.55v.55h-.55zM269.4 672.4h.55v.55h-.55zM263.7 657.6h.55v.55h-.55zM255.5 655.8h.55v.55h-.55zM260.2 657.4h.55v.55h-.55zM257.3 653.3h.55v.55h-.55zM253.7 667.5h.55v.55h-.55zM251.9 651.4h.55v.55h-.55zM256.0 670.2h.55v.55h-.55zM255.4 660.9h.55v.55h-.55zM268.1 669.5h.55v.55h-.55zM255.8 645.2h.55v.55h-.55zM261.4 661.1h.55v.55h-.55zM255.6 650.9h.55v.55h-.55zM263.9 666.2h.55v.55h-.55zM255.0 680.4h.55v.55h-.55zM262.0 657.5h.55v.55h-.55zM266.4 650.6h.55v.55h-.55zM258.1 646.8h.55v.55h-.55zM253.1 659.9h.55v.55h-.55zM261.3 652.7h.55v.55h-.55zM259.2 661.2h.55v.55h-.55zM268.0 669.3h.55v.55h-.55zM252.6 655.4h.55v.55h-.55zM253.1 653.9h.55v.55h-.55zM250.6 655.3h.55v.55h-.55zM271.5 650.8h.55v.55h-.55zM264.0 651.9h.55v.55h-.55zM256.5 675.4h.55v.55h-.55zM263.2 654.1h.55v.55h-.55zM264.6 662.5h.55v.55h-.55zM268.4 652.1h.55v.55h-.55zM261.5 661.6h.55v.55h-.55zM265.0 638.8h.55v.55h-.55zM258.1 641.2h.55v.55h-.55zM263.7 647.7h.55v.55h-.55zM267.8 647.0h.55v.55h-.55zM261.6 654.5h.55v.55h-.55zM253.9 656.5h.55v.55h-.55zM256.4 654.8h.55v.55h-.55zM252.2 643.4h.55v.55h-.55zM262.6 664.8h.55v.55h-.55zM260.7 666.4h.55v.55h-.55zM265.8 675.6h.55v.55h-.55zM257.2 660.3h.55v.55h-.55zM260.4 668.7h.55v.55h-.55zM270.5 661.1h.55v.55h-.55zM262.4 656.3h.55v.55h-.55zM257.8 669.7h.55v.55h-.55zM255.4 677.5h.55v.55h-.55zM264.8 658.9h.55v.55h-.55zM247.6 660.5h.55v.55h-.55zM254.2 675.7h.55v.55h-.55zM248.3 662.2h.55v.55h-.55zM261.5 669.3h.55v.55h-.55zM256.7 661.6h.55v.55h-.55zM266.5 661.4h.55v.55h-.55zM253.5 659.2h.55v.55h-.55zM261.9 653.6h.55v.55h-.55zM261.1 654.8h.55v.55h-.55zM257.5 649.5h.55v.55h-.55zM256.8 662.1h.55v.55h-.55zM259.9 659.4h.55v.55h-.55zM252.2 662.6h.55v.55h-.55zM267.2 660.5h.55v.55h-.55zM249.6 668.6h.55v.55h-.55zM268.3 663.8h.55v.55h-.55zM264.8 669.6h.55v.55h-.55zM253.8 644.9h.55v.55h-.55zM257.3 662.8h.55v.55h-.55zM259.9 667.8h.55v.55h-.55zM256.1 667.6h.55v.55h-.55zM255.9 675.3h.55v.55h-.55zM271.5 669.4h.55v.55h-.55zM251.2 661.7h.55v.55h-.55zM257.4 674.9h.55v.55h-.55zM258.2 663.8h.55v.55h-.55zM260.1 651.3h.55v.55h-.55zM265.6 651.0h.55v.55h-.55zM263.9 668.8h.55v.55h-.55zM253.9 660.2h.55v.55h-.55zM256.1 652.5h.55v.55h-.55zM262.6 666.1h.55v.55h-.55zM270.0 662.0h.55v.55h-.55zM250.9 663.5h.55v.55h-.55zM264.2 669.2h.55v.55h-.55zM259.5 667.4h.55v.55h-.55zM264.3 655.8h.55v.55h-.55zM263.4 663.2h.55v.55h-.55zM259.8 663.7h.55v.55h-.55zM251.4 644.3h.55v.55h-.55zM261.4 658.8h.55v.55h-.55zM254.1 668.0h.55v.55h-.55zM261.5 647.7h.55v.55h-.55zM257.0 654.6h.55v.55h-.55zM260.0 669.4h.55v.55h-.55zM257.2 666.4h.55v.55h-.55zM255.9 661.2h.55v.55h-.55zM267.2 651.8h.55v.55h-.55zM252.7 656.1h.55v.55h-.55zM257.7 665.3h.55v.55h-.55zM265.2 665.3h.55v.55h-.55zM268.4 655.0h.55v.55h-.55zM259.6 663.7h.55v.55h-.55zM262.7 675.1h.55v.55h-.55zM266.5 651.1h.55v.55h-.55zM249.4 649.4h.55v.55h-.55zM250.0 644.9h.55v.55h-.55zM253.8 643.8h.55v.55h-.55zM252.3 655.3h.55v.55h-.55zM261.0 667.3h.55v.55h-.55zM251.3 650.0h.55v.55h-.55zM264.7 647.9h.55v.55h-.55zM257.5 654.6h.55v.55h-.55zM257.5 656.3h.55v.55h-.55zM246.0 656.5h.55v.55h-.55zM256.0 679.1h.55v.55h-.55zM261.0 663.1h.55v.55h-.55zM264.0 670.0h.55v.55h-.55zM263.6 675.2h.55v.55h-.55zM264.5 652.1h.55v.55h-.55zM254.6 659.7h.55v.55h-.55zM246.5 661.5h.55v.55h-.55zM248.1 661.6h.55v.55h-.55zM258.2 674.2h.55v.55h-.55zM254.4 637.2h.55v.55h-.55zM253.0 647.9h.55v.55h-.55zM264.3 660.8h.55v.55h-.55zM254.9 655.1h.55v.55h-.55zM262.9 659.6h.55v.55h-.55zM260.5 650.0h.55v.55h-.55zM253.6 667.6h.55v.55h-.55zM264.3 669.6h.55v.55h-.55zM252.3 647.3h.55v.55h-.55zM263.9 670.6h.55v.55h-.55zM257.7 661.7h.55v.55h-.55zM266.6 648.7h.55v.55h-.55zM254.6 654.9h.55v.55h-.55zM257.5 663.5h.55v.55h-.55zM267.9 657.4h.55v.55h-.55zM255.7 653.5h.55v.55h-.55zM267.8 663.8h.55v.55h-.55zM248.5 642.4h.55v.55h-.55zM264.2 671.7h.55v.55h-.55zM260.1 668.3h.55v.55h-.55zM267.2 650.4h.55v.55h-.55zM258.8 657.7h.55v.55h-.55zM259.7 660.3h.55v.55h-.55zM261.3 653.9h.55v.55h-.55zM256.4 650.0h.55v.55h-.55zM259.0 662.4h.55v.55h-.55zM259.0 666.6h.55v.55h-.55zM263.3 655.7h.55v.55h-.55zM256.7 670.9h.55v.55h-.55zM252.3 653.7h.55v.55h-.55zM258.6 658.7h.55v.55h-.55zM262.0 643.0h.55v.55h-.55zM258.9 652.0h.55v.55h-.55zM259.0 651.2h.55v.55h-.55zM259.0 666.3h.55v.55h-.55zM266.5 663.5h.55v.55h-.55zM255.5 663.4h.55v.55h-.55zM263.0 662.1h.55v.55h-.55zM264.6 664.7h.55v.55h-.55zM250.8 650.4h.55v.55h-.55zM256.6 665.4h.55v.55h-.55zM267.7 655.2h.55v.55h-.55zM262.3 661.0h.55v.55h-.55zM261.7 655.5h.55v.55h-.55zM262.7 659.0h.55v.55h-.55zM252.4 659.7h.55v.55h-.55zM258.0 661.3h.55v.55h-.55zM261.7 668.6h.55v.55h-.55zM264.7 661.8h.55v.55h-.55zM266.1 663.3h.55v.55h-.55zM255.8 648.0h.55v.55h-.55zM261.0 670.8h.55v.55h-.55zM252.8 660.1h.55v.55h-.55zM259.3 655.7h.55v.55h-.55zM250.9 664.4h.55v.55h-.55zM264.6 676.6h.55v.55h-.55zM262.5 656.9h.55v.55h-.55zM266.1 655.0h.55v.55h-.55zM258.1 668.2h.55v.55h-.55zM264.9 644.3h.55v.55h-.55zM252.9 684.5h.55v.55h-.55zM264.2 655.0h.55v.55h-.55zM263.5 651.9h.55v.55h-.55zM259.4 655.1h.55v.55h-.55zM258.4 651.1h.55v.55h-.55zM259.0 670.4h.55v.55h-.55zM252.4 654.5h.55v.55h-.55zM264.6 647.9h.55v.55h-.55zM259.2 651.7h.55v.55h-.55zM255.8 659.8h.55v.55h-.55zM258.5 647.8h.55v.55h-.55zM256.6 655.1h.55v.55h-.55zM261.4 662.9h.55v.55h-.55zM265.8 660.4h.55v.55h-.55zM270.7 643.8h.55v.55h-.55zM258.0 662.6h.55v.55h-.55zM256.0 662.0h.55v.55h-.55zM267.5 672.9h.55v.55h-.55zM265.8 663.7h.55v.55h-.55zM254.9 665.2h.55v.55h-.55zM266.4 659.8h.55v.55h-.55zM258.7 660.3h.55v.55h-.55zM261.9 656.4h.55v.55h-.55zM251.7 652.1h.55v.55h-.55zM244.9 645.0h.55v.55h-.55zM257.6 663.4h.55v.55h-.55zM251.8 653.0h.55v.55h-.55zM251.4 670.7h.55v.55h-.55zM266.8 654.9h.55v.55h-.55zM257.6 665.6h.55v.55h-.55zM261.4 679.5h.55v.55h-.55zM265.6 661.1h.55v.55h-.55zM254.6 666.6h.55v.55h-.55zM254.4 641.3h.55v.55h-.55zM271.7 652.0h.55v.55h-.55zM255.3 670.1h.55v.55h-.55zM259.3 657.1h.55v.55h-.55zM262.8 662.1h.55v.55h-.55zM252.6 655.2h.55v.55h-.55zM257.3 653.3h.55v.55h-.55zM261.2 663.2h.55v.55h-.55zM264.2 662.9h.55v.55h-.55zM263.7 669.9h.55v.55h-.55zM256.9 654.9h.55v.55h-.55zM257.7 657.4h.55v.55h-.55zM244.5 665.7h.55v.55h-.55zM268.2 650.4h.55v.55h-.55zM269.2 653.2h.55v.55h-.55zM257.4 664.2h.55v.55h-.55zM268.7 663.5h.55v.55h-.55zM256.1 669.2h.55v.55h-.55zM252.7 648.0h.55v.55h-.55zM265.9 661.5h.55v.55h-.55zM256.1 661.5h.55v.55h-.55zM259.8 664.6h.55v.55h-.55zM263.3 655.3h.55v.55h-.55zM246.2 640.2h.55v.55h-.55zM258.9 655.6h.55v.55h-.55zM259.1 660.1h.55v.55h-.55zM258.9 656.6h.55v.55h-.55zM264.4 656.7h.55v.55h-.55zM256.4 653.5h.55v.55h-.55zM267.2 646.1h.55v.55h-.55zM263.6 657.3h.55v.55h-.55zM251.2 684.5h.55v.55h-.55zM260.2 653.5h.55v.55h-.55zM263.0 653.2h.55v.55h-.55zM254.3 655.4h.55v.55h-.55zM263.2 665.0h.55v.55h-.55zM255.7 649.8h.55v.55h-.55zM262.0 652.4h.55v.55h-.55zM259.0 652.3h.55v.55h-.55zM252.0 667.7h.55v.55h-.55zM250.9 660.7h.55v.55h-.55zM257.8 645.5h.55v.55h-.55zM253.8 643.3h.55v.55h-.55zM257.5 658.9h.55v.55h-.55zM260.8 668.1h.55v.55h-.55zM256.8 661.8h.55v.55h-.55zM248.7 653.7h.55v.55h-.55zM249.7 670.2h.55v.55h-.55zM256.1 663.5h.55v.55h-.55zM258.0 650.3h.55v.55h-.55zM264.8 655.7h.55v.55h-.55zM255.4 668.7h.55v.55h-.55zM250.3 646.9h.55v.55h-.55zM259.5 647.2h.55v.55h-.55zM260.8 671.5h.55v.55h-.55zM256.5 651.4h.55v.55h-.55zM260.9 658.9h.55v.55h-.55zM259.2 663.7h.55v.55h-.55zM256.3 657.5h.55v.55h-.55zM260.4 661.0h.55v.55h-.55zM258.7 667.0h.55v.55h-.55zM258.3 657.9h.55v.55h-.55zM262.5 649.0h.55v.55h-.55zM250.5 657.0h.55v.55h-.55zM254.7 634.4h.55v.55h-.55zM258.7 655.4h.55v.55h-.55zM259.5 666.8h.55v.55h-.55zM270.4 660.5h.55v.55h-.55zM265.8 653.9h.55v.55h-.55zM259.4 655.6h.55v.55h-.55zM258.9 661.4h.55v.55h-.55zM264.2 647.8h.55v.55h-.55zM259.4 640.4h.55v.55h-.55zM254.6 657.7h.55v.55h-.55zM268.6 660.2h.55v.55h-.55zM263.6 661.9h.55v.55h-.55zM256.8 644.5h.55v.55h-.55zM262.4 673.1h.55v.55h-.55zM263.9 664.4h.55v.55h-.55zM259.9 658.9h.55v.55h-.55zM259.0 670.5h.55v.55h-.55zM256.9 652.4h.55v.55h-.55zM260.1 640.8h.55v.55h-.55zM259.1 654.7h.55v.55h-.55zM255.6 643.4h.55v.55h-.55zM257.8 672.7h.55v.55h-.55zM264.7 666.2h.55v.55h-.55zM264.4 650.9h.55v.55h-.55zM265.4 664.4h.55v.55h-.55zM254.2 655.7h.55v.55h-.55zM262.9 652.8h.55v.55h-.55zM270.5 648.3h.55v.55h-.55zM252.1 667.6h.55v.55h-.55zM254.3 645.4h.55v.55h-.55zM261.1 653.2h.55v.55h-.55zM270.1 657.9h.55v.55h-.55zM263.3 649.7h.55v.55h-.55zM255.3 639.7h.55v.55h-.55zM268.0 658.1h.55v.55h-.55zM259.5 641.1h.55v.55h-.55zM257.5 652.8h.55v.55h-.55zM258.1 655.5h.55v.55h-.55zM254.6 655.3h.55v.55h-.55zM252.9 655.8h.55v.55h-.55zM267.0 655.1h.55v.55h-.55zM242.2 650.9h.55v.55h-.55zM267.3 663.7h.55v.55h-.55zM265.0 658.5h.55v.55h-.55zM267.4 657.6h.55v.55h-.55zM259.1 655.0h.55v.55h-.55zM256.4 655.2h.55v.55h-.55zM255.9 653.3h.55v.55h-.55zM263.1 653.9h.55v.55h-.55zM245.2 651.4h.55v.55h-.55zM258.5 662.9h.55v.55h-.55zM254.4 644.3h.55v.55h-.55zM257.5 661.6h.55v.55h-.55zM254.1 667.1h.55v.55h-.55zM256.9 669.1h.55v.55h-.55zM255.2 657.1h.55v.55h-.55zM266.7 660.0h.55v.55h-.55zM251.5 661.4h.55v.55h-.55zM262.3 658.2h.55v.55h-.55zM258.9 638.8h.55v.55h-.55zM260.2 663.8h.55v.55h-.55zM259.5 660.1h.55v.55h-.55zM247.0 662.2h.55v.55h-.55zM259.0 647.4h.55v.55h-.55zM263.1 662.9h.55v.55h-.55zM273.2 656.8h.55v.55h-.55zM254.2 656.9h.55v.55h-.55zM264.5 651.3h.55v.55h-.55zM268.6 653.6h.55v.55h-.55zM266.6 648.7h.55v.55h-.55zM261.2 673.0h.55v.55h-.55zM257.8 660.0h.55v.55h-.55zM266.0 672.8h.55v.55h-.55zM264.5 664.4h.55v.55h-.55zM264.0 650.2h.55v.55h-.55zM251.3 657.6h.55v.55h-.55zM261.2 666.0h.55v.55h-.55zM260.7 658.6h.55v.55h-.55zM254.2 657.5h.55v.55h-.55zM253.1 660.0h.55v.55h-.55zM256.4 668.9h.55v.55h-.55zM272.1 665.4h.55v.55h-.55zM250.4 680.6h.55v.55h-.55zM245.1 645.2h.55v.55h-.55zM269.0 664.9h.55v.55h-.55zM255.5 674.3h.55v.55h-.55zM260.4 665.5h.55v.55h-.55zM264.2 663.9h.55v.55h-.55zM254.0 684.0h.55v.55h-.55zM256.7 682.3h.55v.55h-.55zM260.2 658.9h.55v.55h-.55zM252.9 657.9h.55v.55h-.55zM264.0 645.2h.55v.55h-.55zM254.9 681.8h.55v.55h-.55zM260.8 644.1h.55v.55h-.55zM266.8 666.9h.55v.55h-.55zM260.7 660.9h.55v.55h-.55zM255.8 650.4h.55v.55h-.55zM266.3 652.9h.55v.55h-.55zM254.5 668.9h.55v.55h-.55zM265.0 652.0h.55v.55h-.55zM260.5 670.2h.55v.55h-.55zM263.1 659.2h.55v.55h-.55zM257.8 645.6h.55v.55h-.55zM264.2 676.0h.55v.55h-.55zM262.2 670.4h.55v.55h-.55zM259.8 662.8h.55v.55h-.55zM257.5 671.9h.55v.55h-.55zM248.8 644.9h.55v.55h-.55zM267.9 655.9h.55v.55h-.55zM260.0 672.5h.55v.55h-.55zM257.6 651.2h.55v.55h-.55zM247.6 641.1h.55v.55h-.55zM263.3 657.4h.55v.55h-.55zM253.1 677.3h.55v.55h-.55zM259.7 670.0h.55v.55h-.55zM255.6 650.2h.55v.55h-.55zM264.7 655.7h.55v.55h-.55zM257.9 659.5h.55v.55h-.55zM259.1 667.8h.55v.55h-.55zM264.6 656.3h.55v.55h-.55zM254.2 662.3h.55v.55h-.55zM252.0 652.1h.55v.55h-.55zM260.6 673.8h.55v.55h-.55zM265.8 642.1h.55v.55h-.55zM253.8 680.5h.55v.55h-.55zM260.1 665.3h.55v.55h-.55zM258.5 665.3h.55v.55h-.55zM267.9 666.1h.55v.55h-.55zM255.0 660.3h.55v.55h-.55zM261.1 666.0h.55v.55h-.55zM260.9 650.3h.55v.55h-.55zM243.8 659.7h.55v.55h-.55zM260.7 650.5h.55v.55h-.55zM242.7 652.8h.55v.55h-.55zM250.8 650.4h.55v.55h-.55zM268.1 644.6h.55v.55h-.55zM256.5 660.8h.55v.55h-.55zM255.7 656.0h.55v.55h-.55zM266.7 653.6h.55v.55h-.55zM258.4 643.6h.55v.55h-.55zM267.3 669.5h.55v.55h-.55zM254.3 674.2h.55v.55h-.55zM248.3 653.8h.55v.55h-.55zM250.0 643.8h.55v.55h-.55zM262.6 660.8h.55v.55h-.55zM250.3 644.3h.55v.55h-.55zM259.1 658.3h.55v.55h-.55zM262.6 646.6h.55v.55h-.55zM241.2 664.2h.55v.55h-.55zM259.5 664.6h.55v.55h-.55zM262.2 651.0h.55v.55h-.55zM253.1 666.9h.55v.55h-.55zM253.9 658.7h.55v.55h-.55zM267.7 664.4h.55v.55h-.55zM260.1 665.9h.55v.55h-.55zM258.2 657.9h.55v.55h-.55zM258.4 655.8h.55v.55h-.55zM267.4 670.0h.55v.55h-.55zM256.1 678.5h.55v.55h-.55zM256.5 660.9h.55v.55h-.55zM262.1 658.3h.55v.55h-.55zM258.6 649.3h.55v.55h-.55zM259.3 662.2h.55v.55h-.55zM253.4 658.6h.55v.55h-.55zM256.2 653.3h.55v.55h-.55zM252.1 654.2h.55v.55h-.55zM257.2 664.6h.55v.55h-.55zM270.1 654.9h.55v.55h-.55zM266.9 671.3h.55v.55h-.55zM256.1 648.6h.55v.55h-.55zM256.9 655.9h.55v.55h-.55zM251.7 663.4h.55v.55h-.55zM273.4 669.4h.55v.55h-.55zM262.5 654.2h.55v.55h-.55zM250.2 671.4h.55v.55h-.55zM262.1 665.2h.55v.55h-.55zM261.6 664.0h.55v.55h-.55zM261.2 655.0h.55v.55h-.55zM271.5 656.7h.55v.55h-.55zM268.1 668.0h.55v.55h-.55zM265.8 642.3h.55v.55h-.55zM256.9 649.5h.55v.55h-.55zM246.7 673.1h.55v.55h-.55zM261.6 659.0h.55v.55h-.55zM269.6 664.2h.55v.55h-.55zM251.9 659.9h.55v.55h-.55zM263.8 670.9h.55v.55h-.55zM261.0 657.4h.55v.55h-.55zM252.7 658.0h.55v.55h-.55zM260.2 658.2h.55v.55h-.55zM256.3 659.1h.55v.55h-.55zM259.3 634.3h.55v.55h-.55zM262.9 663.0h.55v.55h-.55zM261.4 655.6h.55v.55h-.55zM250.9 661.7h.55v.55h-.55zM261.3 686.2h.55v.55h-.55zM256.0 667.5h.55v.55h-.55zM253.6 675.7h.55v.55h-.55zM270.9 651.1h.55v.55h-.55zM260.8 653.5h.55v.55h-.55zM258.9 662.1h.55v.55h-.55zM261.8 673.9h.55v.55h-.55zM258.1 643.7h.55v.55h-.55zM270.7 666.1h.55v.55h-.55zM252.0 659.1h.55v.55h-.55zM254.3 670.1h.55v.55h-.55zM261.2 669.5h.55v.55h-.55zM257.9 668.1h.55v.55h-.55zM260.4 653.2h.55v.55h-.55zM248.0 649.0h.55v.55h-.55zM244.7 666.2h.55v.55h-.55zM261.4 653.8h.55v.55h-.55zM259.0 663.6h.55v.55h-.55zM260.5 652.0h.55v.55h-.55zM258.1 649.8h.55v.55h-.55zM257.3 659.1h.55v.55h-.55zM258.3 655.0h.55v.55h-.55zM257.5 678.5h.55v.55h-.55zM263.0 656.6h.55v.55h-.55zM271.6 670.8h.55v.55h-.55zM255.9 654.4h.55v.55h-.55zM257.9 650.9h.55v.55h-.55zM261.4 667.0h.55v.55h-.55zM258.5 666.6h.55v.55h-.55zM266.7 662.5h.55v.55h-.55zM267.1 657.2h.55v.55h-.55zM258.4 660.2h.55v.55h-.55zM265.5 657.3h.55v.55h-.55zM250.4 657.9h.55v.55h-.55zM250.2 663.5h.55v.55h-.55zM257.0 649.0h.55v.55h-.55zM258.6 656.7h.55v.55h-.55zM269.0 651.7h.55v.55h-.55zM269.4 661.3h.55v.55h-.55zM265.3 650.3h.55v.55h-.55zM268.3 665.6h.55v.55h-.55zM260.0 648.6h.55v.55h-.55zM260.6 654.7h.55v.55h-.55zM253.5 647.6h.55v.55h-.55zM251.1 662.9h.55v.55h-.55zM252.4 668.7h.55v.55h-.55zM260.5 655.0h.55v.55h-.55zM262.1 659.8h.55v.55h-.55zM262.4 669.8h.55v.55h-.55z" fill="#b0b0b0"/>
<ellipse cx="256.7" cy="658" rx="6.67" ry="12.92" fill="#b48ac8" fill-opacity="0.22"/>
<path d="M245.6 664.1h.6v.6h-.6zM258.4 641.6h.6v.6h-.6zM255.4 649.2h.6v.6h-.6zM254.7 658.7h.6v.6h-.6zM258.7 642.9h.6v.6h-.6zM258.7 668.5h.6v.6h-.6zM258.1 667.0h.6v.6h-.6zM253.8 651.0h.6v.6h-.6zM257.2 665.8h.6v.6h-.6zM255.2 643.5h.6v.6h-.6zM262.7 646.1h.6v.6h-.6zM256.6 645.1h.6v.6h-.6zM258.0 655.7h.6v.6h-.6zM248.9 656.1h.6v.6h-.6zM260.8 653.3h.6v.6h-.6zM255.3 649.2h.6v.6h-.6zM257.9 654.7h.6v.6h-.6zM259.5 660.6h.6v.6h-.6zM258.7 656.8h.6v.6h-.6zM253.1 668.1h.6v.6h-.6zM258.4 675.5h.6v.6h-.6zM263.2 666.6h.6v.6h-.6zM254.9 678.0h.6v.6h-.6zM251.9 661.4h.6v.6h-.6zM260.0 667.3h.6v.6h-.6zM250.6 660.2h.6v.6h-.6zM254.2 650.8h.6v.6h-.6zM254.7 681.7h.6v.6h-.6zM252.3 662.0h.6v.6h-.6zM256.5 649.5h.6v.6h-.6zM256.6 667.4h.6v.6h-.6zM256.3 677.0h.6v.6h-.6zM261.5 659.1h.6v.6h-.6zM255.0 638.4h.6v.6h-.6zM260.7 653.5h.6v.6h-.6zM263.6 664.0h.6v.6h-.6zM255.2 656.4h.6v.6h-.6zM260.6 663.8h.6v.6h-.6zM251.7 649.2h.6v.6h-.6zM254.3 666.4h.6v.6h-.6zM261.6 662.5h.6v.6h-.6zM253.4 671.4h.6v.6h-.6zM246.5 651.9h.6v.6h-.6zM251.7 658.8h.6v.6h-.6zM255.0 658.0h.6v.6h-.6zM253.5 650.7h.6v.6h-.6zM248.5 651.7h.6v.6h-.6zM251.1 664.7h.6v.6h-.6zM255.7 664.5h.6v.6h-.6zM259.3 665.5h.6v.6h-.6zM259.2 676.4h.6v.6h-.6zM257.8 658.1h.6v.6h-.6zM251.2 661.9h.6v.6h-.6zM251.9 660.1h.6v.6h-.6zM260.7 653.1h.6v.6h-.6zM256.8 655.7h.6v.6h-.6zM259.9 676.9h.6v.6h-.6zM257.8 663.1h.6v.6h-.6zM254.1 675.4h.6v.6h-.6zM264.3 662.9h.6v.6h-.6zM252.1 636.8h.6v.6h-.6zM256.2 660.6h.6v.6h-.6zM256.6 655.4h.6v.6h-.6zM262.2 641.2h.6v.6h-.6zM256.8 655.4h.6v.6h-.6zM257.4 650.0h.6v.6h-.6zM259.6 667.0h.6v.6h-.6zM256.0 663.8h.6v.6h-.6zM250.4 659.0h.6v.6h-.6zM263.6 657.2h.6v.6h-.6zM256.7 661.4h.6v.6h-.6zM261.6 652.0h.6v.6h-.6zM251.6 644.5h.6v.6h-.6zM261.4 644.9h.6v.6h-.6zM252.9 648.9h.6v.6h-.6zM257.9 662.3h.6v.6h-.6zM249.2 652.0h.6v.6h-.6zM260.4 668.8h.6v.6h-.6zM254.9 651.6h.6v.6h-.6zM254.8 662.6h.6v.6h-.6zM251.3 654.4h.6v.6h-.6zM252.8 656.2h.6v.6h-.6zM260.2 660.1h.6v.6h-.6zM263.1 661.4h.6v.6h-.6zM262.1 676.8h.6v.6h-.6zM245.0 673.5h.6v.6h-.6zM252.7 657.4h.6v.6h-.6zM255.0 664.2h.6v.6h-.6zM252.3 639.7h.6v.6h-.6zM256.3 673.7h.6v.6h-.6zM259.7 669.9h.6v.6h-.6zM258.9 671.9h.6v.6h-.6zM248.6 655.0h.6v.6h-.6zM260.2 666.1h.6v.6h-.6zM253.7 652.3h.6v.6h-.6zM256.1 650.8h.6v.6h-.6zM250.0 648.2h.6v.6h-.6zM255.8 659.2h.6v.6h-.6zM251.6 644.5h.6v.6h-.6zM263.7 654.4h.6v.6h-.6zM259.6 666.8h.6v.6h-.6zM253.6 669.9h.6v.6h-.6zM250.9 658.9h.6v.6h-.6zM256.9 662.6h.6v.6h-.6zM254.2 664.4h.6v.6h-.6zM256.0 662.3h.6v.6h-.6zM258.2 652.6h.6v.6h-.6zM253.4 655.2h.6v.6h-.6zM256.1 659.3h.6v.6h-.6zM244.1 663.9h.6v.6h-.6zM251.2 667.5h.6v.6h-.6zM245.9 647.2h.6v.6h-.6zM264.0 678.4h.6v.6h-.6zM250.5 672.0h.6v.6h-.6zM254.7 664.1h.6v.6h-.6zM261.2 657.2h.6v.6h-.6zM262.4 663.8h.6v.6h-.6zM253.0 646.0h.6v.6h-.6zM253.1 655.2h.6v.6h-.6zM256.8 665.6h.6v.6h-.6z" fill="#9a5aa8" fill-opacity="0.7"/>
<ellipse cx="256.2" cy="662" rx="4.83" ry="8.21" fill="#a862b0" fill-opacity="0.6"/>
<ellipse cx="256.2" cy="662" rx="3.96" ry="6.69" fill="#75508f" fill-opacity="0.9"/>
<ellipse cx="256.4" cy="662" rx="2.85" ry="5.17" fill="#4f5fa0"/>
<ellipse cx="256.5" cy="662.5" rx="1.66" ry="3.19" fill="#3aa8a0"/>
<line x1="247.1" y1="631.2" x2="247.1" y2="695" stroke="#6e6e6e" stroke-width="0.8"/>
<line x1="217.3" y1="669.4" x2="281.1" y2="669.4" stroke="#6e6e6e" stroke-width="0.8"/>
<text x="248.1" y="673.8" font-size="4.8" stroke="#1a1a1a" stroke-width="0.15" fill="#1a1a1a" textLength="10.8" lengthAdjust="spacingAndGlyphs">16.96%</text>
<text x="207" y="707.8" font-size="6.8" font-weight="bold" fill="#222">f</text>
<text x="212" y="707.8" font-size="6.8" fill="#333" textLength="79.8" lengthAdjust="spacingAndGlyphs">PLT+CTL+LKB1 shRNA-MDSC(Dec)</text>
<text x="328.4" y="554.3" font-size="11.2" font-weight="bold" fill="#111">J</text>
<line x1="357.9" y1="585.6" x2="357.9" y2="685.2" stroke="#222" stroke-width="1.25"/>
<line x1="357.4" y1="684.7" x2="499.2" y2="684.7" stroke="#222" stroke-width="1.25"/>
<line x1="354.1" y1="684.7" x2="357.9" y2="684.7" stroke="#222" stroke-width="1"/>
<text x="352.4" y="687.52" font-size="8" text-anchor="end" textLength="4.98" lengthAdjust="spacingAndGlyphs">0</text>
<line x1="354.1" y1="664.96" x2="357.9" y2="664.96" stroke="#222" stroke-width="1"/>
<text x="352.4" y="667.78" font-size="8" text-anchor="end" textLength="4.98" lengthAdjust="spacingAndGlyphs">5</text>
<line x1="354.1" y1="645.22" x2="357.9" y2="645.22" stroke="#222" stroke-width="1"/>
<text x="352.4" y="648.04" font-size="8" text-anchor="end" textLength="9.97" lengthAdjust="spacingAndGlyphs">10</text>
<line x1="354.1" y1="625.48" x2="357.9" y2="625.48" stroke="#222" stroke-width="1"/>
<text x="352.4" y="628.3" font-size="8" text-anchor="end" textLength="9.97" lengthAdjust="spacingAndGlyphs">15</text>
<line x1="354.1" y1="605.74" x2="357.9" y2="605.74" stroke="#222" stroke-width="1"/>
<text x="352.4" y="608.56" font-size="8" text-anchor="end" textLength="9.97" lengthAdjust="spacingAndGlyphs">20</text>
<line x1="354.1" y1="586" x2="357.9" y2="586" stroke="#222" stroke-width="1"/>
<text x="352.4" y="588.82" font-size="8" text-anchor="end" textLength="9.97" lengthAdjust="spacingAndGlyphs">25</text>
<line x1="373" y1="684.7" x2="373" y2="687.7" stroke="#222" stroke-width="1"/>
<text x="373" y="698.8" font-size="8.6" text-anchor="middle">a</text>
<line x1="395.2" y1="684.7" x2="395.2" y2="687.7" stroke="#222" stroke-width="1"/>
<text x="395.2" y="698.8" font-size="8.6" text-anchor="middle">b</text>
<line x1="417.8" y1="684.7" x2="417.8" y2="687.7" stroke="#222" stroke-width="1"/>
<text x="417.8" y="698.8" font-size="8.6" text-anchor="middle">c</text>
<line x1="440.2" y1="684.7" x2="440.2" y2="687.7" stroke="#222" stroke-width="1"/>
<text x="440.2" y="698.8" font-size="8.6" text-anchor="middle">d</text>
<line x1="462.7" y1="684.7" x2="462.7" y2="687.7" stroke="#222" stroke-width="1"/>
<text x="462.7" y="698.8" font-size="8.6" text-anchor="middle">e</text>
<line x1="485.2" y1="684.7" x2="485.2" y2="687.7" stroke="#222" stroke-width="1"/>
<text x="485.2" y="698.8" font-size="8.6" text-anchor="middle">f</text>
<text transform="translate(336 634.15) rotate(-90)" font-size="9.6" stroke="#2a2a2a" stroke-width="0.22" text-anchor="middle" textLength="79.2" lengthAdjust="spacingAndGlyphs">PLT apoptosis (%) in ITP</text>
<line x1="366" y1="652.5" x2="380" y2="652.5" stroke="#1f4f8f" stroke-width="1"/>
<line x1="373" y1="646.5" x2="373" y2="658" stroke="#1f4f8f" stroke-width="1"/>
<line x1="370" y1="646.5" x2="376" y2="646.5" stroke="#1f4f8f" stroke-width="1"/>
<line x1="370" y1="658" x2="376" y2="658" stroke="#1f4f8f" stroke-width="1"/>
<line x1="388.2" y1="608.8" x2="402.2" y2="608.8" stroke="#b01030" stroke-width="1"/>
<line x1="395.2" y1="600.5" x2="395.2" y2="617" stroke="#b01030" stroke-width="1"/>
<line x1="392.2" y1="600.5" x2="398.2" y2="600.5" stroke="#b01030" stroke-width="1"/>
<line x1="392.2" y1="617" x2="398.2" y2="617" stroke="#b01030" stroke-width="1"/>
<line x1="410.8" y1="629.8" x2="424.8" y2="629.8" stroke="#3fae3f" stroke-width="1"/>
<line x1="417.8" y1="622" x2="417.8" y2="637.5" stroke="#3fae3f" stroke-width="1"/>
<line x1="414.8" y1="622" x2="420.8" y2="622" stroke="#3fae3f" stroke-width="1"/>
<line x1="414.8" y1="637.5" x2="420.8" y2="637.5" stroke="#3fae3f" stroke-width="1"/>
<line x1="433.2" y1="641.5" x2="447.2" y2="641.5" stroke="#4a2366" stroke-width="1"/>
<line x1="440.2" y1="632" x2="440.2" y2="650" stroke="#4a2366" stroke-width="1"/>
<line x1="437.2" y1="632" x2="443.2" y2="632" stroke="#4a2366" stroke-width="1"/>
<line x1="437.2" y1="650" x2="443.2" y2="650" stroke="#4a2366" stroke-width="1"/>
<line x1="455.7" y1="615.6" x2="469.7" y2="615.6" stroke="#f08c1e" stroke-width="1"/>
<line x1="462.7" y1="607.9" x2="462.7" y2="623" stroke="#f08c1e" stroke-width="1"/>
<line x1="459.7" y1="607.9" x2="465.7" y2="607.9" stroke="#f08c1e" stroke-width="1"/>
<line x1="459.7" y1="623" x2="465.7" y2="623" stroke="#f08c1e" stroke-width="1"/>
<line x1="478.2" y1="616.2" x2="492.2" y2="616.2" stroke="#3a9be0" stroke-width="1"/>
<line x1="485.2" y1="608.8" x2="485.2" y2="623.5" stroke="#3a9be0" stroke-width="1"/>
<line x1="482.2" y1="608.8" x2="488.2" y2="608.8" stroke="#3a9be0" stroke-width="1"/>
<line x1="482.2" y1="623.5" x2="488.2" y2="623.5" stroke="#3a9be0" stroke-width="1"/>
<circle cx="370.8" cy="646.8" r="1.85" fill="#1f4f8f"/>
<circle cx="375" cy="647.3" r="1.85" fill="#1f4f8f"/>
<circle cx="378.4" cy="645.5" r="1.85" fill="#1f4f8f"/>
<circle cx="370.8" cy="651.2" r="1.85" fill="#1f4f8f"/>
<circle cx="378.4" cy="651.2" r="1.85" fill="#1f4f8f"/>
<circle cx="370.8" cy="657" r="1.85" fill="#1f4f8f"/>
<circle cx="374.6" cy="657" r="1.85" fill="#1f4f8f"/>
<circle cx="372.6" cy="662" r="1.85" fill="#1f4f8f"/>
<rect x="393.6" y="592.1" width="3.4" height="3.4" fill="#b01030"/>
<rect x="388.3" y="602.3" width="3.4" height="3.4" fill="#b01030"/>
<rect x="393.6" y="598.8" width="3.4" height="3.4" fill="#b01030"/>
<rect x="399.3" y="602.3" width="3.4" height="3.4" fill="#b01030"/>
<rect x="387.8" y="608.8" width="3.4" height="3.4" fill="#b01030"/>
<rect x="399.3" y="608.8" width="3.4" height="3.4" fill="#b01030"/>
<rect x="393.6" y="614.8" width="3.4" height="3.4" fill="#b01030"/>
<rect x="393.6" y="620.8" width="3.4" height="3.4" fill="#b01030"/>
<path d="M417.6 617.2L419.8 621.23L415.4 621.23Z" fill="#3fae3f"/>
<path d="M412.5 620.7L414.7 624.73L410.3 624.73Z" fill="#3fae3f"/>
<path d="M422.5 620.7L424.7 624.73L420.3 624.73Z" fill="#3fae3f"/>
<path d="M417.6 623.7L419.8 627.73L415.4 627.73Z" fill="#3fae3f"/>
<path d="M412.5 628.7L414.7 632.73L410.3 632.73Z" fill="#3fae3f"/>
<path d="M422.5 628.7L424.7 632.73L420.3 632.73Z" fill="#3fae3f"/>
<path d="M417.6 633.2L419.8 637.23L415.4 637.23Z" fill="#3fae3f"/>
<path d="M417.6 640.7L419.8 644.73L415.4 644.73Z" fill="#3fae3f"/>
<path d="M440.2 620.3L442.24 622.7L440.2 625.11L438.16 622.7Z" fill="#4a2366"/>
<path d="M440.8 633.8L442.84 636.2L440.8 638.61L438.76 636.2Z" fill="#4a2366"/>
<path d="M435 638.2L437.04 640.6L435 643L432.96 640.6Z" fill="#4a2366"/>
<path d="M445.4 635.3L447.44 637.7L445.4 640.11L443.36 637.7Z" fill="#4a2366"/>
<path d="M438.3 643.89L440.34 646.3L438.3 648.7L436.26 646.3Z" fill="#4a2366"/>
<path d="M443 643L445.04 645.4L443 647.8L440.96 645.4Z" fill="#4a2366"/>
<path d="M437.7 650.3L439.74 652.7L437.7 655.11L435.66 652.7Z" fill="#4a2366"/>
<path d="M443 648.8L445.04 651.2L443 653.61L440.96 651.2Z" fill="#4a2366"/>
<line x1="462.7" y1="600.1" x2="462.7" y2="603.3" stroke="#f08c1e" stroke-width="0.9"/>
<line x1="461.31" y1="600.9" x2="464.09" y2="602.5" stroke="#f08c1e" stroke-width="0.9"/>
<line x1="461.31" y1="602.5" x2="464.09" y2="600.9" stroke="#f08c1e" stroke-width="0.9"/>
<line x1="456.5" y1="614" x2="456.5" y2="617.2" stroke="#f08c1e" stroke-width="0.9"/>
<line x1="455.11" y1="614.8" x2="457.89" y2="616.4" stroke="#f08c1e" stroke-width="0.9"/>
<line x1="455.11" y1="616.4" x2="457.89" y2="614.8" stroke="#f08c1e" stroke-width="0.9"/>
<line x1="460.8" y1="614" x2="460.8" y2="617.2" stroke="#f08c1e" stroke-width="0.9"/>
<line x1="459.41" y1="614.8" x2="462.19" y2="616.4" stroke="#f08c1e" stroke-width="0.9"/>
<line x1="459.41" y1="616.4" x2="462.19" y2="614.8" stroke="#f08c1e" stroke-width="0.9"/>
<line x1="468" y1="612.6" x2="468" y2="615.8" stroke="#f08c1e" stroke-width="0.9"/>
<line x1="466.61" y1="613.4" x2="469.39" y2="615" stroke="#f08c1e" stroke-width="0.9"/>
<line x1="466.61" y1="615" x2="469.39" y2="613.4" stroke="#f08c1e" stroke-width="0.9"/>
<line x1="468" y1="616.4" x2="468" y2="619.6" stroke="#f08c1e" stroke-width="0.9"/>
<line x1="466.61" y1="617.2" x2="469.39" y2="618.8" stroke="#f08c1e" stroke-width="0.9"/>
<line x1="466.61" y1="618.8" x2="469.39" y2="617.2" stroke="#f08c1e" stroke-width="0.9"/>
<line x1="465.8" y1="621.1" x2="465.8" y2="624.3" stroke="#f08c1e" stroke-width="0.9"/>
<line x1="464.41" y1="621.9" x2="467.19" y2="623.5" stroke="#f08c1e" stroke-width="0.9"/>
<line x1="464.41" y1="623.5" x2="467.19" y2="621.9" stroke="#f08c1e" stroke-width="0.9"/>
<line x1="460" y1="624.9" x2="460" y2="628.1" stroke="#f08c1e" stroke-width="0.9"/>
<line x1="458.61" y1="625.7" x2="461.39" y2="627.3" stroke="#f08c1e" stroke-width="0.9"/>
<line x1="458.61" y1="627.3" x2="461.39" y2="625.7" stroke="#f08c1e" stroke-width="0.9"/>
<circle cx="462.7" cy="601.7" r="0.8" fill="#f08c1e"/>
<circle cx="456.5" cy="615.6" r="0.8" fill="#f08c1e"/>
<circle cx="460.8" cy="615.6" r="0.8" fill="#f08c1e"/>
<circle cx="468" cy="614.2" r="0.8" fill="#f08c1e"/>
<circle cx="468" cy="618" r="0.8" fill="#f08c1e"/>
<circle cx="465.8" cy="622.7" r="0.8" fill="#f08c1e"/>
<circle cx="460" cy="626.5" r="0.8" fill="#f08c1e"/>
<circle cx="485.4" cy="601.7" r="1.65" fill="none" stroke="#3a9be0" stroke-width="0.8"/>
<path d="M485.4 611.98L487.49 608.16L483.31 608.16Z" fill="#3a9be0"/>
<circle cx="479.6" cy="616.2" r="1.65" fill="none" stroke="#3a9be0" stroke-width="0.8"/>
<circle cx="482.5" cy="616" r="1.65" fill="none" stroke="#3a9be0" stroke-width="0.8"/>
<circle cx="487.3" cy="616" r="1.65" fill="none" stroke="#3a9be0" stroke-width="0.8"/>
<circle cx="490.8" cy="616.2" r="1.65" fill="none" stroke="#3a9be0" stroke-width="0.8"/>
<path d="M485.4 621.12L487.49 624.94L483.31 624.94Z" fill="#3a9be0"/>
<circle cx="485.4" cy="629" r="1.65" fill="none" stroke="#3a9be0" stroke-width="0.8"/>
<text x="417.75" y="556.82" font-size="9" text-anchor="middle" letter-spacing="0.5">****</text>
<line x1="394.5" y1="555.9" x2="441.3" y2="555.9" stroke="#333" stroke-width="1.1"/>
<text x="440.25" y="570.22" font-size="9" text-anchor="middle" letter-spacing="0.5">**</text>
<line x1="417.5" y1="569.3" x2="462.5" y2="569.3" stroke="#333" stroke-width="1.1"/>
<text x="429.55" y="582.82" font-size="9" text-anchor="middle" letter-spacing="0.5">***</text>
<line x1="417.5" y1="582" x2="441.3" y2="582" stroke="#333" stroke-width="1.1"/>
<text x="475" y="578.83" font-size="8.4" text-anchor="middle">ns</text>
<line x1="463" y1="582" x2="487" y2="582" stroke="#333" stroke-width="1.1"/>
</svg>
</body></html>
